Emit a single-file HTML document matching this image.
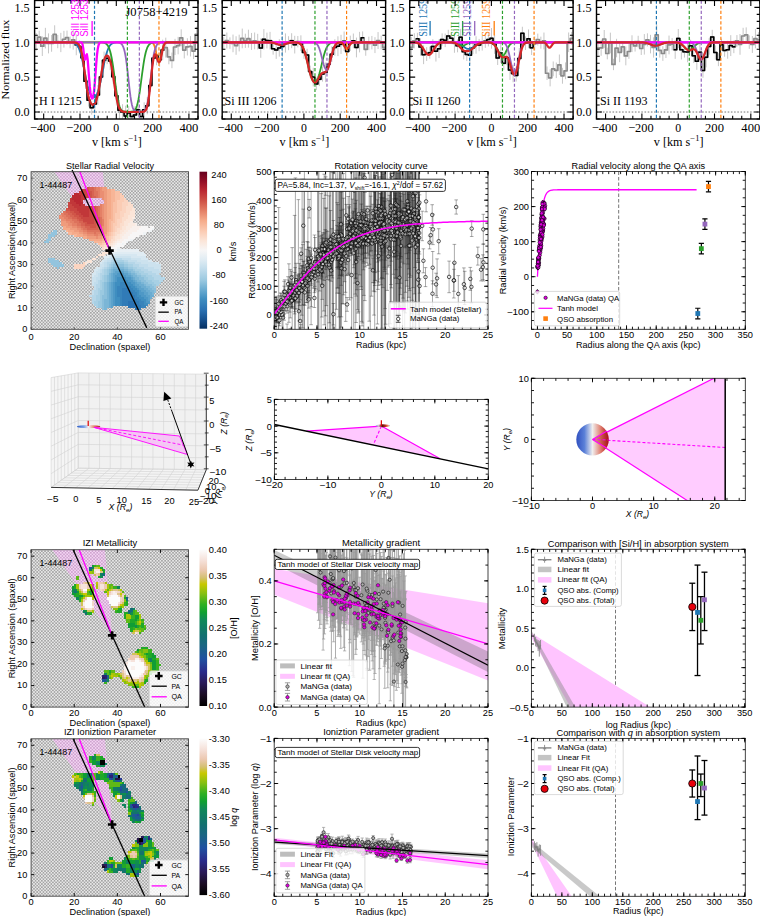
<!DOCTYPE html><html><head><meta charset="utf-8"><style>html,body{margin:0;padding:0;background:#fff;overflow:hidden;}svg{display:block;}</style></head><body>
<svg width="760" height="916" viewBox="0 0 760 916" font-family='"Liberation Sans", sans-serif'>
<rect width="760" height="916" fill="#fff"/>
<clipPath id="c1_1"><rect x="34.6" y="0.45" width="163.4" height="118.55"/></clipPath>
<g clip-path="url(#c1_1)">
<path d="M36.14 33.04V50.75M39.23 30.69V43.44M42.32 36.41V55.97M45.4 27.85V48.43M48.49 33.38V53.37M51.58 35.03V51.74M54.66 25.28V43.41M57.75 35.02V48.24M60.83 32.83V52.11M63.92 30.86V47.62M67.01 30.61V44.55M70.09 36.53V48.31M73.18 30.13V49.63M76.27 34.42V55.24M79.35 40.45V52.47M82.44 48.22V67.19M85.53 73.65V88.81M88.61 93.94V106.57M91.7 100.62V114.65M94.79 94.69V113.35M97.87 85.11V104.79M100.96 71.12V82.71M104.05 51.61V68.76M107.13 52.56V64.15M110.22 52.03V70.21M113.3 69.5V83.89M116.39 85.86V105.62M119.48 99.92V120.65M122.56 104.22V120.31M125.65 105.67V126.57M128.74 105.95V120.13M131.82 110.64V122.55M134.91 106.48V123.49M138 103.98V115.44M141.08 110.05V123.13M144.17 102.3V117.44M147.26 97.17V114.29M150.34 79.25V91.94M153.43 52.41V63.99M156.51 45.65V65.28M159.6 52.67V66.89M162.69 39.65V60.17M165.77 37.67V57.58M168.86 49.41V64.25M171.95 52.56V68.21M175.03 38.86V55.09M178.12 36.86V54.3M181.21 29.33V46.31M184.29 41.8V58.42M187.38 38.26V55.47M190.47 36.11V56.45M193.55 42.99V59.1M196.64 26.65V42.02" stroke="#b8b8b8" stroke-width="0.8" fill="none"/>
<path d="M34.6 41.89 L37.69 41.89 L37.69 37.06 L40.77 37.06 L40.77 46.19 L43.86 46.19 L43.86 38.14 L46.95 38.14 L46.95 43.38 L50.03 43.38 L50.03 43.39 L53.12 43.39 L53.12 34.34 L56.21 34.34 L56.21 41.63 L59.29 41.63 L59.29 42.47 L62.38 42.47 L62.38 39.24 L65.46 39.24 L65.46 37.58 L68.55 37.58 L68.55 42.42 L71.64 42.42 L71.64 39.88 L74.72 39.88 L74.72 44.83 L77.81 44.83 L77.81 46.46 L80.9 46.46 L80.9 57.7 L83.98 57.7 L83.98 81.23 L87.07 81.23 L87.07 100.26 L90.16 100.26 L90.16 107.63 L93.24 107.63 L93.24 104.02 L96.33 104.02 L96.33 94.95 L99.42 94.95 L99.42 76.92 L102.5 76.92 L102.5 60.18 L105.59 60.18 L105.59 58.36 L108.67 58.36 L108.67 61.12 L111.76 61.12 L111.76 76.69 L114.85 76.69 L114.85 95.74 L117.93 95.74 L117.93 110.28 L121.02 110.28 L121.02 112.27 L124.11 112.27 L124.11 116.12 L127.19 116.12 L127.19 113.04 L130.28 113.04 L130.28 116.6 L133.37 116.6 L133.37 114.98 L136.45 114.98 L136.45 109.71 L139.54 109.71 L139.54 116.59 L142.63 116.59 L142.63 109.87 L145.71 109.87 L145.71 105.73 L148.8 105.73 L148.8 85.59 L151.88 85.59 L151.88 58.2 L154.97 58.2 L154.97 55.46 L158.06 55.46 L158.06 59.78 L161.14 59.78 L161.14 49.91 L164.23 49.91 L164.23 47.63 L167.32 47.63 L167.32 56.83 L170.4 56.83 L170.4 60.39 L173.49 60.39 L173.49 46.98 L176.58 46.98 L176.58 45.58 L179.66 45.58 L179.66 37.82 L182.75 37.82 L182.75 50.11 L185.84 50.11 L185.84 46.87 L188.92 46.87 L188.92 46.28 L192.01 46.28 L192.01 51.05 L195.1 51.05 L195.1 34.33 L198.18 34.33" fill="none" stroke="#8a8a8a" stroke-width="1.7" stroke-linejoin="round" stroke-linejoin="miter"/>
<path d="M74.72 44.83 L77.81 44.83 L77.81 46.46 L80.9 46.46 L80.9 57.7 L83.98 57.7 L83.98 81.23 L87.07 81.23 L87.07 100.26 L90.16 100.26 L90.16 107.63 L93.24 107.63 L93.24 104.02 L96.33 104.02 L96.33 94.95 L99.42 94.95 L99.42 76.92 L102.5 76.92 L102.5 60.18 L105.59 60.18 L105.59 58.36 L108.67 58.36 L108.67 61.12 L111.76 61.12 L111.76 76.69 L114.85 76.69 L114.85 95.74 L117.93 95.74 L117.93 110.28 L121.02 110.28 L121.02 112.27 L124.11 112.27 L124.11 116.12 L127.19 116.12 L127.19 113.04 L130.28 113.04 L130.28 116.6 L133.37 116.6 L133.37 114.98 L136.45 114.98 L136.45 109.71 L139.54 109.71 L139.54 116.59 L142.63 116.59 L142.63 109.87 L145.71 109.87 L145.71 105.73 L148.8 105.73 L148.8 85.59 L151.88 85.59 L151.88 58.2 L154.97 58.2 L154.97 55.46 L158.06 55.46 L158.06 59.78 L161.14 59.78 L161.14 49.91 L164.23 49.91" fill="none" stroke="#000" stroke-width="1.5" stroke-linejoin="round" stroke-linejoin="miter"/>
<line x1="34.6" y1="112.03" x2="198" y2="112.03" stroke="#777" stroke-width="1" stroke-dasharray="1.6 1.6"/>
<path d="M34.6 42.29 L35.33 42.29 L36.05 42.29 L36.78 42.29 L37.5 42.29 L38.23 42.29 L38.96 42.29 L39.68 42.29 L40.41 42.29 L41.14 42.29 L41.86 42.29 L42.59 42.29 L43.31 42.29 L44.04 42.29 L44.77 42.29 L45.49 42.29 L46.22 42.29 L46.95 42.29 L47.67 42.29 L48.4 42.29 L49.12 42.29 L49.85 42.29 L50.58 42.29 L51.3 42.29 L52.03 42.29 L52.76 42.29 L53.48 42.29 L54.21 42.29 L54.93 42.29 L55.66 42.29 L56.39 42.29 L57.11 42.29 L57.84 42.29 L58.57 42.29 L59.29 42.29 L60.02 42.29 L60.74 42.29 L61.47 42.29 L62.2 42.29 L62.92 42.29 L63.65 42.29 L64.38 42.29 L65.1 42.29 L65.83 42.29 L66.55 42.29 L67.28 42.29 L68.01 42.29 L68.73 42.29 L69.46 42.29 L70.18 42.29 L70.91 42.29 L71.64 42.29 L72.36 42.29 L73.09 42.29 L73.82 42.29 L74.54 42.29 L75.27 42.29 L75.99 42.29 L76.72 42.29 L77.45 42.29 L78.17 42.29 L78.9 42.29 L79.63 42.29 L80.35 42.29 L81.08 42.29 L81.8 42.29 L82.53 42.29 L83.26 42.29 L83.98 42.29 L84.71 42.29 L85.44 42.29 L86.16 42.29 L86.89 42.29 L87.61 42.29 L88.34 42.29 L89.07 42.29 L89.79 42.29 L90.52 42.29 L91.25 42.29 L91.97 42.29 L92.7 42.29 L93.42 42.29 L94.15 42.29 L94.88 42.29 L95.6 42.29 L96.33 42.29 L97.06 42.29 L97.78 42.29 L98.51 42.29 L99.23 42.29 L99.96 42.29 L100.69 42.29 L101.41 42.29 L102.14 42.29 L102.86 42.29 L103.59 42.29 L104.32 42.29 L105.04 42.29 L105.77 42.29 L106.5 42.29 L107.22 42.29 L107.95 42.29 L108.67 42.29 L109.4 42.29 L110.13 42.29 L110.85 42.29 L111.58 42.29 L112.31 42.29 L113.03 42.29 L113.76 42.29 L114.48 42.29 L115.21 42.29 L115.94 42.29 L116.66 42.29 L117.39 42.29 L118.12 42.29 L118.84 42.29 L119.57 42.29 L120.29 42.29 L121.02 42.29 L121.75 42.29 L122.47 42.29 L123.2 42.29 L123.93 42.29 L124.65 42.29 L125.38 42.29 L126.1 42.29 L126.83 42.29 L127.56 42.29 L128.28 42.29 L129.01 42.29 L129.74 42.29 L130.46 42.29 L131.19 42.29 L131.91 42.29 L132.64 42.29 L133.37 42.29 L134.09 42.29 L134.82 42.29 L135.54 42.29 L136.27 42.29 L137 42.29 L137.72 42.29 L138.45 42.29 L139.18 42.29 L139.9 42.29 L140.63 42.29 L141.35 42.29 L142.08 42.29 L142.81 42.29 L143.53 42.29 L144.26 42.29 L144.99 42.29 L145.71 42.29 L146.44 42.29 L147.16 42.29 L147.89 42.29 L148.62 42.29 L149.34 42.3 L150.07 42.31 L150.8 42.35 L151.52 42.45 L152.25 42.69 L152.97 43.2 L153.7 44.18 L154.43 45.82 L155.15 48.26 L155.88 51.42 L156.61 54.94 L157.33 58.24 L158.06 60.7 L158.78 61.84 L159.51 61.46 L160.24 59.61 L160.96 56.66 L161.69 53.17 L162.42 49.77 L163.14 46.94 L163.87 44.9 L164.59 43.62 L165.32 42.9 L166.05 42.55 L166.77 42.39 L167.5 42.32 L168.22 42.3 L168.95 42.29 L169.68 42.29 L170.4 42.29 L171.13 42.29 L171.86 42.29 L172.58 42.29 L173.31 42.29 L174.03 42.29 L174.76 42.29 L175.49 42.29 L176.21 42.29 L176.94 42.29 L177.67 42.29 L178.39 42.29 L179.12 42.29 L179.84 42.29 L180.57 42.29 L181.3 42.29 L182.02 42.29 L182.75 42.29 L183.48 42.29 L184.2 42.29 L184.93 42.29 L185.65 42.29 L186.38 42.29 L187.11 42.29 L187.83 42.29 L188.56 42.29 L189.29 42.29 L190.01 42.29 L190.74 42.29 L191.46 42.29 L192.19 42.29 L192.92 42.29 L193.64 42.29 L194.37 42.29 L195.1 42.29 L195.82 42.29 L196.55 42.29 L197.27 42.29 L198 42.29" fill="none" stroke="#ff7f0e" stroke-width="1.8" stroke-linejoin="round"/>
<path d="M34.6 42.29 L35.33 42.29 L36.05 42.29 L36.78 42.29 L37.5 42.29 L38.23 42.29 L38.96 42.29 L39.68 42.29 L40.41 42.29 L41.14 42.29 L41.86 42.29 L42.59 42.29 L43.31 42.29 L44.04 42.29 L44.77 42.29 L45.49 42.29 L46.22 42.29 L46.95 42.29 L47.67 42.29 L48.4 42.29 L49.12 42.29 L49.85 42.29 L50.58 42.29 L51.3 42.29 L52.03 42.29 L52.76 42.29 L53.48 42.29 L54.21 42.29 L54.93 42.29 L55.66 42.29 L56.39 42.29 L57.11 42.29 L57.84 42.29 L58.57 42.29 L59.29 42.29 L60.02 42.29 L60.74 42.29 L61.47 42.29 L62.2 42.29 L62.92 42.29 L63.65 42.29 L64.38 42.29 L65.1 42.29 L65.83 42.3 L66.55 42.3 L67.28 42.3 L68.01 42.31 L68.73 42.32 L69.46 42.34 L70.18 42.37 L70.91 42.42 L71.64 42.48 L72.36 42.58 L73.09 42.72 L73.82 42.93 L74.54 43.21 L75.27 43.6 L75.99 44.13 L76.72 44.83 L77.45 45.74 L78.17 46.91 L78.9 48.38 L79.63 50.18 L80.35 52.34 L81.08 54.87 L81.8 57.76 L82.53 60.98 L83.26 64.46 L83.98 68.13 L84.71 71.88 L85.44 75.61 L86.16 79.22 L86.89 82.6 L87.61 85.7 L88.34 88.45 L89.07 90.82 L89.79 92.81 L90.52 94.42 L91.25 95.67 L91.97 96.56 L92.7 97.12 L93.42 97.36 L94.15 97.28 L94.88 96.89 L95.6 96.16 L96.33 95.09 L97.06 93.67 L97.78 91.87 L98.51 89.68 L99.23 87.12 L99.96 84.19 L100.69 80.94 L101.41 77.44 L102.14 73.76 L102.86 70 L103.59 66.28 L104.32 62.69 L105.04 59.34 L105.77 56.28 L106.5 53.56 L107.22 51.22 L107.95 49.24 L108.67 47.61 L109.4 46.29 L110.13 45.25 L110.85 44.45 L111.58 43.84 L112.31 43.39 L113.03 43.06 L113.76 42.82 L114.48 42.65 L115.21 42.53 L115.94 42.45 L116.66 42.39 L117.39 42.36 L118.12 42.33 L118.84 42.32 L119.57 42.31 L120.29 42.3 L121.02 42.3 L121.75 42.29 L122.47 42.29 L123.2 42.29 L123.93 42.29 L124.65 42.29 L125.38 42.29 L126.1 42.29 L126.83 42.29 L127.56 42.29 L128.28 42.29 L129.01 42.29 L129.74 42.29 L130.46 42.29 L131.19 42.29 L131.91 42.29 L132.64 42.29 L133.37 42.29 L134.09 42.29 L134.82 42.29 L135.54 42.29 L136.27 42.29 L137 42.29 L137.72 42.29 L138.45 42.29 L139.18 42.29 L139.9 42.29 L140.63 42.29 L141.35 42.29 L142.08 42.29 L142.81 42.29 L143.53 42.29 L144.26 42.29 L144.99 42.29 L145.71 42.29 L146.44 42.29 L147.16 42.29 L147.89 42.29 L148.62 42.29 L149.34 42.29 L150.07 42.29 L150.8 42.29 L151.52 42.29 L152.25 42.29 L152.97 42.29 L153.7 42.29 L154.43 42.29 L155.15 42.29 L155.88 42.29 L156.61 42.29 L157.33 42.29 L158.06 42.29 L158.78 42.29 L159.51 42.29 L160.24 42.29 L160.96 42.29 L161.69 42.29 L162.42 42.29 L163.14 42.29 L163.87 42.29 L164.59 42.29 L165.32 42.29 L166.05 42.29 L166.77 42.29 L167.5 42.29 L168.22 42.29 L168.95 42.29 L169.68 42.29 L170.4 42.29 L171.13 42.29 L171.86 42.29 L172.58 42.29 L173.31 42.29 L174.03 42.29 L174.76 42.29 L175.49 42.29 L176.21 42.29 L176.94 42.29 L177.67 42.29 L178.39 42.29 L179.12 42.29 L179.84 42.29 L180.57 42.29 L181.3 42.29 L182.02 42.29 L182.75 42.29 L183.48 42.29 L184.2 42.29 L184.93 42.29 L185.65 42.29 L186.38 42.29 L187.11 42.29 L187.83 42.29 L188.56 42.29 L189.29 42.29 L190.01 42.29 L190.74 42.29 L191.46 42.29 L192.19 42.29 L192.92 42.29 L193.64 42.29 L194.37 42.29 L195.1 42.29 L195.82 42.29 L196.55 42.29 L197.27 42.29 L198 42.29" fill="none" stroke="#1f77b4" stroke-width="1.8" stroke-linejoin="round"/>
<path d="M34.6 42.29 L35.33 42.29 L36.05 42.29 L36.78 42.29 L37.5 42.29 L38.23 42.29 L38.96 42.29 L39.68 42.29 L40.41 42.29 L41.14 42.29 L41.86 42.29 L42.59 42.29 L43.31 42.29 L44.04 42.29 L44.77 42.29 L45.49 42.29 L46.22 42.29 L46.95 42.29 L47.67 42.29 L48.4 42.29 L49.12 42.29 L49.85 42.29 L50.58 42.29 L51.3 42.29 L52.03 42.29 L52.76 42.29 L53.48 42.29 L54.21 42.29 L54.93 42.29 L55.66 42.29 L56.39 42.29 L57.11 42.29 L57.84 42.29 L58.57 42.29 L59.29 42.29 L60.02 42.29 L60.74 42.29 L61.47 42.29 L62.2 42.29 L62.92 42.29 L63.65 42.29 L64.38 42.29 L65.1 42.29 L65.83 42.29 L66.55 42.29 L67.28 42.29 L68.01 42.29 L68.73 42.29 L69.46 42.29 L70.18 42.29 L70.91 42.29 L71.64 42.29 L72.36 42.29 L73.09 42.29 L73.82 42.29 L74.54 42.29 L75.27 42.29 L75.99 42.29 L76.72 42.29 L77.45 42.29 L78.17 42.29 L78.9 42.29 L79.63 42.29 L80.35 42.29 L81.08 42.29 L81.8 42.29 L82.53 42.29 L83.26 42.29 L83.98 42.29 L84.71 42.29 L85.44 42.29 L86.16 42.29 L86.89 42.29 L87.61 42.29 L88.34 42.29 L89.07 42.29 L89.79 42.29 L90.52 42.29 L91.25 42.29 L91.97 42.29 L92.7 42.29 L93.42 42.29 L94.15 42.29 L94.88 42.29 L95.6 42.29 L96.33 42.29 L97.06 42.3 L97.78 42.3 L98.51 42.31 L99.23 42.32 L99.96 42.33 L100.69 42.35 L101.41 42.39 L102.14 42.45 L102.86 42.53 L103.59 42.66 L104.32 42.85 L105.04 43.12 L105.77 43.5 L106.5 44.04 L107.22 44.79 L107.95 45.81 L108.67 47.16 L109.4 48.94 L110.13 51.21 L110.85 54.04 L111.58 57.49 L112.31 61.57 L113.03 66.24 L113.76 71.39 L114.48 76.87 L115.21 82.46 L115.94 87.91 L116.66 92.98 L117.39 97.47 L118.12 101.25 L118.84 104.3 L119.57 106.63 L120.29 108.34 L121.02 109.55 L121.75 110.37 L122.47 110.92 L123.2 111.27 L123.93 111.5 L124.65 111.65 L125.38 111.74 L126.1 111.8 L126.83 111.83 L127.56 111.85 L128.28 111.85 L129.01 111.84 L129.74 111.82 L130.46 111.77 L131.19 111.7 L131.91 111.58 L132.64 111.4 L133.37 111.12 L134.09 110.67 L134.82 110 L135.54 109 L136.27 107.56 L137 105.55 L137.72 102.87 L138.45 99.45 L139.18 95.3 L139.9 90.5 L140.63 85.22 L141.35 79.67 L142.08 74.1 L142.81 68.76 L143.53 63.83 L144.26 59.45 L144.99 55.69 L145.71 52.55 L146.44 50 L147.16 47.99 L147.89 46.44 L148.62 45.26 L149.34 44.39 L150.07 43.75 L150.8 43.29 L151.52 42.97 L152.25 42.74 L152.97 42.59 L153.7 42.49 L154.43 42.42 L155.15 42.37 L155.88 42.34 L156.61 42.32 L157.33 42.31 L158.06 42.3 L158.78 42.3 L159.51 42.3 L160.24 42.29 L160.96 42.29 L161.69 42.29 L162.42 42.29 L163.14 42.29 L163.87 42.29 L164.59 42.29 L165.32 42.29 L166.05 42.29 L166.77 42.29 L167.5 42.29 L168.22 42.29 L168.95 42.29 L169.68 42.29 L170.4 42.29 L171.13 42.29 L171.86 42.29 L172.58 42.29 L173.31 42.29 L174.03 42.29 L174.76 42.29 L175.49 42.29 L176.21 42.29 L176.94 42.29 L177.67 42.29 L178.39 42.29 L179.12 42.29 L179.84 42.29 L180.57 42.29 L181.3 42.29 L182.02 42.29 L182.75 42.29 L183.48 42.29 L184.2 42.29 L184.93 42.29 L185.65 42.29 L186.38 42.29 L187.11 42.29 L187.83 42.29 L188.56 42.29 L189.29 42.29 L190.01 42.29 L190.74 42.29 L191.46 42.29 L192.19 42.29 L192.92 42.29 L193.64 42.29 L194.37 42.29 L195.1 42.29 L195.82 42.29 L196.55 42.29 L197.27 42.29 L198 42.29" fill="none" stroke="#2ca02c" stroke-width="1.8" stroke-linejoin="round"/>
<path d="M34.6 42.29 L35.33 42.29 L36.05 42.29 L36.78 42.29 L37.5 42.29 L38.23 42.29 L38.96 42.29 L39.68 42.29 L40.41 42.29 L41.14 42.29 L41.86 42.29 L42.59 42.29 L43.31 42.29 L44.04 42.29 L44.77 42.29 L45.49 42.29 L46.22 42.29 L46.95 42.29 L47.67 42.29 L48.4 42.29 L49.12 42.29 L49.85 42.29 L50.58 42.29 L51.3 42.29 L52.03 42.29 L52.76 42.29 L53.48 42.29 L54.21 42.29 L54.93 42.29 L55.66 42.29 L56.39 42.29 L57.11 42.29 L57.84 42.29 L58.57 42.29 L59.29 42.29 L60.02 42.29 L60.74 42.29 L61.47 42.29 L62.2 42.29 L62.92 42.29 L63.65 42.29 L64.38 42.29 L65.1 42.29 L65.83 42.29 L66.55 42.29 L67.28 42.29 L68.01 42.29 L68.73 42.29 L69.46 42.29 L70.18 42.29 L70.91 42.29 L71.64 42.29 L72.36 42.29 L73.09 42.29 L73.82 42.29 L74.54 42.29 L75.27 42.29 L75.99 42.29 L76.72 42.29 L77.45 42.29 L78.17 42.29 L78.9 42.29 L79.63 42.29 L80.35 42.29 L81.08 42.29 L81.8 42.29 L82.53 42.29 L83.26 42.29 L83.98 42.29 L84.71 42.29 L85.44 42.29 L86.16 42.29 L86.89 42.29 L87.61 42.29 L88.34 42.29 L89.07 42.29 L89.79 42.29 L90.52 42.29 L91.25 42.29 L91.97 42.29 L92.7 42.29 L93.42 42.29 L94.15 42.29 L94.88 42.29 L95.6 42.29 L96.33 42.29 L97.06 42.29 L97.78 42.29 L98.51 42.29 L99.23 42.29 L99.96 42.29 L100.69 42.29 L101.41 42.29 L102.14 42.29 L102.86 42.29 L103.59 42.29 L104.32 42.29 L105.04 42.29 L105.77 42.29 L106.5 42.29 L107.22 42.29 L107.95 42.29 L108.67 42.29 L109.4 42.29 L110.13 42.29 L110.85 42.29 L111.58 42.29 L112.31 42.29 L113.03 42.29 L113.76 42.3 L114.48 42.3 L115.21 42.31 L115.94 42.33 L116.66 42.35 L117.39 42.4 L118.12 42.47 L118.84 42.6 L119.57 42.79 L120.29 43.1 L121.02 43.57 L121.75 44.28 L122.47 45.31 L123.2 46.79 L123.93 48.84 L124.65 51.59 L125.38 55.18 L126.1 59.66 L126.83 65.02 L127.56 71.12 L128.28 77.71 L129.01 84.4 L129.74 90.76 L130.46 96.41 L131.19 101.08 L131.91 104.69 L132.64 107.29 L133.37 109.06 L134.09 110.19 L134.82 110.9 L135.54 111.32 L136.27 111.56 L137 111.71 L137.72 111.79 L138.45 111.83 L139.18 111.85 L139.9 111.85 L140.63 111.83 L141.35 111.79 L142.08 111.71 L142.81 111.56 L143.53 111.32 L144.26 110.9 L144.99 110.19 L145.71 109.06 L146.44 107.29 L147.16 104.69 L147.89 101.08 L148.62 96.41 L149.34 90.76 L150.07 84.4 L150.8 77.71 L151.52 71.12 L152.25 65.02 L152.97 59.66 L153.7 55.18 L154.43 51.59 L155.15 48.84 L155.88 46.79 L156.61 45.31 L157.33 44.28 L158.06 43.57 L158.78 43.1 L159.51 42.79 L160.24 42.6 L160.96 42.47 L161.69 42.4 L162.42 42.35 L163.14 42.33 L163.87 42.31 L164.59 42.3 L165.32 42.3 L166.05 42.29 L166.77 42.29 L167.5 42.29 L168.22 42.29 L168.95 42.29 L169.68 42.29 L170.4 42.29 L171.13 42.29 L171.86 42.29 L172.58 42.29 L173.31 42.29 L174.03 42.29 L174.76 42.29 L175.49 42.29 L176.21 42.29 L176.94 42.29 L177.67 42.29 L178.39 42.29 L179.12 42.29 L179.84 42.29 L180.57 42.29 L181.3 42.29 L182.02 42.29 L182.75 42.29 L183.48 42.29 L184.2 42.29 L184.93 42.29 L185.65 42.29 L186.38 42.29 L187.11 42.29 L187.83 42.29 L188.56 42.29 L189.29 42.29 L190.01 42.29 L190.74 42.29 L191.46 42.29 L192.19 42.29 L192.92 42.29 L193.64 42.29 L194.37 42.29 L195.1 42.29 L195.82 42.29 L196.55 42.29 L197.27 42.29 L198 42.29" fill="none" stroke="#9467bd" stroke-width="1.8" stroke-linejoin="round"/>
<path d="M34.6 42.29 L35.33 42.29 L36.05 42.29 L36.78 42.29 L37.5 42.29 L38.23 42.29 L38.96 42.29 L39.68 42.29 L40.41 42.29 L41.14 42.29 L41.86 42.29 L42.59 42.29 L43.31 42.29 L44.04 42.29 L44.77 42.29 L45.49 42.29 L46.22 42.29 L46.95 42.29 L47.67 42.29 L48.4 42.29 L49.12 42.29 L49.85 42.29 L50.58 42.29 L51.3 42.29 L52.03 42.29 L52.76 42.29 L53.48 42.29 L54.21 42.29 L54.93 42.29 L55.66 42.29 L56.39 42.29 L57.11 42.29 L57.84 42.29 L58.57 42.29 L59.29 42.29 L60.02 42.29 L60.74 42.29 L61.47 42.29 L62.2 42.29 L62.92 42.29 L63.65 42.29 L64.38 42.29 L65.1 42.29 L65.83 42.29 L66.55 42.29 L67.28 42.29 L68.01 42.29 L68.73 42.29 L69.46 42.29 L70.18 42.29 L70.91 42.29 L71.64 42.29 L72.36 42.29 L73.09 42.29 L73.82 42.29 L74.54 42.29 L75.27 42.29 L75.99 42.29 L76.72 42.29 L77.45 42.29 L78.17 42.29 L78.9 42.29 L79.63 42.29 L80.35 42.29 L81.08 42.34 L81.8 42.65 L82.53 44.16 L83.26 48.44 L83.98 55.05 L84.71 59.72 L85.44 59.1 L86.16 55.36 L86.89 54.31 L87.61 58.9 L88.34 67.54 L89.07 77.46 L89.79 86.39 L90.52 92.99 L91.25 96.96 L91.97 98.57 L92.7 98.04 L93.42 95.29 L94.15 90.02 L94.88 82.16 L95.6 72.47 L96.33 62.64 L97.06 54.41 L97.78 48.68 L98.51 45.29 L99.23 43.56 L99.96 42.77 L100.69 42.46 L101.41 42.34 L102.14 42.31 L102.86 42.3 L103.59 42.29 L104.32 42.29 L105.04 42.29 L105.77 42.29 L106.5 42.29 L107.22 42.29 L107.95 42.29 L108.67 42.29 L109.4 42.29 L110.13 42.29 L110.85 42.29 L111.58 42.29 L112.31 42.29 L113.03 42.29 L113.76 42.29 L114.48 42.29 L115.21 42.29 L115.94 42.29 L116.66 42.29 L117.39 42.29 L118.12 42.29 L118.84 42.29 L119.57 42.29 L120.29 42.29 L121.02 42.29 L121.75 42.29 L122.47 42.29 L123.2 42.29 L123.93 42.29 L124.65 42.29 L125.38 42.29 L126.1 42.29 L126.83 42.29 L127.56 42.29 L128.28 42.29 L129.01 42.29 L129.74 42.29 L130.46 42.29 L131.19 42.29 L131.91 42.29 L132.64 42.29 L133.37 42.29 L134.09 42.29 L134.82 42.29 L135.54 42.29 L136.27 42.29 L137 42.29 L137.72 42.29 L138.45 42.29 L139.18 42.29 L139.9 42.29 L140.63 42.29 L141.35 42.29 L142.08 42.29 L142.81 42.29 L143.53 42.29 L144.26 42.29 L144.99 42.29 L145.71 42.29 L146.44 42.29 L147.16 42.29 L147.89 42.29 L148.62 42.29 L149.34 42.29 L150.07 42.29 L150.8 42.29 L151.52 42.29 L152.25 42.29 L152.97 42.29 L153.7 42.29 L154.43 42.29 L155.15 42.29 L155.88 42.29 L156.61 42.29 L157.33 42.29 L158.06 42.29 L158.78 42.29 L159.51 42.29 L160.24 42.29 L160.96 42.29 L161.69 42.29 L162.42 42.29 L163.14 42.29 L163.87 42.29 L164.59 42.29 L165.32 42.29 L166.05 42.29 L166.77 42.29 L167.5 42.29 L168.22 42.29 L168.95 42.29 L169.68 42.29 L170.4 42.29 L171.13 42.29 L171.86 42.29 L172.58 42.29 L173.31 42.29 L174.03 42.29 L174.76 42.29 L175.49 42.29 L176.21 42.29 L176.94 42.29 L177.67 42.29 L178.39 42.29 L179.12 42.29 L179.84 42.29 L180.57 42.29 L181.3 42.29 L182.02 42.29 L182.75 42.29 L183.48 42.29 L184.2 42.29 L184.93 42.29 L185.65 42.29 L186.38 42.29 L187.11 42.29 L187.83 42.29 L188.56 42.29 L189.29 42.29 L190.01 42.29 L190.74 42.29 L191.46 42.29 L192.19 42.29 L192.92 42.29 L193.64 42.29 L194.37 42.29 L195.1 42.29 L195.82 42.29 L196.55 42.29 L197.27 42.29 L198 42.29" fill="none" stroke="#ff00ff" stroke-width="2.3" stroke-linejoin="round"/>
<path d="M34.6 42.29 L35.33 42.29 L36.05 42.29 L36.78 42.29 L37.5 42.29 L38.23 42.29 L38.96 42.29 L39.68 42.29 L40.41 42.29 L41.14 42.29 L41.86 42.29 L42.59 42.29 L43.31 42.29 L44.04 42.29 L44.77 42.29 L45.49 42.29 L46.22 42.29 L46.95 42.29 L47.67 42.29 L48.4 42.29 L49.12 42.29 L49.85 42.29 L50.58 42.29 L51.3 42.29 L52.03 42.29 L52.76 42.29 L53.48 42.29 L54.21 42.29 L54.93 42.29 L55.66 42.29 L56.39 42.29 L57.11 42.29 L57.84 42.29 L58.57 42.29 L59.29 42.29 L60.02 42.29 L60.74 42.29 L61.47 42.29 L62.2 42.29 L62.92 42.29 L63.65 42.29 L64.38 42.29 L65.1 42.29 L65.83 42.29 L66.55 42.29 L67.28 42.29 L68.01 42.29 L68.73 42.29 L69.46 42.29 L70.18 42.29 L70.91 42.3 L71.64 42.3 L72.36 42.32 L73.09 42.34 L73.82 42.37 L74.54 42.43 L75.27 42.54 L75.99 42.71 L76.72 42.97 L77.45 43.39 L78.17 44.01 L78.9 44.93 L79.63 46.23 L80.35 48.03 L81.08 50.43 L81.8 53.51 L82.53 57.3 L83.26 61.78 L83.98 66.82 L84.71 72.24 L85.44 77.76 L86.16 83.1 L86.89 88.02 L87.61 92.33 L88.34 95.94 L89.07 98.82 L89.79 101.03 L90.52 102.65 L91.25 103.76 L91.97 104.43 L92.7 104.72 L93.42 104.65 L94.15 104.22 L94.88 103.4 L95.6 102.13 L96.33 100.34 L97.06 97.98 L97.78 95 L98.51 91.41 L99.23 87.26 L99.96 82.73 L100.69 78.01 L101.41 73.37 L102.14 69.03 L102.86 65.2 L103.59 61.99 L104.32 59.46 L105.04 57.59 L105.77 56.35 L106.5 55.69 L107.22 55.58 L107.95 56 L108.67 56.96 L109.4 58.49 L110.13 60.64 L110.85 63.43 L111.58 66.85 L112.31 70.88 L113.03 75.4 L113.76 80.26 L114.48 85.25 L115.21 90.14 L115.94 94.7 L116.66 98.76 L117.39 102.2 L118.12 104.97 L118.84 107.11 L119.57 108.68 L120.29 109.8 L121.02 110.56 L121.75 111.07 L122.47 111.4 L123.2 111.61 L123.93 111.75 L124.65 111.83 L125.38 111.89 L126.1 111.93 L126.83 111.95 L127.56 111.97 L128.28 111.98 L129.01 111.99 L129.74 111.99 L130.46 112 L131.19 112 L131.91 112 L132.64 112.01 L133.37 112.01 L134.09 112.01 L134.82 112.01 L135.54 112.01 L136.27 112.01 L137 112.01 L137.72 112.01 L138.45 112.01 L139.18 112.01 L139.9 112 L140.63 111.99 L141.35 111.97 L142.08 111.94 L142.81 111.87 L143.53 111.74 L144.26 111.5 L144.99 111.05 L145.71 110.25 L146.44 108.9 L147.16 106.76 L147.89 103.59 L148.62 99.27 L149.34 93.83 L150.07 87.48 L150.8 80.62 L151.52 73.76 L152.25 67.39 L152.97 61.93 L153.7 57.77 L154.43 55.17 L155.15 54.28 L155.88 54.97 L156.61 56.84 L157.33 59.2 L158.06 61.25 L158.78 62.35 L159.51 62.1 L160.24 60.44 L160.96 57.63 L161.69 54.16 L162.42 50.64 L163.14 47.61 L163.87 45.36 L164.59 43.89 L165.32 43.05 L166.05 42.61 L166.77 42.42 L167.5 42.34 L168.22 42.31 L168.95 42.3 L169.68 42.29 L170.4 42.29 L171.13 42.29 L171.86 42.29 L172.58 42.29 L173.31 42.29 L174.03 42.29 L174.76 42.29 L175.49 42.29 L176.21 42.29 L176.94 42.29 L177.67 42.29 L178.39 42.29 L179.12 42.29 L179.84 42.29 L180.57 42.29 L181.3 42.29 L182.02 42.29 L182.75 42.29 L183.48 42.29 L184.2 42.29 L184.93 42.29 L185.65 42.29 L186.38 42.29 L187.11 42.29 L187.83 42.29 L188.56 42.29 L189.29 42.29 L190.01 42.29 L190.74 42.29 L191.46 42.29 L192.19 42.29 L192.92 42.29 L193.64 42.29 L194.37 42.29 L195.1 42.29 L195.82 42.29 L196.55 42.29 L197.27 42.29 L198 42.29" fill="none" stroke="#d62728" stroke-width="2.2" stroke-linejoin="round"/>
<line x1="94.51" y1="0.45" x2="94.51" y2="119" stroke="#1f77b4" stroke-width="1.2" stroke-dasharray="3.2 2"/>
<line x1="127.37" y1="0.45" x2="127.37" y2="119" stroke="#2ca02c" stroke-width="1.2" stroke-dasharray="3.2 2"/>
<line x1="139.36" y1="0.45" x2="139.36" y2="119" stroke="#9467bd" stroke-width="1.2" stroke-dasharray="3.2 2"/>
<line x1="158.97" y1="0.45" x2="158.97" y2="119" stroke="#ff7f0e" stroke-width="1.2" stroke-dasharray="3.2 2"/>
</g>
<rect x="34.6" y="0.45" width="163.4" height="118.55" fill="none" stroke="#000" stroke-width="1.4"/>
<path d="M43.68 119v-5.5M43.68 0.45v5.5M79.99 119v-5.5M79.99 0.45v5.5M116.3 119v-5.5M116.3 0.45v5.5M152.61 119v-5.5M152.61 0.45v5.5M188.92 119v-5.5M188.92 0.45v5.5M34.6 119v-3.2M34.6 0.45v3.2M43.68 119v-3.2M43.68 0.45v3.2M52.76 119v-3.2M52.76 0.45v3.2M61.83 119v-3.2M61.83 0.45v3.2M70.91 119v-3.2M70.91 0.45v3.2M79.99 119v-3.2M79.99 0.45v3.2M89.07 119v-3.2M89.07 0.45v3.2M98.14 119v-3.2M98.14 0.45v3.2M107.22 119v-3.2M107.22 0.45v3.2M116.3 119v-3.2M116.3 0.45v3.2M125.38 119v-3.2M125.38 0.45v3.2M134.46 119v-3.2M134.46 0.45v3.2M143.53 119v-3.2M143.53 0.45v3.2M152.61 119v-3.2M152.61 0.45v3.2M161.69 119v-3.2M161.69 0.45v3.2M170.77 119v-3.2M170.77 0.45v3.2M179.84 119v-3.2M179.84 0.45v3.2M188.92 119v-3.2M188.92 0.45v3.2M198 119v-3.2M198 0.45v3.2M34.6 112.03h5.5M198 112.03h-5.5M34.6 77.16h5.5M198 77.16h-5.5M34.6 42.29h5.5M198 42.29h-5.5M34.6 7.42h5.5M198 7.42h-5.5M34.6 119h3.2M198 119h-3.2M34.6 112.03h3.2M198 112.03h-3.2M34.6 105.05h3.2M198 105.05h-3.2M34.6 98.08h3.2M198 98.08h-3.2M34.6 91.11h3.2M198 91.11h-3.2M34.6 84.13h3.2M198 84.13h-3.2M34.6 77.16h3.2M198 77.16h-3.2M34.6 70.19h3.2M198 70.19h-3.2M34.6 63.21h3.2M198 63.21h-3.2M34.6 56.24h3.2M198 56.24h-3.2M34.6 49.26h3.2M198 49.26h-3.2M34.6 42.29h3.2M198 42.29h-3.2M34.6 35.32h3.2M198 35.32h-3.2M34.6 28.34h3.2M198 28.34h-3.2M34.6 21.37h3.2M198 21.37h-3.2M34.6 14.4h3.2M198 14.4h-3.2M34.6 7.42h3.2M198 7.42h-3.2M34.6 0.45h3.2M198 0.45h-3.2" stroke="#000" stroke-width="1.1" fill="none"/>
<text x="42.68" y="131.6" font-size="12.6" font-family='"Liberation Serif", serif' textLength="25.5" lengthAdjust="spacingAndGlyphs" text-anchor="middle">−400</text>
<text x="78.99" y="131.6" font-size="12.6" font-family='"Liberation Serif", serif' textLength="25.5" lengthAdjust="spacingAndGlyphs" text-anchor="middle">−200</text>
<text x="116.3" y="131.6" font-size="12.6" font-family='"Liberation Serif", serif' textLength="5.9" lengthAdjust="spacingAndGlyphs" text-anchor="middle">0</text>
<text x="152.61" y="131.6" font-size="12.6" font-family='"Liberation Serif", serif' textLength="18.9" lengthAdjust="spacingAndGlyphs" text-anchor="middle">200</text>
<text x="188.92" y="131.6" font-size="12.6" font-family='"Liberation Serif", serif' textLength="18.9" lengthAdjust="spacingAndGlyphs" text-anchor="middle">400</text>
<text x="39" y="105.2" font-size="12" font-family='"Liberation Serif", serif'>H I 1215</text>
<text x="116.8" y="146.2" font-size="12.2" font-family='"Liberation Serif", serif' text-anchor="middle">v [km s<tspan dy="-5" font-size="8.6">−1</tspan><tspan dy="5">]</tspan></text>
<text x="125.5" y="15.6" font-size="12.2" font-family='"Liberation Serif", serif' textLength="62" lengthAdjust="spacingAndGlyphs">J0758+4219</text>
<text x="79.5" y="36.8" font-size="10.4" transform="rotate(-90 79.5 36.8)" textLength="38" lengthAdjust="spacingAndGlyphs" fill="#ff00ff">SiII 1253</text>
<text x="88.2" y="36.8" font-size="10.4" transform="rotate(-90 88.2 36.8)" textLength="38" lengthAdjust="spacingAndGlyphs" fill="#ff00ff">SiII 1253</text>
<line x1="92.1" y1="21" x2="92.1" y2="36" stroke="#ff00ff" stroke-width="1.3"/>
<clipPath id="c1_2"><rect x="222.2" y="0.45" width="163.4" height="118.55"/></clipPath>
<g clip-path="url(#c1_2)">
<path d="M223.74 36.86V49.5M226.83 32.54V48.47M229.92 37.31V48.85M233 34.55V52.23M236.09 36.22V54.84M239.18 34.66V51.41M242.26 28.56V48.27M245.35 33.7V47.92M248.43 29.7V47.65M251.52 32.94V49.9M254.61 32.51V49.32M257.69 33.84V49.45M260.78 38.42V57.78M263.87 29.12V49.5M266.95 32.65V48.44M270.04 31.87V49.51M273.13 42.88V54.63M276.21 40.88V58.88M279.3 39.16V56.64M282.39 36.14V57M285.47 33.41V52.59M288.56 36.23V50.17M291.64 33.22V48.14M294.73 35.79V53.47M297.82 35.99V47.37M300.9 35.34V51.01M303.99 46.02V58.81M307.08 48.82V61.12M310.16 65.65V77.39M313.25 67.76V86.41M316.34 77.67V90.09M319.42 72.56V86.14M322.51 66.63V81.6M325.6 62.53V82.2M328.68 58.28V70.22M331.77 46.35V61.9M334.86 39.25V55.78M337.94 36.3V56.08M341.03 34.8V53.95M344.11 31.52V51.11M347.2 44.67V58.55M350.29 35.67V50.88M353.37 33.54V48.2M356.46 37.59V57.38M359.55 31.87V52.38M362.63 31.42V44.05M365.72 42.88V55.75M368.81 36.7V50.12M371.89 35.94V49.38M374.98 37.19V53.09M378.07 32.1V49.01M381.15 35.65V49.37M384.24 41.8V53" stroke="#b8b8b8" stroke-width="0.8" fill="none"/>
<path d="M222.2 43.18 L225.29 43.18 L225.29 40.51 L228.37 40.51 L228.37 43.08 L231.46 43.08 L231.46 43.39 L234.55 43.39 L234.55 45.53 L237.63 45.53 L237.63 43.03 L240.72 43.03 L240.72 38.41 L243.81 38.41 L243.81 40.81 L246.89 40.81 L246.89 38.68 L249.98 38.68 L249.98 41.42 L253.06 41.42 L253.06 40.91 L256.15 40.91 L256.15 41.64 L259.24 41.64 L259.24 48.1 L262.32 48.1 L262.32 39.31 L265.41 39.31 L265.41 40.55 L268.5 40.55 L268.5 40.69 L271.58 40.69 L271.58 48.76 L274.67 48.76 L274.67 49.88 L277.76 49.88 L277.76 47.9 L280.84 47.9 L280.84 46.57 L283.93 46.57 L283.93 43 L287.02 43 L287.02 43.2 L290.1 43.2 L290.1 40.68 L293.19 40.68 L293.19 44.63 L296.27 44.63 L296.27 41.68 L299.36 41.68 L299.36 43.18 L302.45 43.18 L302.45 52.42 L305.53 52.42 L305.53 54.97 L308.62 54.97 L308.62 71.52 L311.71 71.52 L311.71 77.09 L314.79 77.09 L314.79 83.88 L317.88 83.88 L317.88 79.35 L320.97 79.35 L320.97 74.12 L324.05 74.12 L324.05 72.37 L327.14 72.37 L327.14 64.25 L330.23 64.25 L330.23 54.13 L333.31 54.13 L333.31 47.52 L336.4 47.52 L336.4 46.19 L339.48 46.19 L339.48 44.37 L342.57 44.37 L342.57 41.32 L345.66 41.32 L345.66 51.61 L348.74 51.61 L348.74 43.28 L351.83 43.28 L351.83 40.87 L354.92 40.87 L354.92 47.49 L358 47.49 L358 42.12 L361.09 42.12 L361.09 37.74 L364.18 37.74 L364.18 49.31 L367.26 49.31 L367.26 43.41 L370.35 43.41 L370.35 42.66 L373.44 42.66 L373.44 45.14 L376.52 45.14 L376.52 40.56 L379.61 40.56 L379.61 42.51 L382.7 42.51 L382.7 47.4 L385.78 47.4" fill="none" stroke="#8a8a8a" stroke-width="1.7" stroke-linejoin="round" stroke-linejoin="miter"/>
<path d="M256.15 41.64 L259.24 41.64 L259.24 48.1 L262.32 48.1 L262.32 39.31 L265.41 39.31 L265.41 40.55 L268.5 40.55 L268.5 40.69 L271.58 40.69 L271.58 48.76 L274.67 48.76 L274.67 49.88 L277.76 49.88 L277.76 47.9 L280.84 47.9 L280.84 46.57 L283.93 46.57 L283.93 43 L287.02 43 L287.02 43.2 L290.1 43.2 L290.1 40.68 L293.19 40.68 L293.19 44.63 L296.27 44.63 L296.27 41.68 L299.36 41.68 L299.36 43.18 L302.45 43.18 L302.45 52.42 L305.53 52.42 L305.53 54.97 L308.62 54.97 L308.62 71.52 L311.71 71.52 L311.71 77.09 L314.79 77.09 L314.79 83.88 L317.88 83.88 L317.88 79.35 L320.97 79.35 L320.97 74.12 L324.05 74.12 L324.05 72.37 L327.14 72.37 L327.14 64.25 L330.23 64.25 L330.23 54.13 L333.31 54.13 L333.31 47.52 L336.4 47.52 L336.4 46.19 L339.48 46.19 L339.48 44.37 L342.57 44.37 L342.57 41.32 L345.66 41.32 L345.66 51.61 L348.74 51.61 L348.74 43.28 L351.83 43.28 L351.83 40.87 L354.92 40.87 L354.92 47.49 L358 47.49 L358 42.12 L361.09 42.12 L361.09 37.74 L364.18 37.74" fill="none" stroke="#000" stroke-width="1.5" stroke-linejoin="round" stroke-linejoin="miter"/>
<line x1="222.2" y1="112.03" x2="385.6" y2="112.03" stroke="#777" stroke-width="1" stroke-dasharray="1.6 1.6"/>
<path d="M222.2 42.29 L222.93 42.29 L223.65 42.29 L224.38 42.29 L225.1 42.29 L225.83 42.29 L226.56 42.29 L227.28 42.29 L228.01 42.29 L228.74 42.29 L229.46 42.29 L230.19 42.29 L230.91 42.29 L231.64 42.29 L232.37 42.29 L233.09 42.29 L233.82 42.29 L234.55 42.29 L235.27 42.29 L236 42.29 L236.72 42.29 L237.45 42.29 L238.18 42.29 L238.9 42.29 L239.63 42.29 L240.36 42.29 L241.08 42.29 L241.81 42.29 L242.53 42.29 L243.26 42.29 L243.99 42.29 L244.71 42.29 L245.44 42.29 L246.17 42.29 L246.89 42.29 L247.62 42.29 L248.34 42.29 L249.07 42.29 L249.8 42.29 L250.52 42.29 L251.25 42.29 L251.98 42.29 L252.7 42.29 L253.43 42.29 L254.15 42.29 L254.88 42.29 L255.61 42.29 L256.33 42.29 L257.06 42.29 L257.78 42.29 L258.51 42.29 L259.24 42.29 L259.96 42.29 L260.69 42.29 L261.42 42.29 L262.14 42.29 L262.87 42.29 L263.59 42.29 L264.32 42.29 L265.05 42.3 L265.77 42.3 L266.5 42.31 L267.23 42.32 L267.95 42.33 L268.68 42.35 L269.4 42.39 L270.13 42.43 L270.86 42.5 L271.58 42.59 L272.31 42.7 L273.04 42.84 L273.76 43.01 L274.49 43.22 L275.21 43.45 L275.94 43.7 L276.67 43.96 L277.39 44.22 L278.12 44.47 L278.85 44.69 L279.57 44.86 L280.3 44.97 L281.02 45.02 L281.75 45.01 L282.48 44.92 L283.2 44.78 L283.93 44.58 L284.66 44.35 L285.38 44.09 L286.11 43.83 L286.83 43.57 L287.56 43.33 L288.29 43.11 L289.01 42.92 L289.74 42.77 L290.46 42.64 L291.19 42.54 L291.92 42.46 L292.64 42.41 L293.37 42.37 L294.1 42.34 L294.82 42.32 L295.55 42.31 L296.27 42.3 L297 42.3 L297.73 42.29 L298.45 42.29 L299.18 42.29 L299.91 42.29 L300.63 42.29 L301.36 42.29 L302.08 42.29 L302.81 42.29 L303.54 42.29 L304.26 42.29 L304.99 42.29 L305.72 42.29 L306.44 42.29 L307.17 42.29 L307.89 42.29 L308.62 42.29 L309.35 42.29 L310.07 42.29 L310.8 42.29 L311.53 42.29 L312.25 42.29 L312.98 42.29 L313.7 42.29 L314.43 42.29 L315.16 42.29 L315.88 42.29 L316.61 42.29 L317.34 42.29 L318.06 42.29 L318.79 42.29 L319.51 42.29 L320.24 42.29 L320.97 42.29 L321.69 42.29 L322.42 42.29 L323.14 42.29 L323.87 42.29 L324.6 42.29 L325.32 42.29 L326.05 42.29 L326.78 42.29 L327.5 42.29 L328.23 42.29 L328.95 42.29 L329.68 42.29 L330.41 42.29 L331.13 42.29 L331.86 42.29 L332.59 42.29 L333.31 42.29 L334.04 42.29 L334.76 42.29 L335.49 42.29 L336.22 42.29 L336.94 42.29 L337.67 42.29 L338.4 42.29 L339.12 42.29 L339.85 42.29 L340.57 42.29 L341.3 42.29 L342.03 42.29 L342.75 42.29 L343.48 42.29 L344.21 42.29 L344.93 42.29 L345.66 42.29 L346.38 42.29 L347.11 42.29 L347.84 42.29 L348.56 42.29 L349.29 42.29 L350.02 42.29 L350.74 42.29 L351.47 42.29 L352.19 42.29 L352.92 42.29 L353.65 42.29 L354.37 42.29 L355.1 42.29 L355.82 42.29 L356.55 42.29 L357.28 42.29 L358 42.29 L358.73 42.29 L359.46 42.29 L360.18 42.29 L360.91 42.29 L361.63 42.29 L362.36 42.29 L363.09 42.29 L363.81 42.29 L364.54 42.29 L365.27 42.29 L365.99 42.29 L366.72 42.29 L367.44 42.29 L368.17 42.29 L368.9 42.29 L369.62 42.29 L370.35 42.29 L371.08 42.29 L371.8 42.29 L372.53 42.29 L373.25 42.29 L373.98 42.29 L374.71 42.29 L375.43 42.29 L376.16 42.29 L376.89 42.29 L377.61 42.29 L378.34 42.29 L379.06 42.29 L379.79 42.29 L380.52 42.29 L381.24 42.29 L381.97 42.29 L382.7 42.29 L383.42 42.29 L384.15 42.29 L384.87 42.29 L385.6 42.29" fill="none" stroke="#1f77b4" stroke-width="1.8" stroke-linejoin="round"/>
<path d="M222.2 42.29 L222.93 42.29 L223.65 42.29 L224.38 42.29 L225.1 42.29 L225.83 42.29 L226.56 42.29 L227.28 42.29 L228.01 42.29 L228.74 42.29 L229.46 42.29 L230.19 42.29 L230.91 42.29 L231.64 42.29 L232.37 42.29 L233.09 42.29 L233.82 42.29 L234.55 42.29 L235.27 42.29 L236 42.29 L236.72 42.29 L237.45 42.29 L238.18 42.29 L238.9 42.29 L239.63 42.29 L240.36 42.29 L241.08 42.29 L241.81 42.29 L242.53 42.29 L243.26 42.29 L243.99 42.29 L244.71 42.29 L245.44 42.29 L246.17 42.29 L246.89 42.29 L247.62 42.29 L248.34 42.29 L249.07 42.29 L249.8 42.29 L250.52 42.29 L251.25 42.29 L251.98 42.29 L252.7 42.29 L253.43 42.29 L254.15 42.29 L254.88 42.29 L255.61 42.29 L256.33 42.29 L257.06 42.29 L257.78 42.29 L258.51 42.29 L259.24 42.29 L259.96 42.29 L260.69 42.29 L261.42 42.29 L262.14 42.29 L262.87 42.29 L263.59 42.29 L264.32 42.29 L265.05 42.29 L265.77 42.29 L266.5 42.29 L267.23 42.29 L267.95 42.29 L268.68 42.29 L269.4 42.29 L270.13 42.29 L270.86 42.29 L271.58 42.29 L272.31 42.29 L273.04 42.29 L273.76 42.29 L274.49 42.29 L275.21 42.29 L275.94 42.29 L276.67 42.29 L277.39 42.29 L278.12 42.29 L278.85 42.29 L279.57 42.29 L280.3 42.29 L281.02 42.29 L281.75 42.29 L282.48 42.29 L283.2 42.29 L283.93 42.29 L284.66 42.29 L285.38 42.29 L286.11 42.29 L286.83 42.29 L287.56 42.29 L288.29 42.29 L289.01 42.29 L289.74 42.29 L290.46 42.29 L291.19 42.3 L291.92 42.3 L292.64 42.31 L293.37 42.32 L294.1 42.33 L294.82 42.36 L295.55 42.41 L296.27 42.47 L297 42.58 L297.73 42.73 L298.45 42.95 L299.18 43.26 L299.91 43.69 L300.63 44.28 L301.36 45.06 L302.08 46.08 L302.81 47.37 L303.54 48.96 L304.26 50.86 L304.99 53.09 L305.72 55.61 L306.44 58.38 L307.17 61.34 L307.89 64.39 L308.62 67.44 L309.35 70.38 L310.07 73.13 L310.8 75.61 L311.53 77.74 L312.25 79.49 L312.98 80.82 L313.7 81.71 L314.43 82.16 L315.16 82.16 L315.88 81.71 L316.61 80.82 L317.34 79.49 L318.06 77.74 L318.79 75.61 L319.51 73.13 L320.24 70.38 L320.97 67.44 L321.69 64.39 L322.42 61.34 L323.14 58.38 L323.87 55.61 L324.6 53.09 L325.32 50.86 L326.05 48.96 L326.78 47.37 L327.5 46.08 L328.23 45.06 L328.95 44.28 L329.68 43.69 L330.41 43.26 L331.13 42.95 L331.86 42.73 L332.59 42.58 L333.31 42.47 L334.04 42.41 L334.76 42.36 L335.49 42.33 L336.22 42.32 L336.94 42.31 L337.67 42.3 L338.4 42.3 L339.12 42.29 L339.85 42.29 L340.57 42.29 L341.3 42.29 L342.03 42.29 L342.75 42.29 L343.48 42.29 L344.21 42.29 L344.93 42.29 L345.66 42.29 L346.38 42.29 L347.11 42.29 L347.84 42.29 L348.56 42.29 L349.29 42.29 L350.02 42.29 L350.74 42.29 L351.47 42.29 L352.19 42.29 L352.92 42.29 L353.65 42.29 L354.37 42.29 L355.1 42.29 L355.82 42.29 L356.55 42.29 L357.28 42.29 L358 42.29 L358.73 42.29 L359.46 42.29 L360.18 42.29 L360.91 42.29 L361.63 42.29 L362.36 42.29 L363.09 42.29 L363.81 42.29 L364.54 42.29 L365.27 42.29 L365.99 42.29 L366.72 42.29 L367.44 42.29 L368.17 42.29 L368.9 42.29 L369.62 42.29 L370.35 42.29 L371.08 42.29 L371.8 42.29 L372.53 42.29 L373.25 42.29 L373.98 42.29 L374.71 42.29 L375.43 42.29 L376.16 42.29 L376.89 42.29 L377.61 42.29 L378.34 42.29 L379.06 42.29 L379.79 42.29 L380.52 42.29 L381.24 42.29 L381.97 42.29 L382.7 42.29 L383.42 42.29 L384.15 42.29 L384.87 42.29 L385.6 42.29" fill="none" stroke="#2ca02c" stroke-width="1.8" stroke-linejoin="round"/>
<path d="M222.2 42.29 L222.93 42.29 L223.65 42.29 L224.38 42.29 L225.1 42.29 L225.83 42.29 L226.56 42.29 L227.28 42.29 L228.01 42.29 L228.74 42.29 L229.46 42.29 L230.19 42.29 L230.91 42.29 L231.64 42.29 L232.37 42.29 L233.09 42.29 L233.82 42.29 L234.55 42.29 L235.27 42.29 L236 42.29 L236.72 42.29 L237.45 42.29 L238.18 42.29 L238.9 42.29 L239.63 42.29 L240.36 42.29 L241.08 42.29 L241.81 42.29 L242.53 42.29 L243.26 42.29 L243.99 42.29 L244.71 42.29 L245.44 42.29 L246.17 42.29 L246.89 42.29 L247.62 42.29 L248.34 42.29 L249.07 42.29 L249.8 42.29 L250.52 42.29 L251.25 42.29 L251.98 42.29 L252.7 42.29 L253.43 42.29 L254.15 42.29 L254.88 42.29 L255.61 42.29 L256.33 42.29 L257.06 42.29 L257.78 42.29 L258.51 42.29 L259.24 42.29 L259.96 42.29 L260.69 42.29 L261.42 42.29 L262.14 42.29 L262.87 42.29 L263.59 42.29 L264.32 42.29 L265.05 42.29 L265.77 42.29 L266.5 42.29 L267.23 42.29 L267.95 42.29 L268.68 42.29 L269.4 42.29 L270.13 42.29 L270.86 42.29 L271.58 42.29 L272.31 42.29 L273.04 42.29 L273.76 42.29 L274.49 42.29 L275.21 42.29 L275.94 42.29 L276.67 42.29 L277.39 42.29 L278.12 42.29 L278.85 42.29 L279.57 42.29 L280.3 42.29 L281.02 42.29 L281.75 42.29 L282.48 42.29 L283.2 42.29 L283.93 42.29 L284.66 42.29 L285.38 42.29 L286.11 42.29 L286.83 42.29 L287.56 42.29 L288.29 42.29 L289.01 42.29 L289.74 42.29 L290.46 42.29 L291.19 42.29 L291.92 42.29 L292.64 42.29 L293.37 42.29 L294.1 42.29 L294.82 42.29 L295.55 42.29 L296.27 42.29 L297 42.29 L297.73 42.29 L298.45 42.29 L299.18 42.29 L299.91 42.29 L300.63 42.29 L301.36 42.29 L302.08 42.29 L302.81 42.29 L303.54 42.29 L304.26 42.29 L304.99 42.29 L305.72 42.29 L306.44 42.29 L307.17 42.29 L307.89 42.29 L308.62 42.29 L309.35 42.29 L310.07 42.3 L310.8 42.31 L311.53 42.32 L312.25 42.35 L312.98 42.4 L313.7 42.48 L314.43 42.63 L315.16 42.87 L315.88 43.24 L316.61 43.81 L317.34 44.63 L318.06 45.76 L318.79 47.27 L319.51 49.17 L320.24 51.47 L320.97 54.09 L321.69 56.92 L322.42 59.82 L323.14 62.61 L323.87 65.11 L324.6 67.17 L325.32 68.67 L326.05 69.53 L326.78 69.71 L327.5 69.19 L328.23 68 L328.95 66.2 L329.68 63.9 L330.41 61.24 L331.13 58.37 L331.86 55.48 L332.59 52.74 L333.31 50.27 L334.04 48.17 L334.76 46.47 L335.49 45.15 L336.22 44.18 L336.94 43.5 L337.67 43.03 L338.4 42.73 L339.12 42.55 L339.85 42.43 L340.57 42.37 L341.3 42.33 L342.03 42.31 L342.75 42.3 L343.48 42.3 L344.21 42.29 L344.93 42.29 L345.66 42.29 L346.38 42.29 L347.11 42.29 L347.84 42.29 L348.56 42.29 L349.29 42.29 L350.02 42.29 L350.74 42.29 L351.47 42.29 L352.19 42.29 L352.92 42.29 L353.65 42.29 L354.37 42.29 L355.1 42.29 L355.82 42.29 L356.55 42.29 L357.28 42.29 L358 42.29 L358.73 42.29 L359.46 42.29 L360.18 42.29 L360.91 42.29 L361.63 42.29 L362.36 42.29 L363.09 42.29 L363.81 42.29 L364.54 42.29 L365.27 42.29 L365.99 42.29 L366.72 42.29 L367.44 42.29 L368.17 42.29 L368.9 42.29 L369.62 42.29 L370.35 42.29 L371.08 42.29 L371.8 42.29 L372.53 42.29 L373.25 42.29 L373.98 42.29 L374.71 42.29 L375.43 42.29 L376.16 42.29 L376.89 42.29 L377.61 42.29 L378.34 42.29 L379.06 42.29 L379.79 42.29 L380.52 42.29 L381.24 42.29 L381.97 42.29 L382.7 42.29 L383.42 42.29 L384.15 42.29 L384.87 42.29 L385.6 42.29" fill="none" stroke="#9467bd" stroke-width="1.8" stroke-linejoin="round"/>
<path d="M222.2 42.29 L222.93 42.29 L223.65 42.29 L224.38 42.29 L225.1 42.29 L225.83 42.29 L226.56 42.29 L227.28 42.29 L228.01 42.29 L228.74 42.29 L229.46 42.29 L230.19 42.29 L230.91 42.29 L231.64 42.29 L232.37 42.29 L233.09 42.29 L233.82 42.29 L234.55 42.29 L235.27 42.29 L236 42.29 L236.72 42.29 L237.45 42.29 L238.18 42.29 L238.9 42.29 L239.63 42.29 L240.36 42.29 L241.08 42.29 L241.81 42.29 L242.53 42.29 L243.26 42.29 L243.99 42.29 L244.71 42.29 L245.44 42.29 L246.17 42.29 L246.89 42.29 L247.62 42.29 L248.34 42.29 L249.07 42.29 L249.8 42.29 L250.52 42.29 L251.25 42.29 L251.98 42.29 L252.7 42.29 L253.43 42.29 L254.15 42.29 L254.88 42.29 L255.61 42.29 L256.33 42.29 L257.06 42.29 L257.78 42.29 L258.51 42.29 L259.24 42.29 L259.96 42.29 L260.69 42.29 L261.42 42.29 L262.14 42.29 L262.87 42.29 L263.59 42.29 L264.32 42.29 L265.05 42.29 L265.77 42.29 L266.5 42.29 L267.23 42.29 L267.95 42.29 L268.68 42.29 L269.4 42.29 L270.13 42.29 L270.86 42.29 L271.58 42.29 L272.31 42.29 L273.04 42.29 L273.76 42.29 L274.49 42.29 L275.21 42.29 L275.94 42.29 L276.67 42.29 L277.39 42.29 L278.12 42.29 L278.85 42.29 L279.57 42.29 L280.3 42.29 L281.02 42.29 L281.75 42.29 L282.48 42.29 L283.2 42.29 L283.93 42.29 L284.66 42.29 L285.38 42.29 L286.11 42.29 L286.83 42.29 L287.56 42.29 L288.29 42.29 L289.01 42.29 L289.74 42.29 L290.46 42.29 L291.19 42.29 L291.92 42.29 L292.64 42.29 L293.37 42.29 L294.1 42.29 L294.82 42.29 L295.55 42.29 L296.27 42.29 L297 42.29 L297.73 42.29 L298.45 42.29 L299.18 42.29 L299.91 42.29 L300.63 42.29 L301.36 42.29 L302.08 42.29 L302.81 42.29 L303.54 42.29 L304.26 42.29 L304.99 42.29 L305.72 42.29 L306.44 42.29 L307.17 42.29 L307.89 42.29 L308.62 42.29 L309.35 42.29 L310.07 42.29 L310.8 42.29 L311.53 42.29 L312.25 42.29 L312.98 42.29 L313.7 42.29 L314.43 42.29 L315.16 42.29 L315.88 42.29 L316.61 42.29 L317.34 42.29 L318.06 42.29 L318.79 42.29 L319.51 42.29 L320.24 42.29 L320.97 42.29 L321.69 42.29 L322.42 42.29 L323.14 42.29 L323.87 42.29 L324.6 42.29 L325.32 42.29 L326.05 42.29 L326.78 42.29 L327.5 42.29 L328.23 42.29 L328.95 42.29 L329.68 42.29 L330.41 42.29 L331.13 42.29 L331.86 42.29 L332.59 42.29 L333.31 42.29 L334.04 42.29 L334.76 42.29 L335.49 42.29 L336.22 42.29 L336.94 42.29 L337.67 42.29 L338.4 42.3 L339.12 42.31 L339.85 42.34 L340.57 42.42 L341.3 42.6 L342.03 42.95 L342.75 43.58 L343.48 44.52 L344.21 45.73 L344.93 47.05 L345.66 48.18 L346.38 48.84 L347.11 48.84 L347.84 48.18 L348.56 47.05 L349.29 45.73 L350.02 44.52 L350.74 43.58 L351.47 42.95 L352.19 42.6 L352.92 42.42 L353.65 42.34 L354.37 42.31 L355.1 42.3 L355.82 42.29 L356.55 42.29 L357.28 42.29 L358 42.29 L358.73 42.29 L359.46 42.29 L360.18 42.29 L360.91 42.29 L361.63 42.29 L362.36 42.29 L363.09 42.29 L363.81 42.29 L364.54 42.29 L365.27 42.29 L365.99 42.29 L366.72 42.29 L367.44 42.29 L368.17 42.29 L368.9 42.29 L369.62 42.29 L370.35 42.29 L371.08 42.29 L371.8 42.29 L372.53 42.29 L373.25 42.29 L373.98 42.29 L374.71 42.29 L375.43 42.29 L376.16 42.29 L376.89 42.29 L377.61 42.29 L378.34 42.29 L379.06 42.29 L379.79 42.29 L380.52 42.29 L381.24 42.29 L381.97 42.29 L382.7 42.29 L383.42 42.29 L384.15 42.29 L384.87 42.29 L385.6 42.29" fill="none" stroke="#ff7f0e" stroke-width="1.8" stroke-linejoin="round"/>
<line x1="222.2" y1="42.29" x2="385.6" y2="42.29" stroke="#ff00ff" stroke-width="2.3"/>
<path d="M222.2 42.29 L222.93 42.29 L223.65 42.29 L224.38 42.29 L225.1 42.29 L225.83 42.29 L226.56 42.29 L227.28 42.29 L228.01 42.29 L228.74 42.29 L229.46 42.29 L230.19 42.29 L230.91 42.29 L231.64 42.29 L232.37 42.29 L233.09 42.29 L233.82 42.29 L234.55 42.29 L235.27 42.29 L236 42.29 L236.72 42.29 L237.45 42.29 L238.18 42.29 L238.9 42.29 L239.63 42.29 L240.36 42.29 L241.08 42.29 L241.81 42.29 L242.53 42.29 L243.26 42.29 L243.99 42.29 L244.71 42.29 L245.44 42.29 L246.17 42.29 L246.89 42.29 L247.62 42.29 L248.34 42.29 L249.07 42.29 L249.8 42.29 L250.52 42.29 L251.25 42.29 L251.98 42.29 L252.7 42.29 L253.43 42.29 L254.15 42.29 L254.88 42.29 L255.61 42.29 L256.33 42.29 L257.06 42.29 L257.78 42.29 L258.51 42.29 L259.24 42.29 L259.96 42.29 L260.69 42.29 L261.42 42.29 L262.14 42.29 L262.87 42.29 L263.59 42.29 L264.32 42.29 L265.05 42.3 L265.77 42.3 L266.5 42.31 L267.23 42.32 L267.95 42.33 L268.68 42.35 L269.4 42.39 L270.13 42.43 L270.86 42.5 L271.58 42.59 L272.31 42.7 L273.04 42.84 L273.76 43.01 L274.49 43.22 L275.21 43.45 L275.94 43.7 L276.67 43.96 L277.39 44.22 L278.12 44.47 L278.85 44.69 L279.57 44.86 L280.3 44.97 L281.02 45.02 L281.75 45.01 L282.48 44.92 L283.2 44.78 L283.93 44.58 L284.66 44.35 L285.38 44.09 L286.11 43.83 L286.83 43.57 L287.56 43.33 L288.29 43.11 L289.01 42.92 L289.74 42.77 L290.46 42.64 L291.19 42.54 L291.92 42.47 L292.64 42.42 L293.37 42.39 L294.1 42.38 L294.82 42.39 L295.55 42.43 L296.27 42.49 L297 42.58 L297.73 42.73 L298.45 42.95 L299.18 43.26 L299.91 43.69 L300.63 44.28 L301.36 45.06 L302.08 46.08 L302.81 47.37 L303.54 48.96 L304.26 50.86 L304.99 53.09 L305.72 55.61 L306.44 58.38 L307.17 61.34 L307.89 64.39 L308.62 67.44 L309.35 70.38 L310.07 73.14 L310.8 75.61 L311.53 77.75 L312.25 79.51 L312.98 80.86 L313.7 81.79 L314.43 82.29 L315.16 82.39 L315.88 82.09 L316.61 81.43 L317.34 80.47 L318.06 79.28 L318.79 77.95 L319.51 76.6 L320.24 75.35 L320.97 74.29 L321.69 73.49 L322.42 72.96 L323.14 72.68 L323.87 72.53 L324.6 72.41 L325.32 72.15 L326.05 71.64 L326.78 70.78 L327.5 69.49 L328.23 67.76 L328.95 65.6 L329.68 63.09 L330.41 60.33 L331.13 57.47 L331.86 54.65 L332.59 52.02 L333.31 49.68 L334.04 47.71 L334.76 46.13 L335.49 44.91 L336.22 44.02 L336.94 43.39 L337.67 42.97 L338.4 42.7 L339.12 42.54 L339.85 42.47 L340.57 42.49 L341.3 42.63 L342.03 42.97 L342.75 43.59 L343.48 44.52 L344.21 45.74 L344.93 47.05 L345.66 48.18 L346.38 48.84 L347.11 48.84 L347.84 48.18 L348.56 47.05 L349.29 45.73 L350.02 44.52 L350.74 43.58 L351.47 42.95 L352.19 42.6 L352.92 42.42 L353.65 42.34 L354.37 42.31 L355.1 42.3 L355.82 42.29 L356.55 42.29 L357.28 42.29 L358 42.29 L358.73 42.29 L359.46 42.29 L360.18 42.29 L360.91 42.29 L361.63 42.29 L362.36 42.29 L363.09 42.29 L363.81 42.29 L364.54 42.29 L365.27 42.29 L365.99 42.29 L366.72 42.29 L367.44 42.29 L368.17 42.29 L368.9 42.29 L369.62 42.29 L370.35 42.29 L371.08 42.29 L371.8 42.29 L372.53 42.29 L373.25 42.29 L373.98 42.29 L374.71 42.29 L375.43 42.29 L376.16 42.29 L376.89 42.29 L377.61 42.29 L378.34 42.29 L379.06 42.29 L379.79 42.29 L380.52 42.29 L381.24 42.29 L381.97 42.29 L382.7 42.29 L383.42 42.29 L384.15 42.29 L384.87 42.29 L385.6 42.29" fill="none" stroke="#d62728" stroke-width="2.2" stroke-linejoin="round"/>
<line x1="282.11" y1="0.45" x2="282.11" y2="119" stroke="#1f77b4" stroke-width="1.2" stroke-dasharray="3.2 2"/>
<line x1="314.97" y1="0.45" x2="314.97" y2="119" stroke="#2ca02c" stroke-width="1.2" stroke-dasharray="3.2 2"/>
<line x1="326.96" y1="0.45" x2="326.96" y2="119" stroke="#9467bd" stroke-width="1.2" stroke-dasharray="3.2 2"/>
<line x1="346.57" y1="0.45" x2="346.57" y2="119" stroke="#ff7f0e" stroke-width="1.2" stroke-dasharray="3.2 2"/>
</g>
<rect x="222.2" y="0.45" width="163.4" height="118.55" fill="none" stroke="#000" stroke-width="1.4"/>
<path d="M231.28 119v-5.5M231.28 0.45v5.5M267.59 119v-5.5M267.59 0.45v5.5M303.9 119v-5.5M303.9 0.45v5.5M340.21 119v-5.5M340.21 0.45v5.5M376.52 119v-5.5M376.52 0.45v5.5M222.2 119v-3.2M222.2 0.45v3.2M231.28 119v-3.2M231.28 0.45v3.2M240.36 119v-3.2M240.36 0.45v3.2M249.43 119v-3.2M249.43 0.45v3.2M258.51 119v-3.2M258.51 0.45v3.2M267.59 119v-3.2M267.59 0.45v3.2M276.67 119v-3.2M276.67 0.45v3.2M285.74 119v-3.2M285.74 0.45v3.2M294.82 119v-3.2M294.82 0.45v3.2M303.9 119v-3.2M303.9 0.45v3.2M312.98 119v-3.2M312.98 0.45v3.2M322.06 119v-3.2M322.06 0.45v3.2M331.13 119v-3.2M331.13 0.45v3.2M340.21 119v-3.2M340.21 0.45v3.2M349.29 119v-3.2M349.29 0.45v3.2M358.37 119v-3.2M358.37 0.45v3.2M367.44 119v-3.2M367.44 0.45v3.2M376.52 119v-3.2M376.52 0.45v3.2M385.6 119v-3.2M385.6 0.45v3.2M222.2 112.03h5.5M385.6 112.03h-5.5M222.2 77.16h5.5M385.6 77.16h-5.5M222.2 42.29h5.5M385.6 42.29h-5.5M222.2 7.42h5.5M385.6 7.42h-5.5M222.2 119h3.2M385.6 119h-3.2M222.2 112.03h3.2M385.6 112.03h-3.2M222.2 105.05h3.2M385.6 105.05h-3.2M222.2 98.08h3.2M385.6 98.08h-3.2M222.2 91.11h3.2M385.6 91.11h-3.2M222.2 84.13h3.2M385.6 84.13h-3.2M222.2 77.16h3.2M385.6 77.16h-3.2M222.2 70.19h3.2M385.6 70.19h-3.2M222.2 63.21h3.2M385.6 63.21h-3.2M222.2 56.24h3.2M385.6 56.24h-3.2M222.2 49.26h3.2M385.6 49.26h-3.2M222.2 42.29h3.2M385.6 42.29h-3.2M222.2 35.32h3.2M385.6 35.32h-3.2M222.2 28.34h3.2M385.6 28.34h-3.2M222.2 21.37h3.2M385.6 21.37h-3.2M222.2 14.4h3.2M385.6 14.4h-3.2M222.2 7.42h3.2M385.6 7.42h-3.2M222.2 0.45h3.2M385.6 0.45h-3.2" stroke="#000" stroke-width="1.1" fill="none"/>
<text x="230.28" y="131.6" font-size="12.6" font-family='"Liberation Serif", serif' textLength="25.5" lengthAdjust="spacingAndGlyphs" text-anchor="middle">−400</text>
<text x="266.59" y="131.6" font-size="12.6" font-family='"Liberation Serif", serif' textLength="25.5" lengthAdjust="spacingAndGlyphs" text-anchor="middle">−200</text>
<text x="303.9" y="131.6" font-size="12.6" font-family='"Liberation Serif", serif' textLength="5.9" lengthAdjust="spacingAndGlyphs" text-anchor="middle">0</text>
<text x="340.21" y="131.6" font-size="12.6" font-family='"Liberation Serif", serif' textLength="18.9" lengthAdjust="spacingAndGlyphs" text-anchor="middle">200</text>
<text x="376.52" y="131.6" font-size="12.6" font-family='"Liberation Serif", serif' textLength="18.9" lengthAdjust="spacingAndGlyphs" text-anchor="middle">400</text>
<text x="224.5" y="105.2" font-size="12" font-family='"Liberation Serif", serif'>Si III 1206</text>
<text x="304.4" y="146.2" font-size="12.2" font-family='"Liberation Serif", serif' text-anchor="middle">v [km s<tspan dy="-5" font-size="8.6">−1</tspan><tspan dy="5">]</tspan></text>
<clipPath id="c1_3"><rect x="409.7" y="0.45" width="163.4" height="118.55"/></clipPath>
<g clip-path="url(#c1_3)">
<path d="M411.24 37.06V57.79M414.33 33.28V48.32M417.42 32.8V44.67M420.5 38.4V55.7M423.59 45.39V64.15M426.68 47.15V60.94M429.76 46.65V58.66M432.85 39.2V53.61M435.93 40.98V61.55M439.02 39.5V58.06M442.11 33.37V45.68M445.19 33.55V47.11M448.28 29.81V41.96M451.37 32.4V44.14M454.45 33.85V52.78M457.54 39.42V52.31M460.63 28.88V45.5M463.71 43.96V59.48M466.8 47.96V60.98M469.89 45.97V64.28M472.97 41.61V54.05M476.06 36.25V53.69M479.14 38.91V51.2M482.23 35.3V50.57M485.32 34.62V47.85M488.4 32.59V46.38M491.49 28.01V48.65M494.58 34.85V53.85M497.66 50.88V65.01M500.75 43.18V62.97M503.84 56.73V69.95M506.92 50.2V65.2M510.01 60.36V79.86M513.1 64.85V82.28M516.18 69.45V81.58M519.27 48.01V68.82M522.36 26.74V39.98M525.44 36.33V50.01M528.53 29.46V48.17M531.61 40.65V55.01M534.7 36.47V50.52M537.79 33.58V45.46M540.87 36.66V48.7M543.96 32.54V49.39M547.05 66.47V80M550.13 69.32V86.35M553.22 61.48V76.27M556.31 62.52V78.1M559.39 54.54V75.06M562.48 67.84V83.72M565.57 62.42V79.18M568.65 32.47V52.09M571.74 31.83V44.78" stroke="#b8b8b8" stroke-width="0.8" fill="none"/>
<path d="M409.7 47.42 L412.79 47.42 L412.79 40.8 L415.87 40.8 L415.87 38.74 L418.96 38.74 L418.96 47.05 L422.05 47.05 L422.05 54.77 L425.13 54.77 L425.13 54.05 L428.22 54.05 L428.22 52.66 L431.31 52.66 L431.31 46.4 L434.39 46.4 L434.39 51.27 L437.48 51.27 L437.48 48.78 L440.56 48.78 L440.56 39.52 L443.65 39.52 L443.65 40.33 L446.74 40.33 L446.74 35.88 L449.82 35.88 L449.82 38.27 L452.91 38.27 L452.91 43.31 L456 43.31 L456 45.87 L459.08 45.87 L459.08 37.19 L462.17 37.19 L462.17 51.72 L465.26 51.72 L465.26 54.47 L468.34 54.47 L468.34 55.13 L471.43 55.13 L471.43 47.83 L474.52 47.83 L474.52 44.97 L477.6 44.97 L477.6 45.05 L480.69 45.05 L480.69 42.93 L483.77 42.93 L483.77 41.23 L486.86 41.23 L486.86 39.49 L489.95 39.49 L489.95 38.33 L493.03 38.33 L493.03 44.35 L496.12 44.35 L496.12 57.94 L499.21 57.94 L499.21 53.07 L502.29 53.07 L502.29 63.34 L505.38 63.34 L505.38 57.7 L508.47 57.7 L508.47 70.11 L511.55 70.11 L511.55 73.57 L514.64 73.57 L514.64 75.52 L517.73 75.52 L517.73 58.42 L520.81 58.42 L520.81 33.36 L523.9 33.36 L523.9 43.17 L526.98 43.17 L526.98 38.81 L530.07 38.81 L530.07 47.83 L533.16 47.83 L533.16 43.5 L536.24 43.5 L536.24 39.52 L539.33 39.52 L539.33 42.68 L542.42 42.68 L542.42 40.96 L545.5 40.96 L545.5 73.24 L548.59 73.24 L548.59 77.83 L551.68 77.83 L551.68 68.88 L554.76 68.88 L554.76 70.31 L557.85 70.31 L557.85 64.8 L560.94 64.8 L560.94 75.78 L564.02 75.78 L564.02 70.8 L567.11 70.8 L567.11 42.28 L570.2 42.28 L570.2 38.31 L573.28 38.31" fill="none" stroke="#8a8a8a" stroke-width="1.7" stroke-linejoin="round" stroke-linejoin="miter"/>
<path d="M415.87 38.74 L418.96 38.74 L418.96 47.05 L422.05 47.05 L422.05 54.77 L425.13 54.77 L425.13 54.05 L428.22 54.05 L428.22 52.66 L431.31 52.66 L431.31 46.4 L434.39 46.4 L434.39 51.27 L437.48 51.27 L437.48 48.78 L440.56 48.78 L440.56 39.52 L443.65 39.52 L443.65 40.33 L446.74 40.33 L446.74 35.88 L449.82 35.88 L449.82 38.27 L452.91 38.27 L452.91 43.31 L456 43.31 L456 45.87 L459.08 45.87 L459.08 37.19 L462.17 37.19 L462.17 51.72 L465.26 51.72 L465.26 54.47 L468.34 54.47 L468.34 55.13 L471.43 55.13 L471.43 47.83 L474.52 47.83 L474.52 44.97 L477.6 44.97 L477.6 45.05 L480.69 45.05 L480.69 42.93 L483.77 42.93 L483.77 41.23 L486.86 41.23 L486.86 39.49 L489.95 39.49 L489.95 38.33 L493.03 38.33 L493.03 44.35 L496.12 44.35 L496.12 57.94 L499.21 57.94 L499.21 53.07 L502.29 53.07 L502.29 63.34 L505.38 63.34 L505.38 57.7 L508.47 57.7 L508.47 70.11 L511.55 70.11 L511.55 73.57 L514.64 73.57 L514.64 75.52 L517.73 75.52 L517.73 58.42 L520.81 58.42 L520.81 33.36 L523.9 33.36 L523.9 43.17 L526.98 43.17 L526.98 38.81 L530.07 38.81 L530.07 47.83 L533.16 47.83 L533.16 43.5 L536.24 43.5" fill="none" stroke="#000" stroke-width="1.5" stroke-linejoin="round" stroke-linejoin="miter"/>
<line x1="409.7" y1="112.03" x2="573.1" y2="112.03" stroke="#777" stroke-width="1" stroke-dasharray="1.6 1.6"/>
<path d="M409.7 42.29 L410.43 42.29 L411.15 42.29 L411.88 42.29 L412.6 42.29 L413.33 42.29 L414.06 42.29 L414.78 42.29 L415.51 42.29 L416.24 42.29 L416.96 42.29 L417.69 42.29 L418.41 42.29 L419.14 42.29 L419.87 42.29 L420.59 42.29 L421.32 42.29 L422.05 42.29 L422.77 42.29 L423.5 42.29 L424.22 42.29 L424.95 42.29 L425.68 42.29 L426.4 42.29 L427.13 42.29 L427.86 42.29 L428.58 42.29 L429.31 42.29 L430.03 42.29 L430.76 42.29 L431.49 42.29 L432.21 42.29 L432.94 42.29 L433.67 42.29 L434.39 42.29 L435.12 42.29 L435.84 42.29 L436.57 42.29 L437.3 42.29 L438.02 42.29 L438.75 42.29 L439.48 42.29 L440.2 42.29 L440.93 42.29 L441.65 42.29 L442.38 42.29 L443.11 42.29 L443.83 42.29 L444.56 42.29 L445.28 42.29 L446.01 42.29 L446.74 42.29 L447.46 42.29 L448.19 42.3 L448.92 42.3 L449.64 42.31 L450.37 42.32 L451.09 42.33 L451.82 42.35 L452.55 42.38 L453.27 42.42 L454 42.47 L454.73 42.55 L455.45 42.65 L456.18 42.78 L456.9 42.95 L457.63 43.17 L458.36 43.43 L459.08 43.74 L459.81 44.1 L460.54 44.52 L461.26 44.98 L461.99 45.48 L462.71 46 L463.44 46.53 L464.17 47.05 L464.89 47.54 L465.62 47.98 L466.35 48.36 L467.07 48.65 L467.8 48.84 L468.52 48.92 L469.25 48.9 L469.98 48.76 L470.7 48.52 L471.43 48.18 L472.16 47.77 L472.88 47.3 L473.61 46.79 L474.33 46.26 L475.06 45.73 L475.79 45.22 L476.51 44.74 L477.24 44.31 L477.96 43.92 L478.69 43.58 L479.42 43.29 L480.14 43.06 L480.87 42.86 L481.6 42.71 L482.32 42.6 L483.05 42.51 L483.77 42.44 L484.5 42.4 L485.23 42.36 L485.95 42.34 L486.68 42.32 L487.41 42.31 L488.13 42.3 L488.86 42.3 L489.58 42.3 L490.31 42.29 L491.04 42.29 L491.76 42.29 L492.49 42.29 L493.22 42.29 L493.94 42.29 L494.67 42.29 L495.39 42.29 L496.12 42.29 L496.85 42.29 L497.57 42.29 L498.3 42.29 L499.03 42.29 L499.75 42.29 L500.48 42.29 L501.2 42.29 L501.93 42.29 L502.66 42.29 L503.38 42.29 L504.11 42.29 L504.84 42.29 L505.56 42.29 L506.29 42.29 L507.01 42.29 L507.74 42.29 L508.47 42.29 L509.19 42.29 L509.92 42.29 L510.64 42.29 L511.37 42.29 L512.1 42.29 L512.82 42.29 L513.55 42.29 L514.28 42.29 L515 42.29 L515.73 42.29 L516.45 42.29 L517.18 42.29 L517.91 42.29 L518.63 42.29 L519.36 42.29 L520.09 42.29 L520.81 42.29 L521.54 42.29 L522.26 42.29 L522.99 42.29 L523.72 42.29 L524.44 42.29 L525.17 42.29 L525.9 42.29 L526.62 42.29 L527.35 42.29 L528.07 42.29 L528.8 42.29 L529.53 42.29 L530.25 42.29 L530.98 42.29 L531.71 42.29 L532.43 42.29 L533.16 42.29 L533.88 42.29 L534.61 42.29 L535.34 42.29 L536.06 42.29 L536.79 42.29 L537.52 42.29 L538.24 42.29 L538.97 42.29 L539.69 42.29 L540.42 42.29 L541.15 42.29 L541.87 42.29 L542.6 42.29 L543.32 42.29 L544.05 42.29 L544.78 42.29 L545.5 42.29 L546.23 42.29 L546.96 42.29 L547.68 42.29 L548.41 42.29 L549.13 42.29 L549.86 42.29 L550.59 42.29 L551.31 42.29 L552.04 42.29 L552.77 42.29 L553.49 42.29 L554.22 42.29 L554.94 42.29 L555.67 42.29 L556.4 42.29 L557.12 42.29 L557.85 42.29 L558.58 42.29 L559.3 42.29 L560.03 42.29 L560.75 42.29 L561.48 42.29 L562.21 42.29 L562.93 42.29 L563.66 42.29 L564.39 42.29 L565.11 42.29 L565.84 42.29 L566.56 42.29 L567.29 42.29 L568.02 42.29 L568.74 42.29 L569.47 42.29 L570.2 42.29 L570.92 42.29 L571.65 42.29 L572.37 42.29 L573.1 42.29" fill="none" stroke="#1f77b4" stroke-width="1.8" stroke-linejoin="round"/>
<path d="M409.7 42.29 L410.43 42.29 L411.15 42.29 L411.88 42.29 L412.6 42.29 L413.33 42.29 L414.06 42.29 L414.78 42.29 L415.51 42.29 L416.24 42.29 L416.96 42.29 L417.69 42.29 L418.41 42.29 L419.14 42.29 L419.87 42.29 L420.59 42.29 L421.32 42.29 L422.05 42.29 L422.77 42.29 L423.5 42.29 L424.22 42.29 L424.95 42.29 L425.68 42.29 L426.4 42.29 L427.13 42.29 L427.86 42.29 L428.58 42.29 L429.31 42.29 L430.03 42.29 L430.76 42.29 L431.49 42.29 L432.21 42.29 L432.94 42.29 L433.67 42.29 L434.39 42.29 L435.12 42.29 L435.84 42.29 L436.57 42.29 L437.3 42.29 L438.02 42.29 L438.75 42.29 L439.48 42.29 L440.2 42.29 L440.93 42.29 L441.65 42.29 L442.38 42.29 L443.11 42.29 L443.83 42.29 L444.56 42.29 L445.28 42.29 L446.01 42.29 L446.74 42.29 L447.46 42.29 L448.19 42.29 L448.92 42.29 L449.64 42.29 L450.37 42.29 L451.09 42.29 L451.82 42.29 L452.55 42.29 L453.27 42.29 L454 42.29 L454.73 42.29 L455.45 42.29 L456.18 42.29 L456.9 42.29 L457.63 42.29 L458.36 42.29 L459.08 42.29 L459.81 42.29 L460.54 42.29 L461.26 42.29 L461.99 42.29 L462.71 42.29 L463.44 42.29 L464.17 42.29 L464.89 42.29 L465.62 42.29 L466.35 42.29 L467.07 42.29 L467.8 42.29 L468.52 42.29 L469.25 42.29 L469.98 42.29 L470.7 42.29 L471.43 42.29 L472.16 42.29 L472.88 42.29 L473.61 42.29 L474.33 42.29 L475.06 42.29 L475.79 42.29 L476.51 42.29 L477.24 42.29 L477.96 42.29 L478.69 42.29 L479.42 42.29 L480.14 42.29 L480.87 42.29 L481.6 42.29 L482.32 42.29 L483.05 42.29 L483.77 42.29 L484.5 42.29 L485.23 42.29 L485.95 42.29 L486.68 42.3 L487.41 42.31 L488.13 42.32 L488.86 42.34 L489.58 42.39 L490.31 42.46 L491.04 42.58 L491.76 42.76 L492.49 43.04 L493.22 43.44 L493.94 43.99 L494.67 44.73 L495.39 45.66 L496.12 46.79 L496.85 48.09 L497.57 49.52 L498.3 51 L499.03 52.45 L499.75 53.76 L500.48 54.84 L501.2 55.61 L501.93 56.01 L502.66 56.01 L503.38 55.61 L504.11 54.84 L504.84 53.76 L505.56 52.45 L506.29 51 L507.01 49.52 L507.74 48.09 L508.47 46.79 L509.19 45.66 L509.92 44.73 L510.64 43.99 L511.37 43.44 L512.1 43.04 L512.82 42.76 L513.55 42.58 L514.28 42.46 L515 42.39 L515.73 42.34 L516.45 42.32 L517.18 42.31 L517.91 42.3 L518.63 42.29 L519.36 42.29 L520.09 42.29 L520.81 42.29 L521.54 42.29 L522.26 42.29 L522.99 42.29 L523.72 42.29 L524.44 42.29 L525.17 42.29 L525.9 42.29 L526.62 42.29 L527.35 42.29 L528.07 42.29 L528.8 42.29 L529.53 42.29 L530.25 42.29 L530.98 42.29 L531.71 42.29 L532.43 42.29 L533.16 42.29 L533.88 42.29 L534.61 42.29 L535.34 42.29 L536.06 42.29 L536.79 42.29 L537.52 42.29 L538.24 42.29 L538.97 42.29 L539.69 42.29 L540.42 42.29 L541.15 42.29 L541.87 42.29 L542.6 42.29 L543.32 42.29 L544.05 42.29 L544.78 42.29 L545.5 42.29 L546.23 42.29 L546.96 42.29 L547.68 42.29 L548.41 42.29 L549.13 42.29 L549.86 42.29 L550.59 42.29 L551.31 42.29 L552.04 42.29 L552.77 42.29 L553.49 42.29 L554.22 42.29 L554.94 42.29 L555.67 42.29 L556.4 42.29 L557.12 42.29 L557.85 42.29 L558.58 42.29 L559.3 42.29 L560.03 42.29 L560.75 42.29 L561.48 42.29 L562.21 42.29 L562.93 42.29 L563.66 42.29 L564.39 42.29 L565.11 42.29 L565.84 42.29 L566.56 42.29 L567.29 42.29 L568.02 42.29 L568.74 42.29 L569.47 42.29 L570.2 42.29 L570.92 42.29 L571.65 42.29 L572.37 42.29 L573.1 42.29" fill="none" stroke="#2ca02c" stroke-width="1.8" stroke-linejoin="round"/>
<path d="M409.7 42.29 L410.43 42.29 L411.15 42.29 L411.88 42.29 L412.6 42.29 L413.33 42.29 L414.06 42.29 L414.78 42.29 L415.51 42.29 L416.24 42.29 L416.96 42.29 L417.69 42.29 L418.41 42.29 L419.14 42.29 L419.87 42.29 L420.59 42.29 L421.32 42.29 L422.05 42.29 L422.77 42.29 L423.5 42.29 L424.22 42.29 L424.95 42.29 L425.68 42.29 L426.4 42.29 L427.13 42.29 L427.86 42.29 L428.58 42.29 L429.31 42.29 L430.03 42.29 L430.76 42.29 L431.49 42.29 L432.21 42.29 L432.94 42.29 L433.67 42.29 L434.39 42.29 L435.12 42.29 L435.84 42.29 L436.57 42.29 L437.3 42.29 L438.02 42.29 L438.75 42.29 L439.48 42.29 L440.2 42.29 L440.93 42.29 L441.65 42.29 L442.38 42.29 L443.11 42.29 L443.83 42.29 L444.56 42.29 L445.28 42.29 L446.01 42.29 L446.74 42.29 L447.46 42.29 L448.19 42.29 L448.92 42.29 L449.64 42.29 L450.37 42.29 L451.09 42.29 L451.82 42.29 L452.55 42.29 L453.27 42.29 L454 42.29 L454.73 42.29 L455.45 42.29 L456.18 42.29 L456.9 42.29 L457.63 42.29 L458.36 42.29 L459.08 42.29 L459.81 42.29 L460.54 42.29 L461.26 42.29 L461.99 42.29 L462.71 42.29 L463.44 42.29 L464.17 42.29 L464.89 42.29 L465.62 42.29 L466.35 42.29 L467.07 42.29 L467.8 42.29 L468.52 42.29 L469.25 42.29 L469.98 42.29 L470.7 42.29 L471.43 42.29 L472.16 42.29 L472.88 42.29 L473.61 42.29 L474.33 42.29 L475.06 42.29 L475.79 42.29 L476.51 42.29 L477.24 42.29 L477.96 42.29 L478.69 42.29 L479.42 42.29 L480.14 42.29 L480.87 42.29 L481.6 42.29 L482.32 42.29 L483.05 42.29 L483.77 42.29 L484.5 42.29 L485.23 42.29 L485.95 42.29 L486.68 42.29 L487.41 42.29 L488.13 42.29 L488.86 42.29 L489.58 42.29 L490.31 42.29 L491.04 42.29 L491.76 42.29 L492.49 42.29 L493.22 42.29 L493.94 42.29 L494.67 42.29 L495.39 42.29 L496.12 42.29 L496.85 42.29 L497.57 42.29 L498.3 42.29 L499.03 42.3 L499.75 42.3 L500.48 42.31 L501.2 42.34 L501.93 42.39 L502.66 42.49 L503.38 42.66 L504.11 42.95 L504.84 43.43 L505.56 44.17 L506.29 45.28 L507.01 46.83 L507.74 48.89 L508.47 51.46 L509.19 54.49 L509.92 57.81 L510.64 61.23 L511.37 64.49 L512.1 67.35 L512.82 69.6 L513.55 71.11 L514.28 71.77 L515 71.54 L515.73 70.46 L516.45 68.56 L517.18 65.98 L517.91 62.9 L518.63 59.53 L519.36 56.12 L520.09 52.92 L520.81 50.11 L521.54 47.79 L522.26 45.99 L522.99 44.67 L523.72 43.76 L524.44 43.16 L525.17 42.78 L525.9 42.56 L526.62 42.43 L527.35 42.36 L528.07 42.33 L528.8 42.31 L529.53 42.3 L530.25 42.29 L530.98 42.29 L531.71 42.29 L532.43 42.29 L533.16 42.29 L533.88 42.29 L534.61 42.29 L535.34 42.29 L536.06 42.29 L536.79 42.29 L537.52 42.29 L538.24 42.29 L538.97 42.29 L539.69 42.29 L540.42 42.29 L541.15 42.29 L541.87 42.29 L542.6 42.29 L543.32 42.29 L544.05 42.29 L544.78 42.29 L545.5 42.29 L546.23 42.29 L546.96 42.29 L547.68 42.29 L548.41 42.29 L549.13 42.29 L549.86 42.29 L550.59 42.29 L551.31 42.29 L552.04 42.29 L552.77 42.29 L553.49 42.29 L554.22 42.29 L554.94 42.29 L555.67 42.29 L556.4 42.29 L557.12 42.29 L557.85 42.29 L558.58 42.29 L559.3 42.29 L560.03 42.29 L560.75 42.29 L561.48 42.29 L562.21 42.29 L562.93 42.29 L563.66 42.29 L564.39 42.29 L565.11 42.29 L565.84 42.29 L566.56 42.29 L567.29 42.29 L568.02 42.29 L568.74 42.29 L569.47 42.29 L570.2 42.29 L570.92 42.29 L571.65 42.29 L572.37 42.29 L573.1 42.29" fill="none" stroke="#9467bd" stroke-width="1.8" stroke-linejoin="round"/>
<path d="M409.7 42.29 L410.43 42.29 L411.15 42.29 L411.88 42.29 L412.6 42.29 L413.33 42.29 L414.06 42.29 L414.78 42.29 L415.51 42.29 L416.24 42.29 L416.96 42.29 L417.69 42.29 L418.41 42.29 L419.14 42.29 L419.87 42.29 L420.59 42.29 L421.32 42.29 L422.05 42.29 L422.77 42.29 L423.5 42.29 L424.22 42.29 L424.95 42.29 L425.68 42.29 L426.4 42.29 L427.13 42.29 L427.86 42.29 L428.58 42.29 L429.31 42.29 L430.03 42.29 L430.76 42.29 L431.49 42.29 L432.21 42.29 L432.94 42.29 L433.67 42.29 L434.39 42.29 L435.12 42.29 L435.84 42.29 L436.57 42.29 L437.3 42.29 L438.02 42.29 L438.75 42.29 L439.48 42.29 L440.2 42.29 L440.93 42.29 L441.65 42.29 L442.38 42.29 L443.11 42.29 L443.83 42.29 L444.56 42.29 L445.28 42.29 L446.01 42.29 L446.74 42.29 L447.46 42.29 L448.19 42.29 L448.92 42.29 L449.64 42.3 L450.37 42.31 L451.09 42.32 L451.82 42.34 L452.55 42.38 L453.27 42.44 L454 42.54 L454.73 42.67 L455.45 42.86 L456.18 43.11 L456.9 43.41 L457.63 43.77 L458.36 44.17 L459.08 44.58 L459.81 44.97 L460.54 45.3 L461.26 45.55 L461.99 45.68 L462.71 45.68 L463.44 45.55 L464.17 45.3 L464.89 44.97 L465.62 44.58 L466.35 44.17 L467.07 43.77 L467.8 43.41 L468.52 43.11 L469.25 42.86 L469.98 42.67 L470.7 42.54 L471.43 42.44 L472.16 42.38 L472.88 42.34 L473.61 42.32 L474.33 42.31 L475.06 42.3 L475.79 42.29 L476.51 42.29 L477.24 42.29 L477.96 42.29 L478.69 42.29 L479.42 42.29 L480.14 42.29 L480.87 42.29 L481.6 42.29 L482.32 42.29 L483.05 42.29 L483.77 42.29 L484.5 42.29 L485.23 42.29 L485.95 42.29 L486.68 42.29 L487.41 42.29 L488.13 42.29 L488.86 42.29 L489.58 42.29 L490.31 42.29 L491.04 42.29 L491.76 42.29 L492.49 42.29 L493.22 42.29 L493.94 42.29 L494.67 42.29 L495.39 42.29 L496.12 42.29 L496.85 42.29 L497.57 42.29 L498.3 42.29 L499.03 42.29 L499.75 42.29 L500.48 42.29 L501.2 42.29 L501.93 42.29 L502.66 42.29 L503.38 42.29 L504.11 42.29 L504.84 42.29 L505.56 42.29 L506.29 42.29 L507.01 42.29 L507.74 42.29 L508.47 42.29 L509.19 42.29 L509.92 42.29 L510.64 42.29 L511.37 42.29 L512.1 42.29 L512.82 42.29 L513.55 42.29 L514.28 42.29 L515 42.29 L515.73 42.29 L516.45 42.29 L517.18 42.29 L517.91 42.29 L518.63 42.29 L519.36 42.29 L520.09 42.29 L520.81 42.29 L521.54 42.29 L522.26 42.29 L522.99 42.29 L523.72 42.29 L524.44 42.29 L525.17 42.29 L525.9 42.29 L526.62 42.29 L527.35 42.29 L528.07 42.29 L528.8 42.29 L529.53 42.29 L530.25 42.29 L530.98 42.29 L531.71 42.29 L532.43 42.29 L533.16 42.29 L533.88 42.29 L534.61 42.29 L535.34 42.29 L536.06 42.29 L536.79 42.29 L537.52 42.29 L538.24 42.29 L538.97 42.29 L539.69 42.29 L540.42 42.29 L541.15 42.29 L541.87 42.29 L542.6 42.29 L543.32 42.29 L544.05 42.29 L544.78 42.29 L545.5 42.29 L546.23 42.29 L546.96 42.29 L547.68 42.29 L548.41 42.29 L549.13 42.29 L549.86 42.29 L550.59 42.29 L551.31 42.29 L552.04 42.29 L552.77 42.29 L553.49 42.29 L554.22 42.29 L554.94 42.29 L555.67 42.29 L556.4 42.29 L557.12 42.29 L557.85 42.29 L558.58 42.29 L559.3 42.29 L560.03 42.29 L560.75 42.29 L561.48 42.29 L562.21 42.29 L562.93 42.29 L563.66 42.29 L564.39 42.29 L565.11 42.29 L565.84 42.29 L566.56 42.29 L567.29 42.29 L568.02 42.29 L568.74 42.29 L569.47 42.29 L570.2 42.29 L570.92 42.29 L571.65 42.29 L572.37 42.29 L573.1 42.29" fill="none" stroke="#2ca02c" stroke-width="1.8" stroke-linejoin="round"/>
<line x1="409.7" y1="42.29" x2="573.1" y2="42.29" stroke="#ff00ff" stroke-width="2.3"/>
<path d="M409.7 42.29 L410.43 42.3 L411.15 42.3 L411.88 42.3 L412.6 42.32 L413.33 42.33 L414.06 42.36 L414.78 42.41 L415.51 42.49 L416.24 42.6 L416.96 42.76 L417.69 43 L418.41 43.32 L419.14 43.75 L419.87 44.3 L420.59 45 L421.32 45.83 L422.05 46.8 L422.77 47.89 L423.5 49.06 L424.22 50.26 L424.95 51.43 L425.68 52.53 L426.4 53.47 L427.13 54.21 L427.86 54.71 L428.58 54.92 L429.31 54.85 L430.03 54.49 L430.76 53.87 L431.49 53.02 L432.21 51.99 L432.94 50.85 L433.67 49.66 L434.39 48.47 L435.12 47.33 L435.84 46.3 L436.57 45.4 L437.3 44.63 L438.02 44.01 L438.75 43.52 L439.48 43.15 L440.2 42.87 L440.93 42.67 L441.65 42.54 L442.38 42.45 L443.11 42.39 L443.83 42.35 L444.56 42.32 L445.28 42.31 L446.01 42.3 L446.74 42.3 L447.46 42.3 L448.19 42.3 L448.92 42.31 L449.64 42.32 L450.37 42.34 L451.09 42.36 L451.82 42.41 L452.55 42.48 L453.27 42.59 L454 42.76 L454.73 42.98 L455.45 43.29 L456.18 43.69 L456.9 44.2 L457.63 44.8 L458.36 45.5 L459.08 46.26 L459.81 47.05 L460.54 47.85 L461.26 48.61 L461.99 49.29 L462.71 49.88 L463.44 50.36 L464.17 50.73 L464.89 50.98 L465.62 51.13 L466.35 51.19 L467.07 51.17 L467.8 51.07 L468.52 50.9 L469.25 50.65 L469.98 50.32 L470.7 49.91 L471.43 49.44 L472.16 48.9 L472.88 48.31 L473.61 47.68 L474.33 47.04 L475.06 46.41 L475.79 45.8 L476.51 45.23 L477.24 44.7 L477.96 44.24 L478.69 43.83 L479.42 43.49 L480.14 43.21 L480.87 42.98 L481.6 42.8 L482.32 42.66 L483.05 42.55 L483.77 42.47 L484.5 42.42 L485.23 42.38 L485.95 42.36 L486.68 42.35 L487.41 42.35 L488.13 42.37 L488.86 42.41 L489.58 42.48 L490.31 42.6 L491.04 42.77 L491.76 43.02 L492.49 43.38 L493.22 43.87 L493.94 44.52 L494.67 45.34 L495.39 46.34 L496.12 47.52 L496.85 48.84 L497.57 50.27 L498.3 51.74 L499.03 53.18 L499.75 54.5 L500.48 55.64 L501.2 56.54 L501.93 57.14 L502.66 57.45 L503.38 57.49 L504.11 57.31 L504.84 57.03 L505.56 56.78 L506.29 56.73 L507.01 57.05 L507.74 57.87 L508.47 59.27 L509.19 61.23 L509.92 63.62 L510.64 66.24 L511.37 68.84 L512.1 71.18 L512.82 73.04 L513.55 74.26 L514.28 74.74 L515 74.44 L515.73 73.34 L516.45 71.47 L517.18 68.93 L517.91 65.85 L518.63 62.42 L519.36 58.87 L520.09 55.42 L520.81 52.28 L521.54 49.59 L522.26 47.41 L522.99 45.74 L523.72 44.52 L524.44 43.68 L525.17 43.12 L525.9 42.77 L526.62 42.56 L527.35 42.43 L528.07 42.36 L528.8 42.33 L529.53 42.31 L530.25 42.3 L530.98 42.29 L531.71 42.29 L532.43 42.29 L533.16 42.29 L533.88 42.29 L534.61 42.29 L535.34 42.29 L536.06 42.29 L536.79 42.29 L537.52 42.29 L538.24 42.29 L538.97 42.29 L539.69 42.29 L540.42 42.29 L541.15 42.29 L541.87 42.3 L542.6 42.33 L543.32 42.39 L544.05 42.54 L544.78 42.82 L545.5 43.32 L546.23 44.08 L546.96 45.06 L547.68 46.12 L548.41 47.04 L549.13 47.58 L549.86 47.58 L550.59 47.04 L551.31 46.12 L552.04 45.06 L552.77 44.08 L553.49 43.32 L554.22 42.82 L554.94 42.54 L555.67 42.39 L556.4 42.33 L557.12 42.3 L557.85 42.29 L558.58 42.29 L559.3 42.29 L560.03 42.29 L560.75 42.29 L561.48 42.29 L562.21 42.29 L562.93 42.29 L563.66 42.29 L564.39 42.29 L565.11 42.29 L565.84 42.29 L566.56 42.29 L567.29 42.29 L568.02 42.29 L568.74 42.29 L569.47 42.29 L570.2 42.29 L570.92 42.29 L571.65 42.29 L572.37 42.29 L573.1 42.29" fill="none" stroke="#d62728" stroke-width="2.2" stroke-linejoin="round"/>
<line x1="469.61" y1="0.45" x2="469.61" y2="119" stroke="#1f77b4" stroke-width="1.2" stroke-dasharray="3.2 2"/>
<line x1="502.47" y1="0.45" x2="502.47" y2="119" stroke="#2ca02c" stroke-width="1.2" stroke-dasharray="3.2 2"/>
<line x1="514.46" y1="0.45" x2="514.46" y2="119" stroke="#9467bd" stroke-width="1.2" stroke-dasharray="3.2 2"/>
<line x1="534.07" y1="0.45" x2="534.07" y2="119" stroke="#ff7f0e" stroke-width="1.2" stroke-dasharray="3.2 2"/>
<text x="426.8" y="36.8" font-size="12.4" font-family='"Liberation Serif", serif' transform="rotate(-90 426.8 36.8)" textLength="38" lengthAdjust="spacingAndGlyphs" fill="#1f77b4">SiII 1259</text>
<line x1="430.1" y1="21" x2="430.1" y2="35.5" stroke="#1f77b4" stroke-width="1.3"/>
<text x="459" y="36.8" font-size="12.4" font-family='"Liberation Serif", serif' transform="rotate(-90 459 36.8)" textLength="38" lengthAdjust="spacingAndGlyphs" fill="#2ca02c">SiII 1259</text>
<line x1="462.6" y1="21" x2="462.6" y2="35.5" stroke="#2ca02c" stroke-width="1.3"/>
<text x="470.8" y="36.8" font-size="12.4" font-family='"Liberation Serif", serif' transform="rotate(-90 470.8 36.8)" textLength="38" lengthAdjust="spacingAndGlyphs" fill="#9467bd">SiII 1259</text>
<line x1="474.7" y1="21" x2="474.7" y2="35.5" stroke="#9467bd" stroke-width="1.3"/>
<text x="490.3" y="36.8" font-size="12.4" font-family='"Liberation Serif", serif' transform="rotate(-90 490.3 36.8)" textLength="38" lengthAdjust="spacingAndGlyphs" fill="#ff7f0e">SiII 1259</text>
<line x1="494.2" y1="21" x2="494.2" y2="35.5" stroke="#ff7f0e" stroke-width="1.3"/>
</g>
<rect x="409.7" y="0.45" width="163.4" height="118.55" fill="none" stroke="#000" stroke-width="1.4"/>
<path d="M418.78 119v-5.5M418.78 0.45v5.5M455.09 119v-5.5M455.09 0.45v5.5M491.4 119v-5.5M491.4 0.45v5.5M527.71 119v-5.5M527.71 0.45v5.5M564.02 119v-5.5M564.02 0.45v5.5M409.7 119v-3.2M409.7 0.45v3.2M418.78 119v-3.2M418.78 0.45v3.2M427.86 119v-3.2M427.86 0.45v3.2M436.93 119v-3.2M436.93 0.45v3.2M446.01 119v-3.2M446.01 0.45v3.2M455.09 119v-3.2M455.09 0.45v3.2M464.17 119v-3.2M464.17 0.45v3.2M473.24 119v-3.2M473.24 0.45v3.2M482.32 119v-3.2M482.32 0.45v3.2M491.4 119v-3.2M491.4 0.45v3.2M500.48 119v-3.2M500.48 0.45v3.2M509.56 119v-3.2M509.56 0.45v3.2M518.63 119v-3.2M518.63 0.45v3.2M527.71 119v-3.2M527.71 0.45v3.2M536.79 119v-3.2M536.79 0.45v3.2M545.87 119v-3.2M545.87 0.45v3.2M554.94 119v-3.2M554.94 0.45v3.2M564.02 119v-3.2M564.02 0.45v3.2M573.1 119v-3.2M573.1 0.45v3.2M409.7 112.03h5.5M573.1 112.03h-5.5M409.7 77.16h5.5M573.1 77.16h-5.5M409.7 42.29h5.5M573.1 42.29h-5.5M409.7 7.42h5.5M573.1 7.42h-5.5M409.7 119h3.2M573.1 119h-3.2M409.7 112.03h3.2M573.1 112.03h-3.2M409.7 105.05h3.2M573.1 105.05h-3.2M409.7 98.08h3.2M573.1 98.08h-3.2M409.7 91.11h3.2M573.1 91.11h-3.2M409.7 84.13h3.2M573.1 84.13h-3.2M409.7 77.16h3.2M573.1 77.16h-3.2M409.7 70.19h3.2M573.1 70.19h-3.2M409.7 63.21h3.2M573.1 63.21h-3.2M409.7 56.24h3.2M573.1 56.24h-3.2M409.7 49.26h3.2M573.1 49.26h-3.2M409.7 42.29h3.2M573.1 42.29h-3.2M409.7 35.32h3.2M573.1 35.32h-3.2M409.7 28.34h3.2M573.1 28.34h-3.2M409.7 21.37h3.2M573.1 21.37h-3.2M409.7 14.4h3.2M573.1 14.4h-3.2M409.7 7.42h3.2M573.1 7.42h-3.2M409.7 0.45h3.2M573.1 0.45h-3.2" stroke="#000" stroke-width="1.1" fill="none"/>
<text x="417.78" y="131.6" font-size="12.6" font-family='"Liberation Serif", serif' textLength="25.5" lengthAdjust="spacingAndGlyphs" text-anchor="middle">−400</text>
<text x="454.09" y="131.6" font-size="12.6" font-family='"Liberation Serif", serif' textLength="25.5" lengthAdjust="spacingAndGlyphs" text-anchor="middle">−200</text>
<text x="491.4" y="131.6" font-size="12.6" font-family='"Liberation Serif", serif' textLength="5.9" lengthAdjust="spacingAndGlyphs" text-anchor="middle">0</text>
<text x="527.71" y="131.6" font-size="12.6" font-family='"Liberation Serif", serif' textLength="18.9" lengthAdjust="spacingAndGlyphs" text-anchor="middle">200</text>
<text x="564.02" y="131.6" font-size="12.6" font-family='"Liberation Serif", serif' textLength="18.9" lengthAdjust="spacingAndGlyphs" text-anchor="middle">400</text>
<text x="412.4" y="105.2" font-size="12" font-family='"Liberation Serif", serif'>Si II 1260</text>
<text x="491.9" y="146.2" font-size="12.2" font-family='"Liberation Serif", serif' text-anchor="middle">v [km s<tspan dy="-5" font-size="8.6">−1</tspan><tspan dy="5">]</tspan></text>
<clipPath id="c1_4"><rect x="596.5" y="0.45" width="163.4" height="118.55"/></clipPath>
<g clip-path="url(#c1_4)">
<path d="M598.04 40.93V55.17M601.13 39.97V55.82M604.22 30V48.04M607.3 47.63V59.35M610.39 32.65V53.33M613.48 58.77V70.15M616.56 38.84V57.31M619.65 42.76V62.16M622.73 41.16V52.5M625.82 46.49V65.33M628.91 44.14V58.87M631.99 35.28V52.09M635.08 40.27V51.52M638.17 35.79V47.4M641.25 42.03V54.96M644.34 34.09V54.58M647.43 33.33V46.41M650.51 34.86V53.4M653.6 37.35V57.59M656.69 24.74V45.09M659.77 43.12V57.64M662.86 46.21V60.83M665.94 41.74V58.02M669.03 35.58V54.31M672.12 38.09V50.3M675.2 40.43V58.89M678.29 29V47.95M681.38 39.93V59.48M684.46 46.06V57.57M687.55 41.86V62.26M690.64 39.71V51.76M693.72 48.6V63.08M696.81 52.7V69.82M699.9 42.13V62.25M702.98 63.25V77.73M706.07 47.24V67.42M709.16 38.19V54.66M712.24 29.82V44.03M715.33 45.39V59.64M718.41 53.28V66.17M721.5 38.68V50.6M724.59 44.11V56.72M727.67 40.82V58.7M730.76 35.17V56.06M733.85 40.41V53.15M736.93 35.05V46.69M740.02 34V54.79M743.11 27.81V44.18M746.19 27.38V42.5M749.28 35.4V48.87M752.37 36.02V52.98M755.45 29.1V48.32M758.54 32.16V47.76" stroke="#b8b8b8" stroke-width="0.8" fill="none"/>
<path d="M596.5 48.05 L599.59 48.05 L599.59 47.9 L602.67 47.9 L602.67 39.02 L605.76 39.02 L605.76 53.49 L608.85 53.49 L608.85 42.99 L611.93 42.99 L611.93 64.46 L615.02 64.46 L615.02 48.07 L618.11 48.07 L618.11 52.46 L621.19 52.46 L621.19 46.83 L624.28 46.83 L624.28 55.91 L627.36 55.91 L627.36 51.51 L630.45 51.51 L630.45 43.69 L633.54 43.69 L633.54 45.9 L636.62 45.9 L636.62 41.59 L639.71 41.59 L639.71 48.5 L642.8 48.5 L642.8 44.33 L645.88 44.33 L645.88 39.87 L648.97 39.87 L648.97 44.13 L652.06 44.13 L652.06 47.47 L655.14 47.47 L655.14 34.92 L658.23 34.92 L658.23 50.38 L661.32 50.38 L661.32 53.52 L664.4 53.52 L664.4 49.88 L667.49 49.88 L667.49 44.94 L670.57 44.94 L670.57 44.2 L673.66 44.2 L673.66 49.66 L676.75 49.66 L676.75 38.47 L679.83 38.47 L679.83 49.7 L682.92 49.7 L682.92 51.81 L686.01 51.81 L686.01 52.06 L689.09 52.06 L689.09 45.73 L692.18 45.73 L692.18 55.84 L695.27 55.84 L695.27 61.26 L698.35 61.26 L698.35 52.19 L701.44 52.19 L701.44 70.49 L704.53 70.49 L704.53 57.33 L707.61 57.33 L707.61 46.43 L710.7 46.43 L710.7 36.92 L713.78 36.92 L713.78 52.52 L716.87 52.52 L716.87 59.72 L719.96 59.72 L719.96 44.64 L723.04 44.64 L723.04 50.42 L726.13 50.42 L726.13 49.76 L729.22 49.76 L729.22 45.62 L732.3 45.62 L732.3 46.78 L735.39 46.78 L735.39 40.87 L738.48 40.87 L738.48 44.4 L741.56 44.4 L741.56 36 L744.65 36 L744.65 34.94 L747.74 34.94 L747.74 42.13 L750.82 42.13 L750.82 44.5 L753.91 44.5 L753.91 38.71 L757 38.71 L757 39.96 L760.08 39.96" fill="none" stroke="#8a8a8a" stroke-width="1.7" stroke-linejoin="round" stroke-linejoin="miter"/>
<path d="M673.66 49.66 L676.75 49.66 L676.75 38.47 L679.83 38.47 L679.83 49.7 L682.92 49.7 L682.92 51.81 L686.01 51.81 L686.01 52.06 L689.09 52.06 L689.09 45.73 L692.18 45.73 L692.18 55.84 L695.27 55.84 L695.27 61.26 L698.35 61.26 L698.35 52.19 L701.44 52.19 L701.44 70.49 L704.53 70.49 L704.53 57.33 L707.61 57.33 L707.61 46.43 L710.7 46.43 L710.7 36.92 L713.78 36.92 L713.78 52.52 L716.87 52.52 L716.87 59.72 L719.96 59.72 L719.96 44.64 L723.04 44.64 L723.04 50.42 L726.13 50.42 L726.13 49.76 L729.22 49.76 L729.22 45.62 L732.3 45.62 L732.3 46.78 L735.39 46.78" fill="none" stroke="#000" stroke-width="1.5" stroke-linejoin="round" stroke-linejoin="miter"/>
<line x1="596.5" y1="112.03" x2="759.9" y2="112.03" stroke="#777" stroke-width="1" stroke-dasharray="1.6 1.6"/>
<path d="M596.5 42.29 L597.23 42.29 L597.95 42.29 L598.68 42.29 L599.4 42.29 L600.13 42.29 L600.86 42.29 L601.58 42.29 L602.31 42.29 L603.04 42.29 L603.76 42.29 L604.49 42.29 L605.21 42.29 L605.94 42.29 L606.67 42.29 L607.39 42.29 L608.12 42.29 L608.85 42.29 L609.57 42.29 L610.3 42.29 L611.02 42.29 L611.75 42.29 L612.48 42.29 L613.2 42.29 L613.93 42.29 L614.66 42.29 L615.38 42.29 L616.11 42.29 L616.83 42.29 L617.56 42.29 L618.29 42.29 L619.01 42.29 L619.74 42.29 L620.47 42.29 L621.19 42.29 L621.92 42.29 L622.64 42.29 L623.37 42.29 L624.1 42.29 L624.82 42.29 L625.55 42.29 L626.28 42.29 L627 42.29 L627.73 42.29 L628.45 42.29 L629.18 42.29 L629.91 42.29 L630.63 42.29 L631.36 42.29 L632.08 42.29 L632.81 42.29 L633.54 42.29 L634.26 42.29 L634.99 42.29 L635.72 42.29 L636.44 42.29 L637.17 42.3 L637.89 42.3 L638.62 42.31 L639.35 42.31 L640.07 42.33 L640.8 42.34 L641.53 42.37 L642.25 42.41 L642.98 42.46 L643.7 42.53 L644.43 42.62 L645.16 42.73 L645.88 42.87 L646.61 43.04 L647.34 43.24 L648.06 43.47 L648.79 43.73 L649.51 44.01 L650.24 44.3 L650.97 44.59 L651.69 44.87 L652.42 45.13 L653.15 45.35 L653.87 45.53 L654.6 45.64 L655.32 45.69 L656.05 45.67 L656.78 45.59 L657.5 45.45 L658.23 45.25 L658.96 45.01 L659.68 44.74 L660.41 44.45 L661.13 44.15 L661.86 43.87 L662.59 43.6 L663.31 43.36 L664.04 43.14 L664.76 42.95 L665.49 42.8 L666.22 42.67 L666.94 42.57 L667.67 42.49 L668.4 42.43 L669.12 42.39 L669.85 42.36 L670.57 42.33 L671.3 42.32 L672.03 42.31 L672.75 42.3 L673.48 42.3 L674.21 42.3 L674.93 42.29 L675.66 42.29 L676.38 42.29 L677.11 42.29 L677.84 42.29 L678.56 42.29 L679.29 42.29 L680.02 42.29 L680.74 42.29 L681.47 42.29 L682.19 42.29 L682.92 42.29 L683.65 42.29 L684.37 42.29 L685.1 42.29 L685.83 42.29 L686.55 42.29 L687.28 42.29 L688 42.29 L688.73 42.29 L689.46 42.29 L690.18 42.29 L690.91 42.29 L691.64 42.29 L692.36 42.29 L693.09 42.29 L693.81 42.29 L694.54 42.29 L695.27 42.29 L695.99 42.29 L696.72 42.29 L697.44 42.29 L698.17 42.29 L698.9 42.29 L699.62 42.29 L700.35 42.29 L701.08 42.29 L701.8 42.29 L702.53 42.29 L703.25 42.29 L703.98 42.29 L704.71 42.29 L705.43 42.29 L706.16 42.29 L706.89 42.29 L707.61 42.29 L708.34 42.29 L709.06 42.29 L709.79 42.29 L710.52 42.29 L711.24 42.29 L711.97 42.29 L712.7 42.29 L713.42 42.29 L714.15 42.29 L714.87 42.29 L715.6 42.29 L716.33 42.29 L717.05 42.29 L717.78 42.29 L718.51 42.29 L719.23 42.29 L719.96 42.29 L720.68 42.29 L721.41 42.29 L722.14 42.29 L722.86 42.29 L723.59 42.29 L724.32 42.29 L725.04 42.29 L725.77 42.29 L726.49 42.29 L727.22 42.29 L727.95 42.29 L728.67 42.29 L729.4 42.29 L730.12 42.29 L730.85 42.29 L731.58 42.29 L732.3 42.29 L733.03 42.29 L733.76 42.29 L734.48 42.29 L735.21 42.29 L735.93 42.29 L736.66 42.29 L737.39 42.29 L738.11 42.29 L738.84 42.29 L739.57 42.29 L740.29 42.29 L741.02 42.29 L741.74 42.29 L742.47 42.29 L743.2 42.29 L743.92 42.29 L744.65 42.29 L745.38 42.29 L746.1 42.29 L746.83 42.29 L747.55 42.29 L748.28 42.29 L749.01 42.29 L749.73 42.29 L750.46 42.29 L751.19 42.29 L751.91 42.29 L752.64 42.29 L753.36 42.29 L754.09 42.29 L754.82 42.29 L755.54 42.29 L756.27 42.29 L757 42.29 L757.72 42.29 L758.45 42.29 L759.17 42.29 L759.9 42.29" fill="none" stroke="#1f77b4" stroke-width="1.8" stroke-linejoin="round"/>
<path d="M596.5 42.29 L597.23 42.29 L597.95 42.29 L598.68 42.29 L599.4 42.29 L600.13 42.29 L600.86 42.29 L601.58 42.29 L602.31 42.29 L603.04 42.29 L603.76 42.29 L604.49 42.29 L605.21 42.29 L605.94 42.29 L606.67 42.29 L607.39 42.29 L608.12 42.29 L608.85 42.29 L609.57 42.29 L610.3 42.29 L611.02 42.29 L611.75 42.29 L612.48 42.29 L613.2 42.29 L613.93 42.29 L614.66 42.29 L615.38 42.29 L616.11 42.29 L616.83 42.29 L617.56 42.29 L618.29 42.29 L619.01 42.29 L619.74 42.29 L620.47 42.29 L621.19 42.29 L621.92 42.29 L622.64 42.29 L623.37 42.29 L624.1 42.29 L624.82 42.29 L625.55 42.29 L626.28 42.29 L627 42.29 L627.73 42.29 L628.45 42.29 L629.18 42.29 L629.91 42.29 L630.63 42.29 L631.36 42.29 L632.08 42.29 L632.81 42.29 L633.54 42.29 L634.26 42.29 L634.99 42.29 L635.72 42.29 L636.44 42.29 L637.17 42.29 L637.89 42.29 L638.62 42.29 L639.35 42.29 L640.07 42.29 L640.8 42.29 L641.53 42.29 L642.25 42.29 L642.98 42.29 L643.7 42.29 L644.43 42.29 L645.16 42.29 L645.88 42.29 L646.61 42.29 L647.34 42.29 L648.06 42.29 L648.79 42.29 L649.51 42.29 L650.24 42.29 L650.97 42.29 L651.69 42.29 L652.42 42.29 L653.15 42.29 L653.87 42.29 L654.6 42.29 L655.32 42.29 L656.05 42.29 L656.78 42.29 L657.5 42.29 L658.23 42.29 L658.96 42.29 L659.68 42.29 L660.41 42.29 L661.13 42.29 L661.86 42.29 L662.59 42.29 L663.31 42.29 L664.04 42.29 L664.76 42.29 L665.49 42.29 L666.22 42.29 L666.94 42.29 L667.67 42.29 L668.4 42.29 L669.12 42.29 L669.85 42.29 L670.57 42.29 L671.3 42.3 L672.03 42.3 L672.75 42.3 L673.48 42.31 L674.21 42.33 L674.93 42.36 L675.66 42.4 L676.38 42.46 L677.11 42.55 L677.84 42.68 L678.56 42.86 L679.29 43.1 L680.02 43.41 L680.74 43.81 L681.47 44.3 L682.19 44.88 L682.92 45.53 L683.65 46.25 L684.37 47 L685.1 47.75 L685.83 48.46 L686.55 49.09 L687.28 49.6 L688 49.97 L688.73 50.15 L689.46 50.15 L690.18 49.97 L690.91 49.6 L691.64 49.09 L692.36 48.46 L693.09 47.75 L693.81 47 L694.54 46.25 L695.27 45.53 L695.99 44.88 L696.72 44.3 L697.44 43.81 L698.17 43.41 L698.9 43.1 L699.62 42.86 L700.35 42.68 L701.08 42.55 L701.8 42.46 L702.53 42.4 L703.25 42.36 L703.98 42.33 L704.71 42.31 L705.43 42.3 L706.16 42.3 L706.89 42.3 L707.61 42.29 L708.34 42.29 L709.06 42.29 L709.79 42.29 L710.52 42.29 L711.24 42.29 L711.97 42.29 L712.7 42.29 L713.42 42.29 L714.15 42.29 L714.87 42.29 L715.6 42.29 L716.33 42.29 L717.05 42.29 L717.78 42.29 L718.51 42.29 L719.23 42.29 L719.96 42.29 L720.68 42.29 L721.41 42.29 L722.14 42.29 L722.86 42.29 L723.59 42.29 L724.32 42.29 L725.04 42.29 L725.77 42.29 L726.49 42.29 L727.22 42.29 L727.95 42.29 L728.67 42.29 L729.4 42.29 L730.12 42.29 L730.85 42.29 L731.58 42.29 L732.3 42.29 L733.03 42.29 L733.76 42.29 L734.48 42.29 L735.21 42.29 L735.93 42.29 L736.66 42.29 L737.39 42.29 L738.11 42.29 L738.84 42.29 L739.57 42.29 L740.29 42.29 L741.02 42.29 L741.74 42.29 L742.47 42.29 L743.2 42.29 L743.92 42.29 L744.65 42.29 L745.38 42.29 L746.1 42.29 L746.83 42.29 L747.55 42.29 L748.28 42.29 L749.01 42.29 L749.73 42.29 L750.46 42.29 L751.19 42.29 L751.91 42.29 L752.64 42.29 L753.36 42.29 L754.09 42.29 L754.82 42.29 L755.54 42.29 L756.27 42.29 L757 42.29 L757.72 42.29 L758.45 42.29 L759.17 42.29 L759.9 42.29" fill="none" stroke="#2ca02c" stroke-width="1.8" stroke-linejoin="round"/>
<path d="M596.5 42.29 L597.23 42.29 L597.95 42.29 L598.68 42.29 L599.4 42.29 L600.13 42.29 L600.86 42.29 L601.58 42.29 L602.31 42.29 L603.04 42.29 L603.76 42.29 L604.49 42.29 L605.21 42.29 L605.94 42.29 L606.67 42.29 L607.39 42.29 L608.12 42.29 L608.85 42.29 L609.57 42.29 L610.3 42.29 L611.02 42.29 L611.75 42.29 L612.48 42.29 L613.2 42.29 L613.93 42.29 L614.66 42.29 L615.38 42.29 L616.11 42.29 L616.83 42.29 L617.56 42.29 L618.29 42.29 L619.01 42.29 L619.74 42.29 L620.47 42.29 L621.19 42.29 L621.92 42.29 L622.64 42.29 L623.37 42.29 L624.1 42.29 L624.82 42.29 L625.55 42.29 L626.28 42.29 L627 42.29 L627.73 42.29 L628.45 42.29 L629.18 42.29 L629.91 42.29 L630.63 42.29 L631.36 42.29 L632.08 42.29 L632.81 42.29 L633.54 42.29 L634.26 42.29 L634.99 42.29 L635.72 42.29 L636.44 42.29 L637.17 42.29 L637.89 42.29 L638.62 42.29 L639.35 42.29 L640.07 42.29 L640.8 42.29 L641.53 42.29 L642.25 42.29 L642.98 42.29 L643.7 42.29 L644.43 42.29 L645.16 42.29 L645.88 42.29 L646.61 42.29 L647.34 42.29 L648.06 42.29 L648.79 42.29 L649.51 42.29 L650.24 42.29 L650.97 42.29 L651.69 42.29 L652.42 42.29 L653.15 42.29 L653.87 42.29 L654.6 42.29 L655.32 42.29 L656.05 42.29 L656.78 42.29 L657.5 42.29 L658.23 42.29 L658.96 42.29 L659.68 42.29 L660.41 42.29 L661.13 42.29 L661.86 42.29 L662.59 42.29 L663.31 42.29 L664.04 42.29 L664.76 42.29 L665.49 42.29 L666.22 42.29 L666.94 42.29 L667.67 42.29 L668.4 42.29 L669.12 42.29 L669.85 42.29 L670.57 42.29 L671.3 42.29 L672.03 42.29 L672.75 42.29 L673.48 42.29 L674.21 42.29 L674.93 42.29 L675.66 42.29 L676.38 42.29 L677.11 42.29 L677.84 42.29 L678.56 42.29 L679.29 42.29 L680.02 42.29 L680.74 42.29 L681.47 42.29 L682.19 42.29 L682.92 42.29 L683.65 42.29 L684.37 42.29 L685.1 42.29 L685.83 42.29 L686.55 42.3 L687.28 42.3 L688 42.32 L688.73 42.34 L689.46 42.39 L690.18 42.48 L690.91 42.63 L691.64 42.87 L692.36 43.26 L693.09 43.83 L693.81 44.64 L694.54 45.73 L695.27 47.12 L695.99 48.79 L696.72 50.68 L697.44 52.68 L698.17 54.65 L698.9 56.44 L699.62 57.88 L700.35 58.87 L701.08 59.3 L701.8 59.16 L702.53 58.44 L703.25 57.21 L703.98 55.58 L704.71 53.68 L705.43 51.68 L706.16 49.72 L706.89 47.92 L707.61 46.39 L708.34 45.15 L709.06 44.2 L709.79 43.51 L710.52 43.04 L711.24 42.73 L711.97 42.54 L712.7 42.43 L713.42 42.36 L714.15 42.33 L714.87 42.31 L715.6 42.3 L716.33 42.29 L717.05 42.29 L717.78 42.29 L718.51 42.29 L719.23 42.29 L719.96 42.29 L720.68 42.29 L721.41 42.29 L722.14 42.29 L722.86 42.29 L723.59 42.29 L724.32 42.29 L725.04 42.29 L725.77 42.29 L726.49 42.29 L727.22 42.29 L727.95 42.29 L728.67 42.29 L729.4 42.29 L730.12 42.29 L730.85 42.29 L731.58 42.29 L732.3 42.29 L733.03 42.29 L733.76 42.29 L734.48 42.29 L735.21 42.29 L735.93 42.29 L736.66 42.29 L737.39 42.29 L738.11 42.29 L738.84 42.29 L739.57 42.29 L740.29 42.29 L741.02 42.29 L741.74 42.29 L742.47 42.29 L743.2 42.29 L743.92 42.29 L744.65 42.29 L745.38 42.29 L746.1 42.29 L746.83 42.29 L747.55 42.29 L748.28 42.29 L749.01 42.29 L749.73 42.29 L750.46 42.29 L751.19 42.29 L751.91 42.29 L752.64 42.29 L753.36 42.29 L754.09 42.29 L754.82 42.29 L755.54 42.29 L756.27 42.29 L757 42.29 L757.72 42.29 L758.45 42.29 L759.17 42.29 L759.9 42.29" fill="none" stroke="#9467bd" stroke-width="1.8" stroke-linejoin="round"/>
<line x1="596.5" y1="42.29" x2="759.9" y2="42.29" stroke="#ff00ff" stroke-width="2.3"/>
<path d="M596.5 42.29 L597.23 42.29 L597.95 42.29 L598.68 42.29 L599.4 42.29 L600.13 42.29 L600.86 42.29 L601.58 42.29 L602.31 42.29 L603.04 42.29 L603.76 42.29 L604.49 42.29 L605.21 42.29 L605.94 42.29 L606.67 42.29 L607.39 42.29 L608.12 42.29 L608.85 42.29 L609.57 42.29 L610.3 42.29 L611.02 42.29 L611.75 42.29 L612.48 42.29 L613.2 42.29 L613.93 42.29 L614.66 42.29 L615.38 42.29 L616.11 42.29 L616.83 42.29 L617.56 42.29 L618.29 42.29 L619.01 42.29 L619.74 42.29 L620.47 42.29 L621.19 42.29 L621.92 42.29 L622.64 42.29 L623.37 42.29 L624.1 42.29 L624.82 42.29 L625.55 42.29 L626.28 42.29 L627 42.29 L627.73 42.29 L628.45 42.29 L629.18 42.29 L629.91 42.29 L630.63 42.29 L631.36 42.29 L632.08 42.29 L632.81 42.29 L633.54 42.29 L634.26 42.29 L634.99 42.29 L635.72 42.29 L636.44 42.29 L637.17 42.3 L637.89 42.3 L638.62 42.31 L639.35 42.31 L640.07 42.33 L640.8 42.34 L641.53 42.37 L642.25 42.41 L642.98 42.46 L643.7 42.53 L644.43 42.62 L645.16 42.73 L645.88 42.87 L646.61 43.04 L647.34 43.24 L648.06 43.47 L648.79 43.73 L649.51 44.01 L650.24 44.3 L650.97 44.59 L651.69 44.87 L652.42 45.13 L653.15 45.35 L653.87 45.53 L654.6 45.64 L655.32 45.69 L656.05 45.67 L656.78 45.59 L657.5 45.45 L658.23 45.25 L658.96 45.01 L659.68 44.74 L660.41 44.45 L661.13 44.15 L661.86 43.87 L662.59 43.6 L663.31 43.36 L664.04 43.14 L664.76 42.95 L665.49 42.8 L666.22 42.67 L666.94 42.57 L667.67 42.49 L668.4 42.43 L669.12 42.39 L669.85 42.36 L670.57 42.34 L671.3 42.32 L672.03 42.32 L672.75 42.32 L673.48 42.32 L674.21 42.33 L674.93 42.36 L675.66 42.4 L676.38 42.46 L677.11 42.55 L677.84 42.68 L678.56 42.86 L679.29 43.1 L680.02 43.41 L680.74 43.81 L681.47 44.3 L682.19 44.88 L682.92 45.53 L683.65 46.25 L684.37 47 L685.1 47.75 L685.83 48.46 L686.55 49.1 L687.28 49.61 L688 49.99 L688.73 50.2 L689.46 50.24 L690.18 50.13 L690.91 49.9 L691.64 49.61 L692.36 49.34 L693.09 49.16 L693.81 49.19 L694.54 49.49 L695.27 50.14 L695.99 51.14 L696.72 52.45 L697.44 53.98 L698.17 55.58 L698.9 57.08 L699.62 58.32 L700.35 59.16 L701.08 59.5 L701.8 59.28 L702.53 58.52 L703.25 57.26 L703.98 55.61 L704.71 53.7 L705.43 51.69 L706.16 49.72 L706.89 47.93 L707.61 46.39 L708.34 45.15 L709.06 44.2 L709.79 43.51 L710.52 43.04 L711.24 42.73 L711.97 42.54 L712.7 42.43 L713.42 42.36 L714.15 42.33 L714.87 42.31 L715.6 42.3 L716.33 42.29 L717.05 42.29 L717.78 42.29 L718.51 42.29 L719.23 42.29 L719.96 42.29 L720.68 42.29 L721.41 42.29 L722.14 42.29 L722.86 42.29 L723.59 42.29 L724.32 42.29 L725.04 42.29 L725.77 42.29 L726.49 42.29 L727.22 42.29 L727.95 42.29 L728.67 42.29 L729.4 42.29 L730.12 42.29 L730.85 42.29 L731.58 42.29 L732.3 42.29 L733.03 42.29 L733.76 42.29 L734.48 42.29 L735.21 42.29 L735.93 42.29 L736.66 42.29 L737.39 42.29 L738.11 42.29 L738.84 42.29 L739.57 42.29 L740.29 42.29 L741.02 42.29 L741.74 42.29 L742.47 42.29 L743.2 42.29 L743.92 42.29 L744.65 42.29 L745.38 42.29 L746.1 42.29 L746.83 42.29 L747.55 42.29 L748.28 42.29 L749.01 42.29 L749.73 42.29 L750.46 42.29 L751.19 42.29 L751.91 42.29 L752.64 42.29 L753.36 42.29 L754.09 42.29 L754.82 42.29 L755.54 42.29 L756.27 42.29 L757 42.29 L757.72 42.29 L758.45 42.29 L759.17 42.29 L759.9 42.29" fill="none" stroke="#d62728" stroke-width="2.2" stroke-linejoin="round"/>
<line x1="656.41" y1="0.45" x2="656.41" y2="119" stroke="#1f77b4" stroke-width="1.2" stroke-dasharray="3.2 2"/>
<line x1="689.27" y1="0.45" x2="689.27" y2="119" stroke="#2ca02c" stroke-width="1.2" stroke-dasharray="3.2 2"/>
<line x1="701.26" y1="0.45" x2="701.26" y2="119" stroke="#9467bd" stroke-width="1.2" stroke-dasharray="3.2 2"/>
<line x1="720.87" y1="0.45" x2="720.87" y2="119" stroke="#ff7f0e" stroke-width="1.2" stroke-dasharray="3.2 2"/>
</g>
<rect x="596.5" y="0.45" width="163.4" height="118.55" fill="none" stroke="#000" stroke-width="1.4"/>
<path d="M605.58 119v-5.5M605.58 0.45v5.5M641.89 119v-5.5M641.89 0.45v5.5M678.2 119v-5.5M678.2 0.45v5.5M714.51 119v-5.5M714.51 0.45v5.5M750.82 119v-5.5M750.82 0.45v5.5M596.5 119v-3.2M596.5 0.45v3.2M605.58 119v-3.2M605.58 0.45v3.2M614.66 119v-3.2M614.66 0.45v3.2M623.73 119v-3.2M623.73 0.45v3.2M632.81 119v-3.2M632.81 0.45v3.2M641.89 119v-3.2M641.89 0.45v3.2M650.97 119v-3.2M650.97 0.45v3.2M660.04 119v-3.2M660.04 0.45v3.2M669.12 119v-3.2M669.12 0.45v3.2M678.2 119v-3.2M678.2 0.45v3.2M687.28 119v-3.2M687.28 0.45v3.2M696.36 119v-3.2M696.36 0.45v3.2M705.43 119v-3.2M705.43 0.45v3.2M714.51 119v-3.2M714.51 0.45v3.2M723.59 119v-3.2M723.59 0.45v3.2M732.67 119v-3.2M732.67 0.45v3.2M741.74 119v-3.2M741.74 0.45v3.2M750.82 119v-3.2M750.82 0.45v3.2M759.9 119v-3.2M759.9 0.45v3.2M596.5 112.03h5.5M759.9 112.03h-5.5M596.5 77.16h5.5M759.9 77.16h-5.5M596.5 42.29h5.5M759.9 42.29h-5.5M596.5 7.42h5.5M759.9 7.42h-5.5M596.5 119h3.2M759.9 119h-3.2M596.5 112.03h3.2M759.9 112.03h-3.2M596.5 105.05h3.2M759.9 105.05h-3.2M596.5 98.08h3.2M759.9 98.08h-3.2M596.5 91.11h3.2M759.9 91.11h-3.2M596.5 84.13h3.2M759.9 84.13h-3.2M596.5 77.16h3.2M759.9 77.16h-3.2M596.5 70.19h3.2M759.9 70.19h-3.2M596.5 63.21h3.2M759.9 63.21h-3.2M596.5 56.24h3.2M759.9 56.24h-3.2M596.5 49.26h3.2M759.9 49.26h-3.2M596.5 42.29h3.2M759.9 42.29h-3.2M596.5 35.32h3.2M759.9 35.32h-3.2M596.5 28.34h3.2M759.9 28.34h-3.2M596.5 21.37h3.2M759.9 21.37h-3.2M596.5 14.4h3.2M759.9 14.4h-3.2M596.5 7.42h3.2M759.9 7.42h-3.2M596.5 0.45h3.2M759.9 0.45h-3.2" stroke="#000" stroke-width="1.1" fill="none"/>
<text x="604.58" y="131.6" font-size="12.6" font-family='"Liberation Serif", serif' textLength="25.5" lengthAdjust="spacingAndGlyphs" text-anchor="middle">−400</text>
<text x="640.89" y="131.6" font-size="12.6" font-family='"Liberation Serif", serif' textLength="25.5" lengthAdjust="spacingAndGlyphs" text-anchor="middle">−200</text>
<text x="678.2" y="131.6" font-size="12.6" font-family='"Liberation Serif", serif' textLength="5.9" lengthAdjust="spacingAndGlyphs" text-anchor="middle">0</text>
<text x="714.51" y="131.6" font-size="12.6" font-family='"Liberation Serif", serif' textLength="18.9" lengthAdjust="spacingAndGlyphs" text-anchor="middle">200</text>
<text x="750.82" y="131.6" font-size="12.6" font-family='"Liberation Serif", serif' textLength="18.9" lengthAdjust="spacingAndGlyphs" text-anchor="middle">400</text>
<text x="600" y="105.2" font-size="12" font-family='"Liberation Serif", serif'>Si II 1193</text>
<text x="678.7" y="146.2" font-size="12.2" font-family='"Liberation Serif", serif' text-anchor="middle">v [km s<tspan dy="-5" font-size="8.6">−1</tspan><tspan dy="5">]</tspan></text>
<text x="29.6" y="116.33" font-size="12.6" font-family='"Liberation Serif", serif' textLength="15.2" lengthAdjust="spacingAndGlyphs" text-anchor="end">0.0</text>
<text x="29.6" y="81.46" font-size="12.6" font-family='"Liberation Serif", serif' textLength="15.2" lengthAdjust="spacingAndGlyphs" text-anchor="end">0.5</text>
<text x="29.6" y="46.59" font-size="12.6" font-family='"Liberation Serif", serif' textLength="15.2" lengthAdjust="spacingAndGlyphs" text-anchor="end">1.0</text>
<text x="29.6" y="11.72" font-size="12.6" font-family='"Liberation Serif", serif' textLength="15.2" lengthAdjust="spacingAndGlyphs" text-anchor="end">1.5</text>
<text x="217.2" y="116.33" font-size="12.6" font-family='"Liberation Serif", serif' textLength="15.2" lengthAdjust="spacingAndGlyphs" text-anchor="end">0.0</text>
<text x="217.2" y="81.46" font-size="12.6" font-family='"Liberation Serif", serif' textLength="15.2" lengthAdjust="spacingAndGlyphs" text-anchor="end">0.5</text>
<text x="217.2" y="46.59" font-size="12.6" font-family='"Liberation Serif", serif' textLength="15.2" lengthAdjust="spacingAndGlyphs" text-anchor="end">1.0</text>
<text x="217.2" y="11.72" font-size="12.6" font-family='"Liberation Serif", serif' textLength="15.2" lengthAdjust="spacingAndGlyphs" text-anchor="end">1.5</text>
<text x="404.7" y="116.33" font-size="12.6" font-family='"Liberation Serif", serif' textLength="15.2" lengthAdjust="spacingAndGlyphs" text-anchor="end">0.0</text>
<text x="404.7" y="81.46" font-size="12.6" font-family='"Liberation Serif", serif' textLength="15.2" lengthAdjust="spacingAndGlyphs" text-anchor="end">0.5</text>
<text x="404.7" y="46.59" font-size="12.6" font-family='"Liberation Serif", serif' textLength="15.2" lengthAdjust="spacingAndGlyphs" text-anchor="end">1.0</text>
<text x="404.7" y="11.72" font-size="12.6" font-family='"Liberation Serif", serif' textLength="15.2" lengthAdjust="spacingAndGlyphs" text-anchor="end">1.5</text>
<text x="591.5" y="116.33" font-size="12.6" font-family='"Liberation Serif", serif' textLength="15.2" lengthAdjust="spacingAndGlyphs" text-anchor="end">0.0</text>
<text x="591.5" y="81.46" font-size="12.6" font-family='"Liberation Serif", serif' textLength="15.2" lengthAdjust="spacingAndGlyphs" text-anchor="end">0.5</text>
<text x="591.5" y="46.59" font-size="12.6" font-family='"Liberation Serif", serif' textLength="15.2" lengthAdjust="spacingAndGlyphs" text-anchor="end">1.0</text>
<text x="591.5" y="11.72" font-size="12.6" font-family='"Liberation Serif", serif' textLength="15.2" lengthAdjust="spacingAndGlyphs" text-anchor="end">1.5</text>
<text x="9.2" y="59.6" font-size="11.2" font-family='"Liberation Serif", serif' transform="rotate(-90 9.2 59.6)" textLength="80" lengthAdjust="spacingAndGlyphs" text-anchor="middle">Normalized flux</text>
<defs><pattern id="hatch" width="3.16" height="3.2" patternUnits="userSpaceOnUse"><rect width="3.16" height="3.2" fill="#e9e9e9"/><rect width="1.58" height="1.6" fill="#a4a4a4"/><rect x="1.58" y="1.6" width="1.58" height="1.6" fill="#a4a4a4"/></pattern><pattern id="phatch" width="3.16" height="3.2" patternUnits="userSpaceOnUse"><rect width="3.16" height="3.2" fill="#f3d6f3"/><rect width="1.58" height="1.6" fill="#cfa2cf"/><rect x="1.58" y="1.6" width="1.58" height="1.6" fill="#cfa2cf"/></pattern></defs>
<clipPath id="cmap1"><rect x="31.1" y="171.7" width="157.4" height="157.6"/></clipPath>
<g clip-path="url(#cmap1)">
<rect x="31.1" y="171.7" width="157.4" height="157.6" fill="url(#hatch)" stroke="none" stroke-width="1"/>
<path d="M53.16 170 L102.63 170 L109.58 250.63Z" fill="url(#phatch)" stroke-linejoin="round"/>
<g shape-rendering="crispEdges"><path d="M87.18 186.8h2.41v2.41h-2.41zM87.18 188.96h2.41v2.41h-2.41zM87.18 191.11h4.56v2.41h-4.56zM89.34 193.27h2.41v2.41h-2.41zM89.34 195.43h2.41v2.41h-2.41zM91.5 206.21h4.56v2.41h-4.56zM65.61 208.37h4.56v2.41h-4.56zM93.65 208.37h2.41v2.41h-2.41zM69.93 210.53h4.56v2.41h-4.56zM93.65 210.53h2.41v2.41h-2.41zM72.08 212.68h4.56v2.41h-4.56zM93.65 212.68h2.41v2.41h-2.41zM74.24 214.84h4.56v2.41h-4.56zM93.65 214.84h2.41v2.41h-2.41zM76.4 217h4.56v2.41h-4.56zM93.65 217h2.41v2.41h-2.41zM78.55 219.15h4.56v2.41h-4.56zM93.65 219.15h4.56v2.41h-4.56zM82.87 221.31h4.56v2.41h-4.56zM93.65 221.31h4.56v2.41h-4.56zM85.03 223.47h11.04v2.41h-11.04zM89.34 225.62h6.72v2.41h-6.72z" fill="#d05548"/><path d="M89.34 186.8h4.56v2.41h-4.56zM89.34 188.96h4.56v2.41h-4.56zM91.5 191.11h2.41v2.41h-2.41zM91.5 193.27h2.41v2.41h-2.41zM91.5 195.43h4.56v2.41h-4.56zM95.81 206.21h2.41v2.41h-2.41zM95.81 208.37h2.41v2.41h-2.41zM65.61 210.53h4.56v2.41h-4.56zM95.81 210.53h2.41v2.41h-2.41zM67.77 212.68h4.56v2.41h-4.56zM95.81 212.68h2.41v2.41h-2.41zM69.93 214.84h4.56v2.41h-4.56zM95.81 214.84h2.41v2.41h-2.41zM72.08 217h4.56v2.41h-4.56zM95.81 217h4.56v2.41h-4.56zM76.4 219.15h2.41v2.41h-2.41zM97.97 219.15h2.41v2.41h-2.41zM78.55 221.31h4.56v2.41h-4.56zM97.97 221.31h2.41v2.41h-2.41zM80.71 223.47h4.56v2.41h-4.56zM95.81 223.47h4.56v2.41h-4.56zM85.03 225.62h4.56v2.41h-4.56zM95.81 225.62h2.41v2.41h-2.41zM87.18 227.78h11.04v2.41h-11.04z" fill="#d76352"/><path d="M93.65 186.8h2.41v2.41h-2.41zM93.65 188.96h2.41v2.41h-2.41zM93.65 191.11h4.56v2.41h-4.56zM93.65 193.27h4.56v2.41h-4.56zM95.81 195.43h2.41v2.41h-2.41zM97.97 206.21h2.41v2.41h-2.41zM97.97 208.37h2.41v2.41h-2.41zM63.46 210.53h2.41v2.41h-2.41zM97.97 210.53h2.41v2.41h-2.41zM63.46 212.68h4.56v2.41h-4.56zM97.97 212.68h2.41v2.41h-2.41zM65.61 214.84h4.56v2.41h-4.56zM97.97 214.84h2.41v2.41h-2.41zM67.77 217h4.56v2.41h-4.56zM100.12 217h2.41v2.41h-2.41zM72.08 219.15h4.56v2.41h-4.56zM100.12 219.15h2.41v2.41h-2.41zM74.24 221.31h4.56v2.41h-4.56zM100.12 221.31h2.41v2.41h-2.41zM76.4 223.47h4.56v2.41h-4.56zM100.12 223.47h2.41v2.41h-2.41zM80.71 225.62h4.56v2.41h-4.56zM97.97 225.62h4.56v2.41h-4.56zM82.87 227.78h4.56v2.41h-4.56zM97.97 227.78h2.41v2.41h-2.41zM87.18 229.94h13.19v2.41h-13.19zM93.65 232.1h2.41v2.41h-2.41z" fill="#dd725c"/><path d="M95.81 186.8h4.56v2.41h-4.56zM95.81 188.96h4.56v2.41h-4.56zM97.97 191.11h2.41v2.41h-2.41zM97.97 193.27h2.41v2.41h-2.41zM97.97 195.43h2.41v2.41h-2.41zM100.12 204.06h2.41v2.41h-2.41zM100.12 206.21h2.41v2.41h-2.41zM100.12 208.37h2.41v2.41h-2.41zM100.12 210.53h2.41v2.41h-2.41zM61.3 212.68h2.41v2.41h-2.41zM100.12 212.68h2.41v2.41h-2.41zM61.3 214.84h4.56v2.41h-4.56zM100.12 214.84h2.41v2.41h-2.41zM63.46 217h4.56v2.41h-4.56zM65.61 219.15h6.72v2.41h-6.72zM102.28 219.15h2.41v2.41h-2.41zM69.93 221.31h4.56v2.41h-4.56zM102.28 221.31h2.41v2.41h-2.41zM72.08 223.47h4.56v2.41h-4.56zM102.28 223.47h2.41v2.41h-2.41zM76.4 225.62h4.56v2.41h-4.56zM80.71 227.78h2.41v2.41h-2.41zM100.12 227.78h2.41v2.41h-2.41zM82.87 229.94h4.56v2.41h-4.56zM100.12 229.94h2.41v2.41h-2.41zM87.18 232.1h6.72v2.41h-6.72zM95.81 232.1h4.56v2.41h-4.56zM93.65 234.25h4.56v2.41h-4.56z" fill="#e48066"/><path d="M100.12 186.8h2.41v2.41h-2.41zM100.12 188.96h2.41v2.41h-2.41zM100.12 191.11h4.56v2.41h-4.56zM100.12 193.27h4.56v2.41h-4.56zM100.12 195.43h4.56v2.41h-4.56zM102.28 197.58h2.41v2.41h-2.41zM102.28 204.06h2.41v2.41h-2.41zM102.28 206.21h2.41v2.41h-2.41zM102.28 208.37h2.41v2.41h-2.41zM102.28 210.53h2.41v2.41h-2.41zM102.28 212.68h2.41v2.41h-2.41zM59.14 214.84h2.41v2.41h-2.41zM102.28 214.84h2.41v2.41h-2.41zM59.14 217h4.56v2.41h-4.56zM102.28 217h2.41v2.41h-2.41zM61.3 219.15h4.56v2.41h-4.56zM65.61 221.31h4.56v2.41h-4.56zM67.77 223.47h4.56v2.41h-4.56zM72.08 225.62h4.56v2.41h-4.56zM102.28 225.62h2.41v2.41h-2.41zM76.4 227.78h4.56v2.41h-4.56zM102.28 227.78h2.41v2.41h-2.41zM78.55 229.94h4.56v2.41h-4.56zM102.28 229.94h2.41v2.41h-2.41zM82.87 232.1h4.56v2.41h-4.56zM100.12 232.1h4.56v2.41h-4.56zM87.18 234.25h6.72v2.41h-6.72zM97.97 234.25h4.56v2.41h-4.56zM95.81 236.41h2.41v2.41h-2.41z" fill="#ea8e72"/><path d="M102.28 186.8h4.56v2.41h-4.56zM102.28 188.96h4.56v2.41h-4.56zM104.44 191.11h2.41v2.41h-2.41zM104.44 193.27h2.41v2.41h-2.41zM104.44 195.43h2.41v2.41h-2.41zM104.44 197.58h2.41v2.41h-2.41zM104.44 199.74h2.41v2.41h-2.41zM104.44 201.9h2.41v2.41h-2.41zM104.44 204.06h2.41v2.41h-2.41zM104.44 206.21h2.41v2.41h-2.41zM104.44 208.37h2.41v2.41h-2.41zM104.44 210.53h2.41v2.41h-2.41zM104.44 212.68h2.41v2.41h-2.41zM104.44 214.84h2.41v2.41h-2.41zM104.44 217h2.41v2.41h-2.41zM104.44 219.15h2.41v2.41h-2.41zM61.3 221.31h4.56v2.41h-4.56zM104.44 221.31h2.41v2.41h-2.41zM61.3 223.47h6.72v2.41h-6.72zM104.44 223.47h2.41v2.41h-2.41zM65.61 225.62h6.72v2.41h-6.72zM104.44 225.62h2.41v2.41h-2.41zM69.93 227.78h6.72v2.41h-6.72zM104.44 227.78h2.41v2.41h-2.41zM74.24 229.94h4.56v2.41h-4.56zM104.44 229.94h2.41v2.41h-2.41zM78.55 232.1h4.56v2.41h-4.56zM104.44 232.1h2.41v2.41h-2.41zM82.87 234.25h4.56v2.41h-4.56zM102.28 234.25h2.41v2.41h-2.41zM87.18 236.41h8.88v2.41h-8.88zM97.97 236.41h4.56v2.41h-4.56z" fill="#ef9c7d"/><path d="M80.71 188.96h2.41v2.41h-2.41zM78.55 191.11h4.56v2.41h-4.56zM78.55 193.27h6.72v2.41h-6.72zM80.71 195.43h4.56v2.41h-4.56zM69.93 197.58h2.41v2.41h-2.41zM80.71 197.58h4.56v2.41h-4.56zM69.93 199.74h4.56v2.41h-4.56zM80.71 199.74h2.41v2.41h-2.41zM69.93 201.9h6.72v2.41h-6.72zM72.08 204.06h6.72v2.41h-6.72zM80.71 204.06h4.56v2.41h-4.56zM74.24 206.21h15.35v2.41h-15.35zM76.4 208.37h13.19v2.41h-13.19zM78.55 210.53h11.04v2.41h-11.04zM80.71 212.68h8.88v2.41h-8.88zM82.87 214.84h6.72v2.41h-6.72z" fill="#c13739"/><path d="M82.87 188.96h4.56v2.41h-4.56zM82.87 191.11h4.56v2.41h-4.56zM85.03 193.27h4.56v2.41h-4.56zM85.03 195.43h4.56v2.41h-4.56zM67.77 201.9h2.41v2.41h-2.41zM67.77 204.06h4.56v2.41h-4.56zM67.77 206.21h6.72v2.41h-6.72zM89.34 206.21h2.41v2.41h-2.41zM69.93 208.37h6.72v2.41h-6.72zM89.34 208.37h4.56v2.41h-4.56zM74.24 210.53h4.56v2.41h-4.56zM89.34 210.53h4.56v2.41h-4.56zM76.4 212.68h4.56v2.41h-4.56zM89.34 212.68h4.56v2.41h-4.56zM78.55 214.84h4.56v2.41h-4.56zM89.34 214.84h4.56v2.41h-4.56zM80.71 217h13.19v2.41h-13.19zM82.87 219.15h11.04v2.41h-11.04zM87.18 221.31h6.72v2.41h-6.72z" fill="#c94641"/><path d="M106.59 188.96h4.56v2.41h-4.56zM106.59 191.11h4.56v2.41h-4.56zM106.59 193.27h4.56v2.41h-4.56zM106.59 195.43h4.56v2.41h-4.56zM106.59 197.58h4.56v2.41h-4.56zM106.59 199.74h4.56v2.41h-4.56zM106.59 201.9h4.56v2.41h-4.56zM106.59 204.06h4.56v2.41h-4.56zM106.59 206.21h4.56v2.41h-4.56zM106.59 208.37h4.56v2.41h-4.56zM106.59 210.53h4.56v2.41h-4.56zM106.59 212.68h4.56v2.41h-4.56zM106.59 214.84h4.56v2.41h-4.56zM106.59 217h4.56v2.41h-4.56zM106.59 219.15h2.41v2.41h-2.41zM106.59 221.31h2.41v2.41h-2.41zM106.59 223.47h2.41v2.41h-2.41zM63.46 225.62h2.41v2.41h-2.41zM106.59 225.62h2.41v2.41h-2.41zM63.46 227.78h6.72v2.41h-6.72zM106.59 227.78h2.41v2.41h-2.41zM67.77 229.94h6.72v2.41h-6.72zM106.59 229.94h2.41v2.41h-2.41zM72.08 232.1h6.72v2.41h-6.72zM76.4 234.25h6.72v2.41h-6.72zM104.44 234.25h2.41v2.41h-2.41zM82.87 236.41h4.56v2.41h-4.56zM102.28 236.41h2.41v2.41h-2.41zM89.34 238.57h13.19v2.41h-13.19z" fill="#f5aa89"/><path d="M110.91 188.96h4.56v2.41h-4.56zM110.91 191.11h4.56v2.41h-4.56zM110.91 193.27h4.56v2.41h-4.56zM110.91 195.43h4.56v2.41h-4.56zM110.91 197.58h4.56v2.41h-4.56zM110.91 199.74h4.56v2.41h-4.56zM110.91 201.9h2.41v2.41h-2.41zM110.91 204.06h2.41v2.41h-2.41zM110.91 206.21h2.41v2.41h-2.41zM110.91 208.37h2.41v2.41h-2.41zM110.91 210.53h2.41v2.41h-2.41zM110.91 212.68h2.41v2.41h-2.41zM110.91 214.84h2.41v2.41h-2.41zM110.91 217h2.41v2.41h-2.41zM108.75 219.15h4.56v2.41h-4.56zM108.75 221.31h2.41v2.41h-2.41zM108.75 223.47h2.41v2.41h-2.41zM108.75 225.62h2.41v2.41h-2.41zM108.75 227.78h2.41v2.41h-2.41zM65.61 229.94h2.41v2.41h-2.41zM108.75 229.94h2.41v2.41h-2.41zM67.77 232.1h4.56v2.41h-4.56zM106.59 232.1h2.41v2.41h-2.41zM74.24 234.25h2.41v2.41h-2.41zM106.59 234.25h2.41v2.41h-2.41zM104.44 236.41h2.41v2.41h-2.41zM102.28 238.57h4.56v2.41h-4.56zM93.65 240.72h8.88v2.41h-8.88z" fill="#f7b597"/><path d="M115.22 191.11h4.56v2.41h-4.56zM115.22 193.27h4.56v2.41h-4.56zM115.22 195.43h4.56v2.41h-4.56zM115.22 197.58h4.56v2.41h-4.56zM115.22 199.74h2.41v2.41h-2.41zM113.07 201.9h4.56v2.41h-4.56zM113.07 204.06h4.56v2.41h-4.56zM113.07 206.21h4.56v2.41h-4.56zM113.07 208.37h4.56v2.41h-4.56zM113.07 210.53h4.56v2.41h-4.56zM113.07 212.68h2.41v2.41h-2.41zM113.07 214.84h2.41v2.41h-2.41zM113.07 217h2.41v2.41h-2.41zM113.07 219.15h2.41v2.41h-2.41zM110.91 221.31h4.56v2.41h-4.56zM110.91 223.47h2.41v2.41h-2.41zM110.91 225.62h2.41v2.41h-2.41zM110.91 227.78h2.41v2.41h-2.41zM110.91 229.94h2.41v2.41h-2.41zM108.75 232.1h2.41v2.41h-2.41zM108.75 234.25h2.41v2.41h-2.41zM106.59 236.41h2.41v2.41h-2.41zM106.59 238.57h2.41v2.41h-2.41zM102.28 240.72h4.56v2.41h-4.56zM97.97 242.88h4.56v2.41h-4.56z" fill="#f9c1a6"/><path d="M74.24 193.27h4.56v2.41h-4.56zM72.08 195.43h8.88v2.41h-8.88zM72.08 197.58h8.88v2.41h-8.88zM74.24 199.74h6.72v2.41h-6.72zM76.4 201.9h6.72v2.41h-6.72zM78.55 204.06h2.41v2.41h-2.41z" fill="#ba2832"/><path d="M119.54 193.27h2.41v2.41h-2.41zM119.54 195.43h4.56v2.41h-4.56zM119.54 197.58h4.56v2.41h-4.56zM117.38 199.74h6.72v2.41h-6.72zM117.38 201.9h4.56v2.41h-4.56zM117.38 204.06h4.56v2.41h-4.56zM117.38 206.21h4.56v2.41h-4.56zM117.38 208.37h4.56v2.41h-4.56zM117.38 210.53h2.41v2.41h-2.41zM115.22 212.68h4.56v2.41h-4.56zM115.22 214.84h4.56v2.41h-4.56zM115.22 217h4.56v2.41h-4.56zM115.22 219.15h2.41v2.41h-2.41zM115.22 221.31h2.41v2.41h-2.41zM113.07 223.47h4.56v2.41h-4.56zM113.07 225.62h2.41v2.41h-2.41zM113.07 227.78h2.41v2.41h-2.41zM113.07 229.94h2.41v2.41h-2.41zM110.91 232.1h2.41v2.41h-2.41zM110.91 234.25h2.41v2.41h-2.41zM108.75 236.41h2.41v2.41h-2.41zM108.75 238.57h2.41v2.41h-2.41zM106.59 240.72h2.41v2.41h-2.41zM102.28 242.88h2.41v2.41h-2.41z" fill="#fbccb4"/><path d="M123.85 197.58h2.41v2.41h-2.41zM123.85 199.74h4.56v2.41h-4.56zM121.69 201.9h6.72v2.41h-6.72zM121.69 204.06h6.72v2.41h-6.72zM121.69 206.21h4.56v2.41h-4.56zM121.69 208.37h4.56v2.41h-4.56zM119.54 210.53h6.72v2.41h-6.72zM119.54 212.68h4.56v2.41h-4.56zM119.54 214.84h4.56v2.41h-4.56zM119.54 217h2.41v2.41h-2.41zM117.38 219.15h4.56v2.41h-4.56zM117.38 221.31h4.56v2.41h-4.56zM117.38 223.47h2.41v2.41h-2.41zM115.22 225.62h4.56v2.41h-4.56zM115.22 227.78h2.41v2.41h-2.41zM115.22 229.94h2.41v2.41h-2.41zM113.07 232.1h2.41v2.41h-2.41zM113.07 234.25h2.41v2.41h-2.41zM110.91 236.41h2.41v2.41h-2.41zM108.75 240.72h2.41v2.41h-2.41zM104.44 242.88h4.56v2.41h-4.56zM100.12 245.04h4.56v2.41h-4.56zM82.87 262.29h2.41v2.41h-2.41zM74.24 264.45h11.04v2.41h-11.04zM74.24 266.61h8.88v2.41h-8.88z" fill="#fbd4c0"/><path d="M128.16 201.9h2.41v2.41h-2.41zM128.16 204.06h4.56v2.41h-4.56zM126.01 206.21h6.72v2.41h-6.72zM126.01 208.37h6.72v2.41h-6.72zM126.01 210.53h4.56v2.41h-4.56zM123.85 212.68h6.72v2.41h-6.72zM123.85 214.84h4.56v2.41h-4.56zM121.69 217h6.72v2.41h-6.72zM121.69 219.15h4.56v2.41h-4.56zM121.69 221.31h2.41v2.41h-2.41zM119.54 223.47h4.56v2.41h-4.56zM119.54 225.62h2.41v2.41h-2.41zM117.38 227.78h4.56v2.41h-4.56zM117.38 229.94h2.41v2.41h-2.41zM115.22 232.1h4.56v2.41h-4.56zM115.22 234.25h2.41v2.41h-2.41zM113.07 236.41h2.41v2.41h-2.41zM110.91 238.57h4.56v2.41h-4.56zM110.91 240.72h2.41v2.41h-2.41zM108.75 242.88h2.41v2.41h-2.41zM104.44 245.04h2.41v2.41h-2.41zM102.28 247.19h2.41v2.41h-2.41z" fill="#fbddcc"/><path d="M132.48 208.37h2.41v2.41h-2.41zM130.32 210.53h4.56v2.41h-4.56zM130.32 212.68h4.56v2.41h-4.56zM128.16 214.84h6.72v2.41h-6.72zM128.16 217h4.56v2.41h-4.56zM126.01 219.15h6.72v2.41h-6.72zM123.85 221.31h6.72v2.41h-6.72zM123.85 223.47h4.56v2.41h-4.56zM121.69 225.62h4.56v2.41h-4.56zM121.69 227.78h4.56v2.41h-4.56zM119.54 229.94h4.56v2.41h-4.56zM119.54 232.1h2.41v2.41h-2.41zM117.38 234.25h2.41v2.41h-2.41zM115.22 236.41h4.56v2.41h-4.56zM115.22 238.57h2.41v2.41h-2.41zM113.07 240.72h2.41v2.41h-2.41zM110.91 242.88h2.41v2.41h-2.41zM106.59 245.04h4.56v2.41h-4.56zM104.44 247.19h2.41v2.41h-2.41zM102.28 251.51h6.72v2.41h-6.72zM97.97 253.67h6.72v2.41h-6.72zM95.81 255.82h2.41v2.41h-2.41zM91.5 257.98h4.56v2.41h-4.56zM87.18 260.14h4.56v2.41h-4.56zM85.03 262.29h2.41v2.41h-2.41z" fill="#fbe5d8"/><path d="M132.48 217h2.41v2.41h-2.41zM130.32 221.31h2.41v2.41h-2.41zM128.16 223.47h6.72v2.41h-6.72zM126.01 225.62h6.72v2.41h-6.72zM126.01 227.78h4.56v2.41h-4.56zM123.85 229.94h4.56v2.41h-4.56zM121.69 232.1h4.56v2.41h-4.56zM119.54 234.25h4.56v2.41h-4.56zM119.54 236.41h2.41v2.41h-2.41zM117.38 238.57h2.41v2.41h-2.41zM115.22 240.72h2.41v2.41h-2.41zM113.07 242.88h2.41v2.41h-2.41zM110.91 245.04h2.41v2.41h-2.41zM106.59 247.19h2.41v2.41h-2.41z" fill="#faebe2"/><path d="M134.64 223.47h2.41v2.41h-2.41zM132.48 225.62h8.88v2.41h-8.88zM130.32 227.78h8.88v2.41h-8.88zM128.16 229.94h8.88v2.41h-8.88zM126.01 232.1h6.72v2.41h-6.72zM123.85 234.25h6.72v2.41h-6.72zM121.69 236.41h6.72v2.41h-6.72zM119.54 238.57h4.56v2.41h-4.56zM117.38 240.72h4.56v2.41h-4.56zM115.22 242.88h2.41v2.41h-2.41zM113.07 245.04h2.41v2.41h-2.41zM108.75 247.19h2.41v2.41h-2.41zM106.59 249.35h2.41v2.41h-2.41z" fill="#f8f0ec"/><path d="M141.11 225.62h6.72v2.41h-6.72zM149.74 225.62h4.56v2.41h-4.56zM138.95 227.78h13.19v2.41h-13.19zM136.79 229.94h11.04v2.41h-11.04zM132.48 232.1h11.04v2.41h-11.04zM130.32 234.25h8.88v2.41h-8.88zM128.16 236.41h6.72v2.41h-6.72zM123.85 238.57h6.72v2.41h-6.72zM121.69 240.72h4.56v2.41h-4.56zM117.38 242.88h4.56v2.41h-4.56zM123.85 242.88h2.41v2.41h-2.41zM115.22 245.04h8.88v2.41h-8.88zM110.91 247.19h6.72v2.41h-6.72zM108.75 249.35h4.56v2.41h-4.56z" fill="#f7f6f6"/><path d="M151.89 227.78h2.41v2.41h-2.41zM147.58 229.94h4.56v2.41h-4.56zM143.26 232.1h2.41v2.41h-2.41zM130.32 238.57h2.41v2.41h-2.41zM126.01 240.72h2.41v2.41h-2.41zM121.69 242.88h2.41v2.41h-2.41zM117.38 247.19h2.41v2.41h-2.41zM113.07 249.35h4.56v2.41h-4.56zM108.75 251.51h2.41v2.41h-2.41z" fill="#eff3f5"/><path d="M52.67 229.94h4.56v2.41h-4.56zM50.51 232.1h6.72v2.41h-6.72zM48.36 234.25h6.72v2.41h-6.72zM48.36 236.41h2.41v2.41h-2.41zM46.2 238.57h4.56v2.41h-4.56zM44.04 240.72h4.56v2.41h-4.56zM48.36 257.98h6.72v2.41h-6.72zM48.36 260.14h11.04v2.41h-11.04zM50.51 262.29h11.04v2.41h-11.04zM52.67 264.45h11.04v2.41h-11.04zM56.98 266.61h2.41v2.41h-2.41z" fill="#93c4de"/><path d="M117.38 249.35h21.82v2.41h-21.82zM110.91 251.51h4.56v2.41h-4.56zM106.59 253.67h2.41v2.41h-2.41z" fill="#e8eff4"/><path d="M115.22 251.51h28.29v2.41h-28.29zM108.75 253.67h4.56v2.41h-4.56zM136.79 253.67h8.88v2.41h-8.88zM104.44 255.82h4.56v2.41h-4.56z" fill="#e0ecf3"/><path d="M113.07 253.67h23.98v2.41h-23.98zM108.75 255.82h2.41v2.41h-2.41zM130.32 255.82h15.35v2.41h-15.35zM104.44 257.98h2.41v2.41h-2.41zM141.11 257.98h6.72v2.41h-6.72zM102.28 260.14h2.41v2.41h-2.41zM147.58 260.14h4.56v2.41h-4.56zM100.12 262.29h2.41v2.41h-2.41zM156.21 262.29h2.41v2.41h-2.41zM95.81 266.61h4.56v2.41h-4.56zM93.65 268.76h4.56v2.41h-4.56zM93.65 270.92h2.41v2.41h-2.41zM91.5 273.08h4.56v2.41h-4.56zM91.5 275.24h2.41v2.41h-2.41z" fill="#d6e7f1"/><path d="M110.91 255.82h19.66v2.41h-19.66zM106.59 257.98h4.56v2.41h-4.56zM130.32 257.98h11.04v2.41h-11.04zM104.44 260.14h2.41v2.41h-2.41zM136.79 260.14h11.04v2.41h-11.04zM102.28 262.29h2.41v2.41h-2.41zM141.11 262.29h15.35v2.41h-15.35zM100.12 264.45h4.56v2.41h-4.56zM147.58 264.45h13.19v2.41h-13.19zM100.12 266.61h2.41v2.41h-2.41zM154.05 266.61h6.72v2.41h-6.72zM97.97 268.76h2.41v2.41h-2.41zM158.36 268.76h2.41v2.41h-2.41zM95.81 270.92h4.56v2.41h-4.56zM95.81 273.08h2.41v2.41h-2.41zM93.65 275.24h4.56v2.41h-4.56zM91.5 277.39h4.56v2.41h-4.56zM91.5 279.55h4.56v2.41h-4.56zM91.5 281.71h2.41v2.41h-2.41zM91.5 283.86h2.41v2.41h-2.41z" fill="#cce2ee"/><path d="M110.91 257.98h4.56v2.41h-4.56zM121.69 257.98h8.88v2.41h-8.88zM106.59 260.14h4.56v2.41h-4.56zM128.16 260.14h8.88v2.41h-8.88zM104.44 262.29h2.41v2.41h-2.41zM134.64 262.29h6.72v2.41h-6.72zM104.44 264.45h2.41v2.41h-2.41zM138.95 264.45h8.88v2.41h-8.88zM102.28 266.61h2.41v2.41h-2.41zM143.26 266.61h11.04v2.41h-11.04zM100.12 268.76h2.41v2.41h-2.41zM147.58 268.76h11.04v2.41h-11.04zM100.12 270.92h2.41v2.41h-2.41zM151.89 270.92h8.88v2.41h-8.88zM97.97 273.08h2.41v2.41h-2.41zM156.21 273.08h2.41v2.41h-2.41zM97.97 275.24h2.41v2.41h-2.41zM95.81 277.39h4.56v2.41h-4.56zM95.81 279.55h2.41v2.41h-2.41zM93.65 281.71h4.56v2.41h-4.56zM93.65 283.86h2.41v2.41h-2.41zM93.65 286.02h2.41v2.41h-2.41zM93.65 288.18h2.41v2.41h-2.41zM91.5 290.33h2.41v2.41h-2.41zM91.5 292.49h2.41v2.41h-2.41zM89.34 294.65h2.41v2.41h-2.41z" fill="#c2ddec"/><path d="M115.22 257.98h6.72v2.41h-6.72zM110.91 260.14h2.41v2.41h-2.41zM123.85 260.14h4.56v2.41h-4.56zM106.59 262.29h4.56v2.41h-4.56zM128.16 262.29h6.72v2.41h-6.72zM106.59 264.45h2.41v2.41h-2.41zM132.48 264.45h6.72v2.41h-6.72zM104.44 266.61h2.41v2.41h-2.41zM136.79 266.61h6.72v2.41h-6.72zM102.28 268.76h2.41v2.41h-2.41zM141.11 268.76h6.72v2.41h-6.72zM102.28 270.92h2.41v2.41h-2.41zM143.26 270.92h8.88v2.41h-8.88zM100.12 273.08h4.56v2.41h-4.56zM147.58 273.08h8.88v2.41h-8.88zM100.12 275.24h2.41v2.41h-2.41zM151.89 275.24h8.88v2.41h-8.88zM100.12 277.39h2.41v2.41h-2.41zM154.05 277.39h11.04v2.41h-11.04zM97.97 279.55h2.41v2.41h-2.41zM158.36 279.55h4.56v2.41h-4.56zM97.97 281.71h2.41v2.41h-2.41zM95.81 283.86h4.56v2.41h-4.56zM95.81 286.02h4.56v2.41h-4.56zM95.81 288.18h2.41v2.41h-2.41zM93.65 290.33h4.56v2.41h-4.56zM93.65 292.49h4.56v2.41h-4.56zM91.5 294.65h4.56v2.41h-4.56zM91.5 296.81h4.56v2.41h-4.56zM91.5 298.96h4.56v2.41h-4.56zM91.5 301.12h2.41v2.41h-2.41z" fill="#b5d6e8"/><path d="M113.07 260.14h11.04v2.41h-11.04zM110.91 262.29h2.41v2.41h-2.41zM123.85 262.29h4.56v2.41h-4.56zM108.75 264.45h2.41v2.41h-2.41zM128.16 264.45h4.56v2.41h-4.56zM106.59 266.61h2.41v2.41h-2.41zM132.48 266.61h4.56v2.41h-4.56zM104.44 268.76h2.41v2.41h-2.41zM134.64 268.76h6.72v2.41h-6.72zM104.44 270.92h2.41v2.41h-2.41zM138.95 270.92h4.56v2.41h-4.56zM104.44 273.08h2.41v2.41h-2.41zM141.11 273.08h6.72v2.41h-6.72zM102.28 275.24h2.41v2.41h-2.41zM145.42 275.24h6.72v2.41h-6.72zM102.28 277.39h2.41v2.41h-2.41zM147.58 277.39h6.72v2.41h-6.72zM100.12 279.55h4.56v2.41h-4.56zM151.89 279.55h6.72v2.41h-6.72zM100.12 281.71h2.41v2.41h-2.41zM154.05 281.71h6.72v2.41h-6.72zM100.12 283.86h2.41v2.41h-2.41zM156.21 283.86h2.41v2.41h-2.41zM100.12 286.02h2.41v2.41h-2.41zM97.97 288.18h4.56v2.41h-4.56zM97.97 290.33h2.41v2.41h-2.41zM97.97 292.49h2.41v2.41h-2.41zM95.81 294.65h4.56v2.41h-4.56zM95.81 296.81h4.56v2.41h-4.56zM95.81 298.96h4.56v2.41h-4.56zM93.65 301.12h4.56v2.41h-4.56zM93.65 303.28h4.56v2.41h-4.56zM95.81 305.43h2.41v2.41h-2.41z" fill="#a8d0e4"/><path d="M113.07 262.29h11.04v2.41h-11.04zM110.91 264.45h2.41v2.41h-2.41zM123.85 264.45h4.56v2.41h-4.56zM108.75 266.61h2.41v2.41h-2.41zM128.16 266.61h4.56v2.41h-4.56zM106.59 268.76h2.41v2.41h-2.41zM132.48 268.76h2.41v2.41h-2.41zM106.59 270.92h2.41v2.41h-2.41zM134.64 270.92h4.56v2.41h-4.56zM106.59 273.08h2.41v2.41h-2.41zM136.79 273.08h4.56v2.41h-4.56zM104.44 275.24h2.41v2.41h-2.41zM141.11 275.24h4.56v2.41h-4.56zM104.44 277.39h2.41v2.41h-2.41zM143.26 277.39h4.56v2.41h-4.56zM104.44 279.55h2.41v2.41h-2.41zM145.42 279.55h6.72v2.41h-6.72zM102.28 281.71h2.41v2.41h-2.41zM147.58 281.71h6.72v2.41h-6.72zM102.28 283.86h2.41v2.41h-2.41zM151.89 283.86h4.56v2.41h-4.56zM102.28 286.02h2.41v2.41h-2.41zM154.05 286.02h2.41v2.41h-2.41zM102.28 288.18h2.41v2.41h-2.41zM100.12 290.33h4.56v2.41h-4.56zM100.12 292.49h4.56v2.41h-4.56zM100.12 294.65h2.41v2.41h-2.41zM100.12 296.81h2.41v2.41h-2.41zM100.12 298.96h2.41v2.41h-2.41zM97.97 301.12h4.56v2.41h-4.56zM97.97 303.28h4.56v2.41h-4.56zM97.97 305.43h4.56v2.41h-4.56z" fill="#9bc9e0"/><path d="M113.07 264.45h11.04v2.41h-11.04zM110.91 266.61h2.41v2.41h-2.41zM123.85 266.61h4.56v2.41h-4.56zM108.75 268.76h2.41v2.41h-2.41zM128.16 268.76h4.56v2.41h-4.56zM108.75 270.92h2.41v2.41h-2.41zM130.32 270.92h4.56v2.41h-4.56zM134.64 273.08h2.41v2.41h-2.41zM106.59 275.24h2.41v2.41h-2.41zM136.79 275.24h4.56v2.41h-4.56zM106.59 277.39h2.41v2.41h-2.41zM138.95 277.39h4.56v2.41h-4.56zM106.59 279.55h2.41v2.41h-2.41zM141.11 279.55h4.56v2.41h-4.56zM104.44 281.71h2.41v2.41h-2.41zM143.26 281.71h4.56v2.41h-4.56zM104.44 283.86h2.41v2.41h-2.41zM145.42 283.86h6.72v2.41h-6.72zM104.44 286.02h2.41v2.41h-2.41zM149.74 286.02h4.56v2.41h-4.56zM104.44 288.18h2.41v2.41h-2.41zM151.89 288.18h4.56v2.41h-4.56zM104.44 290.33h2.41v2.41h-2.41zM154.05 290.33h2.41v2.41h-2.41zM104.44 292.49h2.41v2.41h-2.41zM102.28 294.65h4.56v2.41h-4.56zM102.28 296.81h4.56v2.41h-4.56zM102.28 298.96h2.41v2.41h-2.41zM102.28 301.12h2.41v2.41h-2.41zM102.28 303.28h2.41v2.41h-2.41zM102.28 305.43h2.41v2.41h-2.41zM102.28 307.59h2.41v2.41h-2.41z" fill="#8bbfdb"/><path d="M113.07 266.61h11.04v2.41h-11.04zM110.91 268.76h2.41v2.41h-2.41zM123.85 268.76h4.56v2.41h-4.56zM110.91 270.92h2.41v2.41h-2.41zM128.16 270.92h2.41v2.41h-2.41zM108.75 273.08h2.41v2.41h-2.41zM130.32 273.08h4.56v2.41h-4.56zM108.75 275.24h2.41v2.41h-2.41zM132.48 275.24h4.56v2.41h-4.56zM108.75 277.39h2.41v2.41h-2.41zM134.64 277.39h4.56v2.41h-4.56zM108.75 279.55h2.41v2.41h-2.41zM136.79 279.55h4.56v2.41h-4.56zM106.59 281.71h2.41v2.41h-2.41zM141.11 281.71h2.41v2.41h-2.41zM106.59 283.86h2.41v2.41h-2.41zM143.26 283.86h2.41v2.41h-2.41zM106.59 286.02h2.41v2.41h-2.41zM145.42 286.02h4.56v2.41h-4.56zM106.59 288.18h2.41v2.41h-2.41zM147.58 288.18h4.56v2.41h-4.56zM106.59 290.33h2.41v2.41h-2.41zM149.74 290.33h4.56v2.41h-4.56zM106.59 292.49h2.41v2.41h-2.41zM151.89 292.49h2.41v2.41h-2.41zM106.59 294.65h2.41v2.41h-2.41zM106.59 296.81h2.41v2.41h-2.41zM104.44 298.96h4.56v2.41h-4.56zM104.44 301.12h4.56v2.41h-4.56zM104.44 303.28h4.56v2.41h-4.56zM104.44 305.43h4.56v2.41h-4.56zM104.44 307.59h2.41v2.41h-2.41z" fill="#7bb6d6"/><path d="M113.07 268.76h11.04v2.41h-11.04zM113.07 270.92h2.41v2.41h-2.41zM123.85 270.92h4.56v2.41h-4.56zM110.91 273.08h2.41v2.41h-2.41zM128.16 273.08h2.41v2.41h-2.41zM110.91 275.24h2.41v2.41h-2.41zM130.32 275.24h2.41v2.41h-2.41zM110.91 277.39h2.41v2.41h-2.41zM132.48 277.39h2.41v2.41h-2.41zM110.91 279.55h2.41v2.41h-2.41zM134.64 279.55h2.41v2.41h-2.41zM108.75 281.71h2.41v2.41h-2.41zM136.79 281.71h4.56v2.41h-4.56zM108.75 283.86h2.41v2.41h-2.41zM138.95 283.86h4.56v2.41h-4.56zM108.75 286.02h2.41v2.41h-2.41zM141.11 286.02h4.56v2.41h-4.56zM108.75 288.18h2.41v2.41h-2.41zM143.26 288.18h4.56v2.41h-4.56zM108.75 290.33h2.41v2.41h-2.41zM145.42 290.33h4.56v2.41h-4.56zM108.75 292.49h2.41v2.41h-2.41zM147.58 292.49h4.56v2.41h-4.56zM108.75 294.65h2.41v2.41h-2.41zM149.74 294.65h4.56v2.41h-4.56zM108.75 296.81h2.41v2.41h-2.41zM149.74 296.81h2.41v2.41h-2.41zM108.75 298.96h2.41v2.41h-2.41zM108.75 301.12h2.41v2.41h-2.41zM108.75 303.28h2.41v2.41h-2.41zM108.75 305.43h2.41v2.41h-2.41z" fill="#6bacd1"/><path d="M115.22 270.92h8.88v2.41h-8.88zM113.07 273.08h4.56v2.41h-4.56zM123.85 273.08h4.56v2.41h-4.56zM113.07 275.24h2.41v2.41h-2.41zM126.01 275.24h4.56v2.41h-4.56zM113.07 277.39h2.41v2.41h-2.41zM130.32 277.39h2.41v2.41h-2.41zM113.07 279.55h2.41v2.41h-2.41zM132.48 279.55h2.41v2.41h-2.41zM110.91 281.71h2.41v2.41h-2.41zM134.64 281.71h2.41v2.41h-2.41zM110.91 283.86h2.41v2.41h-2.41zM134.64 283.86h4.56v2.41h-4.56zM110.91 286.02h2.41v2.41h-2.41zM136.79 286.02h4.56v2.41h-4.56zM110.91 288.18h2.41v2.41h-2.41zM138.95 288.18h4.56v2.41h-4.56zM110.91 290.33h2.41v2.41h-2.41zM141.11 290.33h4.56v2.41h-4.56zM110.91 292.49h2.41v2.41h-2.41zM143.26 292.49h4.56v2.41h-4.56zM110.91 294.65h2.41v2.41h-2.41zM145.42 294.65h4.56v2.41h-4.56zM110.91 296.81h2.41v2.41h-2.41zM147.58 296.81h2.41v2.41h-2.41zM110.91 298.96h2.41v2.41h-2.41zM147.58 298.96h2.41v2.41h-2.41zM110.91 301.12h2.41v2.41h-2.41zM110.91 303.28h2.41v2.41h-2.41zM110.91 305.43h2.41v2.41h-2.41z" fill="#5ca2cb"/><path d="M117.38 273.08h6.72v2.41h-6.72zM115.22 275.24h11.04v2.41h-11.04zM115.22 277.39h2.41v2.41h-2.41zM126.01 277.39h4.56v2.41h-4.56zM115.22 279.55h2.41v2.41h-2.41zM128.16 279.55h4.56v2.41h-4.56zM113.07 281.71h2.41v2.41h-2.41zM130.32 281.71h4.56v2.41h-4.56zM113.07 283.86h2.41v2.41h-2.41zM132.48 283.86h2.41v2.41h-2.41zM113.07 286.02h2.41v2.41h-2.41zM134.64 286.02h2.41v2.41h-2.41zM113.07 288.18h2.41v2.41h-2.41zM136.79 288.18h2.41v2.41h-2.41zM113.07 290.33h2.41v2.41h-2.41zM138.95 290.33h2.41v2.41h-2.41zM113.07 292.49h2.41v2.41h-2.41zM138.95 292.49h4.56v2.41h-4.56zM113.07 294.65h2.41v2.41h-2.41zM141.11 294.65h4.56v2.41h-4.56zM113.07 296.81h2.41v2.41h-2.41zM143.26 296.81h4.56v2.41h-4.56zM113.07 298.96h2.41v2.41h-2.41zM145.42 298.96h2.41v2.41h-2.41zM113.07 301.12h2.41v2.41h-2.41zM145.42 301.12h4.56v2.41h-4.56zM113.07 303.28h2.41v2.41h-2.41z" fill="#4e98c6"/><path d="M117.38 277.39h8.88v2.41h-8.88zM117.38 279.55h11.04v2.41h-11.04zM115.22 281.71h4.56v2.41h-4.56zM126.01 281.71h4.56v2.41h-4.56zM115.22 283.86h4.56v2.41h-4.56zM128.16 283.86h4.56v2.41h-4.56zM115.22 286.02h2.41v2.41h-2.41zM130.32 286.02h4.56v2.41h-4.56zM115.22 288.18h2.41v2.41h-2.41zM132.48 288.18h4.56v2.41h-4.56zM115.22 290.33h2.41v2.41h-2.41zM134.64 290.33h4.56v2.41h-4.56zM115.22 292.49h2.41v2.41h-2.41zM136.79 292.49h2.41v2.41h-2.41zM115.22 294.65h2.41v2.41h-2.41zM136.79 294.65h4.56v2.41h-4.56zM115.22 296.81h4.56v2.41h-4.56zM138.95 296.81h4.56v2.41h-4.56zM115.22 298.96h4.56v2.41h-4.56zM141.11 298.96h4.56v2.41h-4.56zM115.22 301.12h4.56v2.41h-4.56zM143.26 301.12h2.41v2.41h-2.41zM115.22 303.28h4.56v2.41h-4.56zM143.26 303.28h4.56v2.41h-4.56z" fill="#3f8ec0"/><path d="M119.54 281.71h6.72v2.41h-6.72zM119.54 283.86h8.88v2.41h-8.88zM117.38 286.02h13.19v2.41h-13.19zM117.38 288.18h4.56v2.41h-4.56zM128.16 288.18h4.56v2.41h-4.56zM117.38 290.33h4.56v2.41h-4.56zM130.32 290.33h4.56v2.41h-4.56zM117.38 292.49h4.56v2.41h-4.56zM132.48 292.49h4.56v2.41h-4.56zM117.38 294.65h4.56v2.41h-4.56zM134.64 294.65h2.41v2.41h-2.41zM119.54 296.81h2.41v2.41h-2.41zM134.64 296.81h4.56v2.41h-4.56zM119.54 298.96h2.41v2.41h-2.41zM136.79 298.96h4.56v2.41h-4.56zM119.54 301.12h2.41v2.41h-2.41zM138.95 301.12h4.56v2.41h-4.56zM119.54 303.28h2.41v2.41h-2.41zM138.95 303.28h4.56v2.41h-4.56zM141.11 305.43h4.56v2.41h-4.56z" fill="#3884bb"/><path d="M121.69 288.18h6.72v2.41h-6.72zM121.69 290.33h8.88v2.41h-8.88zM121.69 292.49h11.04v2.41h-11.04zM121.69 294.65h13.19v2.41h-13.19zM121.69 296.81h13.19v2.41h-13.19zM121.69 298.96h15.35v2.41h-15.35zM121.69 301.12h6.72v2.41h-6.72zM132.48 301.12h6.72v2.41h-6.72zM121.69 303.28h6.72v2.41h-6.72zM134.64 303.28h4.56v2.41h-4.56zM134.64 305.43h6.72v2.41h-6.72zM136.79 307.59h4.56v2.41h-4.56z" fill="#317bb7"/><path d="M128.16 301.12h4.56v2.41h-4.56zM128.16 303.28h6.72v2.41h-6.72zM128.16 305.43h6.72v2.41h-6.72zM134.64 307.59h2.41v2.41h-2.41z" fill="#2a71b2"/></g>
</g>
<line x1="72.1" y1="170" x2="146.8" y2="327.9" stroke="#000" stroke-width="1.3"/>
<line x1="79.9" y1="171.7" x2="109.58" y2="250.63" stroke="#ff00ff" stroke-width="1.3"/>
<path d="M105.38 250.63h8.4M109.58 246.43v8.4" stroke="#000" stroke-width="2.6"/>
<text x="39.5" y="187.6" font-size="8.27" textLength="32.59" lengthAdjust="spacingAndGlyphs">1-44487</text>
<rect x="155.3" y="296.3" width="32.6" height="30.5" rx="2" fill="#fff" fill-opacity="0.82" stroke="#d8d8d8" stroke-width="0.8"/>
<path d="M159.8 302.4h7.4M163.5 298.7v7.4" stroke="#000" stroke-width="2.4"/>
<line x1="158.3" y1="312.16" x2="168.8" y2="312.16" stroke="#000" stroke-width="1.3"/>
<line x1="158.3" y1="321.31" x2="168.8" y2="321.31" stroke="#ff00ff" stroke-width="1.3"/>
<text x="174.5" y="304.6" font-size="6.47" textLength="8.99" lengthAdjust="spacingAndGlyphs">GC</text>
<text x="174.5" y="314.36" font-size="6.47" textLength="7.46" lengthAdjust="spacingAndGlyphs">PA</text>
<text x="174.5" y="323.51" font-size="6.47" textLength="8.97" lengthAdjust="spacingAndGlyphs">QA</text>
<rect x="31.1" y="171.7" width="157.4" height="157.6" fill="none" stroke="#444" stroke-width="0.9"/>
<path d="M31.1 329.3v-2.2M74.22 329.3v-2.2M117.35 329.3v-2.2M160.47 329.3v-2.2M31.1 329.3h2.2M31.1 307.71h2.2M31.1 286.12h2.2M31.1 264.53h2.2M31.1 242.94h2.2M31.1 221.35h2.2M31.1 199.77h2.2M31.1 178.18h2.2" stroke="#444" stroke-width="0.8" fill="none"/>
<text x="31.1" y="339.6" font-size="8.59" textLength="5.15" lengthAdjust="spacingAndGlyphs" text-anchor="middle">0</text>
<text x="74.22" y="339.6" font-size="8.59" textLength="10.31" lengthAdjust="spacingAndGlyphs" text-anchor="middle">20</text>
<text x="117.35" y="339.6" font-size="8.59" textLength="10.31" lengthAdjust="spacingAndGlyphs" text-anchor="middle">40</text>
<text x="160.47" y="339.6" font-size="8.59" textLength="10.31" lengthAdjust="spacingAndGlyphs" text-anchor="middle">60</text>
<text x="27.3" y="332.2" font-size="8.59" textLength="5.15" lengthAdjust="spacingAndGlyphs" text-anchor="end">0</text>
<text x="27.3" y="310.61" font-size="8.59" textLength="10.31" lengthAdjust="spacingAndGlyphs" text-anchor="end">10</text>
<text x="27.3" y="289.02" font-size="8.59" textLength="10.31" lengthAdjust="spacingAndGlyphs" text-anchor="end">20</text>
<text x="27.3" y="267.43" font-size="8.59" textLength="10.31" lengthAdjust="spacingAndGlyphs" text-anchor="end">30</text>
<text x="27.3" y="245.84" font-size="8.59" textLength="10.31" lengthAdjust="spacingAndGlyphs" text-anchor="end">40</text>
<text x="27.3" y="224.25" font-size="8.59" textLength="10.31" lengthAdjust="spacingAndGlyphs" text-anchor="end">50</text>
<text x="27.3" y="202.67" font-size="8.59" textLength="10.31" lengthAdjust="spacingAndGlyphs" text-anchor="end">60</text>
<text x="27.3" y="181.08" font-size="8.59" textLength="10.31" lengthAdjust="spacingAndGlyphs" text-anchor="end">70</text>
<text x="110" y="350.3" font-size="8.59" textLength="80.79" lengthAdjust="spacingAndGlyphs" text-anchor="middle">Declination (spaxel)</text>
<text x="14.6" y="250.5" font-size="8.59" transform="rotate(-90 14.6 250.5)" textLength="97.22" lengthAdjust="spacingAndGlyphs" text-anchor="middle">Right Ascension(spaxel)</text>
<text x="110" y="168.6" font-size="8.59" textLength="88.04" lengthAdjust="spacingAndGlyphs" text-anchor="middle">Stellar Radial Velocity</text>
<defs><linearGradient id="cb1" x1="0" y1="1" x2="0" y2="0"><stop offset="0" stop-color="#053061"/><stop offset="0.06" stop-color="#175290"/><stop offset="0.12" stop-color="#2a71b2"/><stop offset="0.19" stop-color="#3f8ec0"/><stop offset="0.25" stop-color="#6bacd1"/><stop offset="0.31" stop-color="#9bc9e0"/><stop offset="0.38" stop-color="#c2ddec"/><stop offset="0.44" stop-color="#e0ecf3"/><stop offset="0.5" stop-color="#f7f6f6"/><stop offset="0.56" stop-color="#fbe5d8"/><stop offset="0.62" stop-color="#fbccb4"/><stop offset="0.69" stop-color="#f5aa89"/><stop offset="0.75" stop-color="#e48066"/><stop offset="0.81" stop-color="#d05548"/><stop offset="0.88" stop-color="#ba2832"/><stop offset="0.94" stop-color="#930e26"/><stop offset="1" stop-color="#67001f"/></linearGradient></defs>
<rect x="199.5" y="171.7" width="7.6" height="157" fill="url(#cb1)" stroke="none" stroke-width="1"/>
<text x="219" y="177.94" font-size="8.59" textLength="15.46" lengthAdjust="spacingAndGlyphs" text-anchor="middle">240</text>
<text x="219" y="203.06" font-size="8.59" textLength="15.46" lengthAdjust="spacingAndGlyphs" text-anchor="middle">160</text>
<text x="219" y="228.18" font-size="8.59" textLength="10.31" lengthAdjust="spacingAndGlyphs" text-anchor="middle">80</text>
<text x="219" y="253.3" font-size="8.59" textLength="5.15" lengthAdjust="spacingAndGlyphs" text-anchor="middle">0</text>
<text x="219" y="278.42" font-size="8.59" textLength="13.23" lengthAdjust="spacingAndGlyphs" text-anchor="middle">-80</text>
<text x="219" y="303.54" font-size="8.59" textLength="18.38" lengthAdjust="spacingAndGlyphs" text-anchor="middle">-160</text>
<text x="219" y="328.66" font-size="8.59" textLength="18.38" lengthAdjust="spacingAndGlyphs" text-anchor="middle">-240</text>
<text x="236.3" y="251.5" font-size="8.59" transform="rotate(-90 236.3 251.5)" textLength="19.53" lengthAdjust="spacingAndGlyphs" text-anchor="middle">km/s</text>
<clipPath id="crot"><rect x="274.2" y="171.5" width="213.8" height="157.8"/></clipPath>
<g clip-path="url(#crot)">
<defs><marker id="mcap1" markerUnits="userSpaceOnUse" markerWidth="1" markerHeight="1" refX="0" refY="0" orient="0" overflow="visible"><path d="M-1.8 0h3.6" stroke="#222" stroke-opacity="0.55" stroke-width="0.7"/></marker></defs>
<defs><marker id="mcir1" markerUnits="userSpaceOnUse" markerWidth="1" markerHeight="1" refX="0" refY="0" orient="0" overflow="visible"><circle r="1.75" fill="#fff" fill-opacity="0.45" stroke="#000" stroke-width="0.65"/></marker></defs>
<path d="M373.6 215.5V226.7M378.5 166.6V282M355.6 224.7V235M314.4 288.6V307.5M304.1 179.4V395.9M368.9 220.7V232.9M337.9 243.9V268.9M365.3 228.5V258M291.2 283.9V302.3M335.9 238.2V250.3M374.7 150.4V291.7M418.3 169.8V238.3M391.4 173.6V287.8M412.5 106.4V333.6M349.2 223.7V231.4M366.3 206.3V231.9M356.2 215.3V226.6M393.5 221.4V234.8M358.8 237.8V253.4M321.5 257.9V284.3M413.9 100.2V327.1M403.4 108.2V311M360.2 239.4V247.3M279.3 295.7V323.5M287.1 299.4V313.1M289.2 293.5V301.3M361.6 154.5V321.4M385.5 207.9V260.2M346.3 204.4V226.2M366.8 221.8V231.1M315.7 257.4V269.8M377.5 199.8V262.1M351.1 148.2V297.8M344.3 240.9V253.4M294.5 285.3V311.7M309.7 250.4V272.6M410 97.4V338.3M399.1 155.5V313.8M313.4 260.8V287.9M321.2 242.8V273.7M419 99.9V335.9M365.6 233.5V240.5M355.2 183.9V294.1M367.7 206.2V214.6M318.4 247.7V272.3M358 169.2V313.1M377.9 135.4V289.4M419.4 87.4V317.7M404.7 207.8V231M382 116.6V328.2M326.4 208.1V305.6M362.1 143.7V325.9M321.1 193.6V342M323 232.7V273.6M386.9 198.8V274M361.1 159.7V289.5M407 165.8V286.2M295.2 288V309.1M303.9 261.2V304.8M404.8 203.7V247M394.8 181.1V241.1M296.1 263.3V296.9M349.4 188.5V299.9M330.6 210.5V267.9M340.9 116.2V352.4M307.8 261.2V299.3M369.2 127V321.2M274.8 296.9V326.2M377.7 204.8V258.7M328.5 243.9V254.9M342.1 244.8V255.9M412.2 131.9V300.3M274.4 307.8V331.8M350 226.5V241M394 189V235.7M331.6 243.2V250.4M311.1 254V285.6M289.9 292.6V312.1M354.1 116.1V264.7M307.4 279.1V292.7M400.6 211.1V236.7M367.8 223.2V265.5M355.5 208.8V278.3M351.4 239.6V247.2M357.8 217.4V226.2M322.2 247.2V266.7M380.8 208.2V248.8M343.2 209.2V269.8M381 147.9V284.7M388.5 213.8V258M361.1 230.6V241.6M281.4 296.5V310.3M350.4 240.5V252.4M363.6 232.7V253.2M285.6 296.5V311.3M338 204.6V288M360.2 221.7V228.6M375.2 175.5V280.3M299.2 273.6V302.4M390.2 111.9V323.8M415.2 213.2V226.2M414.4 89.5V293.9M400.9 193.5V283.3M333.4 220.5V248.8M400.8 170.3V257M398.1 173.4V239.1M322 238.6V272.3M385.6 118V339.9M318 165.8V382.9M308.3 271.6V284.2M381.7 137.9V333.9M353.3 224.1V246.9M393.6 129.1V302.9M351.2 240.5V253.5M381.9 178.1V277.7M359.7 219.9V247M384.8 157.8V269.3M315.5 260.7V271M416.4 225.2V254M353.6 211V246.3M308.7 247.4V270.4M341 210.3V238.3M418.8 202.6V214.8M315.2 260.8V291M418.4 192.5V242.5M413.1 179.3V287.6M290.3 328.6V342.7M316.1 248V289.1M410.1 186.6V250.3M344.5 244.4V262.7M289.6 283.9V303.7M324.8 232.9V266.2M354.9 188.1V283.1M414.9 167.4V267.5M377.9 207.1V271.3M375.2 211.3V237.4M353.7 238.5V267.7M401.8 201.4V262.2M396.2 117.7V353.9M341.5 261V275.5M342.8 224.3V255.8M389.3 195.3V247.5M381.3 154V259.8M361.8 231.2V242.7M349.5 204.6V249M356.1 153.6V322.5M338.6 226.4V248.7M322.9 241.8V272.9M397.1 206.4V245.5M353.4 211.7V248.9M360.8 234V248.6M364.6 173.4V182M338.9 238.4V278.3M283 300.4V334.7M346.6 224.1V275.6M375.6 175.7V272.6M380.6 197.7V246.3M338.1 251V266.9M282.8 336.5V370M387.6 223.2V236.9M347.1 297.5V311.3M302.5 265.7V305.1M291 290.1V306.6M302.1 179.2V388.9M407.3 126.3V301M373.5 149V291.1M352.5 199.1V241.4M325.7 251.9V269.6M379.7 207.7V260.9M407.7 126.4V309.1M371.2 234.5V250.5M372.1 231.3V256M365.6 223.1V253.1M307.3 241.5V302.7M408.8 225.1V235.3M395.3 195.1V212.1M301.7 265.3V292.5M415.5 153.6V320.1M348.6 215.5V240.6M412.2 213.3V229.6M363.2 224.6V263.1M342.1 245V274.4M294.2 281.8V302M387.2 143.4V290.4M294.6 215.4V355.3M347 221.4V236.5M360.9 186.8V286.7M400.6 196.3V232.9M279.7 311.4V318.6M289.1 288.9V299M330.6 242.9V251.4M302.3 277.5V284.4M280.7 292.9V311M307.1 256.3V274.3M351.6 172V378.2M403 145.2V302.5M341.2 192V285.3M369.5 210.4V264.2M330.2 239.4V247.3M294.6 272.5V313.9M384.3 200.9V246.8M348.4 236.1V249.6M337.3 89V288M396 178.5V278.5M334.3 251V258M415.7 153.4V339.2M315 237.5V262.2M364.9 192.5V258.3M370.2 225V237.9M321.6 235.4V276M276.1 299.3V320.1M372.8 204.3V222M332.4 240.6V277.9M292.1 284.8V295.1M322.3 248.9V279.3M388.7 200.4V233.3M353 230.9V245.8M276.5 306V322.6M330.6 235.2V244.2M382 137.1V355.9M284.1 286.2V297.4M364.8 168.1V300.6M394.6 131.8V347.8M317.9 260.2V282M332.2 172.2V334.4M407.9 203.3V264.1M316.8 252.8V271.7M375.7 190.5V251.1M389.3 231.6V265.4M371.6 144.8V296.2M326.9 248.3V263.6M348.2 196.5V241.2M355.8 219.8V278.1M347.9 234V255.8M303.3 209.1V242.2M383.4 229.2V236.7M346.5 241V250.3M342.2 229.8V268.9M288.6 280V301.4M375.9 188.3V234.5M301.8 266.1V315.2M367.7 214.3V232.1M396.1 198.7V269.7M358.5 223.8V256.7M308.1 242.2V299.2M301.1 247.8V259.6M283.2 310.2V317.9M305.2 274.8V286.6M346.2 247.9V264.3M324.2 245V280.5M395.6 207V232.8M417.7 224.1V239.4M415.4 118.4V301.8M403.9 194.3V263.8M324.2 174.2V324.8M412.9 151.7V240.6M355.1 118.5V348.4M399.5 117.2V330.9M381 186V279M319.8 247.9V291M296.7 285.8V294.6M393.7 185.9V256.7M278.6 300.1V307.4M370.3 106.1V343M288.9 263.8V322.3M339.6 217.5V275.3M278.6 310.4V331.2M390.8 204.2V216.7M396.2 213.8V228.6M372.6 209.5V270.9M325.5 247V260.8M357 219.1V228.6M309.8 261.2V297.5M298.9 274.6V311.4M339 230.3V242.4M357.5 256.6V309.7M329.6 254.8V280.2M344.6 256.6V281.7M322.7 256.3V272.2M335.7 160.2V338.2M392.1 157.8V191.8M338.5 245V267.2M336.9 225.4V267.4M374.9 216.7V240.6M339.1 244V259M419.1 118.9V336.3M348.2 244.9V275.2M333.4 303.5V324.9M383.1 198.4V228.1M298.4 199.6V369M336.5 179.2V309.3M419.5 194.8V254M290.1 282.3V293.5M333 122.9V358.4M345.5 185.5V292.3M329.8 240V269.6M400.3 159.1V288.1M359.4 146.5V332.7M384.2 217.3V267.3M281.2 293.6V306.8M390.2 221.6V255.4M324.9 242V256.5M326.1 248.6V259.3M311.8 265.3V284M402.2 212.2V222.4M329.3 195.8V322.8M338.7 184V317M365.4 208.8V266.9M354.7 230.4V243.4M415.5 145.4V240.7M350.8 225.1V250.1M385.1 219.5V251.1M310.4 251.9V281.7M323.4 248.8V260.9M340.1 227.9V269.4M311.1 190.9V324.7M351.2 220.4V255.5M370.1 206.3V268.3M331.8 228.7V275.5M396.5 199.1V256.2M394.1 246.7V257M415.5 216.4V232.5M366.2 224.5V262.9M302.8 244.6V327.9M328.5 242.4V258.7M409.7 176.9V290.6M330.1 142V368.9M332.7 245.4V258M380.7 235.2V251.7M315.1 255.8V268.2M382.2 190.7V246.5M322.5 237.3V254.6M396.8 136.3V331.4M333.2 172.8V339.6M411.3 186.3V230.9M317.8 183.4V330.2M383.8 220.7V231.3M410.8 215.1V276M311.1 259.7V270.8M292.9 289.7V306.7M408.8 169.8V253M419.2 214.2V251.8M410.4 102V340.3M324.2 244.4V253.4M401 153.7V307.8M320.1 236.2V278.5M389 179.5V252.2M356.9 157.5V289.8M318.6 251.6V275.5M326.7 250.6V261.2M287.9 286.6V303.4M406.5 205.3V246M325.7 160.2V360.7M369.1 226.8V255M376.9 210.2V243M291.5 271.2V283.9M355.6 225.5V248.5M297.5 275V289.1M395.6 149.3V304M395.3 193.5V257M365.5 229.7V246.4M411.5 157.7V224.9M416.9 100.3V320.4M408 188.9V220.7M375.5 229.1V254.8M385.2 120.1V308.6M360.9 224.6V242.1M322.8 259.7V268.5M343.6 198.2V294.8M282.3 302V310.4M341.2 165.9V327.2M324.9 238.4V247.8M378 230.1V243.2M314.5 235V292.6M408.6 186.6V236.9M412.3 208.4V223.5M303.1 281.3V288.8M326.6 251.3V277.1M415.6 155.1V339.3M409.9 154V277.5M378.1 207.4V230.2M384.7 114V348.1M278.4 302.4V316.7M352 227.1V250.1M361.9 218.9V254.7M320.7 246.4V264.1M350.7 222.5V253.9M363.4 226V248.1M365.6 213.9V237.6M398.7 109.3V321.7M415.4 220.7V253.5M306.3 249.3V302.5M373.9 158.7V179.6M377.4 130V324M276.9 313.7V321.1M370.6 220.2V232M322.7 234.3V285.1M395.3 166.5V277.7M358.5 226.7V237M341.8 222.1V249M400.6 153.4V294.6M362 209.6V217.7M345.7 156.3V321.4M284.1 281.3V320.2M284.9 279.8V303.6M282.2 295.4V308.3M388.3 245.8V267.1M339.4 120.7V359.9M384.7 201.4V220.3M399.4 215V233.6M391.1 177.3V301.5M334.6 232.7V249.8M292.2 247.6V352.7M383.1 197.4V278.6M327.7 182.4V334.8M362.3 146.4V322.9M330 145V370.1M407.8 156.1V258.7M326.6 254.8V262.1M352.7 222.5V240M367.6 218.5V240.2M331.2 242.5V281.3M396.4 88.7V321.2M311.4 248V306.7M380.9 235.8V245.4M396.6 219V237.8M361.1 216.5V259.9M382.7 225.6V243.8M393.9 142.3V328.5M383.5 215.1V235.9M341 257.9V267.4M393.3 204.5V274.3M292.1 275.6V308.5M284.5 290.4V299.8M415.3 218.7V228.2M357.4 232V258.6M390.9 187.3V284.5M343.2 173.6V304M348.7 217.1V256.4M381.1 122.3V339.1M374.7 177.1V285.5M304.8 279.5V305.3M308.8 290.6V308.1M339.3 239.3V258.7M288 276.7V291.6M349 207.9V273.2M368 222.9V258.2M370.7 196.2V251.7M292 284.4V298M380.7 233.1V242.6M309 264V295.5M362.3 233.9V242M286.3 296.5V305.2M415.1 231.8V240.3M399.5 139.4V306.1M306.2 277.3V285.8M297 290.6V303M397.3 204.1V259.2M295.2 267.6V301.6M347.9 223.7V274.3M391.3 185.4V261.2M383 174.1V287.6M287.4 292.5V310.6M382.1 211.6V246.1M378.9 176.9V235M418.7 119.9V314.5M398.1 189.8V255.5M321.8 256.8V277.1M293.5 291.6V299.9M413.4 217.6V227.2M385.6 158V324.2M314 265.3V278.8M332 248.6V271.3M379.3 217.1V228.9M298.9 301.5V320.9M300.2 268.4V299.9M375.6 136.8V280.8M327.3 238.3V248.9M274.6 302.2V316M276.9 297.7V322.8M300.2 255.7V386.4M404.7 90V329.9M302 278.1V285.5M384.5 219.5V241.5M402.1 210.6V227M338.7 233V245.3M292 292.8V307.7M380.3 193.7V243.4M356.2 227.7V296.1M296.9 282.6V308.8M418 197.5V262.5M336 230.3V242.5M278.7 207.5V414.7M355.8 226.4V259.5M291.6 294.8V307.3M356.4 200.3V260.9M372.9 258.1V282.6M287.1 324V338.3M327.8 231.3V279.4M381.8 172.1V255.3M384.3 112.2V335M390.8 108.3V303.1M365.3 210.7V234.3M363.9 133.3V295.4M284.4 302.8V310.3M303.2 261.3V284.1M386.8 224.5V248.2M322.2 272.2V299.4M307.9 190.7V345.8M323.8 198.4V311M363.5 212V261.4M353.9 222.4V249.1M318.2 252.6V260.4M399.5 253.1V302.3M295.4 177.9V418.4M383.1 145.5V189.1M381.7 154.1V176.9M290.3 269.4V317.9M320.6 244.8V263.3M329.1 253.6V275.8M366.3 215.5V241.3M359.8 175.2V274.9M304.4 165.8V380.4M330.5 236.6V267.5M378.6 111.9V150.8M318.9 151.7V365.5M417.4 215.3V240.7M374.3 192.1V282.8M407.4 166.9V235.4M331.1 265.1V275.8M397.2 168.7V283.6M309.2 199.4V218M342.6 191.2V303.6M405.2 191V247.8M418.3 217.2V258.5M408.7 153.3V268.8M406.6 155.5V280.5M390.2 201.1V225.1M321.4 254.1V268M314.2 262.3V275.3M400.2 200.2V267.2M408.9 194.5V297.3M363.4 173.9V269.8M327.8 254.2V261.8M358.5 116.3V311.8M409.5 202.4V288.7M400.4 214.6V258.7M340.3 133.9V366.6M393.4 198.9V219.4M380.7 193.7V227.8M307.3 260V296.9M413.2 200.5V220.8M282.1 300.8V329.2M363.8 108.4V346.6M306.1 267.9V280.7M405.5 170.7V292.3M296.1 278.8V285.8M405.2 155.5V312.9M402.6 125.3V341.5M325.7 176.8V195.3M361.3 204.1V246.7M352.5 212.9V226.2M304.3 267.4V282.5M384.4 183.2V271.5M364.6 217.7V240.4M325.6 208V315.8M325.2 229.6V259.9M353.4 127.6V350.2M336.6 246.4V260.3M321.8 181.4V317M360.5 214.1V228.8M396.8 220.8V251.4M404.8 222.9V232.3M355.1 203.4V242.5M298.2 276V294.7M395.5 198.1V234M419.2 204.8V270.9M408.9 149.4V274.1M349.1 206.7V250.5M343.7 239V254.1M412.1 167.4V313.8M338.5 230V242.7M302.2 277.5V286.3M331.1 249.7V258.2M279.5 314.8V325.8M381.1 205V226M347 223.7V251M309.3 247.1V292.8M403 136.3V298.1M300.8 324.6V344.6M318.9 231.3V269.9M397.5 162.5V302.7M367.6 216V253.2M305.4 279.7V286.8M339 222.7V293.3M374.7 137.2V342.9M390.3 168.6V204.2M276.7 296.3V330M374 159.8V315.1M378.6 226.6V285.4M337.2 202.6V293.1M418.1 213.8V242.4M406.2 205.8V253.7M395.2 182.6V235.5M384.3 217.8V253M339.3 157.7V354.8M314.7 271V286.4M355.9 177.9V273.9M299.5 263.4V305.6M378.9 219.8V239.9M327.5 239V267.8M401 235.1V256.7M289.6 281.3V301.3M326.2 230.9V254M342.2 243.4V276.1M383.6 133.2V315.4M275.7 299.8V331.2M353.4 226.6V246.4M341.4 184.7V316.8M398.7 117.5V309.3M436.1 273.2V295.7M453.8 262.9V298M432.7 251.5V283.9M454.4 244.4V281.3M483.4 243.7V281M437.1 258.9V297.6M477.8 247.1V265.1M463.9 267.9V300.5M453.9 269.3V291.3M458.3 275.6V312.2M429.6 236.1V248.9M483.3 214.3V244.5M412.5 214.8V238.2M438.7 228.7V253.8M422.2 211.2V240.7M432.9 214.2V244.6M430.7 227.5V242.9M471.4 270.9V303M419.6 278.7V293.2M425.5 267.6V286.6M449.1 261.1V292.7M432.5 280.8V306.5M426.1 190.9V211.8M411.2 209.6V247.1M471.7 220.8V236.5M417.6 228.8V261M418.4 262.3V280.4M482.9 254.8V279.6M418.3 273.4V286M432.2 204.7V225.2M464.7 271.3V304.5M414.4 194.5V225M423.4 248.8V272.8M456.2 199.9V214.1M470.3 267.4V290.3M481 258.4V280.9" fill="none" stroke="#222" stroke-width="0.7" stroke-opacity="0.55" marker-start="url(#mcap1)" marker-mid="url(#mcap1)" marker-end="url(#mcap1)"/>
<path d="M373.6 221.1L378.5 224.3L355.6 229.9L314.4 298L304.1 287.6L368.9 226.8L337.9 256.4L365.3 243.2L291.2 293.1L335.9 244.3L374.7 221.1L418.3 204L391.4 230.7L412.5 220L349.2 227.6L366.3 219.1L356.2 220.9L393.5 228.1L358.8 245.6L321.5 271.1L413.9 213.6L403.4 209.6L360.2 243.4L279.3 309.6L287.1 306.2L289.2 297.4L361.6 237.9L385.5 234L346.3 215.3L366.8 226.5L315.7 263.6L377.5 230.9L351.1 223L344.3 247.2L294.5 298.5L309.7 261.5L410 217.8L399.1 234.6L313.4 274.4L321.2 258.2L419 217.9L365.6 237L355.2 239L367.7 210.4L318.4 260L358 241.1L377.9 212.4L419.4 202.6L404.7 219.4L382 222.4L326.4 256.9L362.1 234.8L321.1 267.8L323 253.2L386.9 236.4L361.1 224.6L407 226L295.2 298.5L303.9 283L404.8 225.3L394.8 211.1L296.1 280.1L349.4 244.2L330.6 239.2L340.9 234.3L307.8 280.2L369.2 224.1L274.8 311.5L377.7 231.8L328.5 249.4L342.1 250.4L412.2 216.1L274.4 319.8L350 233.8L394 212.4L331.6 246.8L311.1 269.8L289.9 302.4L354.1 190.4L307.4 285.9L400.6 223.9L367.8 244.4L355.5 243.6L351.4 243.4L357.8 221.8L322.2 257L380.8 228.5L343.2 239.5L381 216.3L388.5 235.9L361.1 236.1L281.4 303.4L350.4 246.4L363.6 243L285.6 303.9L338 246.3L360.2 225.1L375.2 227.9L299.2 288L390.2 217.8L415.2 219.7L414.4 191.7L400.9 238.4L333.4 234.7L400.8 213.7L398.1 206.2L322 255.4L385.6 228.9L318 274.4L308.3 277.9L381.7 235.9L353.3 235.5L393.6 216L351.2 247L381.9 227.9L359.7 233.4L384.8 213.5L315.5 265.9L416.4 239.6L353.6 228.7L308.7 258.9L341 224.3L418.8 208.7L315.2 275.9L418.4 217.5L413.1 233.4L290.3 335.6L316.1 268.6L410.1 218.4L344.5 253.6L289.6 293.8L324.8 249.5L354.9 235.6L414.9 217.4L377.9 239.2L375.2 224.3L353.7 253.1L401.8 231.8L396.2 235.8L341.5 268.3L342.8 240.1L389.3 221.4L381.3 206.9L361.8 236.9L349.5 226.8L356.1 238L338.6 237.6L322.9 257.3L397.1 225.9L353.4 230.3L360.8 241.3L364.6 177.7L338.9 258.4L283 317.5L346.6 249.8L375.6 224.1L380.6 222L338.1 259L282.8 353.3L387.6 230.1L347.1 304.4L302.5 285.4L291 298.3L302.1 284.1L407.3 213.6L373.5 220.1L352.5 220.3L325.7 260.8L379.7 234.3L407.7 217.7L371.2 242.5L372.1 243.6L365.6 238.1L307.3 272.1L408.8 230.2L395.3 203.6L301.7 278.9L415.5 236.9L348.6 228.1L412.2 221.4L363.2 243.8L342.1 259.7L294.2 291.9L387.2 216.9L294.6 285.4L347 229L360.9 236.7L400.6 214.6L279.7 315L289.1 294L330.6 247.2L302.3 280.9L280.7 302L307.1 265.3L351.6 275.1L403 223.9L341.2 238.7L369.5 237.3L330.2 243.4L294.6 293.2L384.3 223.8L348.4 242.9L337.3 188.5L396 228.5L334.3 254.5L415.7 246.3L315 249.8L364.9 225.4L370.2 231.4L321.6 255.7L276.1 309.7L372.8 213.2L332.4 259.2L292.1 290L322.3 264.1L388.7 216.8L353 238.4L276.5 314.3L330.6 239.7L382 246.5L284.1 291.8L364.8 234.4L394.6 239.8L317.9 271.1L332.2 253.3L407.9 233.7L316.8 262.2L375.7 220.8L389.3 248.5L371.6 220.5L326.9 255.9L348.2 218.8L355.8 248.9L347.9 244.9L303.3 225.7L383.4 233L346.5 245.6L342.2 249.3L288.6 290.7L375.9 211.4L301.8 290.6L367.7 223.2L396.1 234.2L358.5 240.3L308.1 270.7L301.1 253.7L283.2 314L305.2 280.7L346.2 256.1L324.2 262.8L395.6 219.9L417.7 231.7L415.4 210.1L403.9 229L324.2 249.5L412.9 196.2L355.1 233.5L399.5 224L381 232.5L319.8 269.5L296.7 290.2L393.7 221.3L278.6 303.8L370.3 224.6L288.9 293L339.6 246.4L278.6 320.8L390.8 210.5L396.2 221.2L372.6 240.2L325.5 253.9L357 223.8L309.8 279.4L298.9 293L339 236.4L357.5 283.1L329.6 267.5L344.6 269.2L322.7 264.3L335.7 249.2L392.1 174.8L338.5 256.1L336.9 246.4L374.9 228.6L339.1 251.5L419.1 227.6L348.2 260L333.4 314.2L383.1 213.2L298.4 284.3L336.5 244.3L419.5 224.4L290.1 287.9L333 240.7L345.5 238.9L329.8 254.8L400.3 223.6L359.4 239.6L384.2 242.3L281.2 300.2L390.2 238.5L324.9 249.2L326.1 253.9L311.8 274.6L402.2 217.3L329.3 259.3L338.7 250.5L365.4 237.9L354.7 236.9L415.5 193.1L350.8 237.6L385.1 235.3L310.4 266.8L323.4 254.9L340.1 248.7L311.1 257.8L351.2 238L370.1 237.3L331.8 252.1L396.5 227.6L394.1 251.8L415.5 224.4L366.2 243.7L302.8 286.3L328.5 250.6L409.7 233.7L330.1 255.4L332.7 251.7L380.7 243.5L315.1 262L382.2 218.6L322.5 245.9L396.8 233.8L333.2 256.2L411.3 208.6L317.8 256.8L383.8 226L410.8 245.5L311.1 265.3L292.9 298.2L408.8 211.4L419.2 233L410.4 221.2L324.2 248.9L401 230.8L320.1 257.4L389 215.8L356.9 223.6L318.6 263.6L326.7 255.9L287.9 295L406.5 225.6L325.7 260.5L369.1 240.9L376.9 226.6L291.5 277.6L355.6 237L297.5 282.1L395.6 226.7L395.3 225.3L365.5 238.1L411.5 191.3L416.9 210.3L408 204.8L375.5 241.9L385.2 214.3L360.9 233.4L322.8 264.1L343.6 246.5L282.3 306.2L341.2 246.6L324.9 243.1L378 236.7L314.5 263.8L408.6 211.8L412.3 215.9L303.1 285.1L326.6 264.2L415.6 247.2L409.9 215.8L378.1 218.8L384.7 231.1L278.4 309.6L352 238.6L361.9 236.8L320.7 255.3L350.7 238.2L363.4 237.1L365.6 225.7L398.7 215.5L415.4 237.1L306.3 275.9L373.9 169.2L377.4 227L276.9 317.4L370.6 226.1L322.7 259.7L395.3 222.1L358.5 231.9L341.8 235.5L400.6 224L362 213.6L345.7 238.9L284.1 300.8L284.9 291.7L282.2 301.9L388.3 256.5L339.4 240.3L384.7 210.9L399.4 224.3L391.1 239.4L334.6 241.3L292.2 300.2L383.1 238L327.7 258.6L362.3 234.6L330 257.5L407.8 207.4L326.6 258.5L352.7 231.3L367.6 229.4L331.2 261.9L396.4 204.9L311.4 277.3L380.9 240.6L396.6 228.4L361.1 238.2L382.7 234.7L393.9 235.4L383.5 225.5L341 262.6L393.3 239.4L292.1 292.1L284.5 295.1L415.3 223.4L357.4 245.3L390.9 235.9L343.2 238.8L348.7 236.8L381.1 230.7L374.7 231.3L304.8 292.4L308.8 299.4L339.3 249L288 284.1L349 240.5L368 240.6L370.7 223.9L292 291.2L380.7 237.8L309 279.8L362.3 237.9L286.3 300.9L415.1 236L399.5 222.7L306.2 281.5L297 296.8L397.3 231.7L295.2 284.6L347.9 249L391.3 223.3L383 230.8L287.4 301.6L382.1 228.8L378.9 206L418.7 217.2L398.1 222.6L321.8 266.9L293.5 295.7L413.4 222.4L385.6 241.1L314 272.1L332 259.9L379.3 223L298.9 311.2L300.2 284.2L375.6 208.8L327.3 243.6L274.6 309.1L276.9 310.2L300.2 321L404.7 209.9L302 281.8L384.5 230.5L402.1 218.8L338.7 239.2L292 300.3L380.3 218.5L356.2 261.9L296.9 295.7L418 230L336 236.4L278.7 311.1L355.8 243L291.6 301L356.4 230.6L372.9 270.3L287.1 331.2L327.8 255.4L381.8 213.7L384.3 223.6L390.8 205.7L365.3 222.5L363.9 214.3L284.4 306.5L303.2 272.7L386.8 236.3L322.2 285.8L307.9 268.3L323.8 254.7L363.5 236.7L353.9 235.7L318.2 256.5L399.5 277.7L295.4 298.2L383.1 167.3L381.7 165.5L290.3 293.7L320.6 254.1L329.1 264.7L366.3 228.4L359.8 225.1L304.4 273.1L330.5 252L378.6 131.4L318.9 258.6L417.4 228L374.3 237.4L407.4 201.2L331.1 270.5L397.2 226.1L309.2 208.7L342.6 247.4L405.2 219.4L418.3 237.8L408.7 211L406.6 218L390.2 213.1L321.4 261.1L314.2 268.8L400.2 233.7L408.9 245.9L363.4 221.8L327.8 258L358.5 214.1L409.5 245.6L400.4 236.7L340.3 250.2L393.4 209.2L380.7 210.8L307.3 278.4L413.2 210.6L282.1 315L363.8 227.5L306.1 274.3L405.5 231.5L296.1 282.3L405.2 234.2L402.6 233.4L325.7 186.1L361.3 225.4L352.5 219.6L304.3 274.9L384.4 227.3L364.6 229L325.6 261.9L325.2 244.7L353.4 238.9L336.6 253.4L321.8 249.2L360.5 221.5L396.8 236.1L404.8 227.6L355.1 223L298.2 285.3L395.5 216.1L419.2 237.8L408.9 211.8L349.1 228.6L343.7 246.5L412.1 240.6L338.5 236.4L302.2 281.9L331.1 253.9L279.5 320.3L381.1 215.5L347 237.3L309.3 269.9L403 217.2L300.8 334.6L318.9 250.6L397.5 232.6L367.6 234.6L305.4 283.2L339 258L374.7 240L390.3 186.4L276.7 313.2L374 237.5L378.6 256L337.2 247.9L418.1 228.1L406.2 229.7L395.2 209L384.3 235.4L339.3 256.2L314.7 278.7L355.9 225.9L299.5 284.5L378.9 229.8L327.5 253.4L401 245.9L289.6 291.3L326.2 242.5L342.2 259.7L383.6 224.3L275.7 315.5L353.4 236.5L341.4 250.7L398.7 213.4L436.1 284.4L453.8 280.5L432.7 267.7L454.4 262.8L483.4 262.3L437.1 278.3L477.8 256.1L463.9 284.2L453.9 280.3L458.3 293.9L429.6 242.5L483.3 229.4L412.5 226.5L438.7 241.2L422.2 225.9L432.9 229.4L430.7 235.2L471.4 286.9L419.6 286L425.5 277.1L449.1 276.9L432.5 293.7L426.1 201.4L411.2 228.4L471.7 228.6L417.6 244.9L418.4 271.3L482.9 267.2L418.3 279.7L432.2 214.9L464.7 287.9L414.4 209.7L423.4 260.8L456.2 207L470.3 278.9L481 269.7" fill="none" stroke="none" marker-start="url(#mcir1)" marker-mid="url(#mcir1)" marker-end="url(#mcir1)"/>
<path d="M274.2 314.09 L276.34 311.25 L278.48 308.42 L280.61 305.59 L282.75 302.78 L284.89 299.99 L287.03 297.22 L289.17 294.49 L291.3 291.79 L293.44 289.13 L295.58 286.51 L297.72 283.94 L299.86 281.42 L301.99 278.96 L304.13 276.55 L306.27 274.19 L308.41 271.9 L310.55 269.67 L312.68 267.51 L314.82 265.41 L316.96 263.37 L319.1 261.4 L321.24 259.5 L323.37 257.67 L325.51 255.9 L327.65 254.2 L329.79 252.56 L331.93 250.99 L334.06 249.48 L336.2 248.03 L338.34 246.64 L340.48 245.32 L342.62 244.05 L344.75 242.84 L346.89 241.69 L349.03 240.58 L351.17 239.53 L353.31 238.53 L355.44 237.58 L357.58 236.67 L359.72 235.81 L361.86 235 L364 234.22 L366.13 233.48 L368.27 232.78 L370.41 232.12 L372.55 231.49 L374.69 230.89 L376.82 230.33 L378.96 229.8 L381.1 229.29 L383.24 228.81 L385.38 228.36 L387.51 227.93 L389.65 227.53 L391.79 227.15 L393.93 226.79 L396.07 226.45 L398.2 226.12 L400.34 225.82 L402.48 225.53 L404.62 225.26 L406.76 225.01 L408.89 224.77 L411.03 224.54 L413.17 224.33 L415.31 224.12 L417.45 223.93 L419.58 223.75 L421.72 223.58 L423.86 223.42 L426 223.27 L428.14 223.13 L430.27 223 L432.41 222.87 L434.55 222.75 L436.69 222.64 L438.83 222.54 L440.96 222.44 L443.1 222.35 L445.24 222.26 L447.38 222.17 L449.52 222.1 L451.65 222.02 L453.79 221.95 L455.93 221.89 L458.07 221.83 L460.21 221.77 L462.34 221.72 L464.48 221.66 L466.62 221.62 L468.76 221.57 L470.9 221.53 L473.03 221.49 L475.17 221.45 L477.31 221.42 L479.45 221.38 L481.59 221.35 L483.72 221.32 L485.86 221.29 L488 221.27" fill="none" stroke="#ff00ff" stroke-width="1.5" stroke-linejoin="round"/>
</g>
<rect x="274.2" y="171.5" width="213.8" height="157.8" fill="none" stroke="#222" stroke-width="0.85"/>
<path d="M274.2 329.3v-4M274.2 171.5v4M316.96 329.3v-4M316.96 171.5v4M359.72 329.3v-4M359.72 171.5v4M402.48 329.3v-4M402.48 171.5v4M445.24 329.3v-4M445.24 171.5v4M488 329.3v-4M488 171.5v4M274.2 329.3v-2.6M274.2 171.5v2.6M282.75 329.3v-2.6M282.75 171.5v2.6M291.3 329.3v-2.6M291.3 171.5v2.6M299.86 329.3v-2.6M299.86 171.5v2.6M308.41 329.3v-2.6M308.41 171.5v2.6M316.96 329.3v-2.6M316.96 171.5v2.6M325.51 329.3v-2.6M325.51 171.5v2.6M334.06 329.3v-2.6M334.06 171.5v2.6M342.62 329.3v-2.6M342.62 171.5v2.6M351.17 329.3v-2.6M351.17 171.5v2.6M359.72 329.3v-2.6M359.72 171.5v2.6M368.27 329.3v-2.6M368.27 171.5v2.6M376.82 329.3v-2.6M376.82 171.5v2.6M385.38 329.3v-2.6M385.38 171.5v2.6M393.93 329.3v-2.6M393.93 171.5v2.6M402.48 329.3v-2.6M402.48 171.5v2.6M411.03 329.3v-2.6M411.03 171.5v2.6M419.58 329.3v-2.6M419.58 171.5v2.6M428.14 329.3v-2.6M428.14 171.5v2.6M436.69 329.3v-2.6M436.69 171.5v2.6M445.24 329.3v-2.6M445.24 171.5v2.6M453.79 329.3v-2.6M453.79 171.5v2.6M462.34 329.3v-2.6M462.34 171.5v2.6M470.9 329.3v-2.6M470.9 171.5v2.6M479.45 329.3v-2.6M479.45 171.5v2.6M488 329.3v-2.6M488 171.5v2.6M274.2 314.95h4M488 314.95h-4M274.2 286.26h4M488 286.26h-4M274.2 257.57h4M488 257.57h-4M274.2 228.88h4M488 228.88h-4M274.2 200.19h4M488 200.19h-4M274.2 171.5h4M488 171.5h-4M274.2 326.43h2.6M488 326.43h-2.6M274.2 320.69h2.6M488 320.69h-2.6M274.2 314.95h2.6M488 314.95h-2.6M274.2 309.22h2.6M488 309.22h-2.6M274.2 303.48h2.6M488 303.48h-2.6M274.2 297.74h2.6M488 297.74h-2.6M274.2 292h2.6M488 292h-2.6M274.2 286.26h2.6M488 286.26h-2.6M274.2 280.53h2.6M488 280.53h-2.6M274.2 274.79h2.6M488 274.79h-2.6M274.2 269.05h2.6M488 269.05h-2.6M274.2 263.31h2.6M488 263.31h-2.6M274.2 257.57h2.6M488 257.57h-2.6M274.2 251.83h2.6M488 251.83h-2.6M274.2 246.1h2.6M488 246.1h-2.6M274.2 240.36h2.6M488 240.36h-2.6M274.2 234.62h2.6M488 234.62h-2.6M274.2 228.88h2.6M488 228.88h-2.6M274.2 223.14h2.6M488 223.14h-2.6M274.2 217.41h2.6M488 217.41h-2.6M274.2 211.67h2.6M488 211.67h-2.6M274.2 205.93h2.6M488 205.93h-2.6M274.2 200.19h2.6M488 200.19h-2.6M274.2 194.45h2.6M488 194.45h-2.6M274.2 188.71h2.6M488 188.71h-2.6M274.2 182.98h2.6M488 182.98h-2.6M274.2 177.24h2.6M488 177.24h-2.6M274.2 171.5h2.6M488 171.5h-2.6" stroke="#000" stroke-width="0.9" fill="none"/>
<text x="274.2" y="337.8" font-size="8.59" textLength="5.15" lengthAdjust="spacingAndGlyphs" text-anchor="middle">0</text>
<text x="316.96" y="337.8" font-size="8.59" textLength="5.15" lengthAdjust="spacingAndGlyphs" text-anchor="middle">5</text>
<text x="359.72" y="337.8" font-size="8.59" textLength="10.31" lengthAdjust="spacingAndGlyphs" text-anchor="middle">10</text>
<text x="402.48" y="337.8" font-size="8.59" textLength="10.31" lengthAdjust="spacingAndGlyphs" text-anchor="middle">15</text>
<text x="445.24" y="337.8" font-size="8.59" textLength="10.31" lengthAdjust="spacingAndGlyphs" text-anchor="middle">20</text>
<text x="488" y="337.8" font-size="8.59" textLength="10.31" lengthAdjust="spacingAndGlyphs" text-anchor="middle">25</text>
<text x="271.7" y="318.45" font-size="8.59" textLength="5.15" lengthAdjust="spacingAndGlyphs" text-anchor="end">0</text>
<text x="271.7" y="289.76" font-size="8.59" textLength="15.46" lengthAdjust="spacingAndGlyphs" text-anchor="end">100</text>
<text x="271.7" y="261.07" font-size="8.59" textLength="15.46" lengthAdjust="spacingAndGlyphs" text-anchor="end">200</text>
<text x="271.7" y="232.38" font-size="8.59" textLength="15.46" lengthAdjust="spacingAndGlyphs" text-anchor="end">300</text>
<text x="271.7" y="203.69" font-size="8.59" textLength="15.46" lengthAdjust="spacingAndGlyphs" text-anchor="end">400</text>
<text x="271.7" y="175" font-size="8.59" textLength="15.46" lengthAdjust="spacingAndGlyphs" text-anchor="end">500</text>
<text x="381.1" y="168.6" font-size="8.59" textLength="93.38" lengthAdjust="spacingAndGlyphs" text-anchor="middle">Rotation velocity curve</text>
<text x="381.1" y="347.8" font-size="8.59" textLength="50.34" lengthAdjust="spacingAndGlyphs" text-anchor="middle">Radius (kpc)</text>
<text x="255.3" y="250.5" font-size="8.59" transform="rotate(-90 255.3 250.5)" textLength="96.53" lengthAdjust="spacingAndGlyphs" text-anchor="middle">Rotation velocity (km/s)</text>
<rect x="275.2" y="179.2" width="170.2" height="12.2" rx="2" fill="#fff" stroke="#000" stroke-width="0.8"/>
<text x="277.6" y="188.3" font-size="8.6" textLength="165.5" lengthAdjust="spacingAndGlyphs">PA=5.84, Inc=1.37, <tspan font-style="italic">V</tspan><tspan font-size="5.6" dy="1.6">shift</tspan><tspan dy="-1.6">=-16.1, </tspan><tspan font-style="italic">χ</tspan><tspan font-size="5.6" dy="-3">2</tspan><tspan dy="3">/dof = 57.62</tspan></text>
<rect x="388.8" y="302.2" width="98.2" height="25.6" rx="2" fill="#fff" fill-opacity="0.8" stroke="#d0d0d0" stroke-width="0.8"/>
<line x1="390.8" y1="308.8" x2="405.8" y2="308.8" stroke="#ff00ff" stroke-width="1.6"/>
<text x="410" y="311.6" font-size="7.53" textLength="71.55" lengthAdjust="spacingAndGlyphs">Tanh model (Stellar)</text>
<line x1="398.2" y1="315.3" x2="398.2" y2="322.4" stroke="#333" stroke-width="0.8"/>
<line x1="395.8" y1="315.3" x2="400.6" y2="315.3" stroke="#333" stroke-width="0.8"/>
<line x1="395.8" y1="322.4" x2="400.6" y2="322.4" stroke="#333" stroke-width="0.8"/>
<circle cx="398.2" cy="318.9" r="1.7" fill="#fff" stroke="#000" stroke-width="0.65"/>
<text x="410" y="321.3" font-size="7.53" textLength="49.43" lengthAdjust="spacingAndGlyphs">MaNGa (data)</text>
<clipPath id="cqa"><rect x="531.5" y="171.5" width="213.8" height="157.8"/></clipPath>
<g clip-path="url(#cqa)">
<line x1="618.68" y1="171.5" x2="618.68" y2="329.3" stroke="#777" stroke-width="1" stroke-dasharray="3.5 2"/>
<path d="M537.44 276.7 L538.03 265.89 L538.63 255.4 L539.22 245.54 L539.81 236.51 L540.41 228.47 L541 221.46 L541.6 215.48 L542.19 210.47 L542.78 206.32 L543.38 202.93 L543.97 200.19 L544.57 197.98 L545.16 196.23 L545.75 194.83 L546.35 193.73 L546.94 192.86 L547.53 192.18 L548.13 191.65 L548.72 191.23 L549.32 190.9 L549.91 190.64 L550.5 190.44 L551.1 190.29 L551.69 190.16 L552.29 190.07 L552.88 190 L553.47 189.94 L554.07 189.89 L554.66 189.86 L555.26 189.83 L555.85 189.81 L556.44 189.79 L557.04 189.78 L557.63 189.77 L558.23 189.76 L558.82 189.76 L559.41 189.75 L560.01 189.75 L560.6 189.74 L561.19 189.74 L561.79 189.74 L562.38 189.74 L562.98 189.74 L563.57 189.74 L564.16 189.74 L564.76 189.74 L565.35 189.74 L565.95 189.74 L566.54 189.74 L567.13 189.74 L567.73 189.74 L568.32 189.74 L568.91 189.73 L569.51 189.73 L570.1 189.73 L570.7 189.73 L571.29 189.73 L571.88 189.73 L572.48 189.73 L573.07 189.73 L573.67 189.73 L574.26 189.73 L574.85 189.73 L575.45 189.73 L576.04 189.73 L576.64 189.73 L577.23 189.73 L577.82 189.73 L578.42 189.73 L579.01 189.73 L579.61 189.73 L580.2 189.73 L580.79 189.73 L581.39 189.73 L581.98 189.73 L582.57 189.73 L583.17 189.73 L583.76 189.73 L584.36 189.73 L584.95 189.73 L585.54 189.73 L586.14 189.73 L586.73 189.73 L587.33 189.73 L587.92 189.73 L588.51 189.73 L589.11 189.73 L589.7 189.73 L590.29 189.73 L590.89 189.73 L591.48 189.73 L592.08 189.73 L592.67 189.73 L593.26 189.73 L593.86 189.73 L594.45 189.73 L595.05 189.73 L595.64 189.73 L596.23 189.73 L596.83 189.73 L597.42 189.73 L598.02 189.73 L598.61 189.73 L599.2 189.73 L599.8 189.73 L600.39 189.73 L600.99 189.73 L601.58 189.73 L602.17 189.73 L602.77 189.73 L603.36 189.73 L603.95 189.73 L604.55 189.73 L605.14 189.73 L605.74 189.73 L606.33 189.73 L606.92 189.73 L607.52 189.73 L608.11 189.73 L608.71 189.73 L609.3 189.73 L609.89 189.73 L610.49 189.73 L611.08 189.73 L611.67 189.73 L612.27 189.73 L612.86 189.73 L613.46 189.73 L614.05 189.73 L614.64 189.73 L615.24 189.73 L615.83 189.73 L616.43 189.73 L617.02 189.73 L617.61 189.73 L618.21 189.73 L618.8 189.73 L619.4 189.73 L619.99 189.73 L620.58 189.73 L621.18 189.73 L621.77 189.73 L622.37 189.73 L622.96 189.73 L623.55 189.73 L624.15 189.73 L624.74 189.73 L625.33 189.73 L625.93 189.73 L626.52 189.73 L627.12 189.73 L627.71 189.73 L628.3 189.73 L628.9 189.73 L629.49 189.73 L630.09 189.73 L630.68 189.73 L631.27 189.73 L631.87 189.73 L632.46 189.73 L633.05 189.73 L633.65 189.73 L634.24 189.73 L634.84 189.73 L635.43 189.73 L636.02 189.73 L636.62 189.73 L637.21 189.73 L637.81 189.73 L638.4 189.73 L638.99 189.73 L639.59 189.73 L640.18 189.73 L640.78 189.73 L641.37 189.73 L641.96 189.73 L642.56 189.73 L643.15 189.73 L643.75 189.73 L644.34 189.73 L644.93 189.73 L645.53 189.73 L646.12 189.73 L646.71 189.73 L647.31 189.73 L647.9 189.73 L648.5 189.73 L649.09 189.73 L649.68 189.73 L650.28 189.73 L650.87 189.73 L651.47 189.73 L652.06 189.73 L652.65 189.73 L653.25 189.73 L653.84 189.73 L654.43 189.73 L655.03 189.73 L655.62 189.73 L656.22 189.73 L656.81 189.73 L657.4 189.73 L658 189.73 L658.59 189.73 L659.19 189.73 L659.78 189.73 L660.37 189.73 L660.97 189.73 L661.56 189.73 L662.16 189.73 L662.75 189.73 L663.34 189.73 L663.94 189.73 L664.53 189.73 L665.12 189.73 L665.72 189.73 L666.31 189.73 L666.91 189.73 L667.5 189.73 L668.09 189.73 L668.69 189.73 L669.28 189.73 L669.88 189.73 L670.47 189.73 L671.06 189.73 L671.66 189.73 L672.25 189.73 L672.85 189.73 L673.44 189.73 L674.03 189.73 L674.63 189.73 L675.22 189.73 L675.81 189.73 L676.41 189.73 L677 189.73 L677.6 189.73 L678.19 189.73 L678.78 189.73 L679.38 189.73 L679.97 189.73 L680.57 189.73 L681.16 189.73 L681.75 189.73 L682.35 189.73 L682.94 189.73 L683.54 189.73 L684.13 189.73 L684.72 189.73 L685.32 189.73 L685.91 189.73 L686.5 189.73 L687.1 189.73 L687.69 189.73 L688.29 189.73 L688.88 189.73 L689.47 189.73 L690.07 189.73 L690.66 189.73 L691.26 189.73 L691.85 189.73 L692.44 189.73 L693.04 189.73 L693.63 189.73 L694.23 189.73 L694.82 189.73 L695.41 189.73 L696.01 189.73 L696.6 189.73" fill="none" stroke="#ff00ff" stroke-width="1.3" stroke-linejoin="round"/>
<path d="M540.8 230.5V235.5M539.7 252.8V257.8M537.8 265.3V270.3M542.1 205.3V210.3M542 224.9V229.9M538 261.3V266.3M542.3 216.2V221.2M541.5 215V220M539.1 245.4V250.4M542.9 227.8V232.8M542.9 222.8V227.8M541.4 235.5V240.5M538.4 255.8V260.8M543.2 217.9V222.9M540 233.1V238.1M539.3 243.3V248.3M540.8 242.3V247.3M540.3 248.1V253.1M542 206.4V211.4M540.6 235.8V240.8M537.9 263.2V268.2M542.2 204.9V209.9M540.9 222.4V227.4M543.3 223.5V228.5M538.8 247.9V252.9M538.6 257.3V262.3M537.6 263.9V268.9M542.8 228.4V233.4M540.6 233.2V238.2M541 219.9V224.9M540.9 223.4V228.4M543.9 221.7V226.7M538.4 260V265M541 221.8V226.8M541.2 243.2V248.2M542.6 200V205M544.5 216.1V221.1M539.9 245.4V250.4M538 261.1V266.1M542.7 217.9V222.9M541.6 212.2V217.2M541.5 237.9V242.9M541.7 223.1V228.1M542.4 234.3V239.3M540.7 223.7V228.7M542.3 210.8V215.8M540.3 232.3V237.3M540.5 231.7V236.7M538.8 256.9V261.9M539.2 255.7V260.7M538.4 263V268M542.9 210.3V215.3M541.7 215.9V220.9M542.4 214.3V219.3M540.8 245.9V250.9M540.4 234.4V239.4M542.6 207.4V212.4M541.3 218.3V223.3M542.3 208.4V213.4M539 260.4V265.4M540.2 250.1V255.1M543.7 200.6V205.6M537.5 264.6V269.6M539.3 247.5V252.5M543.9 221.5V226.5M539.7 237.4V242.4M540.7 224.5V229.5M538.6 257.1V262.1M541.3 216.6V221.6M541.7 231.2V236.2M542.4 212.8V217.8M542.2 205.9V210.9M543.7 215.5V220.5M543.1 206.3V211.3M538.2 256V261M540.7 226.5V231.5M541 220.5V225.5M541.9 211.9V216.9M537.6 264.4V269.4M541.2 230.9V235.9M539.9 235.2V240.2M542.8 229.3V234.3M543.2 226.1V231.1M538.7 262.6V267.6M543.3 205.8V210.8M541.6 226.8V231.8M542.2 204.7V209.7M542.3 219.7V224.7M540.7 241V246M541.4 215.2V220.2M542.3 216.4V221.4M541.7 228.8V233.8M538.4 260.1V265.1M541.7 236.2V241.2M540.4 245.8V250.8M543.1 214.7V219.7M542 206.6V211.6M542.3 222.4V227.4M542 217.7V222.7M538.1 258.6V263.6M541.1 221.7V226.7M538.2 259V264M541.3 230.1V235.1M538.4 262.9V267.9M541.1 238.8V243.8M538.3 265V270M543.8 222.8V227.8M544.5 200.6V205.6M538.5 255.4V260.4M540.3 245.8V250.8M538.9 248.7V253.7M538.3 255V260M545.1 203.2V208.2M541.3 236.3V241.3M541.2 230.2V235.2M540.9 236.4V241.4M539.2 245.5V250.5M540.6 227.1V232.1M542.5 232V237M537.6 263.3V268.3M541.7 210.8V215.8M540.7 244.4V249.4M541.1 221.9V226.9M538.1 259.6V264.6M540.9 241V246M544.3 201.2V206.2M544.8 205.1V210.1M544.8 206.5V211.5M542.4 201.6V206.6M539.7 239.9V244.9M537.4 289.3V294.3" fill="none" stroke="#000" stroke-width="0.8"/>
<defs><marker id="mpur" markerUnits="userSpaceOnUse" markerWidth="1" markerHeight="1" refX="0" refY="0" orient="0" overflow="visible"><circle r="1.7" fill="#e000e0" stroke="#000" stroke-width="0.55"/></marker></defs>
<path d="M540.8 233L539.7 255.3L537.8 267.8L542.1 207.8L542 227.4L538 263.8L542.3 218.7L541.5 217.5L539.1 247.9L542.9 230.3L542.9 225.3L541.4 238L538.4 258.3L543.2 220.4L540 235.6L539.3 245.8L540.8 244.8L540.3 250.6L542 208.9L540.6 238.3L537.9 265.7L542.2 207.4L540.9 224.9L543.3 226L538.8 250.4L538.6 259.8L537.6 266.4L542.8 230.9L540.6 235.7L541 222.4L540.9 225.9L543.9 224.2L538.4 262.5L541 224.3L541.2 245.7L542.6 202.5L544.5 218.6L539.9 247.9L538 263.6L542.7 220.4L541.6 214.7L541.5 240.4L541.7 225.6L542.4 236.8L540.7 226.2L542.3 213.3L540.3 234.8L540.5 234.2L538.8 259.4L539.2 258.2L538.4 265.5L542.9 212.8L541.7 218.4L542.4 216.8L540.8 248.4L540.4 236.9L542.6 209.9L541.3 220.8L542.3 210.9L539 262.9L540.2 252.6L543.7 203.1L537.5 267.1L539.3 250L543.9 224L539.7 239.9L540.7 227L538.6 259.6L541.3 219.1L541.7 233.7L542.4 215.3L542.2 208.4L543.7 218L543.1 208.8L538.2 258.5L540.7 229L541 223L541.9 214.4L537.6 266.9L541.2 233.4L539.9 237.7L542.8 231.8L543.2 228.6L538.7 265.1L543.3 208.3L541.6 229.3L542.2 207.2L542.3 222.2L540.7 243.5L541.4 217.7L542.3 218.9L541.7 231.3L538.4 262.6L541.7 238.7L540.4 248.3L543.1 217.2L542 209.1L542.3 224.9L542 220.2L538.1 261.1L541.1 224.2L538.2 261.5L541.3 232.6L538.4 265.4L541.1 241.3L538.3 267.5L543.8 225.3L544.5 203.1L538.5 257.9L540.3 248.3L538.9 251.2L538.3 257.5L545.1 205.7L541.3 238.8L541.2 232.7L540.9 238.9L539.2 248L540.6 229.6L542.5 234.5L537.6 265.8L541.7 213.3L540.7 246.9L541.1 224.4L538.1 262.1L540.9 243.5L544.3 203.7L544.8 207.6L544.8 209L542.4 204.1L539.7 242.4L537.4 291.8" fill="none" stroke="none" marker-start="url(#mpur)" marker-mid="url(#mpur)" marker-end="url(#mpur)"/>
<line x1="697.79" y1="308.26" x2="697.79" y2="318.78" stroke="#000" stroke-width="1.2"/>
<line x1="695.19" y1="308.26" x2="700.39" y2="308.26" stroke="#000" stroke-width="1.2"/>
<line x1="695.19" y1="318.78" x2="700.39" y2="318.78" stroke="#000" stroke-width="1.2"/>
<rect x="695.39" y="311.12" width="4.8" height="4.8" fill="#1f77b4" stroke="none" stroke-width="1"/>
<line x1="701.35" y1="243.39" x2="701.35" y2="253.91" stroke="#000" stroke-width="1.2"/>
<line x1="698.75" y1="243.39" x2="703.95" y2="243.39" stroke="#000" stroke-width="1.2"/>
<line x1="698.75" y1="253.91" x2="703.95" y2="253.91" stroke="#000" stroke-width="1.2"/>
<rect x="698.95" y="246.25" width="4.8" height="4.8" fill="#2ca02c" stroke="none" stroke-width="1"/>
<line x1="704.92" y1="218.84" x2="704.92" y2="229.36" stroke="#000" stroke-width="1.2"/>
<line x1="702.32" y1="218.84" x2="707.52" y2="218.84" stroke="#000" stroke-width="1.2"/>
<line x1="702.32" y1="229.36" x2="707.52" y2="229.36" stroke="#000" stroke-width="1.2"/>
<rect x="702.52" y="221.7" width="4.8" height="4.8" fill="#9467bd" stroke="none" stroke-width="1"/>
<line x1="708.48" y1="181.32" x2="708.48" y2="191.84" stroke="#000" stroke-width="1.2"/>
<line x1="705.88" y1="181.32" x2="711.08" y2="181.32" stroke="#000" stroke-width="1.2"/>
<line x1="705.88" y1="191.84" x2="711.08" y2="191.84" stroke="#000" stroke-width="1.2"/>
<rect x="706.08" y="184.18" width="4.8" height="4.8" fill="#ff7f0e" stroke="none" stroke-width="1"/>
</g>
<rect x="531.5" y="171.5" width="213.8" height="157.8" fill="none" stroke="#222" stroke-width="0.85"/>
<path d="M537.44 329.3v-4M537.44 171.5v4M567.13 329.3v-4M567.13 171.5v4M596.83 329.3v-4M596.83 171.5v4M626.52 329.3v-4M626.52 171.5v4M656.22 329.3v-4M656.22 171.5v4M685.91 329.3v-4M685.91 171.5v4M715.61 329.3v-4M715.61 171.5v4M745.3 329.3v-4M745.3 171.5v4M531.5 329.3v-2.6M531.5 171.5v2.6M537.44 329.3v-2.6M537.44 171.5v2.6M543.38 329.3v-2.6M543.38 171.5v2.6M549.32 329.3v-2.6M549.32 171.5v2.6M555.26 329.3v-2.6M555.26 171.5v2.6M561.19 329.3v-2.6M561.19 171.5v2.6M567.13 329.3v-2.6M567.13 171.5v2.6M573.07 329.3v-2.6M573.07 171.5v2.6M579.01 329.3v-2.6M579.01 171.5v2.6M584.95 329.3v-2.6M584.95 171.5v2.6M590.89 329.3v-2.6M590.89 171.5v2.6M596.83 329.3v-2.6M596.83 171.5v2.6M602.77 329.3v-2.6M602.77 171.5v2.6M608.71 329.3v-2.6M608.71 171.5v2.6M614.64 329.3v-2.6M614.64 171.5v2.6M620.58 329.3v-2.6M620.58 171.5v2.6M626.52 329.3v-2.6M626.52 171.5v2.6M632.46 329.3v-2.6M632.46 171.5v2.6M638.4 329.3v-2.6M638.4 171.5v2.6M644.34 329.3v-2.6M644.34 171.5v2.6M650.28 329.3v-2.6M650.28 171.5v2.6M656.22 329.3v-2.6M656.22 171.5v2.6M662.16 329.3v-2.6M662.16 171.5v2.6M668.09 329.3v-2.6M668.09 171.5v2.6M674.03 329.3v-2.6M674.03 171.5v2.6M679.97 329.3v-2.6M679.97 171.5v2.6M685.91 329.3v-2.6M685.91 171.5v2.6M691.85 329.3v-2.6M691.85 171.5v2.6M697.79 329.3v-2.6M697.79 171.5v2.6M703.73 329.3v-2.6M703.73 171.5v2.6M709.67 329.3v-2.6M709.67 171.5v2.6M715.61 329.3v-2.6M715.61 171.5v2.6M721.54 329.3v-2.6M721.54 171.5v2.6M727.48 329.3v-2.6M727.48 171.5v2.6M733.42 329.3v-2.6M733.42 171.5v2.6M739.36 329.3v-2.6M739.36 171.5v2.6M745.3 329.3v-2.6M745.3 171.5v2.6M531.5 311.77h4M745.3 311.77h-4M531.5 276.7h4M745.3 276.7h-4M531.5 241.63h4M745.3 241.63h-4M531.5 206.57h4M745.3 206.57h-4M531.5 171.5h4M745.3 171.5h-4M531.5 329.3h2.6M745.3 329.3h-2.6M531.5 320.53h2.6M745.3 320.53h-2.6M531.5 311.77h2.6M745.3 311.77h-2.6M531.5 303h2.6M745.3 303h-2.6M531.5 294.23h2.6M745.3 294.23h-2.6M531.5 285.47h2.6M745.3 285.47h-2.6M531.5 276.7h2.6M745.3 276.7h-2.6M531.5 267.93h2.6M745.3 267.93h-2.6M531.5 259.17h2.6M745.3 259.17h-2.6M531.5 250.4h2.6M745.3 250.4h-2.6M531.5 241.63h2.6M745.3 241.63h-2.6M531.5 232.87h2.6M745.3 232.87h-2.6M531.5 224.1h2.6M745.3 224.1h-2.6M531.5 215.33h2.6M745.3 215.33h-2.6M531.5 206.57h2.6M745.3 206.57h-2.6M531.5 197.8h2.6M745.3 197.8h-2.6M531.5 189.03h2.6M745.3 189.03h-2.6M531.5 180.27h2.6M745.3 180.27h-2.6M531.5 171.5h2.6M745.3 171.5h-2.6" stroke="#000" stroke-width="0.9" fill="none"/>
<text x="537.44" y="337.8" font-size="8.59" textLength="5.15" lengthAdjust="spacingAndGlyphs" text-anchor="middle">0</text>
<text x="567.13" y="337.8" font-size="8.59" textLength="10.31" lengthAdjust="spacingAndGlyphs" text-anchor="middle">50</text>
<text x="596.83" y="337.8" font-size="8.59" textLength="15.46" lengthAdjust="spacingAndGlyphs" text-anchor="middle">100</text>
<text x="626.52" y="337.8" font-size="8.59" textLength="15.46" lengthAdjust="spacingAndGlyphs" text-anchor="middle">150</text>
<text x="656.22" y="337.8" font-size="8.59" textLength="15.46" lengthAdjust="spacingAndGlyphs" text-anchor="middle">200</text>
<text x="685.91" y="337.8" font-size="8.59" textLength="15.46" lengthAdjust="spacingAndGlyphs" text-anchor="middle">250</text>
<text x="715.61" y="337.8" font-size="8.59" textLength="15.46" lengthAdjust="spacingAndGlyphs" text-anchor="middle">300</text>
<text x="745.3" y="337.8" font-size="8.59" textLength="15.46" lengthAdjust="spacingAndGlyphs" text-anchor="middle">350</text>
<text x="529" y="315.27" font-size="8.59" textLength="22.25" lengthAdjust="spacingAndGlyphs" text-anchor="end">−100</text>
<text x="529" y="280.2" font-size="8.59" textLength="5.15" lengthAdjust="spacingAndGlyphs" text-anchor="end">0</text>
<text x="529" y="245.13" font-size="8.59" textLength="15.46" lengthAdjust="spacingAndGlyphs" text-anchor="end">100</text>
<text x="529" y="210.07" font-size="8.59" textLength="15.46" lengthAdjust="spacingAndGlyphs" text-anchor="end">200</text>
<text x="529" y="175" font-size="8.59" textLength="15.46" lengthAdjust="spacingAndGlyphs" text-anchor="end">300</text>
<text x="638.3" y="168.6" font-size="8.59" textLength="133.43" lengthAdjust="spacingAndGlyphs" text-anchor="middle">Radial velocity along the QA axis</text>
<text x="638.3" y="347.8" font-size="8.59" textLength="124.52" lengthAdjust="spacingAndGlyphs" text-anchor="middle">Radius along the QA axis (kpc)</text>
<text x="505.6" y="250.5" font-size="8.59" transform="rotate(-90 505.6 250.5)" textLength="87.68" lengthAdjust="spacingAndGlyphs" text-anchor="middle">Radial velocity (km/s)</text>
<rect x="534.4" y="291.4" width="85.3" height="34.4" rx="2" fill="#fff" fill-opacity="0.8" stroke="#d0d0d0" stroke-width="0.8"/>
<circle cx="545.6" cy="297.8" r="1.7" fill="#e000e0" stroke="#000" stroke-width="0.55"/>
<text x="557.1" y="300.8" font-size="7.53" textLength="62.13" lengthAdjust="spacingAndGlyphs">MaNGa (data) QA</text>
<line x1="538.5" y1="308.3" x2="552.5" y2="308.3" stroke="#ff00ff" stroke-width="1.2"/>
<text x="557.1" y="311.1" font-size="7.53" textLength="40.88" lengthAdjust="spacingAndGlyphs">Tanh model</text>
<rect x="543.3" y="316.3" width="4.6" height="4.6" fill="#ff7f0e" stroke="none" stroke-width="1"/>
<text x="557.1" y="321.5" font-size="7.53" textLength="55.87" lengthAdjust="spacingAndGlyphs">QSO absorption</text>
<path d="M51.1 377.6 L78.2 372.9 L78.2 468.2 L51.1 487.4Z" fill="#f5f5f5" stroke-linejoin="round"/>
<path d="M78.2 372.9 L206.3 374.2 L206.3 469.7 L78.2 468.2Z" fill="#f1f1f1" stroke-linejoin="round"/>
<path d="M51.1 487.4 L78.2 468.2 L206.3 469.7 L197.9 490.2Z" fill="#f4f4f4" stroke-linejoin="round"/>
<path d="M78.2 372.9L78.2 468.2L51.1 487.4M88.88 373.01L88.88 468.32L63.33 487.63M99.55 373.12L99.55 468.45L75.57 487.87M110.23 373.22L110.23 468.57L87.8 488.1M120.9 373.33L120.9 468.7L100.03 488.33M131.58 373.44L131.58 468.82L112.27 488.57M142.25 373.55L142.25 468.95L124.5 488.8M152.93 373.66L152.93 469.07L136.73 489.03M163.6 373.77L163.6 469.2L148.97 489.27M174.28 373.88L174.28 469.32L161.2 489.5M184.95 373.98L184.95 469.45L173.43 489.73M195.62 374.09L195.62 469.57L185.67 489.97M206.3 374.2L206.3 469.7L197.9 490.2M51.1 377.6L78.2 372.9L206.3 374.2M51.1 391.33L78.2 384.81L206.3 386.14M51.1 405.05L78.2 396.72L206.3 398.07M51.1 418.77L78.2 408.64L206.3 410.01M51.1 432.5L78.2 420.55L206.3 421.95M51.1 446.23L78.2 432.46L206.3 433.89M51.1 459.95L78.2 444.38L206.3 445.82M51.1 473.67L78.2 456.29L206.3 457.76M51.1 487.4L78.2 468.2L206.3 469.7M51.1 377.6L51.1 487.4L197.9 490.2M54.49 377.01L54.49 485L198.95 487.64M57.88 376.43L57.88 482.6L200 485.07M61.26 375.84L61.26 480.2L201.05 482.51M64.65 375.25L64.65 477.8L202.1 479.95M68.04 374.66L68.04 475.4L203.15 477.39M71.43 374.07L71.43 473L204.2 474.82M74.81 373.49L74.81 470.6L205.25 472.26M78.2 372.9L78.2 468.2L206.3 469.7" stroke="#d2d2d2" stroke-width="0.6" fill="none"/>
<line x1="51.1" y1="487.4" x2="197.9" y2="490.2" stroke="#222" stroke-width="0.9"/>
<line x1="206.3" y1="374.2" x2="206.3" y2="469.7" stroke="#222" stroke-width="0.9"/>
<line x1="206.3" y1="469.7" x2="197.9" y2="490.2" stroke="#222" stroke-width="0.9"/>
<line x1="203.8" y1="373.2" x2="208.6" y2="373.2" stroke="#222" stroke-width="0.8"/>
<line x1="204.8" y1="385.15" x2="208.6" y2="385.15" stroke="#222" stroke-width="0.8"/>
<line x1="203.8" y1="397.1" x2="208.6" y2="397.1" stroke="#222" stroke-width="0.8"/>
<line x1="204.8" y1="409.05" x2="208.6" y2="409.05" stroke="#222" stroke-width="0.8"/>
<line x1="203.8" y1="421" x2="208.6" y2="421" stroke="#222" stroke-width="0.8"/>
<line x1="204.8" y1="432.95" x2="208.6" y2="432.95" stroke="#222" stroke-width="0.8"/>
<line x1="203.8" y1="444.9" x2="208.6" y2="444.9" stroke="#222" stroke-width="0.8"/>
<line x1="204.8" y1="456.85" x2="208.6" y2="456.85" stroke="#222" stroke-width="0.8"/>
<line x1="203.8" y1="468.8" x2="208.6" y2="468.8" stroke="#222" stroke-width="0.8"/>
<text x="209.2" y="380.5" font-size="8.59" textLength="10.31" lengthAdjust="spacingAndGlyphs">10</text>
<text x="209.2" y="404.2" font-size="8.59" textLength="5.15" lengthAdjust="spacingAndGlyphs">5</text>
<text x="209.2" y="427.9" font-size="8.59" textLength="5.15" lengthAdjust="spacingAndGlyphs">0</text>
<text x="209.2" y="452.1" font-size="8.59" textLength="11.94" lengthAdjust="spacingAndGlyphs">−5</text>
<text x="209.2" y="475.3" font-size="8.59" textLength="17.09" lengthAdjust="spacingAndGlyphs">−10</text>
<text x="52.6" y="501.5" font-size="8.59" textLength="11.94" lengthAdjust="spacingAndGlyphs" text-anchor="middle">−5</text>
<text x="75.7" y="502" font-size="8.59" textLength="5.15" lengthAdjust="spacingAndGlyphs" text-anchor="middle">0</text>
<text x="98.7" y="502.5" font-size="8.59" textLength="5.15" lengthAdjust="spacingAndGlyphs" text-anchor="middle">5</text>
<text x="121.7" y="503" font-size="8.59" textLength="10.31" lengthAdjust="spacingAndGlyphs" text-anchor="middle">10</text>
<text x="146.4" y="503.5" font-size="8.59" textLength="10.31" lengthAdjust="spacingAndGlyphs" text-anchor="middle">15</text>
<text x="169.4" y="504" font-size="8.59" textLength="10.31" lengthAdjust="spacingAndGlyphs" text-anchor="middle">20</text>
<text x="194" y="504.5" font-size="8.59" textLength="10.31" lengthAdjust="spacingAndGlyphs" text-anchor="middle">25</text>
<text x="120.5" y="510.2" font-size="8.6" text-anchor="middle" font-style="italic" textLength="24" lengthAdjust="spacingAndGlyphs">X (R<tspan font-size="6.1" dy="1.8">e</tspan><tspan dy="-1.8">)</tspan></text>
<text x="226.5" y="423" font-size="8.6" text-anchor="middle" font-style="italic" transform="rotate(-90 226.5 423)">Z (R<tspan font-size="6.1" dy="1.8">e</tspan><tspan dy="-1.8">)</tspan></text>
<text x="208.5" y="484.2" font-size="8.59" textLength="10.31" lengthAdjust="spacingAndGlyphs">20</text>
<text x="206" y="489.5" font-size="8.59" textLength="10.31" lengthAdjust="spacingAndGlyphs">10</text>
<text x="204.7" y="494" font-size="8.59" textLength="5.15" lengthAdjust="spacingAndGlyphs">0</text>
<text x="199.5" y="498.5" font-size="8.59" textLength="17.09" lengthAdjust="spacingAndGlyphs">−10</text>
<text x="197" y="503.7" font-size="8.59" textLength="17.09" lengthAdjust="spacingAndGlyphs">−20</text>
<text x="216.5" y="506" font-size="8.6" font-style="italic" transform="rotate(-68 216.5 506)">Y (R<tspan font-size="6.1" dy="1.8">e</tspan><tspan dy="-1.8">)</tspan></text>
<defs><linearGradient id="g3d" x1="0" y1="0" x2="1" y2="0"><stop offset="0" stop-color="#2a5cc8"/><stop offset="0.3" stop-color="#7aa0e8"/><stop offset="0.5" stop-color="#f4f0f0"/><stop offset="0.7" stop-color="#e89080"/><stop offset="1" stop-color="#b01818"/></linearGradient></defs>
<ellipse cx="88.6" cy="426.6" rx="11.8" ry="1.7" fill="url(#g3d)"/>
<line x1="88.2" y1="420.8" x2="88.2" y2="426" stroke="#e00000" stroke-width="1.2"/>
<path d="M94 427.4 L179.5 436 L187.4 454.5Z" fill="#f6c0f6" stroke="#ff00ff" stroke-width="0.9" stroke-linejoin="round" fill-opacity="0.85"/>
<line x1="94" y1="427.4" x2="184.2" y2="445.3" stroke="#ff00ff" stroke-width="0.9" stroke-dasharray="3 2"/>
<line x1="190.8" y1="463.7" x2="172" y2="411.5" stroke="#000" stroke-width="1"/>
<line x1="172" y1="411.5" x2="167.6" y2="399.5" stroke="#000" stroke-width="1" stroke-dasharray="2 1.5"/>
<path d="M164.2 391.8L171.4 398.6L163.4 401.0Z" fill="#000"/>
<path d="M190.8 463.7l1.1 2.3 2.5-.3-1.5 2 1.5 2-2.5-.3-1.1 2.3-1.1-2.3-2.5.3 1.5-2-1.5-2 2.5.3Z" fill="#000" transform="translate(0 -3.3)"/>
<clipPath id="cyz"><rect x="274.4" y="399.4" width="213.9" height="80.1"/></clipPath>
<g clip-path="url(#cyz)">
<path d="M306.48 431.17 L381.35 426.1 L440.17 458.83Z" fill="#ffc8ff" stroke-linejoin="round"/>
<path d="M306.48 431.17 L381.35 426.1 L440.17 458.83" fill="none" stroke="#ff00ff" stroke-width="1.2" stroke-linejoin="round"/>
<line x1="381.35" y1="426.1" x2="373.33" y2="444.79" stroke="#ff00ff" stroke-width="1.1" stroke-dasharray="3 2"/>
<line x1="274.4" y1="424.5" x2="488.3" y2="468.82" stroke="#000" stroke-width="1.4"/>
<defs><linearGradient id="gyz" x1="0" y1="0" x2="1" y2="0"><stop offset="0" stop-color="#8fb4f0"/><stop offset="0.2" stop-color="#d8c8c8"/><stop offset="0.45" stop-color="#5a0a0a"/><stop offset="0.7" stop-color="#c83a20"/><stop offset="0.88" stop-color="#f0a080"/><stop offset="1" stop-color="#9fc0f0"/></linearGradient></defs>
<ellipse cx="382.95" cy="425.8" rx="7.2" ry="1.5" fill="url(#gyz)"/>
<line x1="381.35" y1="426.1" x2="381.35" y2="420.23" stroke="#e00000" stroke-width="1.2"/>
</g>
<rect x="274.4" y="399.4" width="213.9" height="80.1" fill="none" stroke="#222" stroke-width="0.85"/>
<path d="M274.4 479.5v-4M274.4 399.4v4M327.88 479.5v-4M327.88 399.4v4M381.35 479.5v-4M381.35 399.4v4M434.82 479.5v-4M434.82 399.4v4M488.3 479.5v-4M488.3 399.4v4M274.4 479.5v-2.6M274.4 399.4v2.6M285.09 479.5v-2.6M285.09 399.4v2.6M295.79 479.5v-2.6M295.79 399.4v2.6M306.48 479.5v-2.6M306.48 399.4v2.6M317.18 479.5v-2.6M317.18 399.4v2.6M327.88 479.5v-2.6M327.88 399.4v2.6M338.57 479.5v-2.6M338.57 399.4v2.6M349.26 479.5v-2.6M349.26 399.4v2.6M359.96 479.5v-2.6M359.96 399.4v2.6M370.65 479.5v-2.6M370.65 399.4v2.6M381.35 479.5v-2.6M381.35 399.4v2.6M392.05 479.5v-2.6M392.05 399.4v2.6M402.74 479.5v-2.6M402.74 399.4v2.6M413.44 479.5v-2.6M413.44 399.4v2.6M424.13 479.5v-2.6M424.13 399.4v2.6M434.82 479.5v-2.6M434.82 399.4v2.6M445.52 479.5v-2.6M445.52 399.4v2.6M456.22 479.5v-2.6M456.22 399.4v2.6M466.91 479.5v-2.6M466.91 399.4v2.6M477.61 479.5v-2.6M477.61 399.4v2.6M488.3 479.5v-2.6M488.3 399.4v2.6M274.4 479.5h4M488.3 479.5h-4M274.4 452.8h4M488.3 452.8h-4M274.4 426.1h4M488.3 426.1h-4M274.4 399.4h4M488.3 399.4h-4M274.4 479.5h2.6M488.3 479.5h-2.6M274.4 474.16h2.6M488.3 474.16h-2.6M274.4 468.82h2.6M488.3 468.82h-2.6M274.4 463.48h2.6M488.3 463.48h-2.6M274.4 458.14h2.6M488.3 458.14h-2.6M274.4 452.8h2.6M488.3 452.8h-2.6M274.4 447.46h2.6M488.3 447.46h-2.6M274.4 442.12h2.6M488.3 442.12h-2.6M274.4 436.78h2.6M488.3 436.78h-2.6M274.4 431.44h2.6M488.3 431.44h-2.6M274.4 426.1h2.6M488.3 426.1h-2.6M274.4 420.76h2.6M488.3 420.76h-2.6M274.4 415.42h2.6M488.3 415.42h-2.6M274.4 410.08h2.6M488.3 410.08h-2.6M274.4 404.74h2.6M488.3 404.74h-2.6M274.4 399.4h2.6M488.3 399.4h-2.6" stroke="#000" stroke-width="0.9" fill="none"/>
<text x="274.4" y="488" font-size="8.59" textLength="17.09" lengthAdjust="spacingAndGlyphs" text-anchor="middle">−20</text>
<text x="327.88" y="488" font-size="8.59" textLength="17.09" lengthAdjust="spacingAndGlyphs" text-anchor="middle">−10</text>
<text x="381.35" y="488" font-size="8.59" textLength="5.15" lengthAdjust="spacingAndGlyphs" text-anchor="middle">0</text>
<text x="434.82" y="488" font-size="8.59" textLength="10.31" lengthAdjust="spacingAndGlyphs" text-anchor="middle">10</text>
<text x="488.3" y="488" font-size="8.59" textLength="10.31" lengthAdjust="spacingAndGlyphs" text-anchor="middle">20</text>
<text x="271.9" y="483" font-size="8.59" textLength="17.09" lengthAdjust="spacingAndGlyphs" text-anchor="end">−10</text>
<text x="271.9" y="456.3" font-size="8.59" textLength="11.94" lengthAdjust="spacingAndGlyphs" text-anchor="end">−5</text>
<text x="271.9" y="429.6" font-size="8.59" textLength="5.15" lengthAdjust="spacingAndGlyphs" text-anchor="end">0</text>
<text x="271.9" y="402.9" font-size="8.59" textLength="5.15" lengthAdjust="spacingAndGlyphs" text-anchor="end">5</text>
<text x="381" y="496.8" font-size="8.6" text-anchor="middle" font-style="italic">Y (R<tspan font-size="6.1" dy="1.8">e</tspan><tspan dy="-1.8">)</tspan></text>
<text x="252.5" y="439.8" font-size="8.6" text-anchor="middle" font-style="italic" transform="rotate(-90 252.5 439.8)">Z (R<tspan font-size="6.1" dy="1.8">e</tspan><tspan dy="-1.8">)</tspan></text>
<clipPath id="cxy"><rect x="531.4" y="378.3" width="213.9" height="122.2"/></clipPath>
<g clip-path="url(#cxy)">
<path d="M592.51 439.4 L713.8 378.3 L725.2 378.3 L725.2 500.5 L687.2 500.5Z" fill="#ffccff" stroke-linejoin="round"/>
<line x1="592.51" y1="439.4" x2="760" y2="355.03" stroke="#ff00ff" stroke-width="1.2"/>
<line x1="592.51" y1="439.4" x2="760" y2="547.48" stroke="#ff00ff" stroke-width="1.2"/>
<line x1="592.51" y1="439.4" x2="725.2" y2="447.5" stroke="#ff00ff" stroke-width="1.1" stroke-dasharray="3 2"/>
<line x1="725.2" y1="378.3" x2="725.2" y2="500.5" stroke="#000" stroke-width="1.5"/>
</g>
<defs><linearGradient id="gxy" x1="0" y1="0" x2="1" y2="0"><stop offset="0" stop-color="#3050c0"/><stop offset="0.25" stop-color="#5a80d8"/><stop offset="0.5" stop-color="#f0eeee"/><stop offset="0.75" stop-color="#e08070"/><stop offset="1" stop-color="#a80c14"/></linearGradient><radialGradient id="gxy2" cx="0.5" cy="0.5" r="0.5"><stop offset="0" stop-color="#fff" stop-opacity="0.55"/><stop offset="1" stop-color="#fff" stop-opacity="0"/></radialGradient></defs>
<circle cx="592.51" cy="439.4" r="16.2" fill="url(#gxy)" stroke="none" stroke-width="1"/>
<path d="M592.51 439.4L606.61 431.3A16.2 16.2 0 0 1 606.61 447.5Z" fill="#b01820" fill-opacity="0.35"/>
<line x1="592.51" y1="439.4" x2="607.01" y2="431.1" stroke="#ff00ff" stroke-width="1.2"/>
<line x1="592.51" y1="439.4" x2="606.51" y2="447.9" stroke="#ff00ff" stroke-width="1.2"/>
<line x1="592.51" y1="439.4" x2="608.51" y2="440" stroke="#ff00ff" stroke-width="1" stroke-dasharray="3 2"/>
<rect x="531.4" y="378.3" width="213.9" height="122.2" fill="none" stroke="#222" stroke-width="0.85"/>
<path d="M531.4 500.5v-4M531.4 378.3v4M592.51 500.5v-4M592.51 378.3v4M653.63 500.5v-4M653.63 378.3v4M714.74 500.5v-4M714.74 378.3v4M531.4 500.5v-2.6M531.4 378.3v2.6M543.62 500.5v-2.6M543.62 378.3v2.6M555.85 500.5v-2.6M555.85 378.3v2.6M568.07 500.5v-2.6M568.07 378.3v2.6M580.29 500.5v-2.6M580.29 378.3v2.6M592.51 500.5v-2.6M592.51 378.3v2.6M604.74 500.5v-2.6M604.74 378.3v2.6M616.96 500.5v-2.6M616.96 378.3v2.6M629.18 500.5v-2.6M629.18 378.3v2.6M641.41 500.5v-2.6M641.41 378.3v2.6M653.63 500.5v-2.6M653.63 378.3v2.6M665.85 500.5v-2.6M665.85 378.3v2.6M678.07 500.5v-2.6M678.07 378.3v2.6M690.3 500.5v-2.6M690.3 378.3v2.6M702.52 500.5v-2.6M702.52 378.3v2.6M714.74 500.5v-2.6M714.74 378.3v2.6M726.97 500.5v-2.6M726.97 378.3v2.6M739.19 500.5v-2.6M739.19 378.3v2.6M531.4 500.5h4M745.3 500.5h-4M531.4 439.4h4M745.3 439.4h-4M531.4 378.3h4M745.3 378.3h-4M531.4 500.5h2.6M745.3 500.5h-2.6M531.4 488.28h2.6M745.3 488.28h-2.6M531.4 476.06h2.6M745.3 476.06h-2.6M531.4 463.84h2.6M745.3 463.84h-2.6M531.4 451.62h2.6M745.3 451.62h-2.6M531.4 439.4h2.6M745.3 439.4h-2.6M531.4 427.18h2.6M745.3 427.18h-2.6M531.4 414.96h2.6M745.3 414.96h-2.6M531.4 402.74h2.6M745.3 402.74h-2.6M531.4 390.52h2.6M745.3 390.52h-2.6M531.4 378.3h2.6M745.3 378.3h-2.6" stroke="#000" stroke-width="0.9" fill="none"/>
<text x="531.4" y="509" font-size="8.59" textLength="17.09" lengthAdjust="spacingAndGlyphs" text-anchor="middle">−10</text>
<text x="592.51" y="509" font-size="8.59" textLength="5.15" lengthAdjust="spacingAndGlyphs" text-anchor="middle">0</text>
<text x="653.63" y="509" font-size="8.59" textLength="10.31" lengthAdjust="spacingAndGlyphs" text-anchor="middle">10</text>
<text x="714.74" y="509" font-size="8.59" textLength="10.31" lengthAdjust="spacingAndGlyphs" text-anchor="middle">20</text>
<text x="528.9" y="504" font-size="8.59" textLength="17.09" lengthAdjust="spacingAndGlyphs" text-anchor="end">−10</text>
<text x="528.9" y="442.9" font-size="8.59" textLength="5.15" lengthAdjust="spacingAndGlyphs" text-anchor="end">0</text>
<text x="528.9" y="381.8" font-size="8.59" textLength="10.31" lengthAdjust="spacingAndGlyphs" text-anchor="end">10</text>
<text x="637.5" y="517.2" font-size="8.6" text-anchor="middle" font-style="italic">X (R<tspan font-size="6.1" dy="1.8">e</tspan><tspan dy="-1.8">)</tspan></text>
<text x="510" y="439.6" font-size="8.6" text-anchor="middle" font-style="italic" transform="rotate(-90 510 439.6)">Y (R<tspan font-size="6.1" dy="1.8">e</tspan><tspan dy="-1.8">)</tspan></text>
<clipPath id="cm1"><rect x="31.1" y="549.7" width="157.4" height="157.4"/></clipPath>
<g clip-path="url(#cm1)">
<rect x="31.1" y="549.7" width="157.4" height="157.4" fill="url(#hatch)" stroke="none" stroke-width="1"/>
<path d="M51.05 548 L104.74 548 L112.11 635.37Z" fill="url(#phatch)" stroke-linejoin="round"/>
<g shape-rendering="crispEdges"><path d="M91.5 564.8h2.41v2.41h-2.41zM72.08 586.37h2.41v2.41h-2.41zM76.4 590.68h2.41v2.41h-2.41zM72.08 592.84h4.56v2.41h-4.56zM89.34 592.84h2.41v2.41h-2.41zM78.55 595h4.56v2.41h-4.56zM119.54 607.94h2.41v2.41h-2.41zM85.03 610.1h2.41v2.41h-2.41zM134.64 614.41h4.56v2.41h-4.56zM134.64 616.57h4.56v2.41h-4.56zM134.64 618.72h2.41v2.41h-2.41zM128.16 623.04h6.72v2.41h-6.72zM128.16 625.2h6.72v2.41h-6.72zM136.79 648.92h2.41v2.41h-2.41zM145.42 653.24h2.41v2.41h-2.41zM151.89 653.24h2.41v2.41h-2.41zM151.89 655.39h4.56v2.41h-4.56zM147.58 659.71h2.41v2.41h-2.41zM151.89 659.71h4.56v2.41h-4.56zM151.89 661.86h4.56v2.41h-4.56zM151.89 664.02h4.56v2.41h-4.56zM151.89 666.18h4.56v2.41h-4.56zM151.89 668.34h4.56v2.41h-4.56z" fill="#109d35"/><path d="M93.65 564.8h2.41v2.41h-2.41zM113.07 586.37h4.56v2.41h-4.56zM89.34 588.53h2.41v2.41h-2.41zM123.85 601.47h2.41v2.41h-2.41zM123.85 603.62h2.41v2.41h-2.41zM115.22 610.1h2.41v2.41h-2.41zM132.48 610.1h2.41v2.41h-2.41zM132.48 612.25h2.41v2.41h-2.41zM130.32 614.41h4.56v2.41h-4.56zM130.32 616.57h4.56v2.41h-4.56zM136.79 618.72h2.41v2.41h-2.41zM141.11 618.72h2.41v2.41h-2.41zM134.64 620.88h2.41v2.41h-2.41zM134.64 623.04h2.41v2.41h-2.41zM138.95 625.2h2.41v2.41h-2.41zM132.48 627.35h2.41v2.41h-2.41zM143.26 627.35h2.41v2.41h-2.41zM138.95 631.67h2.41v2.41h-2.41zM147.58 648.92h4.56v2.41h-4.56zM136.79 651.08h2.41v2.41h-2.41zM147.58 651.08h4.56v2.41h-4.56zM143.26 653.24h2.41v2.41h-2.41zM145.42 655.39h2.41v2.41h-2.41zM156.21 659.71h2.41v2.41h-2.41zM156.21 661.86h2.41v2.41h-2.41zM156.21 664.02h4.56v2.41h-4.56zM156.21 666.18h2.41v2.41h-2.41zM156.21 668.34h2.41v2.41h-2.41zM149.74 670.49h2.41v2.41h-2.41zM108.75 672.65h2.41v2.41h-2.41zM104.44 681.28h2.41v2.41h-2.41zM132.48 685.59h2.41v2.41h-2.41z" fill="#38b11f"/><path d="M95.81 564.8h4.56v2.41h-4.56zM91.5 569.11h2.41v2.41h-2.41zM76.4 575.58h2.41v2.41h-2.41zM76.4 577.74h2.41v2.41h-2.41zM91.5 584.21h2.41v2.41h-2.41zM108.75 584.21h4.56v2.41h-4.56zM91.5 586.37h2.41v2.41h-2.41zM108.75 586.37h2.41v2.41h-2.41zM76.4 588.53h2.41v2.41h-2.41zM91.5 588.53h2.41v2.41h-2.41zM106.59 588.53h2.41v2.41h-2.41zM87.18 590.68h2.41v2.41h-2.41zM91.5 590.68h2.41v2.41h-2.41zM104.44 590.68h2.41v2.41h-2.41zM121.69 590.68h2.41v2.41h-2.41zM78.55 592.84h2.41v2.41h-2.41zM87.18 592.84h2.41v2.41h-2.41zM91.5 592.84h2.41v2.41h-2.41zM82.87 595h2.41v2.41h-2.41zM123.85 595h2.41v2.41h-2.41zM80.71 597.15h2.41v2.41h-2.41zM119.54 605.78h2.41v2.41h-2.41zM134.64 610.1h2.41v2.41h-2.41zM134.64 612.25h4.56v2.41h-4.56zM126.01 618.72h4.56v2.41h-4.56zM126.01 620.88h4.56v2.41h-4.56zM141.11 620.88h2.41v2.41h-2.41zM143.26 625.2h2.41v2.41h-2.41zM136.79 627.35h6.72v2.41h-6.72zM141.11 629.51h2.41v2.41h-2.41zM138.95 648.92h4.56v2.41h-4.56zM134.64 651.08h2.41v2.41h-2.41zM141.11 651.08h2.41v2.41h-2.41zM145.42 657.55h2.41v2.41h-2.41zM156.21 657.55h2.41v2.41h-2.41zM149.74 661.86h2.41v2.41h-2.41zM104.44 670.49h4.56v2.41h-4.56zM110.91 670.49h4.56v2.41h-4.56zM151.89 670.49h4.56v2.41h-4.56zM106.59 672.65h2.41v2.41h-2.41zM117.38 674.81h2.41v2.41h-2.41zM108.75 676.96h2.41v2.41h-2.41zM119.54 676.96h2.41v2.41h-2.41zM145.42 676.96h2.41v2.41h-2.41zM143.26 679.12h2.41v2.41h-2.41zM134.64 683.43h4.56v2.41h-4.56z" fill="#5fb917"/><path d="M89.34 566.96h2.41v2.41h-2.41zM106.59 676.96h2.41v2.41h-2.41z" fill="#1d5b91"/><path d="M91.5 566.96h2.41v2.41h-2.41zM126.01 599.31h2.41v2.41h-2.41zM128.16 612.25h2.41v2.41h-2.41zM149.74 657.55h2.41v2.41h-2.41zM149.74 659.71h2.41v2.41h-2.41z" fill="#117c64"/><path d="M93.65 566.96h4.56v2.41h-4.56zM93.65 573.43h2.41v2.41h-2.41zM87.18 582.06h2.41v2.41h-2.41zM78.55 588.53h2.41v2.41h-2.41zM110.91 588.53h2.41v2.41h-2.41zM117.38 588.53h2.41v2.41h-2.41zM80.71 590.68h2.41v2.41h-2.41zM106.59 595h2.41v2.41h-2.41zM119.54 595h2.41v2.41h-2.41zM80.71 601.47h2.41v2.41h-2.41zM121.69 601.47h2.41v2.41h-2.41zM80.71 603.62h2.41v2.41h-2.41zM110.91 605.78h2.41v2.41h-2.41zM87.18 610.1h4.56v2.41h-4.56zM134.64 629.51h4.56v2.41h-4.56zM132.48 631.67h2.41v2.41h-2.41zM132.48 653.24h4.56v2.41h-4.56zM138.95 655.39h2.41v2.41h-2.41zM143.26 659.71h2.41v2.41h-2.41zM145.42 664.02h4.56v2.41h-4.56zM147.58 666.18h2.41v2.41h-2.41zM147.58 668.34h2.41v2.41h-2.41zM119.54 672.65h2.41v2.41h-2.41zM145.42 672.65h2.41v2.41h-2.41zM121.69 676.96h2.41v2.41h-2.41zM128.16 676.96h2.41v2.41h-2.41zM126.01 679.12h2.41v2.41h-2.41zM130.32 679.12h2.41v2.41h-2.41zM136.79 679.12h2.41v2.41h-2.41zM138.95 681.28h2.41v2.41h-2.41z" fill="#d2c25b"/><path d="M97.97 566.96h2.41v2.41h-2.41zM100.12 569.11h2.41v2.41h-2.41zM95.81 582.06h2.41v2.41h-2.41zM89.34 584.21h2.41v2.41h-2.41zM89.34 586.37h2.41v2.41h-2.41zM104.44 588.53h2.41v2.41h-2.41zM108.75 588.53h2.41v2.41h-2.41zM106.59 590.68h2.41v2.41h-2.41zM82.87 592.84h4.56v2.41h-4.56zM106.59 592.84h2.41v2.41h-2.41zM119.54 592.84h2.41v2.41h-2.41zM91.5 595h2.41v2.41h-2.41zM82.87 597.15h2.41v2.41h-2.41zM119.54 603.62h2.41v2.41h-2.41zM80.71 607.94h2.41v2.41h-2.41zM138.95 620.88h2.41v2.41h-2.41zM132.48 629.51h2.41v2.41h-2.41zM136.79 653.24h2.41v2.41h-2.41zM141.11 655.39h2.41v2.41h-2.41zM145.42 661.86h4.56v2.41h-4.56zM110.91 674.81h2.41v2.41h-2.41zM143.26 674.81h2.41v2.41h-2.41zM126.01 676.96h2.41v2.41h-2.41zM123.85 679.12h2.41v2.41h-2.41zM128.16 681.28h2.41v2.41h-2.41zM134.64 681.28h2.41v2.41h-2.41zM138.95 683.43h2.41v2.41h-2.41z" fill="#c8c803"/><path d="M100.12 566.96h2.41v2.41h-2.41zM102.28 569.11h2.41v2.41h-2.41zM102.28 571.27h2.41v2.41h-2.41zM97.97 575.58h2.41v2.41h-2.41zM74.24 584.21h2.41v2.41h-2.41zM74.24 586.37h2.41v2.41h-2.41zM89.34 590.68h2.41v2.41h-2.41zM76.4 592.84h2.41v2.41h-2.41zM74.24 595h4.56v2.41h-4.56zM78.55 597.15h2.41v2.41h-2.41zM123.85 597.15h2.41v2.41h-2.41zM78.55 599.31h2.41v2.41h-2.41zM126.01 601.47h2.41v2.41h-2.41zM126.01 603.62h2.41v2.41h-2.41zM117.38 607.94h2.41v2.41h-2.41zM117.38 610.1h4.56v2.41h-4.56zM87.18 612.25h4.56v2.41h-4.56zM123.85 612.25h4.56v2.41h-4.56zM123.85 614.41h2.41v2.41h-2.41zM123.85 616.57h2.41v2.41h-2.41zM130.32 618.72h4.56v2.41h-4.56zM130.32 620.88h4.56v2.41h-4.56zM141.11 623.04h2.41v2.41h-2.41zM136.79 625.2h2.41v2.41h-2.41zM141.11 625.2h2.41v2.41h-2.41zM130.32 627.35h2.41v2.41h-2.41zM130.32 629.51h2.41v2.41h-2.41zM141.11 646.77h6.72v2.41h-6.72zM147.58 653.24h4.56v2.41h-4.56zM147.58 655.39h4.56v2.41h-4.56zM151.89 657.55h4.56v2.41h-4.56zM108.75 670.49h2.41v2.41h-2.41zM149.74 672.65h2.41v2.41h-2.41zM145.42 679.12h2.41v2.41h-2.41zM143.26 681.28h2.41v2.41h-2.41zM134.64 685.59h4.56v2.41h-4.56z" fill="#20a828"/><path d="M89.34 569.11h2.41v2.41h-2.41zM74.24 590.68h2.41v2.41h-2.41zM85.03 612.25h2.41v2.41h-2.41z" fill="#12746c"/><path d="M93.65 569.11h6.72v2.41h-6.72zM80.71 584.21h6.72v2.41h-6.72zM100.12 584.21h4.56v2.41h-4.56zM80.71 586.37h6.72v2.41h-6.72zM100.12 586.37h4.56v2.41h-4.56zM82.87 590.68h2.41v2.41h-2.41zM110.91 590.68h2.41v2.41h-2.41zM115.22 590.68h2.41v2.41h-2.41zM110.91 592.84h2.41v2.41h-2.41zM117.38 601.47h2.41v2.41h-2.41zM87.18 607.94h4.56v2.41h-4.56zM134.64 631.67h2.41v2.41h-2.41zM130.32 659.71h4.56v2.41h-4.56zM126.01 661.86h2.41v2.41h-2.41zM123.85 670.49h2.41v2.41h-2.41zM141.11 674.81h2.41v2.41h-2.41zM130.32 676.96h2.41v2.41h-2.41z" fill="#f6e3dc"/><path d="M89.34 571.27h2.41v2.41h-2.41zM104.44 582.06h2.41v2.41h-2.41zM76.4 584.21h2.41v2.41h-2.41zM95.81 584.21h2.41v2.41h-2.41zM106.59 584.21h2.41v2.41h-2.41zM76.4 586.37h2.41v2.41h-2.41zM95.81 586.37h2.41v2.41h-2.41zM106.59 586.37h2.41v2.41h-2.41zM87.18 588.53h2.41v2.41h-2.41zM119.54 588.53h2.41v2.41h-2.41zM78.55 590.68h2.41v2.41h-2.41zM85.03 595h6.72v2.41h-6.72zM91.5 597.15h2.41v2.41h-2.41zM80.71 599.31h2.41v2.41h-2.41zM121.69 603.62h2.41v2.41h-2.41zM117.38 605.78h2.41v2.41h-2.41zM121.69 605.78h2.41v2.41h-2.41zM91.5 610.1h2.41v2.41h-2.41zM126.01 614.41h4.56v2.41h-4.56zM138.95 614.41h2.41v2.41h-2.41zM126.01 616.57h4.56v2.41h-4.56zM138.95 616.57h2.41v2.41h-2.41zM138.95 623.04h2.41v2.41h-2.41zM138.95 629.51h2.41v2.41h-2.41zM138.95 653.24h2.41v2.41h-2.41zM143.26 657.55h2.41v2.41h-2.41zM145.42 659.71h2.41v2.41h-2.41zM147.58 670.49h2.41v2.41h-2.41zM110.91 672.65h4.56v2.41h-4.56zM117.38 672.65h2.41v2.41h-2.41zM113.07 674.81h4.56v2.41h-4.56zM119.54 674.81h2.41v2.41h-2.41zM110.91 676.96h2.41v2.41h-2.41zM143.26 676.96h2.41v2.41h-2.41zM121.69 679.12h2.41v2.41h-2.41zM126.01 681.28h2.41v2.41h-2.41zM130.32 681.28h4.56v2.41h-4.56zM136.79 681.28h2.41v2.41h-2.41zM141.11 681.28h2.41v2.41h-2.41zM132.48 683.43h2.41v2.41h-2.41zM141.11 683.43h2.41v2.41h-2.41zM138.95 685.59h2.41v2.41h-2.41z" fill="#a8c408"/><path d="M91.5 571.27h2.41v2.41h-2.41zM110.91 586.37h2.41v2.41h-2.41zM80.71 592.84h2.41v2.41h-2.41zM123.85 599.31h2.41v2.41h-2.41zM113.07 607.94h4.56v2.41h-4.56zM138.95 618.72h2.41v2.41h-2.41zM136.79 620.88h2.41v2.41h-2.41zM136.79 623.04h2.41v2.41h-2.41zM134.64 627.35h2.41v2.41h-2.41zM143.26 648.92h4.56v2.41h-4.56zM138.95 651.08h2.41v2.41h-2.41zM143.26 651.08h4.56v2.41h-4.56zM141.11 653.24h2.41v2.41h-2.41zM143.26 655.39h2.41v2.41h-2.41zM149.74 664.02h2.41v2.41h-2.41zM149.74 666.18h2.41v2.41h-2.41zM149.74 668.34h2.41v2.41h-2.41zM115.22 672.65h2.41v2.41h-2.41zM147.58 672.65h2.41v2.41h-2.41zM108.75 674.81h2.41v2.41h-2.41zM145.42 674.81h4.56v2.41h-4.56zM123.85 681.28h2.41v2.41h-2.41zM128.16 683.43h4.56v2.41h-4.56z" fill="#86c010"/><path d="M93.65 571.27h2.41v2.41h-2.41zM78.55 584.21h2.41v2.41h-2.41zM78.55 586.37h2.41v2.41h-2.41zM100.12 588.53h2.41v2.41h-2.41zM85.03 590.68h2.41v2.41h-2.41zM117.38 590.68h2.41v2.41h-2.41zM108.75 592.84h2.41v2.41h-2.41zM117.38 595h2.41v2.41h-2.41zM121.69 595h2.41v2.41h-2.41zM119.54 597.15h2.41v2.41h-2.41zM119.54 599.31h2.41v2.41h-2.41zM91.5 601.47h2.41v2.41h-2.41zM91.5 603.62h2.41v2.41h-2.41zM82.87 605.78h2.41v2.41h-2.41zM85.03 607.94h2.41v2.41h-2.41zM136.79 631.67h2.41v2.41h-2.41zM128.16 657.55h2.41v2.41h-2.41zM138.95 657.55h2.41v2.41h-2.41zM141.11 659.71h2.41v2.41h-2.41zM145.42 666.18h2.41v2.41h-2.41zM145.42 668.34h2.41v2.41h-2.41zM143.26 670.49h2.41v2.41h-2.41zM123.85 672.65h2.41v2.41h-2.41zM123.85 674.81h2.41v2.41h-2.41zM138.95 676.96h2.41v2.41h-2.41z" fill="#f1d6c8"/><path d="M95.81 571.27h4.56v2.41h-4.56zM113.07 590.68h2.41v2.41h-2.41zM113.07 592.84h4.56v2.41h-4.56zM108.75 595h2.41v2.41h-2.41zM85.03 599.31h2.41v2.41h-2.41zM82.87 601.47h2.41v2.41h-2.41zM82.87 603.62h2.41v2.41h-2.41zM91.5 605.78h2.41v2.41h-2.41zM134.64 657.55h4.56v2.41h-4.56zM128.16 659.71h2.41v2.41h-2.41zM138.95 659.71h2.41v2.41h-2.41zM126.01 664.02h2.41v2.41h-2.41zM123.85 666.18h2.41v2.41h-2.41zM130.32 666.18h4.56v2.41h-4.56zM143.26 666.18h2.41v2.41h-2.41zM123.85 668.34h2.41v2.41h-2.41zM130.32 668.34h4.56v2.41h-4.56zM143.26 668.34h2.41v2.41h-2.41zM141.11 672.65h2.41v2.41h-2.41zM138.95 674.81h2.41v2.41h-2.41zM132.48 676.96h6.72v2.41h-6.72z" fill="#f9f0ec"/><path d="M100.12 571.27h2.41v2.41h-2.41zM97.97 573.43h2.41v2.41h-2.41zM85.03 582.06h2.41v2.41h-2.41zM102.28 582.06h2.41v2.41h-2.41zM113.07 588.53h4.56v2.41h-4.56zM119.54 590.68h2.41v2.41h-2.41zM117.38 592.84h2.41v2.41h-2.41zM113.07 605.78h4.56v2.41h-4.56zM82.87 607.94h2.41v2.41h-2.41zM143.26 661.86h2.41v2.41h-2.41zM145.42 670.49h2.41v2.41h-2.41zM121.69 672.65h2.41v2.41h-2.41zM121.69 674.81h2.41v2.41h-2.41zM126.01 674.81h2.41v2.41h-2.41zM123.85 676.96h2.41v2.41h-2.41zM128.16 679.12h2.41v2.41h-2.41zM132.48 679.12h4.56v2.41h-4.56zM141.11 679.12h2.41v2.41h-2.41z" fill="#dfc48e"/><path d="M95.81 573.43h2.41v2.41h-2.41zM82.87 582.06h2.41v2.41h-2.41zM97.97 582.06h4.56v2.41h-4.56zM87.18 584.21h2.41v2.41h-2.41zM97.97 584.21h2.41v2.41h-2.41zM104.44 584.21h2.41v2.41h-2.41zM87.18 586.37h2.41v2.41h-2.41zM97.97 586.37h2.41v2.41h-2.41zM104.44 586.37h2.41v2.41h-2.41zM80.71 588.53h2.41v2.41h-2.41zM102.28 588.53h2.41v2.41h-2.41zM108.75 590.68h2.41v2.41h-2.41zM121.69 592.84h2.41v2.41h-2.41zM85.03 597.15h2.41v2.41h-2.41zM121.69 597.15h2.41v2.41h-2.41zM82.87 599.31h2.41v2.41h-2.41zM121.69 599.31h2.41v2.41h-2.41zM119.54 601.47h2.41v2.41h-2.41zM117.38 603.62h2.41v2.41h-2.41zM80.71 605.78h2.41v2.41h-2.41zM91.5 607.94h2.41v2.41h-2.41zM130.32 655.39h8.88v2.41h-8.88zM130.32 657.55h4.56v2.41h-4.56zM141.11 657.55h2.41v2.41h-2.41zM143.26 664.02h2.41v2.41h-2.41zM121.69 670.49h2.41v2.41h-2.41zM143.26 672.65h2.41v2.41h-2.41zM128.16 674.81h2.41v2.41h-2.41zM141.11 676.96h2.41v2.41h-2.41zM138.95 679.12h2.41v2.41h-2.41z" fill="#edcab3"/><path d="M100.12 573.43h2.41v2.41h-2.41zM117.38 586.37h2.41v2.41h-2.41zM74.24 588.53h2.41v2.41h-2.41zM76.4 597.15h2.41v2.41h-2.41zM132.48 607.94h2.41v2.41h-2.41zM82.87 610.1h2.41v2.41h-2.41zM104.44 672.65h2.41v2.41h-2.41zM106.59 679.12h2.41v2.41h-2.41z" fill="#10845c"/><path d="M102.28 573.43h2.41v2.41h-2.41zM130.32 607.94h2.41v2.41h-2.41zM130.32 610.1h2.41v2.41h-2.41z" fill="#136e74"/><path d="M100.12 575.58h2.41v2.41h-2.41zM72.08 588.53h2.41v2.41h-2.41zM72.08 590.68h2.41v2.41h-2.41zM130.32 612.25h2.41v2.41h-2.41zM134.64 625.2h2.41v2.41h-2.41zM147.58 657.55h2.41v2.41h-2.41z" fill="#108e4e"/><path d="M82.87 588.53h4.56v2.41h-4.56zM110.91 595h6.72v2.41h-6.72zM87.18 597.15h4.56v2.41h-4.56zM106.59 597.15h13.19v2.41h-13.19zM87.18 599.31h4.56v2.41h-4.56zM108.75 599.31h11.04v2.41h-11.04zM85.03 601.47h6.72v2.41h-6.72zM108.75 601.47h8.88v2.41h-8.88zM85.03 603.62h6.72v2.41h-6.72zM110.91 603.62h6.72v2.41h-6.72zM85.03 605.78h6.72v2.41h-6.72zM134.64 659.71h4.56v2.41h-4.56zM128.16 661.86h15.35v2.41h-15.35zM128.16 664.02h15.35v2.41h-15.35zM126.01 666.18h4.56v2.41h-4.56zM134.64 666.18h8.88v2.41h-8.88zM126.01 668.34h4.56v2.41h-4.56zM134.64 668.34h8.88v2.41h-8.88zM126.01 670.49h17.51v2.41h-17.51zM126.01 672.65h15.35v2.41h-15.35zM130.32 674.81h8.88v2.41h-8.88z" fill="#fcfcfc"/><path d="M126.01 597.15h2.41v2.41h-2.41zM104.44 679.12h2.41v2.41h-2.41z" fill="#1a6386"/><path d="M128.16 610.1h2.41v2.41h-2.41zM106.59 674.81h2.41v2.41h-2.41z" fill="#17687c"/><path d="M102.28 674.81h4.56v2.41h-4.56zM104.44 676.96h2.41v2.41h-2.41z" fill="#2a2374"/><path d="M102.28 676.96h2.41v2.41h-2.41z" fill="#2a1b5e"/><path d="M102.28 679.12h2.41v2.41h-2.41z" fill="#1f539c"/></g>
</g>
<line x1="73.1" y1="549.7" x2="144.7" y2="707.1" stroke="#000" stroke-width="1.3"/>
<line x1="79.2" y1="549.7" x2="112.11" y2="635.37" stroke="#ff00ff" stroke-width="1.3"/>
<path d="M107.91 635.37h8.4M112.11 631.17v8.4" stroke="#000" stroke-width="2.6"/>
<text x="39.5" y="565.8" font-size="8.27" textLength="32.59" lengthAdjust="spacingAndGlyphs">1-44487</text>
<rect x="149.4" y="670.9" width="38.6" height="35.6" rx="2" fill="#fff" fill-opacity="0.82" stroke="#d8d8d8" stroke-width="0.8"/>
<path d="M155 675.9h7.6M158.8 672.1v7.6" stroke="#000" stroke-width="2.5"/>
<line x1="151.6" y1="686.2" x2="166.8" y2="686.2" stroke="#000" stroke-width="1.3"/>
<line x1="151.6" y1="696.8" x2="166.8" y2="696.8" stroke="#ff00ff" stroke-width="1.3"/>
<text x="171.4" y="678.5" font-size="7.53" textLength="10.46" lengthAdjust="spacingAndGlyphs">GC</text>
<text x="171.4" y="688.8" font-size="7.53" textLength="8.68" lengthAdjust="spacingAndGlyphs">PA</text>
<text x="171.4" y="699.4" font-size="7.53" textLength="10.45" lengthAdjust="spacingAndGlyphs">QA</text>
<rect x="31.1" y="549.7" width="157.4" height="157.4" fill="none" stroke="#444" stroke-width="0.9"/>
<path d="M31.1 707.1v-3.2M31.1 549.7v3.2M74.22 707.1v-3.2M74.22 549.7v3.2M117.35 707.1v-3.2M117.35 549.7v3.2M160.47 707.1v-3.2M160.47 549.7v3.2M31.1 707.1h3.2M188.5 707.1h-3.2M31.1 685.54h3.2M188.5 685.54h-3.2M31.1 663.98h3.2M188.5 663.98h-3.2M31.1 642.42h3.2M188.5 642.42h-3.2M31.1 620.85h3.2M188.5 620.85h-3.2M31.1 599.29h3.2M188.5 599.29h-3.2M31.1 577.73h3.2M188.5 577.73h-3.2M31.1 556.17h3.2M188.5 556.17h-3.2" stroke="#111" stroke-width="1" fill="none"/>
<text x="31.1" y="715.7" font-size="8.59" textLength="5.15" lengthAdjust="spacingAndGlyphs" text-anchor="middle">0</text>
<text x="74.22" y="715.7" font-size="8.59" textLength="10.31" lengthAdjust="spacingAndGlyphs" text-anchor="middle">20</text>
<text x="117.35" y="715.7" font-size="8.59" textLength="10.31" lengthAdjust="spacingAndGlyphs" text-anchor="middle">40</text>
<text x="160.47" y="715.7" font-size="8.59" textLength="10.31" lengthAdjust="spacingAndGlyphs" text-anchor="middle">60</text>
<text x="27.3" y="710" font-size="8.59" textLength="5.15" lengthAdjust="spacingAndGlyphs" text-anchor="end">0</text>
<text x="27.3" y="688.44" font-size="8.59" textLength="10.31" lengthAdjust="spacingAndGlyphs" text-anchor="end">10</text>
<text x="27.3" y="666.88" font-size="8.59" textLength="10.31" lengthAdjust="spacingAndGlyphs" text-anchor="end">20</text>
<text x="27.3" y="645.32" font-size="8.59" textLength="10.31" lengthAdjust="spacingAndGlyphs" text-anchor="end">30</text>
<text x="27.3" y="623.75" font-size="8.59" textLength="10.31" lengthAdjust="spacingAndGlyphs" text-anchor="end">40</text>
<text x="27.3" y="602.19" font-size="8.59" textLength="10.31" lengthAdjust="spacingAndGlyphs" text-anchor="end">50</text>
<text x="27.3" y="580.63" font-size="8.59" textLength="10.31" lengthAdjust="spacingAndGlyphs" text-anchor="end">60</text>
<text x="27.3" y="559.07" font-size="8.59" textLength="10.31" lengthAdjust="spacingAndGlyphs" text-anchor="end">70</text>
<text x="110" y="725.5" font-size="8.59" textLength="80.79" lengthAdjust="spacingAndGlyphs" text-anchor="middle">Declination (spaxel)</text>
<text x="14.6" y="628.4" font-size="8.59" transform="rotate(-90 14.6 628.4)" textLength="99.79" lengthAdjust="spacingAndGlyphs" text-anchor="middle">Right Ascension (spaxel)</text>
<text x="110" y="545.8" font-size="8.59" textLength="54.44" lengthAdjust="spacingAndGlyphs" text-anchor="middle">IZI Metallicity</text>
<defs><linearGradient id="cbg1" x1="0" y1="1" x2="0" y2="0"><stop offset="0" stop-color="#000000"/><stop offset="0.07" stop-color="#1a0c22"/><stop offset="0.15" stop-color="#2a1a5a"/><stop offset="0.22" stop-color="#2a2a8a"/><stop offset="0.3" stop-color="#2050a0"/><stop offset="0.38" stop-color="#1a6484"/><stop offset="0.45" stop-color="#127070"/><stop offset="0.55" stop-color="#108858"/><stop offset="0.6" stop-color="#10a030"/><stop offset="0.65" stop-color="#30b020"/><stop offset="0.72" stop-color="#88c010"/><stop offset="0.78" stop-color="#c8c800"/><stop offset="0.82" stop-color="#d4c070"/><stop offset="0.87" stop-color="#ecc8b0"/><stop offset="0.93" stop-color="#f5e0d8"/><stop offset="1" stop-color="#fcfcfc"/></linearGradient></defs>
<rect x="199.5" y="549.7" width="7.6" height="156.3" fill="url(#cbg1)" stroke="none" stroke-width="1"/>
<text x="208.8" y="708.9" font-size="8.59" textLength="18.04" lengthAdjust="spacingAndGlyphs">0.10</text>
<text x="208.8" y="682.85" font-size="8.59" textLength="18.04" lengthAdjust="spacingAndGlyphs">0.15</text>
<text x="208.8" y="656.8" font-size="8.59" textLength="18.04" lengthAdjust="spacingAndGlyphs">0.20</text>
<text x="208.8" y="630.75" font-size="8.59" textLength="18.04" lengthAdjust="spacingAndGlyphs">0.25</text>
<text x="208.8" y="604.7" font-size="8.59" textLength="18.04" lengthAdjust="spacingAndGlyphs">0.30</text>
<text x="208.8" y="578.65" font-size="8.59" textLength="18.04" lengthAdjust="spacingAndGlyphs">0.35</text>
<text x="208.8" y="552.6" font-size="8.59" textLength="18.04" lengthAdjust="spacingAndGlyphs">0.40</text>
<text x="237.2" y="628.3" font-size="8.6" text-anchor="middle" transform="rotate(-90 237.2 628.3)" textLength="21.52" lengthAdjust="spacingAndGlyphs">[O/H]</text>
<clipPath id="cm2"><rect x="31.1" y="738.8" width="157.4" height="157.4"/></clipPath>
<g clip-path="url(#cm2)">
<rect x="31.1" y="738.8" width="157.4" height="157.4" fill="url(#hatch)" stroke="none" stroke-width="1"/>
<path d="M51.05 737.1 L104.74 737.1 L112.11 824.47Z" fill="url(#phatch)" stroke-linejoin="round"/>
<g shape-rendering="crispEdges"><path d="M93.65 753.9h2.41v2.41h-2.41zM89.34 756.06h2.41v2.41h-2.41zM100.12 756.06h2.41v2.41h-2.41zM89.34 758.21h2.41v2.41h-2.41zM100.12 758.21h4.56v2.41h-4.56zM95.81 764.68h4.56v2.41h-4.56zM76.4 773.31h2.41v2.41h-2.41zM100.12 773.31h4.56v2.41h-4.56zM100.12 775.47h4.56v2.41h-4.56zM100.12 777.63h8.88v2.41h-8.88zM80.71 779.78h2.41v2.41h-2.41zM104.44 779.78h4.56v2.41h-4.56zM91.5 786.25h2.41v2.41h-2.41zM82.87 788.41h2.41v2.41h-2.41zM91.5 788.41h2.41v2.41h-2.41zM87.18 790.57h4.56v2.41h-4.56zM128.16 803.51h2.41v2.41h-2.41zM128.16 807.82h2.41v2.41h-2.41zM128.16 809.98h4.56v2.41h-4.56zM141.11 812.14h2.41v2.41h-2.41zM134.64 820.77h2.41v2.41h-2.41zM145.42 840.18h2.41v2.41h-2.41zM134.64 846.65h4.56v2.41h-4.56zM136.79 848.81h2.41v2.41h-2.41zM147.58 848.81h2.41v2.41h-2.41zM154.05 848.81h2.41v2.41h-2.41zM154.05 853.12h2.41v2.41h-2.41zM143.26 855.28h2.41v2.41h-2.41zM151.89 855.28h2.41v2.41h-2.41zM145.42 857.43h4.56v2.41h-4.56zM138.95 859.59h2.41v2.41h-2.41zM145.42 859.59h2.41v2.41h-2.41zM110.91 861.75h4.56v2.41h-4.56zM138.95 861.75h2.41v2.41h-2.41zM121.69 863.91h4.56v2.41h-4.56zM113.07 866.06h2.41v2.41h-2.41zM121.69 866.06h4.56v2.41h-4.56zM126.01 868.22h4.56v2.41h-4.56zM134.64 868.22h4.56v2.41h-4.56zM126.01 870.38h4.56v2.41h-4.56z" fill="#20a828"/><path d="M95.81 753.9h4.56v2.41h-4.56zM74.24 775.47h2.41v2.41h-2.41zM130.32 850.96h2.41v2.41h-2.41zM134.64 850.96h2.41v2.41h-2.41zM128.16 853.12h2.41v2.41h-2.41zM149.74 857.43h4.56v2.41h-4.56zM115.22 863.91h2.41v2.41h-2.41zM115.22 866.06h2.41v2.41h-2.41z" fill="#d2c25b"/><path d="M91.5 756.06h2.41v2.41h-2.41zM91.5 758.21h2.41v2.41h-2.41zM104.44 762.53h2.41v2.41h-2.41zM113.07 777.63h2.41v2.41h-2.41zM82.87 781.94h2.41v2.41h-2.41zM91.5 781.94h2.41v2.41h-2.41zM74.24 784.1h4.56v2.41h-4.56zM82.87 784.1h2.41v2.41h-2.41zM87.18 784.1h2.41v2.41h-2.41zM91.5 784.1h2.41v2.41h-2.41zM113.07 786.25h4.56v2.41h-4.56zM113.07 788.41h4.56v2.41h-4.56zM128.16 790.57h2.41v2.41h-2.41zM128.16 792.72h2.41v2.41h-2.41zM121.69 794.88h4.56v2.41h-4.56zM121.69 797.04h4.56v2.41h-4.56zM132.48 801.35h2.41v2.41h-2.41zM130.32 807.82h2.41v2.41h-2.41zM132.48 809.98h2.41v2.41h-2.41zM138.95 809.98h4.56v2.41h-4.56zM132.48 818.61h2.41v2.41h-2.41zM145.42 838.02h2.41v2.41h-2.41zM126.01 859.59h4.56v2.41h-4.56zM151.89 859.59h2.41v2.41h-2.41zM126.01 861.75h4.56v2.41h-4.56zM117.38 863.91h4.56v2.41h-4.56zM117.38 866.06h4.56v2.41h-4.56zM136.79 874.69h2.41v2.41h-2.41z" fill="#117c64"/><path d="M93.65 756.06h2.41v2.41h-2.41zM93.65 758.21h2.41v2.41h-2.41zM95.81 760.37h4.56v2.41h-4.56zM95.81 762.53h2.41v2.41h-2.41zM100.12 764.68h2.41v2.41h-2.41zM95.81 777.63h4.56v2.41h-4.56zM85.03 781.94h4.56v2.41h-4.56zM85.03 784.1h2.41v2.41h-2.41zM119.54 784.1h2.41v2.41h-2.41zM76.4 786.25h2.41v2.41h-2.41zM82.87 786.25h2.41v2.41h-2.41zM87.18 786.25h4.56v2.41h-4.56zM87.18 788.41h4.56v2.41h-4.56zM117.38 790.57h2.41v2.41h-2.41zM119.54 792.72h2.41v2.41h-2.41zM121.69 799.2h2.41v2.41h-2.41zM121.69 803.51h4.56v2.41h-4.56zM123.85 805.67h2.41v2.41h-2.41zM136.79 809.98h2.41v2.41h-2.41zM141.11 816.45h2.41v2.41h-2.41zM132.48 820.77h2.41v2.41h-2.41zM143.26 835.87h4.56v2.41h-4.56zM134.64 840.18h2.41v2.41h-2.41zM138.95 846.65h8.88v2.41h-8.88zM138.95 848.81h8.88v2.41h-8.88zM156.21 850.96h2.41v2.41h-2.41zM156.21 853.12h2.41v2.41h-2.41zM123.85 857.43h2.41v2.41h-2.41zM143.26 857.43h2.41v2.41h-2.41zM134.64 863.91h4.56v2.41h-4.56zM134.64 866.06h4.56v2.41h-4.56zM113.07 868.22h4.56v2.41h-4.56zM130.32 868.22h4.56v2.41h-4.56zM113.07 870.38h4.56v2.41h-4.56zM130.32 870.38h4.56v2.41h-4.56z" fill="#10845c"/><path d="M95.81 756.06h4.56v2.41h-4.56zM95.81 758.21h4.56v2.41h-4.56zM89.34 760.37h2.41v2.41h-2.41zM100.12 771.15h2.41v2.41h-2.41zM78.55 773.31h4.56v2.41h-4.56zM80.71 775.47h2.41v2.41h-2.41zM108.75 786.25h4.56v2.41h-4.56zM85.03 788.41h2.41v2.41h-2.41zM110.91 788.41h2.41v2.41h-2.41zM91.5 790.57h4.56v2.41h-4.56zM93.65 792.72h2.41v2.41h-2.41zM93.65 794.88h2.41v2.41h-2.41zM130.32 797.04h2.41v2.41h-2.41zM128.16 799.2h2.41v2.41h-2.41zM128.16 801.35h2.41v2.41h-2.41zM130.32 848.81h2.41v2.41h-2.41zM149.74 848.81h2.41v2.41h-2.41zM136.79 850.96h2.41v2.41h-2.41zM143.26 850.96h2.41v2.41h-2.41zM143.26 853.12h2.41v2.41h-2.41zM126.01 855.28h2.41v2.41h-2.41zM136.79 855.28h2.41v2.41h-2.41zM145.42 855.28h2.41v2.41h-2.41zM126.01 857.43h6.72v2.41h-6.72zM134.64 857.43h4.56v2.41h-4.56zM106.59 859.59h2.41v2.41h-2.41zM106.59 861.75h2.41v2.41h-2.41zM126.01 863.91h4.56v2.41h-4.56zM126.01 866.06h4.56v2.41h-4.56zM108.75 868.22h2.41v2.41h-2.41zM108.75 870.38h4.56v2.41h-4.56z" fill="#38b11f"/><path d="M91.5 760.37h4.56v2.41h-4.56zM91.5 762.53h4.56v2.41h-4.56zM82.87 773.31h4.56v2.41h-4.56zM104.44 773.31h2.41v2.41h-2.41zM82.87 775.47h4.56v2.41h-4.56zM104.44 775.47h2.41v2.41h-2.41zM87.18 777.63h4.56v2.41h-4.56zM87.18 779.78h4.56v2.41h-4.56zM74.24 781.94h2.41v2.41h-2.41zM121.69 781.94h2.41v2.41h-2.41zM82.87 790.57h4.56v2.41h-4.56zM113.07 790.57h4.56v2.41h-4.56zM82.87 792.72h2.41v2.41h-2.41zM113.07 792.72h4.56v2.41h-4.56zM119.54 799.2h2.41v2.41h-2.41zM130.32 801.35h2.41v2.41h-2.41zM128.16 805.67h2.41v2.41h-2.41zM141.11 814.29h2.41v2.41h-2.41zM130.32 816.45h2.41v2.41h-2.41zM130.32 818.61h2.41v2.41h-2.41zM141.11 818.61h2.41v2.41h-2.41zM136.79 820.77h4.56v2.41h-4.56zM147.58 840.18h4.56v2.41h-4.56zM143.26 842.34h2.41v2.41h-2.41zM147.58 842.34h4.56v2.41h-4.56zM147.58 844.49h4.56v2.41h-4.56zM151.89 846.65h4.56v2.41h-4.56zM154.05 850.96h2.41v2.41h-2.41zM156.21 855.28h2.41v2.41h-2.41zM108.75 857.43h4.56v2.41h-4.56zM121.69 859.59h4.56v2.41h-4.56zM130.32 859.59h4.56v2.41h-4.56zM147.58 859.59h4.56v2.41h-4.56zM121.69 861.75h4.56v2.41h-4.56zM130.32 861.75h4.56v2.41h-4.56zM113.07 863.91h2.41v2.41h-2.41zM110.91 868.22h2.41v2.41h-2.41zM134.64 874.69h2.41v2.41h-2.41z" fill="#109d35"/><path d="M100.12 760.37h4.56v2.41h-4.56zM100.12 762.53h4.56v2.41h-4.56zM117.38 775.47h2.41v2.41h-2.41zM138.95 838.02h4.56v2.41h-4.56zM138.95 840.18h4.56v2.41h-4.56z" fill="#000000"/><path d="M97.97 762.53h2.41v2.41h-2.41zM87.18 773.31h4.56v2.41h-4.56zM113.07 773.31h2.41v2.41h-2.41zM87.18 775.47h4.56v2.41h-4.56zM82.87 777.63h4.56v2.41h-4.56zM119.54 779.78h2.41v2.41h-2.41zM78.55 781.94h2.41v2.41h-2.41zM78.55 784.1h2.41v2.41h-2.41zM117.38 786.25h2.41v2.41h-2.41zM117.38 788.41h2.41v2.41h-2.41zM80.71 790.57h2.41v2.41h-2.41zM80.71 792.72h2.41v2.41h-2.41zM126.01 792.72h2.41v2.41h-2.41zM138.95 805.67h2.41v2.41h-2.41zM134.64 809.98h2.41v2.41h-2.41zM130.32 812.14h6.72v2.41h-6.72zM130.32 814.29h2.41v2.41h-2.41zM136.79 842.34h2.41v2.41h-2.41zM138.95 850.96h4.56v2.41h-4.56zM138.95 853.12h4.56v2.41h-4.56zM154.05 857.43h2.41v2.41h-2.41zM104.44 861.75h2.41v2.41h-2.41zM138.95 863.91h4.56v2.41h-4.56zM138.95 866.06h4.56v2.41h-4.56zM117.38 868.22h8.88v2.41h-8.88zM121.69 870.38h4.56v2.41h-4.56zM126.01 872.53h4.56v2.41h-4.56z" fill="#12746c"/><path d="M102.28 764.68h2.41v2.41h-2.41zM95.81 773.31h4.56v2.41h-4.56zM95.81 775.47h4.56v2.41h-4.56zM113.07 779.78h2.41v2.41h-2.41zM76.4 781.94h2.41v2.41h-2.41zM89.34 781.94h2.41v2.41h-2.41zM89.34 784.1h2.41v2.41h-2.41zM85.03 786.25h2.41v2.41h-2.41zM121.69 792.72h4.56v2.41h-4.56zM113.07 794.88h2.41v2.41h-2.41zM138.95 812.14h2.41v2.41h-2.41zM138.95 844.49h4.56v2.41h-4.56zM132.48 846.65h2.41v2.41h-2.41zM147.58 846.65h4.56v2.41h-4.56zM138.95 855.28h4.56v2.41h-4.56zM154.05 855.28h2.41v2.41h-2.41zM138.95 857.43h4.56v2.41h-4.56zM134.64 859.59h4.56v2.41h-4.56zM134.64 861.75h4.56v2.41h-4.56zM106.59 868.22h2.41v2.41h-2.41zM138.95 868.22h2.41v2.41h-2.41zM134.64 870.38h2.41v2.41h-2.41zM138.95 870.38h2.41v2.41h-2.41z" fill="#108e4e"/><path d="M97.97 771.15h2.41v2.41h-2.41zM74.24 777.63h4.56v2.41h-4.56zM74.24 779.78h2.41v2.41h-2.41zM78.55 779.78h2.41v2.41h-2.41zM91.5 801.35h2.41v2.41h-2.41zM147.58 850.96h2.41v2.41h-2.41zM145.42 853.12h2.41v2.41h-2.41zM106.59 870.38h2.41v2.41h-2.41zM130.32 872.53h4.56v2.41h-4.56zM130.32 874.69h4.56v2.41h-4.56z" fill="#a8c408"/><path d="M74.24 773.31h2.41v2.41h-2.41zM91.5 773.31h4.56v2.41h-4.56zM115.22 773.31h2.41v2.41h-2.41zM78.55 775.47h2.41v2.41h-2.41zM91.5 775.47h4.56v2.41h-4.56zM91.5 777.63h4.56v2.41h-4.56zM91.5 779.78h2.41v2.41h-2.41zM108.75 779.78h4.56v2.41h-4.56zM108.75 781.94h13.19v2.41h-13.19zM108.75 784.1h11.04v2.41h-11.04zM110.91 790.57h2.41v2.41h-2.41zM117.38 792.72h2.41v2.41h-2.41zM93.65 799.2h2.41v2.41h-2.41zM130.32 799.2h4.56v2.41h-4.56zM91.5 803.51h2.41v2.41h-2.41zM151.89 842.34h2.41v2.41h-2.41zM151.89 844.49h2.41v2.41h-2.41zM132.48 848.81h4.56v2.41h-4.56zM151.89 848.81h2.41v2.41h-2.41zM156.21 848.81h2.41v2.41h-2.41zM151.89 850.96h2.41v2.41h-2.41zM136.79 853.12h2.41v2.41h-2.41zM132.48 857.43h2.41v2.41h-2.41zM108.75 861.75h2.41v2.41h-2.41zM145.42 861.75h2.41v2.41h-2.41z" fill="#5fb917"/><path d="M106.59 773.31h2.41v2.41h-2.41zM85.03 779.78h2.41v2.41h-2.41zM136.79 812.14h2.41v2.41h-2.41zM128.16 814.29h2.41v2.41h-2.41zM132.48 816.45h2.41v2.41h-2.41zM134.64 818.61h2.41v2.41h-2.41zM138.95 818.61h2.41v2.41h-2.41zM106.59 863.91h2.41v2.41h-2.41zM136.79 870.38h2.41v2.41h-2.41z" fill="#136e74"/><path d="M108.75 773.31h2.41v2.41h-2.41zM110.91 777.63h2.41v2.41h-2.41zM119.54 788.41h2.41v2.41h-2.41zM136.79 803.51h2.41v2.41h-2.41zM136.79 814.29h2.41v2.41h-2.41zM110.91 863.91h2.41v2.41h-2.41zM110.91 866.06h2.41v2.41h-2.41zM136.79 872.53h2.41v2.41h-2.41z" fill="#22479b"/><path d="M110.91 773.31h2.41v2.41h-2.41zM119.54 777.63h2.41v2.41h-2.41z" fill="#263892"/><path d="M72.08 775.47h2.41v2.41h-2.41zM76.4 775.47h2.41v2.41h-2.41zM78.55 777.63h2.41v2.41h-2.41zM91.5 792.72h2.41v2.41h-2.41zM82.87 794.88h2.41v2.41h-2.41zM115.22 794.88h2.41v2.41h-2.41zM115.22 797.04h2.41v2.41h-2.41zM132.48 844.49h2.41v2.41h-2.41zM128.16 850.96h2.41v2.41h-2.41zM149.74 850.96h2.41v2.41h-2.41zM147.58 853.12h4.56v2.41h-4.56zM149.74 855.28h2.41v2.41h-2.41zM108.75 859.59h4.56v2.41h-4.56z" fill="#c8c803"/><path d="M106.59 775.47h2.41v2.41h-2.41zM115.22 775.47h2.41v2.41h-2.41zM130.32 803.51h2.41v2.41h-2.41zM132.48 814.29h2.41v2.41h-2.41zM134.64 816.45h6.72v2.41h-6.72zM143.26 859.59h2.41v2.41h-2.41zM108.75 863.91h2.41v2.41h-2.41z" fill="#1d5b91"/><path d="M108.75 775.47h4.56v2.41h-4.56zM132.48 805.67h2.41v2.41h-2.41zM147.58 838.02h2.41v2.41h-2.41zM141.11 842.34h2.41v2.41h-2.41z" fill="#2a2374"/><path d="M113.07 775.47h2.41v2.41h-2.41zM115.22 779.78h2.41v2.41h-2.41zM80.71 784.1h2.41v2.41h-2.41zM119.54 790.57h4.56v2.41h-4.56zM132.48 807.82h2.41v2.41h-2.41zM138.95 807.82h2.41v2.41h-2.41zM149.74 838.02h2.41v2.41h-2.41zM130.32 863.91h4.56v2.41h-4.56zM106.59 866.06h4.56v2.41h-4.56zM130.32 866.06h4.56v2.41h-4.56zM104.44 868.22h2.41v2.41h-2.41zM134.64 872.53h2.41v2.41h-2.41z" fill="#1a6386"/><path d="M72.08 777.63h2.41v2.41h-2.41zM91.5 797.04h2.41v2.41h-2.41zM91.5 799.2h2.41v2.41h-2.41z" fill="#f1d6c8"/><path d="M80.71 777.63h2.41v2.41h-2.41zM76.4 779.78h2.41v2.41h-2.41zM106.59 781.94h2.41v2.41h-2.41zM85.03 792.72h2.41v2.41h-2.41zM93.65 797.04h2.41v2.41h-2.41zM117.38 799.2h2.41v2.41h-2.41zM128.16 812.14h2.41v2.41h-2.41zM134.64 842.34h2.41v2.41h-2.41zM145.42 842.34h2.41v2.41h-2.41zM134.64 844.49h4.56v2.41h-4.56zM143.26 844.49h4.56v2.41h-4.56zM145.42 850.96h2.41v2.41h-2.41zM151.89 853.12h2.41v2.41h-2.41zM128.16 855.28h2.41v2.41h-2.41zM147.58 855.28h2.41v2.41h-2.41zM113.07 859.59h2.41v2.41h-2.41zM115.22 861.75h6.72v2.41h-6.72z" fill="#86c010"/><path d="M108.75 777.63h2.41v2.41h-2.41zM117.38 779.78h2.41v2.41h-2.41zM80.71 786.25h2.41v2.41h-2.41zM119.54 786.25h2.41v2.41h-2.41zM126.01 790.57h2.41v2.41h-2.41zM130.32 805.67h2.41v2.41h-2.41zM134.64 807.82h2.41v2.41h-2.41zM134.64 814.29h2.41v2.41h-2.41zM143.26 838.02h2.41v2.41h-2.41zM143.26 840.18h2.41v2.41h-2.41zM141.11 859.59h2.41v2.41h-2.41z" fill="#1f539c"/><path d="M115.22 777.63h4.56v2.41h-4.56zM136.79 838.02h2.41v2.41h-2.41zM136.79 840.18h2.41v2.41h-2.41zM138.95 842.34h2.41v2.41h-2.41zM102.28 863.91h2.41v2.41h-2.41z" fill="#251648"/><path d="M72.08 779.78h2.41v2.41h-2.41zM72.08 781.94h2.41v2.41h-2.41zM85.03 801.35h2.41v2.41h-2.41zM132.48 850.96h2.41v2.41h-2.41zM130.32 853.12h6.72v2.41h-6.72zM132.48 855.28h2.41v2.41h-2.41z" fill="#edcab3"/><path d="M82.87 779.78h2.41v2.41h-2.41zM80.71 781.94h2.41v2.41h-2.41zM121.69 784.1h4.56v2.41h-4.56zM78.55 786.25h2.41v2.41h-2.41zM121.69 786.25h4.56v2.41h-4.56zM78.55 788.41h4.56v2.41h-4.56zM121.69 788.41h6.72v2.41h-6.72zM123.85 790.57h2.41v2.41h-2.41zM126.01 794.88h4.56v2.41h-4.56zM126.01 797.04h4.56v2.41h-4.56zM134.64 801.35h2.41v2.41h-2.41zM136.79 807.82h2.41v2.41h-2.41zM138.95 814.29h2.41v2.41h-2.41zM136.79 818.61h2.41v2.41h-2.41zM141.11 861.75h4.56v2.41h-4.56z" fill="#17687c"/><path d="M87.18 792.72h4.56v2.41h-4.56zM91.5 794.88h2.41v2.41h-2.41zM119.54 794.88h2.41v2.41h-2.41zM82.87 797.04h2.41v2.41h-2.41zM119.54 797.04h2.41v2.41h-2.41zM87.18 801.35h4.56v2.41h-4.56zM130.32 855.28h2.41v2.41h-2.41zM134.64 855.28h2.41v2.41h-2.41z" fill="#dfc48e"/><path d="M85.03 794.88h6.72v2.41h-6.72zM85.03 797.04h6.72v2.41h-6.72zM85.03 799.2h6.72v2.41h-6.72z" fill="#fcfcfc"/><path d="M117.38 794.88h2.41v2.41h-2.41zM117.38 797.04h2.41v2.41h-2.41z" fill="#f9f0ec"/><path d="M132.48 803.51h4.56v2.41h-4.56zM134.64 805.67h4.56v2.41h-4.56zM147.58 835.87h2.41v2.41h-2.41z" fill="#2a2a89"/><path d="M141.11 835.87h2.41v2.41h-2.41zM104.44 863.91h2.41v2.41h-2.41zM104.44 866.06h2.41v2.41h-2.41z" fill="#2a1b5e"/><path d="M102.28 866.06h2.41v2.41h-2.41z" fill="#170b1e"/></g>
</g>
<line x1="73.1" y1="738.8" x2="144.7" y2="896.2" stroke="#000" stroke-width="1.3"/>
<line x1="79.2" y1="738.8" x2="112.11" y2="824.47" stroke="#ff00ff" stroke-width="1.3"/>
<path d="M107.91 824.47h8.4M112.11 820.27v8.4" stroke="#000" stroke-width="2.6"/>
<text x="39.5" y="754.9" font-size="8.27" textLength="32.59" lengthAdjust="spacingAndGlyphs">1-44487</text>
<rect x="149.4" y="860" width="38.6" height="35.6" rx="2" fill="#fff" fill-opacity="0.82" stroke="#d8d8d8" stroke-width="0.8"/>
<path d="M155 865h7.6M158.8 861.2v7.6" stroke="#000" stroke-width="2.5"/>
<line x1="151.6" y1="875.3" x2="166.8" y2="875.3" stroke="#000" stroke-width="1.3"/>
<line x1="151.6" y1="885.9" x2="166.8" y2="885.9" stroke="#ff00ff" stroke-width="1.3"/>
<text x="171.4" y="867.6" font-size="7.53" textLength="10.46" lengthAdjust="spacingAndGlyphs">GC</text>
<text x="171.4" y="877.9" font-size="7.53" textLength="8.68" lengthAdjust="spacingAndGlyphs">PA</text>
<text x="171.4" y="888.5" font-size="7.53" textLength="10.45" lengthAdjust="spacingAndGlyphs">QA</text>
<rect x="31.1" y="738.8" width="157.4" height="157.4" fill="none" stroke="#444" stroke-width="0.9"/>
<path d="M31.1 896.2v-3.2M31.1 738.8v3.2M74.22 896.2v-3.2M74.22 738.8v3.2M117.35 896.2v-3.2M117.35 738.8v3.2M160.47 896.2v-3.2M160.47 738.8v3.2M31.1 896.2h3.2M188.5 896.2h-3.2M31.1 874.64h3.2M188.5 874.64h-3.2M31.1 853.08h3.2M188.5 853.08h-3.2M31.1 831.52h3.2M188.5 831.52h-3.2M31.1 809.95h3.2M188.5 809.95h-3.2M31.1 788.39h3.2M188.5 788.39h-3.2M31.1 766.83h3.2M188.5 766.83h-3.2M31.1 745.27h3.2M188.5 745.27h-3.2" stroke="#111" stroke-width="1" fill="none"/>
<text x="31.1" y="904.8" font-size="8.59" textLength="5.15" lengthAdjust="spacingAndGlyphs" text-anchor="middle">0</text>
<text x="74.22" y="904.8" font-size="8.59" textLength="10.31" lengthAdjust="spacingAndGlyphs" text-anchor="middle">20</text>
<text x="117.35" y="904.8" font-size="8.59" textLength="10.31" lengthAdjust="spacingAndGlyphs" text-anchor="middle">40</text>
<text x="160.47" y="904.8" font-size="8.59" textLength="10.31" lengthAdjust="spacingAndGlyphs" text-anchor="middle">60</text>
<text x="27.3" y="899.1" font-size="8.59" textLength="5.15" lengthAdjust="spacingAndGlyphs" text-anchor="end">0</text>
<text x="27.3" y="877.54" font-size="8.59" textLength="10.31" lengthAdjust="spacingAndGlyphs" text-anchor="end">10</text>
<text x="27.3" y="855.98" font-size="8.59" textLength="10.31" lengthAdjust="spacingAndGlyphs" text-anchor="end">20</text>
<text x="27.3" y="834.42" font-size="8.59" textLength="10.31" lengthAdjust="spacingAndGlyphs" text-anchor="end">30</text>
<text x="27.3" y="812.85" font-size="8.59" textLength="10.31" lengthAdjust="spacingAndGlyphs" text-anchor="end">40</text>
<text x="27.3" y="791.29" font-size="8.59" textLength="10.31" lengthAdjust="spacingAndGlyphs" text-anchor="end">50</text>
<text x="27.3" y="769.73" font-size="8.59" textLength="10.31" lengthAdjust="spacingAndGlyphs" text-anchor="end">60</text>
<text x="27.3" y="748.17" font-size="8.59" textLength="10.31" lengthAdjust="spacingAndGlyphs" text-anchor="end">70</text>
<text x="110" y="914.6" font-size="8.59" textLength="80.79" lengthAdjust="spacingAndGlyphs" text-anchor="middle">Declination (spaxel)</text>
<text x="14.6" y="817.5" font-size="8.59" transform="rotate(-90 14.6 817.5)" textLength="99.79" lengthAdjust="spacingAndGlyphs" text-anchor="middle">Right Ascension (spaxel)</text>
<text x="110" y="734.9" font-size="8.59" textLength="92.11" lengthAdjust="spacingAndGlyphs" text-anchor="middle">IZI Ioniztion Parameter</text>
<defs><linearGradient id="cbg2" x1="0" y1="1" x2="0" y2="0"><stop offset="0" stop-color="#000000"/><stop offset="0.07" stop-color="#1a0c22"/><stop offset="0.15" stop-color="#2a1a5a"/><stop offset="0.22" stop-color="#2a2a8a"/><stop offset="0.3" stop-color="#2050a0"/><stop offset="0.38" stop-color="#1a6484"/><stop offset="0.45" stop-color="#127070"/><stop offset="0.55" stop-color="#108858"/><stop offset="0.6" stop-color="#10a030"/><stop offset="0.65" stop-color="#30b020"/><stop offset="0.72" stop-color="#88c010"/><stop offset="0.78" stop-color="#c8c800"/><stop offset="0.82" stop-color="#d4c070"/><stop offset="0.87" stop-color="#ecc8b0"/><stop offset="0.93" stop-color="#f5e0d8"/><stop offset="1" stop-color="#fcfcfc"/></linearGradient></defs>
<rect x="199.5" y="738.8" width="7.6" height="156.3" fill="url(#cbg2)" stroke="none" stroke-width="1"/>
<text x="208.8" y="898" font-size="8.59" textLength="20.96" lengthAdjust="spacingAndGlyphs">-3.60</text>
<text x="208.8" y="871.95" font-size="8.59" textLength="20.96" lengthAdjust="spacingAndGlyphs">-3.55</text>
<text x="208.8" y="845.9" font-size="8.59" textLength="20.96" lengthAdjust="spacingAndGlyphs">-3.50</text>
<text x="208.8" y="819.85" font-size="8.59" textLength="20.96" lengthAdjust="spacingAndGlyphs">-3.45</text>
<text x="208.8" y="793.8" font-size="8.59" textLength="20.96" lengthAdjust="spacingAndGlyphs">-3.40</text>
<text x="208.8" y="767.75" font-size="8.59" textLength="20.96" lengthAdjust="spacingAndGlyphs">-3.35</text>
<text x="208.8" y="741.7" font-size="8.59" textLength="20.96" lengthAdjust="spacingAndGlyphs">-3.30</text>
<text x="237.2" y="817.3" font-size="8.6" text-anchor="middle" transform="rotate(-90 237.2 817.3)">log <tspan font-style="italic">q</tspan></text>
<clipPath id="cg549"><rect x="274.2" y="549.3" width="213.8" height="157.8"/></clipPath>
<g clip-path="url(#cg549)">
<path d="M274.2 568.87 L488 603.27 L488 680.59 L274.2 594.75Z" fill="#ff00ff" stroke-linejoin="round" fill-opacity="0.22"/>
<path d="M274.2 549.93 L488 651.55 L488 672.07 L274.2 563.5Z" fill="#555" stroke-linejoin="round" fill-opacity="0.3"/>
<defs><marker id="mc549" markerUnits="userSpaceOnUse" markerWidth="1" markerHeight="1" refX="0" refY="0" orient="0" overflow="visible"><path d="M-1.6 0h3.2" stroke="#999" stroke-width="0.7"/></marker></defs>
<path d="M400.1 576.2V652.8M380 593.5V641.7M351.6 536.7V619.1M376.4 509.3V621.7M334.7 503.4V627.6M376.7 573.3V635.6M354.7 547.1V632.8M343.8 570.7V627.4M394.5 605.7V659.1M319.9 539.4V598.9M355 580.2V639.5M377.6 594V638.5M319.5 519.8V602.9M351.9 550.4V597.8M335.9 520.9V603.2M368.3 569.3V656.6M372.8 539.1V620.6M398.3 547.5V642.9M371.7 588.3V634.8M366.4 528.9V655.8M389 572.2V650.3M338.6 502.2V634.8M363.2 533.1V644.1M371.7 556.2V611.9M380.6 552.5V646M362.2 548.4V593.2M320.9 553.3V624.4M400 572.4V667.6M337.9 530.8V591.5M326.9 525.4V620.8M380.6 589.9V640.1M334.4 566.4V616.8M405.2 598.7V673.2M379.2 547.5V703.7M356.5 543.1V636.3M324.2 506.8V587.3M331.2 569.9V616.8M373.5 555.5V612.8M356.6 578.2V625.6M340.7 540.4V594.5M343.1 528.7V605M394.5 548.1V599.7M362.9 561.6V678.2M395.2 598.1V672.1M398.4 571.1V625.5M388.5 496.1V620M401.7 536.1V644.8M355 539.1V587.3M362.6 560.9V608M343 528.7V615.6M366.5 535.7V661.8M367.3 549.8V631.7M397.7 558.7V649.9M319.7 516.8V628.3M369.6 554V635.5M346.5 539.8V600.9M362.2 555.3V629.2M402.6 566.6V645.2M355.7 547V612.3M355.5 541.1V601.8M330 532.7V580.2M371.1 538.7V650.7M401.2 570.8V675.2M385.8 585V634.3M398.3 518.3V671.8M318.5 490V620.3M365 551V654.6M321.3 492.3V562.8M335 546.1V591M389.7 549.2V610.5M364.9 584V631.5M371.8 562.3V610.8M405.7 591.4V652.5M333.6 559.3V610.1M349.7 544.5V639.4M353.8 552V613.9M361.8 560.9V620.1M341.7 555.1V612.2M339.1 543.9V596.7M394.2 586.1V649.1M343 530.5V620.2M383.8 571V636.5M335.5 532.6V601.9M374.2 590.8V679.5M392.5 526.5V685.5M331.5 526.6V608.7M367 543.2V670.2M324.2 506.5V569.1M377.6 565.6V636.9M368.7 520.5V639.3M379.6 574.7V646M388.6 573.5V620.1M323.6 519.2V639M346.7 544.4V592.9M330.8 521.5V631.2M394.8 579.9V660.3M318.7 532.9V597.4M319.4 523.1V604.6M373 517.8V668.9M320 527.1V607.2M335.5 564.5V658.1M396 558.5V642.1M332.6 526.9V631.5M394.6 587.5V686.7M323 525.3V609.2M341 558.9V615M386.5 557.7V635.4M322.2 550.8V606.5M344.5 557.3V609.1M395.1 577.9V670.1M346.8 525.3V604.9M384.2 549.7V666.3M375.1 560.6V623.5M361.6 563V630.2M349.4 513.3V665.7M350 586.9V642.8M331.4 517.3V664.3M383.7 583.2V632.4M393.8 557.4V661.6M324.9 480.6V628.5M367.4 560.8V649.7M390.8 548V654.9M363.5 547.2V631.5M372.2 565.7V660.9M395.3 582.9V674.6M333.1 532.6V580.8M375.6 518.4V621.7M320.4 525.4V605.9M334.7 533.9V588.5M323 500.1V583.4M323.1 507.2V650.1M323.8 534.2V595M332.7 537.2V620.9M399.6 555.9V653.3M339.3 549.7V632.3M356.3 530.7V649.3M399.6 617.8V672.7M384.7 599V662.9M376.8 553.5V645.3M338 552.4V636.4M390.2 550.2V655.3M333.2 554.9V601.3M365.1 543.6V620.6M404.5 550.5V652.3M399 574.5V630.7M337.5 541.8V618.5M319.1 502.3V604.1M400.1 591.2V658.7M388.6 556.4V644.3M403.9 581V713.4M346.8 557.9V608M340 534.6V635.2M396.8 612.2V661.1M385.4 584.8V660.9M367.1 532.7V610.9M323.8 543.1V594M332.2 451.3V621.1M403.4 553.8V672.1M400.4 597.9V661.5M388.4 526.2V659.4M330.4 526.3V627.2M381.1 559.6V616.3M355.8 538.6V654.4M333.7 514.7V641.8M357 523.3V635.6M361.4 561.3V629M317.6 514.1V612.8M387.6 580.4V635.9M320.6 535.5V609.6M369.7 550V670.2M364.6 537.6V605.1M372.3 569.2V620.7M403.3 560.7V709.1M382.8 578.7V637.6M366.7 550.6V626.6M391 557.5V605M373.4 562.7V627.3M324.5 498.1V633.9M338.3 542.8V630.8M384 552.5V623.9M398.3 577.7V687.5M350.1 529.9V620.9M361.4 554.7V641.9M383.1 543.8V639.4M322.8 523.7V606.8M381.3 556.5V658.5M343.9 494.8V647.4M356.5 522.7V634.1M381.8 578.4V635.6M405.2 575.9V679.3M338.1 564.4V622M357.4 566.5V629.1M374.2 595.9V650.9M318.4 504V596M323.4 516.7V606.5M399.7 623V669.6M356.7 536.7V637M373 564.7V651.1M375 580.6V673.5M325.8 555.6V610.2M390.5 588.1V647.1M358 545.4V631M364.6 508.4V628.2M349.5 515.2V614.6M378.9 563.8V624.3M371.7 587.8V654.5M326.3 552.5V610.5M353.7 496.9V677.3M344.6 500.1V650.9M394 612.3V673.8M351.9 512.4V624.4M361.7 553V622.7M379.7 537.8V668.7M340.5 485.7V636.7M405.3 592.9V675.1M345.3 570.5V616.9M329.6 554.2V611.5M334 542.6V610.3M340.8 539.7V648.4M365 573.5V640.7M359.8 577.2V634.1M396.3 549V690.3M335.5 511.8V603.4M390.3 545.5V700.8M334.7 572.2V626.6M330.8 535.9V612.1M353 515.7V675.7M397 622.4V680.4M366.8 543V668.4M351.8 519.1V671.4M387.7 590.4V672.1M397.8 645.4V683.5M406.7 620.1V687.9M405.4 599.8V677.6M385.1 574.3V661.4M405.3 628V672.8M388.2 596.9V668.1M392.6 609.4V666.2M391 598.3V684.2M385 626.7V664.1M393.7 623.6V657.1M393.9 649V714.3M401.9 608.9V693.3M384.8 608.6V688.3M384.7 594.5V626.5M402.1 649.9V683.7M406.5 627.8V687M405.8 638.1V677.4M387.8 603.6V687.8M406.2 639.6V674.5M381.6 609.7V649.1M405.6 627.7V686.3M404.8 640V680.3M405.6 636.2V727.8M402.5 617.8V674.5M402.5 618.2V709M358.3 598.6V629.2M350.1 574.3V600.9M329.3 573.8V607.8M400.9 612V662M358 603.5V632.7M333.6 573.9V596.1M372.4 603.4V651.3M336.3 582.6V617.8M368.1 597.8V620.4M387.3 595.2V633.5M339.1 567.5V623.1M324.7 555.2V599.4M386.3 612.7V637.8M366 602.5V636.5M355.8 578.4V608M337.8 570.2V617.1M334.1 570.7V611.6M363.9 598.1V618.4M376.3 601.6V645M332.4 583.3V616.9M393.4 623.7V648.4M323.4 565.4V603.4M338.8 567.2V607.7M359 588.9V620M387.7 580V630.7M366.9 587.5V628.6M379.7 586.5V635.5M330 563.1V613.2M388.4 620.1V639.4M347.3 571.8V619.1M344.2 585.1V628.1M371.2 584.4V610.4M346 588.2V607.4M324.8 572.2V615M326.4 582.2V602.4M332.5 564.6V609.1M344.7 596.6V622.3M324.4 565.9V605.9M368.4 584V610.4M385.2 591.7V640.7M374.6 600.4V656.7M345.8 571.3V620.5M326.8 575.3V617.4M401.1 611.6V655.7M325.2 555.3V601.6M344.8 572.8V624.6M341.4 596.6V620.6M333 573.7V630.5M366.5 603.1V627.5M386.2 574.9V629.6M346.9 573.9V613M400.7 618.9V639.8M333.1 603.1V625.6M371.7 588.4V640.5M339.4 575.3V629.6M399.3 631.3V650.7M353.8 580.1V627M400.5 608.6V664.3M364.3 616.7V637.8M346.9 581.4V630M401.2 601.4V642.8M357.7 567.6V624.2M327.8 568.2V594.8M394.3 619.9V649.3M376.5 603.6V630.1M370 611.7V633.1M374.1 616.9V640.1M324.4 574V619.6M373.8 599.3V628.6M363.7 582.7V633.6M362.7 584.8V638M387 611.7V659.9M342.3 588.4V615.9M384.7 601.6V624.2M379.3 598.3V639.2M382.3 597.6V631.4M375 577.1V609.2M333.8 565V619.9M365.3 588V634M395.3 601.3V634.6M383 593.2V633M391.7 598.7V652.7M327 570.6V623.9M371.7 587V631.4M355.9 584.7V623.1M343.2 560.5V598.6M358.1 591.3V614.1M342 563.1V607.9M364.4 605.2V635.5M335.2 589V619.3M402.2 599V645.5M362.4 599.6V635.5M397.9 574.8V629.6M378.2 606.5V629.8M350 583.5V624M391.6 602.4V646.5M337.3 582.9V618.5M393.6 592.5V643.5M396.6 599V640.1M350.1 590.5V622.6M400.2 606.2V644.9M382.8 595.1V624.9M350 590.9V612.9M398.7 612.1V639.4M373.4 573.8V623.6M324.9 556.1V610M341.1 591.6V623.9M399.7 597.1V641.9M392.5 576V631.2M378 575.5V595.1M354.6 591.3V635M371.6 578.9V633.9M377.3 589V641.7M378.2 603.7V628.4M325.5 564.8V612.5M373.9 581.2V626.6M400.5 613.9V652.3M349.7 575.7V605M364 598.5V650.5M367.6 590V614.9M400 592.9V646.7M344.5 581V624.2M376.8 588.2V619M341.7 576.9V623M332.1 571.4V601.1" fill="none" stroke="#999" stroke-width="0.8" marker-start="url(#mc549)" marker-mid="url(#mc549)" marker-end="url(#mc549)"/>
<defs><marker id="mo549" markerUnits="userSpaceOnUse" markerWidth="1" markerHeight="1" refX="0" refY="0" orient="0" overflow="visible"><circle r="1.6" fill="#b0b0b0" stroke="#1a1a1a" stroke-width="0.65"/></marker></defs>
<path d="M400.1 614.5L376.4 565.5L354.7 589.9L319.9 569.1L319.5 561.4L368.3 613L371.7 611.5L338.6 568.5L380.6 599.2L400 620L380.6 615L379.2 625.6L331.2 593.4L340.7 567.5L362.9 619.9L388.5 558L362.6 584.5L367.3 590.7L369.6 594.7L402.6 605.9L330 556.4L385.8 609.6L365 602.8L389.7 579.8L405.7 621.9L353.8 583L339.1 570.3L383.8 603.7L392.5 606L324.2 537.8L379.6 610.4L346.7 568.7L318.7 565.2L320 567.1L332.6 579.2L341 586.9L344.5 583.2L384.2 608L349.4 589.5L383.7 607.8L367.4 605.3L372.2 613.3L375.6 570.1L323 541.8L332.7 579L356.3 590L376.8 599.4L333.2 578.1L399 602.6L400.1 624.9L346.8 582.9L385.4 622.8L332.2 536.2L388.4 592.8L355.8 596.5L361.4 595.2L320.6 572.6L372.3 594.9L366.7 588.6L324.5 566L398.3 632.6L383.1 591.6L343.9 571.1L405.2 627.6L374.2 623.4L399.7 646.3L375 627L358 588.2L378.9 594L353.7 587.1L351.9 568.4L340.5 561.2L329.6 582.9L365 607.1L335.5 557.6L330.8 574L366.8 605.7L387.7 631.3L397.8 664.5L406.7 654L405.4 638.7L385.1 617.9L405.3 650.4L388.2 632.5L392.6 637.8L391 641.2L385 645.4L393.7 640.4L393.9 681.6L401.9 651.1L384.8 648.4L384.7 610.5L402.1 666.8L406.5 657.4L405.8 657.7L387.8 645.7L406.2 657L381.6 629.4L405.6 657L404.8 660.1L405.6 682L402.5 646.2L402.5 663.6" fill="none" stroke="none" marker-start="url(#mo549)" marker-mid="url(#mo549)" marker-end="url(#mo549)"/>
<defs><marker id="mq549" markerUnits="userSpaceOnUse" markerWidth="1" markerHeight="1" refX="0" refY="0" orient="0" overflow="visible"><circle r="1.7" fill="#e000e0" stroke="#222" stroke-width="0.55"/></marker></defs>
<path d="M358.3 613.9L350.1 587.6L329.3 590.8L400.9 637L358 618.1L333.6 585L372.4 627.4L336.3 600.2L368.1 609.1L387.3 614.3L339.1 595.3L324.7 577.3L386.3 625.3L366 619.5L355.8 593.2L337.8 593.7L334.1 591.1L363.9 608.3L376.3 623.3L332.4 600.1L393.4 636L323.4 584.4L338.8 587.4L359 604.5L387.7 605.3L366.9 608L379.7 611L330 588.2L388.4 629.7L347.3 595.5L344.2 606.6L371.2 597.4L346 597.8L324.8 593.6L326.4 592.3L332.5 586.9L344.7 609.5L324.4 585.9L368.4 597.2L385.2 616.2L374.6 628.5L345.8 595.9L326.8 596.4L401.1 633.7L325.2 578.5L344.8 598.7L341.4 608.6L333 602.1L366.5 615.3L386.2 602.2L346.9 593.5L400.7 629.4L333.1 614.4L371.7 614.4L339.4 602.5L399.3 641L353.8 603.5L400.5 636.5L364.3 627.2L346.9 605.7L401.2 622.1L357.7 595.9L327.8 581.5L394.3 634.6L376.5 616.8L370 622.4L374.1 628.5L324.4 596.8L373.8 614L363.7 608.1L362.7 611.4L387 635.8L342.3 602.1L384.7 612.9L379.3 618.7L382.3 614.5L375 593.1L333.8 592.5L365.3 611L395.3 618L383 613.1L391.7 625.7L327 597.2L371.7 609.2L355.9 603.9L343.2 579.5L358.1 602.7L342 585.5L364.4 620.3L335.2 604.1L402.2 622.3L362.4 617.5L397.9 602.2L378.2 618.1L350 603.8L391.6 624.4L337.3 600.7L393.6 618L396.6 619.6L350.1 606.6L400.2 625.5L382.8 610L350 601.9L398.7 625.8L373.4 598.7L324.9 583.1L341.1 607.8L399.7 619.5L392.5 603.6L378 585.3L354.6 613.2L371.6 606.4L377.3 615.4L378.2 616L325.5 588.7L373.9 603.9L400.5 633.1L349.7 590.4L364 624.5L367.6 602.4L400 619.8L344.5 602.6L376.8 603.6L341.7 599.9L332.1 586.2" fill="none" stroke="none" marker-start="url(#mq549)" marker-mid="url(#mq549)" marker-end="url(#mq549)"/>
<line x1="274.2" y1="555.3" x2="488" y2="665.13" stroke="#000" stroke-width="1.2"/>
<line x1="274.2" y1="580.86" x2="488" y2="643.98" stroke="#ff00ff" stroke-width="1.2"/>
</g>
<rect x="274.2" y="549.3" width="213.8" height="157.8" fill="none" stroke="#222" stroke-width="0.85"/>
<path d="M274.2 707.1v-4M274.2 549.3v4M316.96 707.1v-4M316.96 549.3v4M359.72 707.1v-4M359.72 549.3v4M402.48 707.1v-4M402.48 549.3v4M445.24 707.1v-4M445.24 549.3v4M488 707.1v-4M488 549.3v4M274.2 707.1v-2.6M274.2 549.3v2.6M282.75 707.1v-2.6M282.75 549.3v2.6M291.3 707.1v-2.6M291.3 549.3v2.6M299.86 707.1v-2.6M299.86 549.3v2.6M308.41 707.1v-2.6M308.41 549.3v2.6M316.96 707.1v-2.6M316.96 549.3v2.6M325.51 707.1v-2.6M325.51 549.3v2.6M334.06 707.1v-2.6M334.06 549.3v2.6M342.62 707.1v-2.6M342.62 549.3v2.6M351.17 707.1v-2.6M351.17 549.3v2.6M359.72 707.1v-2.6M359.72 549.3v2.6M368.27 707.1v-2.6M368.27 549.3v2.6M376.82 707.1v-2.6M376.82 549.3v2.6M385.38 707.1v-2.6M385.38 549.3v2.6M393.93 707.1v-2.6M393.93 549.3v2.6M402.48 707.1v-2.6M402.48 549.3v2.6M411.03 707.1v-2.6M411.03 549.3v2.6M419.58 707.1v-2.6M419.58 549.3v2.6M428.14 707.1v-2.6M428.14 549.3v2.6M436.69 707.1v-2.6M436.69 549.3v2.6M445.24 707.1v-2.6M445.24 549.3v2.6M453.79 707.1v-2.6M453.79 549.3v2.6M462.34 707.1v-2.6M462.34 549.3v2.6M470.9 707.1v-2.6M470.9 549.3v2.6M479.45 707.1v-2.6M479.45 549.3v2.6M488 707.1v-2.6M488 549.3v2.6M274.2 707.1h4M488 707.1h-4M274.2 643.98h4M488 643.98h-4M274.2 580.86h4M488 580.86h-4M274.2 707.1h2.6M488 707.1h-2.6M274.2 691.32h2.6M488 691.32h-2.6M274.2 675.54h2.6M488 675.54h-2.6M274.2 659.76h2.6M488 659.76h-2.6M274.2 643.98h2.6M488 643.98h-2.6M274.2 628.2h2.6M488 628.2h-2.6M274.2 612.42h2.6M488 612.42h-2.6M274.2 596.64h2.6M488 596.64h-2.6M274.2 580.86h2.6M488 580.86h-2.6M274.2 565.08h2.6M488 565.08h-2.6M274.2 549.3h2.6M488 549.3h-2.6" stroke="#000" stroke-width="0.9" fill="none"/>
<text x="274.2" y="715.6" font-size="8.59" textLength="5.15" lengthAdjust="spacingAndGlyphs" text-anchor="middle">0</text>
<text x="316.96" y="715.6" font-size="8.59" textLength="5.15" lengthAdjust="spacingAndGlyphs" text-anchor="middle">5</text>
<text x="359.72" y="715.6" font-size="8.59" textLength="10.31" lengthAdjust="spacingAndGlyphs" text-anchor="middle">10</text>
<text x="402.48" y="715.6" font-size="8.59" textLength="10.31" lengthAdjust="spacingAndGlyphs" text-anchor="middle">15</text>
<text x="445.24" y="715.6" font-size="8.59" textLength="10.31" lengthAdjust="spacingAndGlyphs" text-anchor="middle">20</text>
<text x="488" y="715.6" font-size="8.59" textLength="10.31" lengthAdjust="spacingAndGlyphs" text-anchor="middle">25</text>
<text x="271.7" y="710.6" font-size="8.59" textLength="12.88" lengthAdjust="spacingAndGlyphs" text-anchor="end">0.0</text>
<text x="271.7" y="647.48" font-size="8.59" textLength="12.88" lengthAdjust="spacingAndGlyphs" text-anchor="end">0.2</text>
<text x="271.7" y="584.36" font-size="8.59" textLength="12.88" lengthAdjust="spacingAndGlyphs" text-anchor="end">0.4</text>
<text x="381.1" y="546" font-size="8.59" textLength="78.23" lengthAdjust="spacingAndGlyphs" text-anchor="middle">Metallicity gradient</text>
<text x="381.1" y="725.7" font-size="8.59" textLength="50.34" lengthAdjust="spacingAndGlyphs" text-anchor="middle">Radius (kpc)</text>
<text x="257.6" y="628.3" font-size="8.6" text-anchor="middle" transform="rotate(-90 257.6 628.3)" textLength="65.63" lengthAdjust="spacingAndGlyphs">Metallicity [O/H]</text>
<rect x="275.2" y="559.3" width="144.4" height="10.2" rx="2" fill="#fff" stroke="#000" stroke-width="0.8"/>
<text x="277.6" y="566.7" font-size="7.53" textLength="140.65" lengthAdjust="spacingAndGlyphs">Tanh model of Stellar Disk velocity map</text>
<rect x="275.9" y="660" width="91.4" height="44.5" rx="2" fill="#fff" fill-opacity="0.8" stroke="#d0d0d0" stroke-width="0.8"/>
<rect x="280.1" y="663.4" width="14.8" height="5" fill="#bdbdbd" stroke="none" stroke-width="1"/>
<rect x="280.1" y="673.8" width="14.8" height="5" fill="#ffc4ff" stroke="none" stroke-width="1"/>
<text x="300.4" y="668.6" font-size="7.53" textLength="31.58" lengthAdjust="spacingAndGlyphs">Linear fit</text>
<text x="300.4" y="679.1" font-size="7.53" textLength="49.82" lengthAdjust="spacingAndGlyphs">Linear fit (QA)</text>
<line x1="287.5" y1="682.8" x2="287.5" y2="690.4" stroke="#888" stroke-width="0.8"/>
<line x1="284.9" y1="682.8" x2="290.1" y2="682.8" stroke="#888" stroke-width="0.8"/>
<line x1="284.9" y1="690.4" x2="290.1" y2="690.4" stroke="#888" stroke-width="0.8"/>
<circle cx="287.5" cy="686.6" r="1.7" fill="#b0b0b0" stroke="#222" stroke-width="0.6"/>
<text x="300.4" y="689.2" font-size="7.53" textLength="51.69" lengthAdjust="spacingAndGlyphs">MaNGa  (data)</text>
<line x1="287.5" y1="693.4" x2="287.5" y2="701" stroke="#888" stroke-width="0.8"/>
<line x1="284.9" y1="693.4" x2="290.1" y2="693.4" stroke="#888" stroke-width="0.8"/>
<line x1="284.9" y1="701" x2="290.1" y2="701" stroke="#888" stroke-width="0.8"/>
<circle cx="287.5" cy="697.2" r="1.7" fill="#e000e0" stroke="#222" stroke-width="0.6"/>
<text x="300.4" y="699.8" font-size="7.53" textLength="64.39" lengthAdjust="spacingAndGlyphs">MaNGa  (data) QA</text>
<clipPath id="cg738"><rect x="274.2" y="738.4" width="213.8" height="157.9"/></clipPath>
<g clip-path="url(#cg738)">
<path d="M274.2 837.65 L488 860.21 L488 869.23 L274.2 842.16Z" fill="#ff00ff" stroke-linejoin="round" fill-opacity="0.22"/>
<path d="M274.2 840.36 L488 853.44 L488 857.95 L274.2 843.97Z" fill="#555" stroke-linejoin="round" fill-opacity="0.3"/>
<defs><marker id="mc738" markerUnits="userSpaceOnUse" markerWidth="1" markerHeight="1" refX="0" refY="0" orient="0" overflow="visible"><path d="M-1.6 0h3.2" stroke="#999" stroke-width="0.7"/></marker></defs>
<path d="M397.1 842V846.5M376.9 839.7V849.2M370.7 849.4V853.1M382 840.2V849.3M345.1 842.5V846.9M411 847V854.7M397.8 840.2V847.7M382 846.9V854.8M403.7 849.9V854.8M395.7 843.1V852.2M401.1 846.4V853.6M354.2 843.4V852.1M352.2 845.2V853.8M392.4 840.4V850M409.3 845.2V850.1M317.3 846.6V856.1M325 844V847.8M342.3 840.7V849.4M404.3 845V851.3M341.3 843.5V848.5M393.1 848.4V858.3M386.6 845V852M329.2 845.1V849.5M374 843.3V849.6M384 844.1V849.1M368.1 841.1V851M363 844.8V853.4M343.5 838.4V846.1M409.3 842.8V851.8M342 841.4V846.2M340 840.6V850.2M400.9 850V854.9M390.5 843.8V850.6M344.1 846.2V850.5M336.7 838.6V845.8M350.8 841.6V848.2M389.6 843.8V849.3M345.6 839.6V844.8M399 843.9V851.9M361.2 843.7V852.9M395.9 840.8V849.1M333.2 842.4V847.6M384.5 845.9V849.8M390.3 845V854.1M332.5 837.1V845.1M319.4 839.5V848.8M358.1 836.4V843.7M325.5 841.6V847M349.7 845.3V853.7M367.7 841.1V850.5M407.4 843.4V852.8M349.1 836.2V842.9M389.9 847.5V854.7M361.6 843.4V850.2M352.2 842V848.3M407.3 842.7V848.9M342.7 841.9V850.1M400.2 843.8V851.7M348.2 841.9V847.7M366.7 838.1V846.8M377.3 842.1V847.5M318 836.9V843.8M317.9 837.2V846.2M343.4 841.8V846M346.5 841V849.8M339 846.4V854.4M320.4 843.3V851.4M328.3 833.6V840.8M339.5 841.3V848.3M379.4 847.2V855M378.2 841.3V848.8M321.1 837.1V843.6M390.7 841.3V850.1M345.6 837.4V847.2M380.3 847.8V852.5M346 842V847.6M320.5 842.6V850.2M334 844.5V848.2M398.1 848.7V857.1M390.5 845.6V854.5M355.5 842V850.4M331 844.3V851.7M352.8 842.1V846.9M390.7 844.2V849.8M335.3 842.2V850.9M362.2 838V845.8M395.6 845.9V850.2M329.8 839.2V844M363.9 841.9V847.7M369 838.8V845.4M403.4 850V854.9M344.7 839.1V847.2M410 849.5V859.3M400.8 842.6V851.4M393 848.8V853.4M379.6 843.2V848.3M319.6 838.4V846.1M403.2 843.2V848.5M394.7 840.9V850.5M338.6 837.1V842.7M385.5 845.8V852M319 840.5V848.2M321.5 844.4V849.4M381.5 841.4V848.2M396.8 841V847.3M330.2 836.7V843.3M396.9 847.6V855.9M408.9 850.6V854.7M342.3 836.2V846M397.3 847.3V854.9M396.3 846.3V854.1M330 840.7V846.2M383.3 841.4V847.1M335.9 840V849.7M318 840.4V848.8M372.2 841.8V850.1M376.6 840.6V849.8M319 841.3V851M369.3 843.2V852.7M371 843.5V848.5M376.8 845V854.1M390.9 846V849.8M379.8 848.7V854.8M378.8 840.7V845.8M383.7 843.5V848.2M348.1 841.1V849.4M407.5 843.1V849.6M397.3 847.5V854.8M402.7 842.2V848.8M379 838.7V846.5M317.7 839.2V846.3M354.7 840.8V846.5M401.7 844.4V850M389.3 849.3V853.5M401.3 846.2V854.1M352.3 842.2V846.6M411 844.3V849.4M318.1 842.5V850M330.3 843.1V848.7M406 846V855.8M351.1 841.8V847.7M375.3 841.9V846.2M322.6 837.7V845.9M394.3 847.3V853M355.9 846.1V850.8M365.3 844.4V850M384 844.5V850.7M337.3 842.9V850.5M380.2 843V852M403.2 843.4V852.4M366.7 844.9V854.3M323.7 839.3V844.6M398.6 844.1V853M409.7 842.5V850.5M324.5 836.7V841.9M359.8 844.5V852.1M317.7 838.1V843.5M341.7 842.7V849.6M366.3 840V848.9M357.2 848.9V852.9M347.3 845.7V854.7M410 845.9V853.3M359.5 849.7V853.4M388.5 847.8V852.4M356.6 838.3V845.7M350.8 843.8V847.9M408.2 844.1V853.4M319.7 838.6V845.9M348.5 835V842.7M350.7 840.2V845.3M340.6 847.2V856.1M319.4 836.5V842.1M388.2 842.9V846.8M329.2 843.6V848.8M382.8 847.8V856.6M347.2 842V850.1M396.2 846.5V853.9M357.7 840.7V850M388.7 840.8V850.1M325 840V846.2M361.8 848.3V855.3M392 834.1V843.4M324.4 843.6V848.2M399.8 852.4V856.8M380.5 843.5V853.3M392.5 850V854.6M380.1 841.3V846.3M394 846.1V854.3M330.6 849.3V853.1M348 838.1V844.1M380.1 841.8V851.7M345.7 847.5V855M333.4 849.2V857.2M329.5 840.4V846M392.3 843V849.8M351.6 844.3V848.2M376.7 841.1V849.5M336.1 837.8V844.2M354.2 840.4V849.3M372.7 840.9V848.3M384.1 841.1V845.4M339.6 842.3V847.9M331.6 839.9V847.6M361.1 847.5V852.2M320.6 841.2V850.4M379.1 845.8V855M328.8 838.8V843.4M381.3 843.4V847.9M325.6 839.1V843.6M365.1 841.9V849.3M373.2 835.5V840.8M357.4 845.2V849.7M321.5 843V847.3M319.1 842.2V846.3M357.5 842.8V846.8M326.6 842.5V848.9M371.7 846V851M326.7 836.7V842M317.3 845.5V849.6M338.6 844.5V852.1M367.9 843.7V847.7M352.6 839V844.4M365.6 843.7V848M366.6 845.2V853.8M320.5 840.6V846.6M403.7 848.2V856.1M388.8 850.6V855.8M390.7 848.4V856.6M392.5 846.2V849.8M353.4 841.7V850.8M322 839V846M342.2 839V845M317.8 849.1V853.8M372.4 841.5V848.2M321.9 834.1V838M368.3 840.1V844.7M359.1 846V849.7M339.1 837.3V846M410.4 848.6V857.5M398.4 849.4V856.8M347.2 838.8V845M375 845.8V852.7M384.4 844.5V849M382.1 838.8V845.5M323.6 827.4V837.3M384.4 845.2V854.9M390.1 850.2V859M400 843.5V849.4M385.3 839V845.5M401.8 849.5V854.9M341.4 843.6V850.5M406.8 846.9V852.7M326.1 845.1V853.8M385.6 842.1V847.2M322 834.7V838.7M385.4 845.8V850M396.1 844.8V853.7M338.9 837V846.6M324.3 840V845.9M360.7 845.8V852.2M326.9 840.2V845.6M396.6 858.6V862.4M363.2 850.9V857.5M385.3 853.1V858.7M385.6 848.5V856.4M358.6 847.1V853.7M382.9 848.7V856.5M404.9 854V858.4M359.6 841.8V849.7M326.7 839.8V847.8M393.1 847.7V851.9M403.2 852V857.3M322 844.3V849.2M321.3 839.1V847M377.1 851V856.1M327.8 843.5V851.3M379.3 849.1V856.2M401.5 856.5V860.4M384.4 845.5V851.3M320.2 839.8V843.7M402.8 851.8V858.5M386 851.4V856.6M396.9 848V854.2M386.4 852.2V857.7M363.9 848.1V852M369.5 845.4V850.9M393.3 849.6V853.4M325.2 842.5V849.7M383.2 853.6V857.7M354.7 843.6V850.9M393.7 844.3V851.1M344.2 842.5V849M328.3 845.3V850.6M396 849V855.1M335.1 841.6V849.5M410.1 849.1V857M377.6 847.5V854.7M355.3 843V846.8M399.8 852.1V860M325.4 833.5V840.2M334 843.6V849.7M360 845.1V850.5M397.9 846.9V853.4M378.1 851.6V857.5M325.8 838V843.9M392.4 848.8V853.3M407.3 858V863.2M337.9 845.8V853.3M382.3 846.5V854.1M398.1 850.3V855.9M398.9 847.3V853.6M381.1 851.6V858.5M410.1 857.5V862.7M384.8 851.9V857.4M323.9 839.6V844M393.4 846.7V850.6M318.3 843.4V849.4M376.4 849.2V856.9M343.1 845.9V851.1M352.5 841.8V849.7M389.3 846.3V852.8M396.8 849V853.2M376.5 848.8V853.1M380.6 845.3V852.1M377.8 843.8V850.1M376.4 847.3V851.4M377.2 847.7V852.6M323.6 839.3V846.3M327 841.9V847.9M340.5 845V850.6" fill="none" stroke="#999" stroke-width="0.8" marker-start="url(#mc738)" marker-mid="url(#mc738)" marker-end="url(#mc738)"/>
<defs><marker id="mo738" markerUnits="userSpaceOnUse" markerWidth="1" markerHeight="1" refX="0" refY="0" orient="0" overflow="visible"><circle r="1.6" fill="#b0b0b0" stroke="#1a1a1a" stroke-width="0.65"/></marker></defs>
<path d="M397.1 844.3L376.9 844.5L370.7 851.2L382 844.7L345.1 844.7L411 850.9L397.8 843.9L382 850.9L403.7 852.4L395.7 847.7L401.1 850L354.2 847.8L352.2 849.5L392.4 845.2L409.3 847.6L317.3 851.3L325 845.9L342.3 845L404.3 848.1L341.3 846L393.1 853.4L386.6 848.5L329.2 847.3L374 846.5L384 846.6L368.1 846.1L363 849.1L343.5 842.2L409.3 847.3L342 843.8L340 845.4L400.9 852.5L390.5 847.2L344.1 848.3L336.7 842.2L350.8 844.9L389.6 846.5L345.6 842.2L399 847.9L361.2 848.3L395.9 844.9L333.2 845L384.5 847.8L390.3 849.5L332.5 841.1L319.4 844.1L358.1 840.1L325.5 844.3L349.7 849.5L367.7 845.8L407.4 848.1L349.1 839.6L389.9 851.1L361.6 846.8L352.2 845.1L407.3 845.8L342.7 846L400.2 847.7L348.2 844.8L366.7 842.4L377.3 844.8L318 840.3L317.9 841.7L343.4 843.9L346.5 845.4L339 850.4L320.4 847.4L328.3 837.2L339.5 844.8L379.4 851.1L378.2 845L321.1 840.4L390.7 845.7L345.6 842.3L380.3 850.2L346 844.8L320.5 846.4L334 846.4L398.1 852.9L390.5 850L355.5 846.2L331 848L352.8 844.5L390.7 847L335.3 846.5L362.2 841.9L395.6 848.1L329.8 841.6L363.9 844.8L369 842.1L403.4 852.5L344.7 843.2L410 854.4L400.8 847L393 851.1L379.6 845.7L319.6 842.2L403.2 845.9L394.7 845.7L338.6 839.9L385.5 848.9L319 844.4L321.5 846.9L381.5 844.8L396.8 844.2L330.2 840L396.9 851.7L408.9 852.7L342.3 841.1L397.3 851.1L396.3 850.2L330 843.5L383.3 844.3L335.9 844.9L318 844.6L372.2 846L376.6 845.2L319 846.2L369.3 848L371 846L376.8 849.6L390.9 847.9L379.8 851.8L378.8 843.3L383.7 845.9L348.1 845.2L407.5 846.4L397.3 851.1L402.7 845.5L379 842.6L317.7 842.7L354.7 843.6L401.7 847.2L389.3 851.4L401.3 850.1L352.3 844.4L411 846.8L318.1 846.2L330.3 845.9L406 850.9L351.1 844.7L375.3 844L322.6 841.8L394.3 850.1L355.9 848.4L365.3 847.2L384 847.6L337.3 846.7L380.2 847.5L403.2 847.9L366.7 849.6L323.7 842L398.6 848.5L409.7 846.5L324.5 839.3L359.8 848.3L317.7 840.8L341.7 846.2L366.3 844.5L357.2 850.9L347.3 850.2L410 849.6L359.5 851.5L388.5 850.1L356.6 842L350.8 845.9L408.2 848.7L319.7 842.3L348.5 838.8L350.7 842.8L340.6 851.7L319.4 839.3L388.2 844.9L329.2 846.2L382.8 852.2L347.2 846.1L396.2 850.2L357.7 845.4L388.7 845.4L325 843.1L361.8 851.8L392 838.8L324.4 845.9L399.8 854.6L380.5 848.4L392.5 852.3L380.1 843.8L394 850.2L330.6 851.2L348 841.1L380.1 846.8L345.7 851.2L333.4 853.2L329.5 843.2L392.3 846.4L351.6 846.2L376.7 845.3L336.1 841L354.2 844.8L372.7 844.6L384.1 843.3L339.6 845.1L331.6 843.7L361.1 849.9L320.6 845.8L379.1 850.4L328.8 841.1L381.3 845.7L325.6 841.4L365.1 845.6L373.2 838.1L357.4 847.4L321.5 845.1L319.1 844.3L357.5 844.8L326.6 845.7L371.7 848.5L326.7 839.4L317.3 847.5L338.6 848.3L367.9 845.7L352.6 841.7L365.6 845.8L366.6 849.5L320.5 843.6L403.7 852.2L388.8 853.2L390.7 852.5L392.5 848L353.4 846.3L322 842.5L342.2 842L317.8 851.5L372.4 844.9L321.9 836L368.3 842.4L359.1 847.8L339.1 841.7L410.4 853L398.4 853.1L347.2 841.9L375 849.3L384.4 846.8L382.1 842.2L323.6 832.3L384.4 850L390.1 854.6L400 846.4L385.3 842.2L401.8 852.2L341.4 847L406.8 849.8L326.1 849.4L385.6 844.6L322 836.7L385.4 847.9L396.1 849.2L338.9 841.8L324.3 843L360.7 849" fill="none" stroke="none" marker-start="url(#mo738)" marker-mid="url(#mo738)" marker-end="url(#mo738)"/>
<defs><marker id="mq738" markerUnits="userSpaceOnUse" markerWidth="1" markerHeight="1" refX="0" refY="0" orient="0" overflow="visible"><circle r="1.7" fill="#e000e0" stroke="#222" stroke-width="0.55"/></marker></defs>
<path d="M326.9 842.9L396.6 860.5L363.2 854.2L385.3 855.9L385.6 852.4L358.6 850.4L382.9 852.6L404.9 856.2L359.6 845.7L326.7 843.8L393.1 849.8L403.2 854.6L322 846.8L321.3 843.1L377.1 853.6L327.8 847.4L379.3 852.7L401.5 858.4L384.4 848.4L320.2 841.8L402.8 855.2L386 854L396.9 851.1L386.4 854.9L363.9 850.1L369.5 848.1L393.3 851.5L325.2 846.1L383.2 855.7L354.7 847.3L393.7 847.7L344.2 845.8L328.3 847.9L396 852.1L335.1 845.5L410.1 853L377.6 851.1L355.3 844.9L399.8 856.1L325.4 836.8L334 846.7L360 847.8L397.9 850.2L378.1 854.5L325.8 841L392.4 851.1L407.3 860.6L337.9 849.5L382.3 850.3L398.1 853.1L398.9 850.5L381.1 855L410.1 860.1L384.8 854.7L323.9 841.8L393.4 848.7L318.3 846.4L376.4 853.1L343.1 848.5L352.5 845.8L389.3 849.6L396.8 851.1L376.5 850.9L380.6 848.7L377.8 847L376.4 849.3L377.2 850.2L323.6 842.8L327 844.9L340.5 847.8" fill="none" stroke="none" marker-start="url(#mq738)" marker-mid="url(#mq738)" marker-end="url(#mq738)"/>
<line x1="274.2" y1="842.16" x2="488" y2="855.7" stroke="#000" stroke-width="1.2"/>
<line x1="274.2" y1="839.91" x2="488" y2="864.72" stroke="#ff00ff" stroke-width="1.2"/>
</g>
<rect x="274.2" y="738.4" width="213.8" height="157.9" fill="none" stroke="#222" stroke-width="0.85"/>
<path d="M274.2 896.3v-4M274.2 738.4v4M316.96 896.3v-4M316.96 738.4v4M359.72 896.3v-4M359.72 738.4v4M402.48 896.3v-4M402.48 738.4v4M445.24 896.3v-4M445.24 738.4v4M488 896.3v-4M488 738.4v4M274.2 896.3v-2.6M274.2 738.4v2.6M282.75 896.3v-2.6M282.75 738.4v2.6M291.3 896.3v-2.6M291.3 738.4v2.6M299.86 896.3v-2.6M299.86 738.4v2.6M308.41 896.3v-2.6M308.41 738.4v2.6M316.96 896.3v-2.6M316.96 738.4v2.6M325.51 896.3v-2.6M325.51 738.4v2.6M334.06 896.3v-2.6M334.06 738.4v2.6M342.62 896.3v-2.6M342.62 738.4v2.6M351.17 896.3v-2.6M351.17 738.4v2.6M359.72 896.3v-2.6M359.72 738.4v2.6M368.27 896.3v-2.6M368.27 738.4v2.6M376.82 896.3v-2.6M376.82 738.4v2.6M385.38 896.3v-2.6M385.38 738.4v2.6M393.93 896.3v-2.6M393.93 738.4v2.6M402.48 896.3v-2.6M402.48 738.4v2.6M411.03 896.3v-2.6M411.03 738.4v2.6M419.58 896.3v-2.6M419.58 738.4v2.6M428.14 896.3v-2.6M428.14 738.4v2.6M436.69 896.3v-2.6M436.69 738.4v2.6M445.24 896.3v-2.6M445.24 738.4v2.6M453.79 896.3v-2.6M453.79 738.4v2.6M462.34 896.3v-2.6M462.34 738.4v2.6M470.9 896.3v-2.6M470.9 738.4v2.6M479.45 896.3v-2.6M479.45 738.4v2.6M488 896.3v-2.6M488 738.4v2.6M274.2 873.74h4M488 873.74h-4M274.2 828.63h4M488 828.63h-4M274.2 783.51h4M488 783.51h-4M274.2 738.4h4M488 738.4h-4M274.2 896.3h2.6M488 896.3h-2.6M274.2 885.02h2.6M488 885.02h-2.6M274.2 873.74h2.6M488 873.74h-2.6M274.2 862.46h2.6M488 862.46h-2.6M274.2 851.19h2.6M488 851.19h-2.6M274.2 839.91h2.6M488 839.91h-2.6M274.2 828.63h2.6M488 828.63h-2.6M274.2 817.35h2.6M488 817.35h-2.6M274.2 806.07h2.6M488 806.07h-2.6M274.2 794.79h2.6M488 794.79h-2.6M274.2 783.51h2.6M488 783.51h-2.6M274.2 772.24h2.6M488 772.24h-2.6M274.2 760.96h2.6M488 760.96h-2.6M274.2 749.68h2.6M488 749.68h-2.6M274.2 738.4h2.6M488 738.4h-2.6" stroke="#000" stroke-width="0.9" fill="none"/>
<text x="274.2" y="904.8" font-size="8.59" textLength="5.15" lengthAdjust="spacingAndGlyphs" text-anchor="middle">0</text>
<text x="316.96" y="904.8" font-size="8.59" textLength="5.15" lengthAdjust="spacingAndGlyphs" text-anchor="middle">5</text>
<text x="359.72" y="904.8" font-size="8.59" textLength="10.31" lengthAdjust="spacingAndGlyphs" text-anchor="middle">10</text>
<text x="402.48" y="904.8" font-size="8.59" textLength="10.31" lengthAdjust="spacingAndGlyphs" text-anchor="middle">15</text>
<text x="445.24" y="904.8" font-size="8.59" textLength="10.31" lengthAdjust="spacingAndGlyphs" text-anchor="middle">20</text>
<text x="488" y="904.8" font-size="8.59" textLength="10.31" lengthAdjust="spacingAndGlyphs" text-anchor="middle">25</text>
<text x="271.7" y="877.24" font-size="8.59" textLength="11.94" lengthAdjust="spacingAndGlyphs" text-anchor="end">−4</text>
<text x="271.7" y="832.13" font-size="8.59" textLength="11.94" lengthAdjust="spacingAndGlyphs" text-anchor="end">−3</text>
<text x="271.7" y="787.01" font-size="8.59" textLength="11.94" lengthAdjust="spacingAndGlyphs" text-anchor="end">−2</text>
<text x="271.7" y="741.9" font-size="8.59" textLength="11.94" lengthAdjust="spacingAndGlyphs" text-anchor="end">−1</text>
<text x="381.1" y="735.1" font-size="8.59" textLength="115.91" lengthAdjust="spacingAndGlyphs" text-anchor="middle">Ioniztion Parameter gradient</text>
<text x="381.1" y="914.9" font-size="8.59" textLength="50.34" lengthAdjust="spacingAndGlyphs" text-anchor="middle">Radius (kpc)</text>
<text x="257.6" y="817" font-size="8.6" text-anchor="middle" transform="rotate(-90 257.6 817)" textLength="108.17" lengthAdjust="spacingAndGlyphs">Ioniztion Parameter (log <tspan font-style="italic">q</tspan>)</text>
<rect x="275.2" y="747.4" width="144.4" height="10.2" rx="2" fill="#fff" stroke="#000" stroke-width="0.8"/>
<text x="277.6" y="754.8" font-size="7.53" textLength="140.65" lengthAdjust="spacingAndGlyphs">Tanh model of Stellar Disk velocity map</text>
<rect x="275.9" y="848.3" width="89" height="44.5" rx="2" fill="#fff" fill-opacity="0.8" stroke="#d0d0d0" stroke-width="0.8"/>
<rect x="280.1" y="851.7" width="14.8" height="5" fill="#bdbdbd" stroke="none" stroke-width="1"/>
<rect x="280.1" y="862.1" width="14.8" height="5" fill="#ffc4ff" stroke="none" stroke-width="1"/>
<text x="300.4" y="856.9" font-size="7.53" textLength="32.65" lengthAdjust="spacingAndGlyphs">Linear Fit</text>
<text x="300.4" y="867.4" font-size="7.53" textLength="50.89" lengthAdjust="spacingAndGlyphs">Linear Fit (QA)</text>
<line x1="287.5" y1="871.1" x2="287.5" y2="878.7" stroke="#888" stroke-width="0.8"/>
<line x1="284.9" y1="871.1" x2="290.1" y2="871.1" stroke="#888" stroke-width="0.8"/>
<line x1="284.9" y1="878.7" x2="290.1" y2="878.7" stroke="#888" stroke-width="0.8"/>
<circle cx="287.5" cy="874.9" r="1.7" fill="#b0b0b0" stroke="#222" stroke-width="0.6"/>
<text x="300.4" y="877.5" font-size="7.53" textLength="49.43" lengthAdjust="spacingAndGlyphs">MaNGa (data)</text>
<line x1="287.5" y1="881.7" x2="287.5" y2="889.3" stroke="#888" stroke-width="0.8"/>
<line x1="284.9" y1="881.7" x2="290.1" y2="881.7" stroke="#888" stroke-width="0.8"/>
<line x1="284.9" y1="889.3" x2="290.1" y2="889.3" stroke="#888" stroke-width="0.8"/>
<circle cx="287.5" cy="885.5" r="1.7" fill="#e000e0" stroke="#222" stroke-width="0.6"/>
<text x="300.4" y="888.1" font-size="7.53" textLength="62.13" lengthAdjust="spacingAndGlyphs">MaNGa (data) QA</text>
<clipPath id="cc549"><rect x="531.4" y="549.3" width="213.9" height="157.8"/></clipPath>
<g clip-path="url(#cc549)">
<line x1="615.5" y1="549.3" x2="615.5" y2="707.1" stroke="#777" stroke-width="1" stroke-dasharray="3.5 2"/>
<path d="M531.4 632.93 L650.23 707.1 L570.4 707.1 L531.4 637.67Z" fill="#ffc4ff" stroke-linejoin="round"/>
<path d="M531.4 630.57 L575.28 707.1 L566.75 707.1 L531.4 633.72Z" fill="#888" stroke-linejoin="round" fill-opacity="0.45"/>
<path d="M534.45 637.67 L535.67 641.61 L536.88 643.19 L538.1 645.56 L539.32 648.71 L540.54 644.77" fill="none" stroke="#777" stroke-width="1.4" stroke-linejoin="round"/>
<line x1="534.45" y1="641.61" x2="534.45" y2="633.72" stroke="#888" stroke-width="0.9"/>
<line x1="535.67" y1="646.35" x2="535.67" y2="636.88" stroke="#888" stroke-width="0.9"/>
<line x1="536.88" y1="647.14" x2="536.88" y2="639.25" stroke="#888" stroke-width="0.9"/>
<line x1="538.1" y1="651.08" x2="538.1" y2="640.03" stroke="#888" stroke-width="0.9"/>
<line x1="539.32" y1="656.6" x2="539.32" y2="640.82" stroke="#888" stroke-width="0.9"/>
<line x1="540.54" y1="649.5" x2="540.54" y2="640.03" stroke="#888" stroke-width="0.9"/>
</g>
<line x1="692.28" y1="630.57" x2="692.28" y2="583.23" stroke="#000" stroke-width="1.3"/>
<line x1="689.28" y1="630.57" x2="695.28" y2="630.57" stroke="#000" stroke-width="1.3"/>
<line x1="689.28" y1="583.23" x2="695.28" y2="583.23" stroke="#000" stroke-width="1.3"/>
<circle cx="692.28" cy="606.9" r="3.6" fill="#e8000b" stroke="#000" stroke-width="0.8"/>
<line x1="697.52" y1="675.54" x2="697.52" y2="565.08" stroke="#000" stroke-width="1.3"/>
<line x1="694.52" y1="675.54" x2="700.52" y2="675.54" stroke="#000" stroke-width="1.3"/>
<line x1="694.52" y1="565.08" x2="700.52" y2="565.08" stroke="#000" stroke-width="1.3"/>
<rect x="695.12" y="610.02" width="4.8" height="4.8" fill="#1f77b4" stroke="none" stroke-width="1"/>
<line x1="700.81" y1="643.98" x2="700.81" y2="596.64" stroke="#000" stroke-width="1.3"/>
<line x1="697.81" y1="643.98" x2="703.81" y2="643.98" stroke="#000" stroke-width="1.3"/>
<line x1="697.81" y1="596.64" x2="703.81" y2="596.64" stroke="#000" stroke-width="1.3"/>
<rect x="698.41" y="617.91" width="4.8" height="4.8" fill="#2ca02c" stroke="none" stroke-width="1"/>
<line x1="704.47" y1="630.57" x2="704.47" y2="572.18" stroke="#000" stroke-width="1.3"/>
<line x1="701.47" y1="630.57" x2="707.47" y2="630.57" stroke="#000" stroke-width="1.3"/>
<line x1="701.47" y1="572.18" x2="707.47" y2="572.18" stroke="#000" stroke-width="1.3"/>
<rect x="702.07" y="597.4" width="4.8" height="4.8" fill="#9467bd" stroke="none" stroke-width="1"/>
<rect x="531.4" y="549.3" width="213.9" height="157.8" fill="none" stroke="#222" stroke-width="0.85"/>
<path d="M531.4 707.1v-4M531.4 549.3v4M561.87 707.1v-4M561.87 549.3v4M592.34 707.1v-4M592.34 549.3v4M622.81 707.1v-4M622.81 549.3v4M653.28 707.1v-4M653.28 549.3v4M683.75 707.1v-4M683.75 549.3v4M714.22 707.1v-4M714.22 549.3v4M744.69 707.1v-4M744.69 549.3v4M531.4 707.1v-2.6M531.4 549.3v2.6M537.49 707.1v-2.6M537.49 549.3v2.6M543.59 707.1v-2.6M543.59 549.3v2.6M549.68 707.1v-2.6M549.68 549.3v2.6M555.78 707.1v-2.6M555.78 549.3v2.6M561.87 707.1v-2.6M561.87 549.3v2.6M567.96 707.1v-2.6M567.96 549.3v2.6M574.06 707.1v-2.6M574.06 549.3v2.6M580.15 707.1v-2.6M580.15 549.3v2.6M586.25 707.1v-2.6M586.25 549.3v2.6M592.34 707.1v-2.6M592.34 549.3v2.6M598.43 707.1v-2.6M598.43 549.3v2.6M604.53 707.1v-2.6M604.53 549.3v2.6M610.62 707.1v-2.6M610.62 549.3v2.6M616.72 707.1v-2.6M616.72 549.3v2.6M622.81 707.1v-2.6M622.81 549.3v2.6M628.9 707.1v-2.6M628.9 549.3v2.6M635 707.1v-2.6M635 549.3v2.6M641.09 707.1v-2.6M641.09 549.3v2.6M647.19 707.1v-2.6M647.19 549.3v2.6M653.28 707.1v-2.6M653.28 549.3v2.6M659.37 707.1v-2.6M659.37 549.3v2.6M665.47 707.1v-2.6M665.47 549.3v2.6M671.56 707.1v-2.6M671.56 549.3v2.6M677.66 707.1v-2.6M677.66 549.3v2.6M683.75 707.1v-2.6M683.75 549.3v2.6M689.84 707.1v-2.6M689.84 549.3v2.6M695.94 707.1v-2.6M695.94 549.3v2.6M702.03 707.1v-2.6M702.03 549.3v2.6M708.13 707.1v-2.6M708.13 549.3v2.6M714.22 707.1v-2.6M714.22 549.3v2.6M720.31 707.1v-2.6M720.31 549.3v2.6M726.41 707.1v-2.6M726.41 549.3v2.6M732.5 707.1v-2.6M732.5 549.3v2.6M738.6 707.1v-2.6M738.6 549.3v2.6M744.69 707.1v-2.6M744.69 549.3v2.6M531.4 707.1h4M745.3 707.1h-4M531.4 667.65h4M745.3 667.65h-4M531.4 628.2h4M745.3 628.2h-4M531.4 588.75h4M745.3 588.75h-4M531.4 549.3h4M745.3 549.3h-4M531.4 707.1h2.6M745.3 707.1h-2.6M531.4 699.21h2.6M745.3 699.21h-2.6M531.4 691.32h2.6M745.3 691.32h-2.6M531.4 683.43h2.6M745.3 683.43h-2.6M531.4 675.54h2.6M745.3 675.54h-2.6M531.4 667.65h2.6M745.3 667.65h-2.6M531.4 659.76h2.6M745.3 659.76h-2.6M531.4 651.87h2.6M745.3 651.87h-2.6M531.4 643.98h2.6M745.3 643.98h-2.6M531.4 636.09h2.6M745.3 636.09h-2.6M531.4 628.2h2.6M745.3 628.2h-2.6M531.4 620.31h2.6M745.3 620.31h-2.6M531.4 612.42h2.6M745.3 612.42h-2.6M531.4 604.53h2.6M745.3 604.53h-2.6M531.4 596.64h2.6M745.3 596.64h-2.6M531.4 588.75h2.6M745.3 588.75h-2.6M531.4 580.86h2.6M745.3 580.86h-2.6M531.4 572.97h2.6M745.3 572.97h-2.6M531.4 565.08h2.6M745.3 565.08h-2.6M531.4 557.19h2.6M745.3 557.19h-2.6M531.4 549.3h2.6M745.3 549.3h-2.6" stroke="#000" stroke-width="0.9" fill="none"/>
<text x="531.4" y="715.6" font-size="8.59" textLength="5.15" lengthAdjust="spacingAndGlyphs" text-anchor="middle">0</text>
<text x="561.87" y="715.6" font-size="8.59" textLength="10.31" lengthAdjust="spacingAndGlyphs" text-anchor="middle">50</text>
<text x="592.34" y="715.6" font-size="8.59" textLength="15.46" lengthAdjust="spacingAndGlyphs" text-anchor="middle">100</text>
<text x="622.81" y="715.6" font-size="8.59" textLength="15.46" lengthAdjust="spacingAndGlyphs" text-anchor="middle">150</text>
<text x="653.28" y="715.6" font-size="8.59" textLength="15.46" lengthAdjust="spacingAndGlyphs" text-anchor="middle">200</text>
<text x="683.75" y="715.6" font-size="8.59" textLength="15.46" lengthAdjust="spacingAndGlyphs" text-anchor="middle">250</text>
<text x="714.22" y="715.6" font-size="8.59" textLength="15.46" lengthAdjust="spacingAndGlyphs" text-anchor="middle">300</text>
<text x="744.69" y="715.6" font-size="8.59" textLength="15.46" lengthAdjust="spacingAndGlyphs" text-anchor="middle">350</text>
<text x="528.9" y="710.6" font-size="8.59" textLength="19.67" lengthAdjust="spacingAndGlyphs" text-anchor="end">−0.5</text>
<text x="528.9" y="671.15" font-size="8.59" textLength="12.88" lengthAdjust="spacingAndGlyphs" text-anchor="end">0.0</text>
<text x="528.9" y="631.7" font-size="8.59" textLength="12.88" lengthAdjust="spacingAndGlyphs" text-anchor="end">0.5</text>
<text x="528.9" y="592.25" font-size="8.59" textLength="12.88" lengthAdjust="spacingAndGlyphs" text-anchor="end">1.0</text>
<text x="528.9" y="552.8" font-size="8.59" textLength="12.88" lengthAdjust="spacingAndGlyphs" text-anchor="end">1.5</text>
<text x="638.3" y="546.9" font-size="8.6" text-anchor="middle" textLength="181.02" lengthAdjust="spacingAndGlyphs">Comparison with [Si/H] in absorption system</text>
<text x="505.5" y="628.4" font-size="8.6" text-anchor="middle" transform="rotate(-90 505.5 628.4)" textLength="41.54" lengthAdjust="spacingAndGlyphs">Metallicity</text>
<rect x="534.4" y="553.1" width="87" height="53.3" rx="2" fill="#fff" fill-opacity="0.8" stroke="#d0d0d0" stroke-width="0.8"/>
<line x1="537.9" y1="559.7" x2="551.4" y2="559.7" stroke="#888" stroke-width="1.4"/>
<line x1="544.6" y1="556.7" x2="544.6" y2="562.7" stroke="#888" stroke-width="0.9"/>
<path d="M544.6 558.5l-2 2.5h4z" fill="#888"/>
<rect x="537.9" y="566.7" width="13.5" height="5.5" fill="#c4c4c4" stroke="none" stroke-width="1"/>
<rect x="537.9" y="577.1" width="13.5" height="5.5" fill="#ffc4ff" stroke="none" stroke-width="1"/>
<line x1="544.6" y1="586.4" x2="544.6" y2="594.4" stroke="#000" stroke-width="1.2"/>
<line x1="542.6" y1="586.4" x2="546.6" y2="586.4" stroke="#000" stroke-width="1.2"/>
<line x1="542.6" y1="594.4" x2="546.6" y2="594.4" stroke="#000" stroke-width="1.2"/>
<rect x="542.8" y="588.6" width="3.6" height="3.6" fill="#1f77b4" stroke="none" stroke-width="1"/>
<circle cx="544.6" cy="600.6" r="3.6" fill="#e8000b" stroke="#000" stroke-width="0.8"/>
<text x="557.4" y="561.7" font-size="7.53" textLength="49.43" lengthAdjust="spacingAndGlyphs">MaNGa (data)</text>
<text x="557.4" y="572.05" font-size="7.53" textLength="31.58" lengthAdjust="spacingAndGlyphs">Linear fit</text>
<text x="557.4" y="582.4" font-size="7.53" textLength="49.82" lengthAdjust="spacingAndGlyphs">Linear fit (QA)</text>
<text x="557.4" y="592.75" font-size="7.53" textLength="61.28" lengthAdjust="spacingAndGlyphs">QSO abs. (Comp)</text>
<text x="557.4" y="603.1" font-size="7.53" textLength="57.13" lengthAdjust="spacingAndGlyphs">QSO abs. (Total)</text>
<text x="638.3" y="727.6" font-size="8.59" textLength="65.26" lengthAdjust="spacingAndGlyphs" text-anchor="middle">log Radius (kpc)</text>
<clipPath id="cc738"><rect x="531.4" y="738.4" width="213.9" height="157.9"/></clipPath>
<g clip-path="url(#cc738)">
<line x1="615.5" y1="738.4" x2="615.5" y2="896.3" stroke="#777" stroke-width="1" stroke-dasharray="3.5 2"/>
<path d="M531.4 838.55 L571.62 896.3 L556.99 896.3 L531.4 843.07Z" fill="#ffc4ff" stroke-linejoin="round"/>
<path d="M531.4 841.26 L599.65 896.3 L589.9 896.3 L531.4 846.67Z" fill="#888" stroke-linejoin="round" fill-opacity="0.45"/>
<path d="M534.45 845.77 L535.67 847.58 L536.88 846.67 L538.1 851.19 L539.32 848.93 L540.54 850.28" fill="none" stroke="#777" stroke-width="1.4" stroke-linejoin="round"/>
<line x1="534.45" y1="850.28" x2="534.45" y2="841.26" stroke="#888" stroke-width="0.9"/>
<line x1="535.67" y1="852.09" x2="535.67" y2="843.07" stroke="#888" stroke-width="0.9"/>
<line x1="536.88" y1="851.19" x2="536.88" y2="842.16" stroke="#888" stroke-width="0.9"/>
<line x1="538.1" y1="856.6" x2="538.1" y2="845.77" stroke="#888" stroke-width="0.9"/>
<line x1="539.32" y1="853.44" x2="539.32" y2="844.42" stroke="#888" stroke-width="0.9"/>
<line x1="540.54" y1="855.7" x2="540.54" y2="844.87" stroke="#888" stroke-width="0.9"/>
</g>
<line x1="692.28" y1="797.05" x2="692.28" y2="769.98" stroke="#000" stroke-width="1.3"/>
<line x1="689.28" y1="797.05" x2="695.28" y2="797.05" stroke="#000" stroke-width="1.3"/>
<line x1="689.28" y1="769.98" x2="695.28" y2="769.98" stroke="#000" stroke-width="1.3"/>
<circle cx="692.28" cy="783.51" r="3.6" fill="#e8000b" stroke="#000" stroke-width="0.8"/>
<line x1="697.52" y1="819.61" x2="697.52" y2="755.99" stroke="#000" stroke-width="1.3"/>
<line x1="694.52" y1="819.61" x2="700.52" y2="819.61" stroke="#000" stroke-width="1.3"/>
<line x1="694.52" y1="755.99" x2="700.52" y2="755.99" stroke="#000" stroke-width="1.3"/>
<rect x="695.12" y="799.16" width="4.8" height="4.8" fill="#1f77b4" stroke="none" stroke-width="1"/>
<line x1="700.81" y1="796.6" x2="700.81" y2="774.04" stroke="#000" stroke-width="1.3"/>
<line x1="697.81" y1="796.6" x2="703.81" y2="796.6" stroke="#000" stroke-width="1.3"/>
<line x1="697.81" y1="774.04" x2="703.81" y2="774.04" stroke="#000" stroke-width="1.3"/>
<rect x="698.41" y="781.11" width="4.8" height="4.8" fill="#2ca02c" stroke="none" stroke-width="1"/>
<line x1="704.47" y1="815.09" x2="704.47" y2="760.51" stroke="#000" stroke-width="1.3"/>
<line x1="701.47" y1="815.09" x2="707.47" y2="815.09" stroke="#000" stroke-width="1.3"/>
<line x1="701.47" y1="760.51" x2="707.47" y2="760.51" stroke="#000" stroke-width="1.3"/>
<rect x="702.07" y="785.63" width="4.8" height="4.8" fill="#9467bd" stroke="none" stroke-width="1"/>
<rect x="531.4" y="738.4" width="213.9" height="157.9" fill="none" stroke="#222" stroke-width="0.85"/>
<path d="M531.4 896.3v-4M531.4 738.4v4M561.87 896.3v-4M561.87 738.4v4M592.34 896.3v-4M592.34 738.4v4M622.81 896.3v-4M622.81 738.4v4M653.28 896.3v-4M653.28 738.4v4M683.75 896.3v-4M683.75 738.4v4M714.22 896.3v-4M714.22 738.4v4M744.69 896.3v-4M744.69 738.4v4M531.4 896.3v-2.6M531.4 738.4v2.6M537.49 896.3v-2.6M537.49 738.4v2.6M543.59 896.3v-2.6M543.59 738.4v2.6M549.68 896.3v-2.6M549.68 738.4v2.6M555.78 896.3v-2.6M555.78 738.4v2.6M561.87 896.3v-2.6M561.87 738.4v2.6M567.96 896.3v-2.6M567.96 738.4v2.6M574.06 896.3v-2.6M574.06 738.4v2.6M580.15 896.3v-2.6M580.15 738.4v2.6M586.25 896.3v-2.6M586.25 738.4v2.6M592.34 896.3v-2.6M592.34 738.4v2.6M598.43 896.3v-2.6M598.43 738.4v2.6M604.53 896.3v-2.6M604.53 738.4v2.6M610.62 896.3v-2.6M610.62 738.4v2.6M616.72 896.3v-2.6M616.72 738.4v2.6M622.81 896.3v-2.6M622.81 738.4v2.6M628.9 896.3v-2.6M628.9 738.4v2.6M635 896.3v-2.6M635 738.4v2.6M641.09 896.3v-2.6M641.09 738.4v2.6M647.19 896.3v-2.6M647.19 738.4v2.6M653.28 896.3v-2.6M653.28 738.4v2.6M659.37 896.3v-2.6M659.37 738.4v2.6M665.47 896.3v-2.6M665.47 738.4v2.6M671.56 896.3v-2.6M671.56 738.4v2.6M677.66 896.3v-2.6M677.66 738.4v2.6M683.75 896.3v-2.6M683.75 738.4v2.6M689.84 896.3v-2.6M689.84 738.4v2.6M695.94 896.3v-2.6M695.94 738.4v2.6M702.03 896.3v-2.6M702.03 738.4v2.6M708.13 896.3v-2.6M708.13 738.4v2.6M714.22 896.3v-2.6M714.22 738.4v2.6M720.31 896.3v-2.6M720.31 738.4v2.6M726.41 896.3v-2.6M726.41 738.4v2.6M732.5 896.3v-2.6M732.5 738.4v2.6M738.6 896.3v-2.6M738.6 738.4v2.6M744.69 896.3v-2.6M744.69 738.4v2.6M531.4 873.74h4M745.3 873.74h-4M531.4 828.63h4M745.3 828.63h-4M531.4 783.51h4M745.3 783.51h-4M531.4 738.4h4M745.3 738.4h-4M531.4 896.3h2.6M745.3 896.3h-2.6M531.4 885.02h2.6M745.3 885.02h-2.6M531.4 873.74h2.6M745.3 873.74h-2.6M531.4 862.46h2.6M745.3 862.46h-2.6M531.4 851.19h2.6M745.3 851.19h-2.6M531.4 839.91h2.6M745.3 839.91h-2.6M531.4 828.63h2.6M745.3 828.63h-2.6M531.4 817.35h2.6M745.3 817.35h-2.6M531.4 806.07h2.6M745.3 806.07h-2.6M531.4 794.79h2.6M745.3 794.79h-2.6M531.4 783.51h2.6M745.3 783.51h-2.6M531.4 772.24h2.6M745.3 772.24h-2.6M531.4 760.96h2.6M745.3 760.96h-2.6M531.4 749.68h2.6M745.3 749.68h-2.6M531.4 738.4h2.6M745.3 738.4h-2.6" stroke="#000" stroke-width="0.9" fill="none"/>
<text x="531.4" y="904.8" font-size="8.59" textLength="5.15" lengthAdjust="spacingAndGlyphs" text-anchor="middle">0</text>
<text x="561.87" y="904.8" font-size="8.59" textLength="10.31" lengthAdjust="spacingAndGlyphs" text-anchor="middle">50</text>
<text x="592.34" y="904.8" font-size="8.59" textLength="15.46" lengthAdjust="spacingAndGlyphs" text-anchor="middle">100</text>
<text x="622.81" y="904.8" font-size="8.59" textLength="15.46" lengthAdjust="spacingAndGlyphs" text-anchor="middle">150</text>
<text x="653.28" y="904.8" font-size="8.59" textLength="15.46" lengthAdjust="spacingAndGlyphs" text-anchor="middle">200</text>
<text x="683.75" y="904.8" font-size="8.59" textLength="15.46" lengthAdjust="spacingAndGlyphs" text-anchor="middle">250</text>
<text x="714.22" y="904.8" font-size="8.59" textLength="15.46" lengthAdjust="spacingAndGlyphs" text-anchor="middle">300</text>
<text x="744.69" y="904.8" font-size="8.59" textLength="15.46" lengthAdjust="spacingAndGlyphs" text-anchor="middle">350</text>
<text x="528.9" y="877.24" font-size="8.59" textLength="11.94" lengthAdjust="spacingAndGlyphs" text-anchor="end">−4</text>
<text x="528.9" y="832.13" font-size="8.59" textLength="11.94" lengthAdjust="spacingAndGlyphs" text-anchor="end">−3</text>
<text x="528.9" y="787.01" font-size="8.59" textLength="11.94" lengthAdjust="spacingAndGlyphs" text-anchor="end">−2</text>
<text x="528.9" y="741.9" font-size="8.59" textLength="11.94" lengthAdjust="spacingAndGlyphs" text-anchor="end">−1</text>
<text x="638.3" y="735.5" font-size="8.6" text-anchor="middle" textLength="163.63" lengthAdjust="spacingAndGlyphs">Comparison with <tspan font-style="italic">q</tspan> in absorption system</text>
<text x="514.3" y="816.6" font-size="8.6" text-anchor="middle" transform="rotate(-90 514.3 816.6)" textLength="79.21" lengthAdjust="spacingAndGlyphs">Ioniztion Parameter</text>
<rect x="534.4" y="741.3" width="88.8" height="53.3" rx="2" fill="#fff" fill-opacity="0.8" stroke="#d0d0d0" stroke-width="0.8"/>
<line x1="537.9" y1="747.9" x2="551.4" y2="747.9" stroke="#888" stroke-width="1.4"/>
<line x1="544.6" y1="744.9" x2="544.6" y2="750.9" stroke="#888" stroke-width="0.9"/>
<path d="M544.6 746.7l-2 2.5h4z" fill="#888"/>
<rect x="537.9" y="754.9" width="13.5" height="5.5" fill="#c4c4c4" stroke="none" stroke-width="1"/>
<rect x="537.9" y="765.3" width="13.5" height="5.5" fill="#ffc4ff" stroke="none" stroke-width="1"/>
<line x1="544.6" y1="774.6" x2="544.6" y2="782.6" stroke="#000" stroke-width="1.2"/>
<line x1="542.6" y1="774.6" x2="546.6" y2="774.6" stroke="#000" stroke-width="1.2"/>
<line x1="542.6" y1="782.6" x2="546.6" y2="782.6" stroke="#000" stroke-width="1.2"/>
<rect x="542.8" y="776.8" width="3.6" height="3.6" fill="#1f77b4" stroke="none" stroke-width="1"/>
<circle cx="544.6" cy="788.8" r="3.6" fill="#e8000b" stroke="#000" stroke-width="0.8"/>
<text x="557.4" y="749.9" font-size="7.53" textLength="49.43" lengthAdjust="spacingAndGlyphs">MaNGa (data)</text>
<text x="557.4" y="760.25" font-size="7.53" textLength="32.65" lengthAdjust="spacingAndGlyphs">Linear Fit</text>
<text x="557.4" y="770.6" font-size="7.53" textLength="50.89" lengthAdjust="spacingAndGlyphs">Linear Fit (QA)</text>
<text x="557.4" y="780.95" font-size="7.53" textLength="63.53" lengthAdjust="spacingAndGlyphs">QSO abs. (Comp.)</text>
<text x="557.4" y="791.3" font-size="7.53" textLength="57.13" lengthAdjust="spacingAndGlyphs">QSO abs. (Total)</text>
<text x="638.3" y="914" font-size="8.59" textLength="50.34" lengthAdjust="spacingAndGlyphs" text-anchor="middle">Radius (kpc)</text>
</svg></body></html>
